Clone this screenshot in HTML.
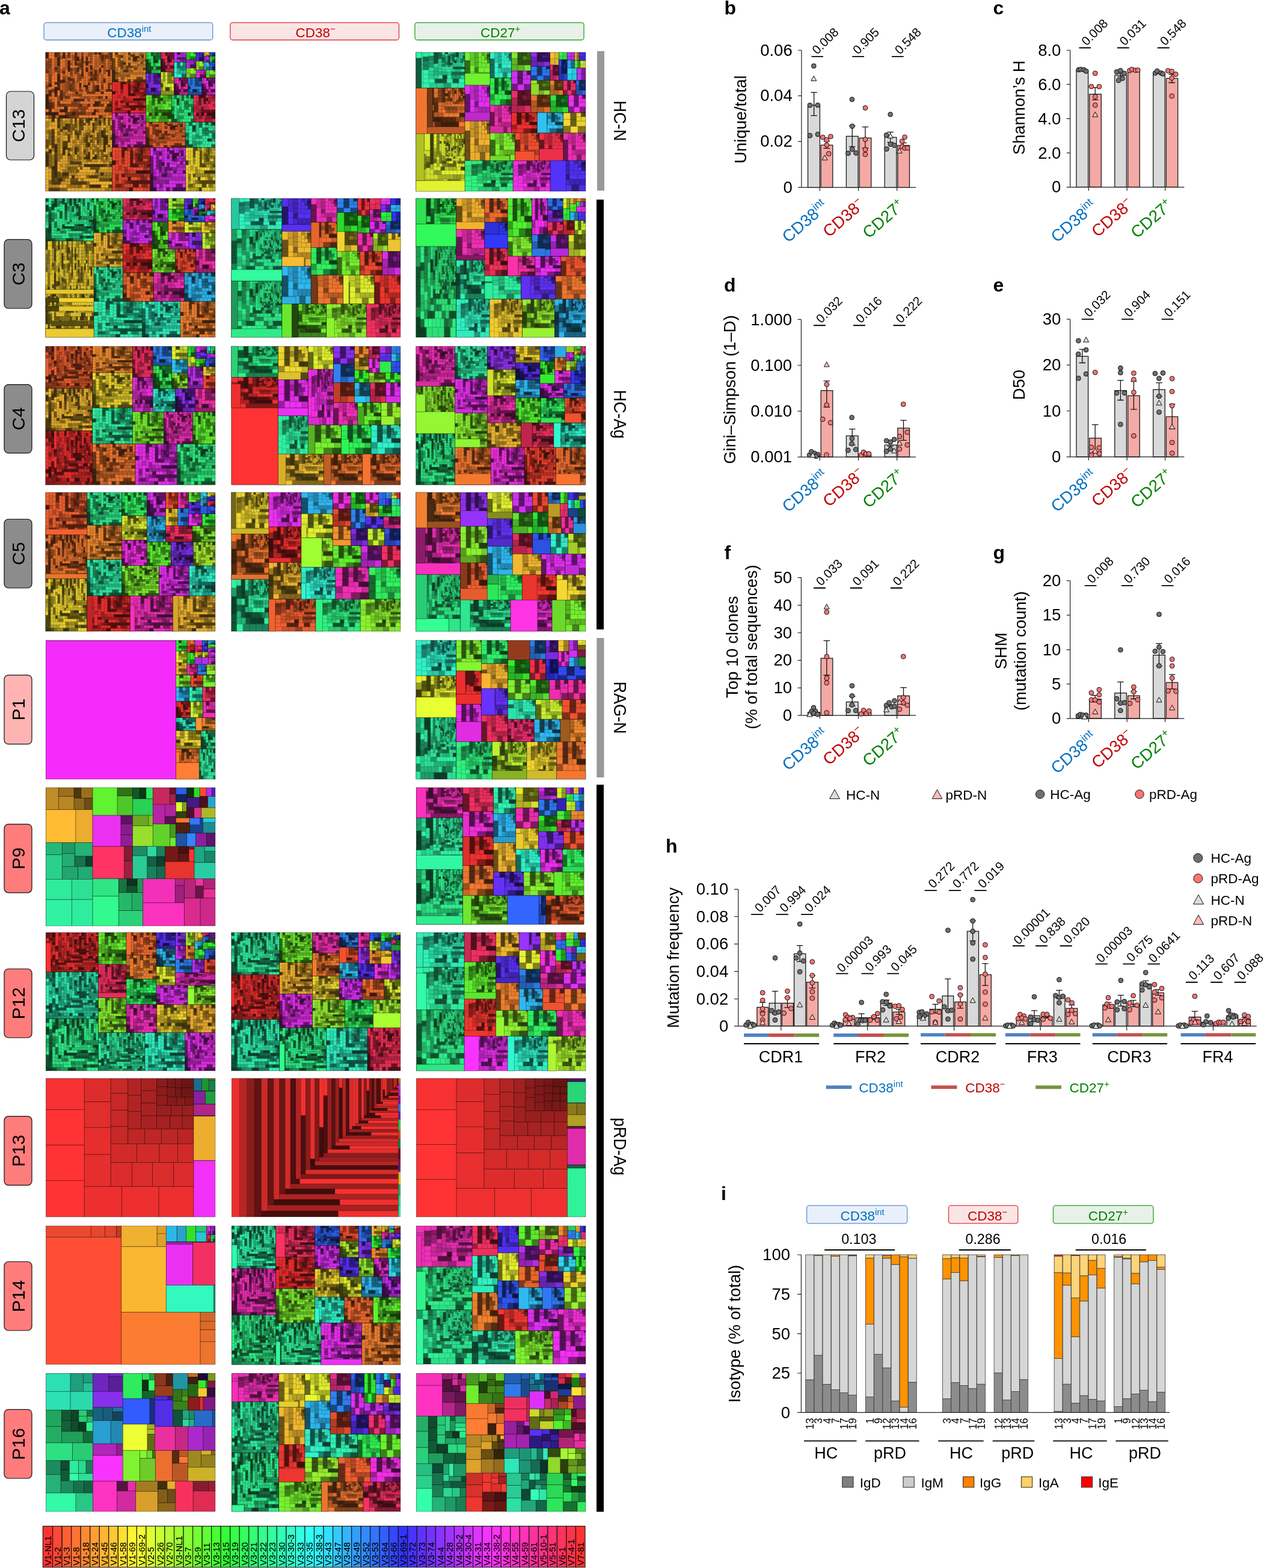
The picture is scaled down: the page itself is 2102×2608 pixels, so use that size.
<!DOCTYPE html>
<html><head><meta charset="utf-8"><title>Figure</title>
<style>
html,body{margin:0;padding:0;background:#fff}
svg{display:block}
text{font-family:'Liberation Sans',sans-serif}
.dg{fill:#6f6f6f;stroke:#111;stroke-width:1}
.dp{fill:#fa7575;stroke:#111;stroke-width:1}
.tg{fill:#dcdcdc;stroke:#111;stroke-width:1}
.tp{fill:#fbb;stroke:#111;stroke-width:1}
.bg{fill:#d9d9d9;stroke:#1a1a1a;stroke-width:1.3}
.bp{fill:#f4a9a4;stroke:#1a1a1a;stroke-width:1.3}
.ax{stroke:#222;stroke-width:1.2;fill:none}
.eb{stroke:#111;stroke-width:1.3;fill:none}
.pb{stroke:#000;stroke-width:1.9;fill:none}
.tk{font-size:27.5px}
.tt{font-size:27.5px}
.pv{font-size:20.8px}
.xl{font-size:27.5px}
.lg{font-size:22.5px}
.lg2{font-size:22.5px}
.gl{font-size:27px}
.ib{stroke:#3a3a3a;stroke-width:0.8}
.il{font-size:18.2px}
.tl{fill:#000;stroke:#000;stroke-opacity:.2}
.tn{fill:none;stroke:#000;stroke-opacity:.2}
.tm2 rect{stroke:#000;stroke-opacity:0.3;stroke-width:0.4}
.tm rect{stroke:#000;stroke-opacity:0.45;stroke-width:0.7}
.rl{font-size:30px}
.sl{font-size:29px}
.vl{font-size:14.6px;stroke:#000;stroke-width:.15px}
.hb{font-size:22.5px}
.ip{font-size:23.3px}
.pl{font-size:32px;font-weight:bold}
</style></head><body>
<svg xmlns="http://www.w3.org/2000/svg" width="2102" height="2608" viewBox="0 0 2102 2608">
<rect x="1343.5" y="174.9" width="19.9" height="136.7" class="bg"/>
<rect x="1365.2" y="241.4" width="19.6" height="70.2" class="bp"/>
<rect x="1407.4" y="226.6" width="19.6" height="85.1" class="bg"/>
<rect x="1429.1" y="229.5" width="19.6" height="82.1" class="bp"/>
<rect x="1471.2" y="228.4" width="19.6" height="83.2" class="bg"/>
<rect x="1492.9" y="241.9" width="19.6" height="69.7" class="bp"/>
<path d="M1332.9 83.5V311.6M1327.1 83.5H1332.9M1327.1 159.3H1332.9M1327.1 235.3H1332.9M1327.1 311.6H1332.9M1327.1 311.6H1523.1M1363.4 311.6V317.4M1427.5 311.6V317.4M1491.6 311.6V317.4" class="ax"/>
<path d="M1353.6 153.7V192.4M1348.3 153.7H1358.9M1348.3 192.4H1358.9M1374.8 234.8V246.7M1369.5 234.8H1380.1M1369.5 246.7H1380.1M1417.2 209.3V243.8M1411.9 209.3H1422.5M1411.9 243.8H1422.5M1438.9 211.2V246.4M1433.6 211.2H1444.2M1433.6 246.4H1444.2M1480.7 219.7V236.6M1475.4 219.7H1486M1475.4 236.6H1486M1502.5 237.7V245.6M1497.2 237.7H1507.8M1497.2 245.6H1507.8" class="eb"/>
<circle cx="1353.3" cy="109.7" r="3.9" class="dg"/>
<circle cx="1346.9" cy="175.1" r="3.9" class="dg"/>
<circle cx="1359.9" cy="174.9" r="3.9" class="dg"/>
<circle cx="1346.9" cy="225.5" r="3.9" class="dg"/>
<circle cx="1359.9" cy="223.4" r="3.9" class="dg"/>
<path d="M1353.3 126.1L1357.8 134.4H1348.8Z" class="tg"/>
<circle cx="1368.4" cy="228.4" r="3.9" class="dp"/>
<circle cx="1381.4" cy="227.1" r="3.9" class="dp"/>
<circle cx="1374.8" cy="232.6" r="3.9" class="dp"/>
<circle cx="1374.8" cy="241.1" r="3.9" class="dp"/>
<circle cx="1378.2" cy="255.7" r="3.9" class="dp"/>
<path d="M1371.6 257.8L1376.1 266.1H1367.1Z" class="tp"/>
<circle cx="1416.9" cy="165.3" r="3.9" class="dg"/>
<circle cx="1417.2" cy="209.9" r="3.9" class="dg"/>
<circle cx="1417.2" cy="248.3" r="3.9" class="dg"/>
<circle cx="1410.5" cy="254.9" r="3.9" class="dg"/>
<circle cx="1423.5" cy="254.4" r="3.9" class="dg"/>
<circle cx="1438.9" cy="179.4" r="3.9" class="dp"/>
<circle cx="1438.9" cy="231.9" r="3.9" class="dp"/>
<circle cx="1438.9" cy="248.8" r="3.9" class="dp"/>
<circle cx="1438.9" cy="256.8" r="3.9" class="dp"/>
<circle cx="1480.7" cy="190.3" r="3.9" class="dg"/>
<circle cx="1474.1" cy="224.7" r="3.9" class="dg"/>
<circle cx="1480.7" cy="239.8" r="3.9" class="dg"/>
<circle cx="1487.4" cy="241.7" r="3.9" class="dg"/>
<circle cx="1474.4" cy="247.8" r="3.9" class="dg"/>
<path d="M1480.7 221.5L1485.2 229.8H1476.3Z" class="tg"/>
<circle cx="1504.6" cy="228.1" r="3.9" class="dp"/>
<circle cx="1500.1" cy="235" r="3.9" class="dp"/>
<circle cx="1500.1" cy="243.8" r="3.9" class="dp"/>
<circle cx="1504.6" cy="246.4" r="3.9" class="dp"/>
<circle cx="1509.1" cy="246.2" r="3.9" class="dp"/>
<path d="M1495.9 246.4L1500.3 254.7H1491.4Z" class="tp"/>
<text class="tk" x="1317.7" y="92.6" text-anchor="end">0.06</text>
<text class="tk" x="1317.7" y="168.4" text-anchor="end">0.04</text>
<text class="tk" x="1317.7" y="244.4" text-anchor="end">0.02</text>
<text class="tk" x="1317.7" y="320.7" text-anchor="end">0</text>
<path d="M1349.6 94.1H1368.9M1417.2 94.1H1437M1482.9 94.1H1502.7" class="pb"/>
<text class="pv" transform="translate(1359.1 91.6) rotate(-45)">0.008</text>
<text class="pv" transform="translate(1426.7 91.6) rotate(-45)">0.905</text>
<text class="pv" transform="translate(1496.4 91.6) rotate(-45)">0.548</text>
<text class="xl" transform="translate(1378.2 346.1) rotate(-41)" text-anchor="end" fill="#0070c0">CD38<tspan dy="-0.58em" font-size="66%">int</tspan></text>
<text class="xl" transform="translate(1439.5 342.6) rotate(-41)" text-anchor="end" fill="#c00000">CD38<tspan dy="-0.58em" font-size="66%">−</tspan></text>
<text class="xl" transform="translate(1505.6 344.6) rotate(-41)" text-anchor="end" fill="#008000">CD27<tspan dy="-0.58em" font-size="66%">+</tspan></text>
<text class="tt" transform="translate(1240.9 198.7) rotate(-90)" text-anchor="middle">Unique/total</text>
<text class="pl" x="1204.6" y="23.8">b</text>
<rect x="1790" y="116.6" width="19.6" height="194.8" class="bg"/>
<rect x="1811.7" y="156.6" width="19.6" height="154.7" class="bp"/>
<rect x="1853.8" y="125.1" width="19.6" height="186.3" class="bg"/>
<rect x="1875.6" y="116.6" width="19.6" height="194.8" class="bp"/>
<rect x="1917.7" y="122.4" width="19.6" height="188.9" class="bg"/>
<rect x="1939.4" y="130.4" width="19.3" height="181" class="bp"/>
<path d="M1779.6 83.5V311.3M1773.8 83.5H1779.6M1773.8 140.4H1779.6M1773.8 197.4H1779.6M1773.8 254.4H1779.6M1773.8 311.3H1779.6M1773.8 311.3H1969.4M1810.4 311.3V317.2M1874.2 311.3V317.2M1937.6 311.3V317.2" class="ax"/>
<path d="M1821.2 145.7V166.1M1815.9 145.7H1826.5M1815.9 166.1H1826.5M1863.4 122.4V127.7M1858.1 122.4H1868.7M1858.1 127.7H1868.7M1948.7 123.5V137.5M1943.4 123.5H1954M1943.4 137.5H1954" class="eb"/>
<circle cx="1793.7" cy="116.1" r="3.9" class="dg"/>
<circle cx="1796.9" cy="115.5" r="3.9" class="dg"/>
<circle cx="1802.4" cy="116.1" r="3.9" class="dg"/>
<circle cx="1806.1" cy="118.4" r="3.9" class="dg"/>
<circle cx="1821.2" cy="121.9" r="3.9" class="dp"/>
<circle cx="1814.9" cy="143.9" r="3.9" class="dp"/>
<circle cx="1827.9" cy="144.1" r="3.9" class="dp"/>
<circle cx="1821.2" cy="160.8" r="3.9" class="dp"/>
<circle cx="1821.2" cy="174.9" r="3.9" class="dp"/>
<path d="M1821.2 186L1825.7 194.3H1816.8Z" class="tp"/>
<circle cx="1857" cy="119.5" r="3.9" class="dg"/>
<circle cx="1863.4" cy="117.4" r="3.9" class="dg"/>
<circle cx="1869.7" cy="121.9" r="3.9" class="dg"/>
<circle cx="1866.6" cy="130.4" r="3.9" class="dg"/>
<circle cx="1860.2" cy="133.8" r="3.9" class="dg"/>
<circle cx="1878.5" cy="117.4" r="3.9" class="dp"/>
<circle cx="1882.5" cy="115.5" r="3.9" class="dp"/>
<circle cx="1888.3" cy="116.9" r="3.9" class="dp"/>
<circle cx="1892.3" cy="116.6" r="3.9" class="dp"/>
<circle cx="1921.1" cy="121.6" r="3.9" class="dg"/>
<circle cx="1924.3" cy="118.2" r="3.9" class="dg"/>
<circle cx="1930.7" cy="121.4" r="3.9" class="dg"/>
<circle cx="1933.9" cy="122.9" r="3.9" class="dg"/>
<circle cx="1942.3" cy="117.6" r="3.9" class="dp"/>
<circle cx="1948.7" cy="118.7" r="3.9" class="dp"/>
<circle cx="1955.3" cy="123.5" r="3.9" class="dp"/>
<circle cx="1948.7" cy="129.8" r="3.9" class="dp"/>
<circle cx="1948.7" cy="159.8" r="3.9" class="dp"/>
<text class="tk" x="1764.4" y="92.6" text-anchor="end">8.0</text>
<text class="tk" x="1764.4" y="149.5" text-anchor="end">6.0</text>
<text class="tk" x="1764.4" y="206.5" text-anchor="end">4.0</text>
<text class="tk" x="1764.4" y="263.5" text-anchor="end">2.0</text>
<text class="tk" x="1764.4" y="320.4" text-anchor="end">0</text>
<path d="M1794.5 79.5H1814.1M1857.8 79.5H1877.7M1924.9 79.5H1944.7" class="pb"/>
<text class="pv" transform="translate(1807 77) rotate(-45)">0.008</text>
<text class="pv" transform="translate(1870.3 77) rotate(-45)">0.031</text>
<text class="pv" transform="translate(1937.4 77) rotate(-45)">0.548</text>
<text class="xl" transform="translate(1825.2 345.8) rotate(-41)" text-anchor="end" fill="#0070c0">CD38<tspan dy="-0.58em" font-size="66%">int</tspan></text>
<text class="xl" transform="translate(1886.2 342.3) rotate(-41)" text-anchor="end" fill="#c00000">CD38<tspan dy="-0.58em" font-size="66%">−</tspan></text>
<text class="xl" transform="translate(1951.6 344.3) rotate(-41)" text-anchor="end" fill="#008000">CD27<tspan dy="-0.58em" font-size="66%">+</tspan></text>
<text class="tt" transform="translate(1703.6 178.9) rotate(-90)" text-anchor="middle">Shannon’s H</text>
<text class="pl" x="1651.4" y="23.8">c</text>
<rect x="1343.5" y="758" width="19.9" height="2.1" class="bg"/>
<rect x="1365.2" y="649.6" width="19.6" height="110.5" class="bp"/>
<rect x="1407.4" y="724.9" width="19.6" height="35.2" class="bg"/>
<rect x="1429.1" y="757.2" width="19.6" height="2.9" class="bp"/>
<rect x="1471.2" y="740.2" width="19.6" height="19.9" class="bg"/>
<rect x="1492.9" y="712.1" width="19.6" height="48" class="bp"/>
<path d="M1332.4 531.4V760.1M1326.5 531.4H1332.4M1326.5 607.5H1332.4M1326.5 683.8H1332.4M1326.5 760.1H1332.4M1326.5 760.1H1523.1M1363.4 760.1V765.9M1427.5 760.1V765.9M1491.6 760.1V765.9" class="ax"/>
<path d="M1374.8 633.7V677.2M1369.5 633.7H1380.1M1369.5 677.2H1380.1M1417.2 713.7V740.2M1411.9 713.7H1422.5M1411.9 740.2H1422.5M1480.7 742.1V747.4M1475.4 742.1H1486M1475.4 747.4H1486M1502.5 699.1V732.3M1497.2 699.1H1507.8M1497.2 732.3H1507.8" class="eb"/>
<circle cx="1346.1" cy="756.9" r="3.9" class="dg"/>
<circle cx="1349.3" cy="751.3" r="3.9" class="dg"/>
<circle cx="1354.6" cy="754" r="3.9" class="dg"/>
<circle cx="1359.9" cy="755.9" r="3.9" class="dg"/>
<circle cx="1357" cy="758.8" r="3.9" class="dg"/>
<path d="M1351.7 752.4L1356.2 760.7H1347.2Z" class="tg"/>
<path d="M1374.8 601.7L1379.2 610H1370.3Z" class="tp"/>
<circle cx="1374.8" cy="639.3" r="3.9" class="dp"/>
<circle cx="1374.8" cy="673.4" r="3.9" class="dp"/>
<circle cx="1368.1" cy="697.3" r="3.9" class="dp"/>
<circle cx="1381.1" cy="703.1" r="3.9" class="dp"/>
<circle cx="1374.5" cy="756.6" r="3.9" class="dp"/>
<circle cx="1416.6" cy="694.4" r="3.9" class="dg"/>
<circle cx="1416.9" cy="729.4" r="3.9" class="dg"/>
<circle cx="1416.6" cy="738.1" r="3.9" class="dg"/>
<circle cx="1410.3" cy="749" r="3.9" class="dg"/>
<circle cx="1423.2" cy="747.6" r="3.9" class="dg"/>
<circle cx="1432" cy="756.9" r="3.9" class="dp"/>
<circle cx="1436" cy="752.1" r="3.9" class="dp"/>
<circle cx="1440.2" cy="754.8" r="3.9" class="dp"/>
<circle cx="1445" cy="754.8" r="3.9" class="dp"/>
<circle cx="1474.1" cy="733.1" r="3.9" class="dg"/>
<circle cx="1480.7" cy="735.2" r="3.9" class="dg"/>
<circle cx="1487.1" cy="730.9" r="3.9" class="dg"/>
<circle cx="1480.7" cy="747.1" r="3.9" class="dg"/>
<circle cx="1474.1" cy="750.6" r="3.9" class="dg"/>
<path d="M1487.1 745L1491.6 753.3H1482.6Z" class="tg"/>
<circle cx="1502.2" cy="672.4" r="3.9" class="dp"/>
<circle cx="1508.8" cy="719" r="3.9" class="dp"/>
<circle cx="1495.9" cy="725.9" r="3.9" class="dp"/>
<circle cx="1508.8" cy="740" r="3.9" class="dp"/>
<circle cx="1495.9" cy="746.8" r="3.9" class="dp"/>
<path d="M1495.9 732.3L1500.3 740.6H1491.4Z" class="tp"/>
<text class="tk" x="1317.1" y="540.5" text-anchor="end">1.000</text>
<text class="tk" x="1317.1" y="616.6" text-anchor="end">0.100</text>
<text class="tk" x="1317.1" y="692.9" text-anchor="end">0.010</text>
<text class="tk" x="1317.1" y="769.2" text-anchor="end">0.001</text>
<path d="M1353 541.2H1372.9M1419 541.2H1438.9M1485.5 541.2H1505.7" class="pb"/>
<text class="pv" transform="translate(1365.5 538.7) rotate(-45)">0.032</text>
<text class="pv" transform="translate(1431.5 538.7) rotate(-45)">0.016</text>
<text class="pv" transform="translate(1498 538.7) rotate(-45)">0.222</text>
<text class="xl" transform="translate(1378.2 794.6) rotate(-41)" text-anchor="end" fill="#0070c0">CD38<tspan dy="-0.58em" font-size="66%">int</tspan></text>
<text class="xl" transform="translate(1439.5 791.1) rotate(-41)" text-anchor="end" fill="#c00000">CD38<tspan dy="-0.58em" font-size="66%">−</tspan></text>
<text class="xl" transform="translate(1505.6 793.1) rotate(-41)" text-anchor="end" fill="#008000">CD27<tspan dy="-0.58em" font-size="66%">+</tspan></text>
<text class="tt" transform="translate(1223.2 648) rotate(-90)" text-anchor="middle">Gini–Simpson (1–D)</text>
<text class="pl" x="1204.1" y="485">d</text>
<rect x="1790" y="592.6" width="19.6" height="167.2" class="bg"/>
<rect x="1811.7" y="728.8" width="19.6" height="31" class="bp"/>
<rect x="1853.8" y="649.6" width="19.6" height="110.2" class="bg"/>
<rect x="1875.6" y="658.1" width="19.6" height="101.8" class="bp"/>
<rect x="1917.7" y="648" width="19.6" height="111.8" class="bg"/>
<rect x="1939.4" y="693.1" width="19.3" height="66.8" class="bp"/>
<path d="M1779.6 530.9V759.8M1773.8 530.9H1779.6M1773.8 607.2H1779.6M1773.8 683.5H1779.6M1773.8 759.8H1779.6M1773.8 759.8H1969.4M1810.4 759.8V765.7M1874.2 759.8V765.7M1937.6 759.8V765.7" class="ax"/>
<path d="M1799.8 581.2V603.5M1794.5 581.2H1805.1M1794.5 603.5H1805.1M1821.2 706.3V751.3M1815.9 706.3H1826.5M1815.9 751.3H1826.5M1863.4 632.6V665.5M1858.1 632.6H1868.7M1858.1 665.5H1868.7M1885.4 634.2V680.9M1880.1 634.2H1890.7M1880.1 680.9H1890.7M1927.5 636.6V659.4M1922.2 636.6H1932.8M1922.2 659.4H1932.8M1949.2 672.4V712.9M1943.9 672.4H1954.5M1943.9 712.9H1954.5" class="eb"/>
<circle cx="1793.4" cy="566.7" r="3.9" class="dg"/>
<path d="M1806.1 560.6L1810.6 568.9H1801.7Z" class="tg"/>
<circle cx="1806.1" cy="582" r="3.9" class="dg"/>
<circle cx="1793.2" cy="588.9" r="3.9" class="dg"/>
<circle cx="1806.1" cy="622" r="3.9" class="dg"/>
<circle cx="1793.4" cy="629.2" r="3.9" class="dg"/>
<circle cx="1821.2" cy="619.4" r="3.9" class="dp"/>
<circle cx="1814.9" cy="743.9" r="3.9" class="dp"/>
<circle cx="1827.9" cy="744.7" r="3.9" class="dp"/>
<circle cx="1827.9" cy="754.5" r="3.9" class="dp"/>
<circle cx="1814.9" cy="756.9" r="3.9" class="dp"/>
<path d="M1821.2 745.5L1825.7 753.8H1816.8Z" class="tp"/>
<circle cx="1863.4" cy="612.2" r="3.9" class="dg"/>
<circle cx="1863.4" cy="619.9" r="3.9" class="dg"/>
<circle cx="1857" cy="653.6" r="3.9" class="dg"/>
<circle cx="1870" cy="653.6" r="3.9" class="dg"/>
<circle cx="1863.4" cy="705.8" r="3.9" class="dg"/>
<circle cx="1885.4" cy="620.7" r="3.9" class="dp"/>
<circle cx="1885.4" cy="631.3" r="3.9" class="dp"/>
<circle cx="1885.4" cy="652.5" r="3.9" class="dp"/>
<circle cx="1885.4" cy="724.9" r="3.9" class="dp"/>
<circle cx="1920.9" cy="621.2" r="3.9" class="dg"/>
<circle cx="1933.9" cy="620.4" r="3.9" class="dg"/>
<circle cx="1927.5" cy="629.5" r="3.9" class="dg"/>
<circle cx="1927.5" cy="659.1" r="3.9" class="dg"/>
<circle cx="1927.5" cy="685.6" r="3.9" class="dg"/>
<path d="M1927.5 665.5L1932 673.8H1923Z" class="tg"/>
<circle cx="1949.2" cy="629.7" r="3.9" class="dp"/>
<circle cx="1949.2" cy="651.2" r="3.9" class="dp"/>
<circle cx="1949.2" cy="674.8" r="3.9" class="dp"/>
<path d="M1949.2 705.3L1953.7 713.6H1944.7Z" class="tp"/>
<circle cx="1949.2" cy="736" r="3.9" class="dp"/>
<circle cx="1949.2" cy="753.7" r="3.9" class="dp"/>
<text class="tk" x="1764.4" y="540" text-anchor="end">30</text>
<text class="tk" x="1764.4" y="616.3" text-anchor="end">20</text>
<text class="tk" x="1764.4" y="692.6" text-anchor="end">10</text>
<text class="tk" x="1764.4" y="768.9" text-anchor="end">0</text>
<path d="M1798.7 530.9H1818.9M1865.2 530.9H1885.1M1931.7 530.9H1951.6" class="pb"/>
<text class="pv" transform="translate(1811.2 528.4) rotate(-45)">0.032</text>
<text class="pv" transform="translate(1877.7 528.4) rotate(-45)">0.904</text>
<text class="pv" transform="translate(1944.2 528.4) rotate(-45)">0.151</text>
<text class="xl" transform="translate(1825.2 794.3) rotate(-41)" text-anchor="end" fill="#0070c0">CD38<tspan dy="-0.58em" font-size="66%">int</tspan></text>
<text class="xl" transform="translate(1886.2 790.8) rotate(-41)" text-anchor="end" fill="#c00000">CD38<tspan dy="-0.58em" font-size="66%">−</tspan></text>
<text class="xl" transform="translate(1951.6 792.8) rotate(-41)" text-anchor="end" fill="#008000">CD27<tspan dy="-0.58em" font-size="66%">+</tspan></text>
<text class="tt" transform="translate(1703.6 640.1) rotate(-90)" text-anchor="middle">D50</text>
<text class="pl" x="1651.4" y="485">e</text>
<rect x="1343.5" y="1184.7" width="19.9" height="5" class="bg"/>
<rect x="1365.2" y="1094.9" width="19.6" height="94.9" class="bp"/>
<rect x="1407.4" y="1167.5" width="19.6" height="22.3" class="bg"/>
<rect x="1429.1" y="1184.7" width="19.6" height="5" class="bp"/>
<rect x="1471.2" y="1173.6" width="19.6" height="16.2" class="bg"/>
<rect x="1492.9" y="1157.4" width="19.6" height="32.3" class="bp"/>
<path d="M1332.4 960.6V1189.8M1326.5 960.6H1332.4M1326.5 1006.7H1332.4M1326.5 1052.5H1332.4M1326.5 1098.3H1332.4M1326.5 1144.2H1332.4M1326.5 1189.8H1332.4M1326.5 1189.8H1523.1M1363.4 1189.8V1195.6M1427.5 1189.8V1195.6M1491.6 1189.8V1195.6" class="ax"/>
<path d="M1374.8 1065.7V1123M1369.5 1065.7H1380.1M1369.5 1123H1380.1M1417.2 1158.2V1174.1M1411.9 1158.2H1422.5M1411.9 1174.1H1422.5M1502.5 1143.7V1171.5M1497.2 1143.7H1507.8M1497.2 1171.5H1507.8" class="eb"/>
<circle cx="1353" cy="1177" r="3.9" class="dg"/>
<circle cx="1349.6" cy="1183.1" r="3.9" class="dg"/>
<circle cx="1356.2" cy="1183.1" r="3.9" class="dg"/>
<circle cx="1353" cy="1186.3" r="3.9" class="dg"/>
<circle cx="1359.7" cy="1188.2" r="3.9" class="dg"/>
<path d="M1346.4 1183.7L1350.9 1192H1341.9Z" class="tg"/>
<path d="M1374.8 1004.6L1379.2 1012.9H1370.3Z" class="tp"/>
<circle cx="1374.8" cy="1018.1" r="3.9" class="dp"/>
<circle cx="1374.8" cy="1092" r="3.9" class="dp"/>
<circle cx="1374.8" cy="1128" r="3.9" class="dp"/>
<circle cx="1374.8" cy="1135.7" r="3.9" class="dp"/>
<circle cx="1374.8" cy="1185.5" r="3.9" class="dp"/>
<circle cx="1416.9" cy="1140.7" r="3.9" class="dg"/>
<circle cx="1416.9" cy="1157.4" r="3.9" class="dg"/>
<circle cx="1416.9" cy="1172.5" r="3.9" class="dg"/>
<circle cx="1410.5" cy="1182.1" r="3.9" class="dg"/>
<circle cx="1423.2" cy="1181.8" r="3.9" class="dg"/>
<circle cx="1432" cy="1187.4" r="3.9" class="dp"/>
<circle cx="1436.2" cy="1181.5" r="3.9" class="dp"/>
<circle cx="1440.7" cy="1186.6" r="3.9" class="dp"/>
<circle cx="1445.2" cy="1182.6" r="3.9" class="dp"/>
<circle cx="1474.1" cy="1173.1" r="3.9" class="dg"/>
<circle cx="1478.6" cy="1168.8" r="3.9" class="dg"/>
<circle cx="1487.4" cy="1165.6" r="3.9" class="dg"/>
<circle cx="1482.9" cy="1175.7" r="3.9" class="dg"/>
<circle cx="1487.4" cy="1174.7" r="3.9" class="dg"/>
<path d="M1474.1 1175.7L1478.6 1184H1469.6Z" class="tg"/>
<circle cx="1502.2" cy="1092" r="3.9" class="dp"/>
<circle cx="1502.2" cy="1160.1" r="3.9" class="dp"/>
<circle cx="1502.2" cy="1169.1" r="3.9" class="dp"/>
<circle cx="1508.8" cy="1172.8" r="3.9" class="dp"/>
<circle cx="1495.9" cy="1179.7" r="3.9" class="dp"/>
<path d="M1495.9 1163L1500.3 1171.3H1491.4Z" class="tp"/>
<text class="tk" x="1317.1" y="969.7" text-anchor="end">50</text>
<text class="tk" x="1317.1" y="1015.8" text-anchor="end">40</text>
<text class="tk" x="1317.1" y="1061.6" text-anchor="end">30</text>
<text class="tk" x="1317.1" y="1107.4" text-anchor="end">20</text>
<text class="tk" x="1317.1" y="1153.3" text-anchor="end">10</text>
<text class="tk" x="1317.1" y="1198.9" text-anchor="end">0</text>
<path d="M1353 978H1372.9M1413.7 978H1433.8M1480.7 978H1500.6" class="pb"/>
<text class="pv" transform="translate(1365.5 975.5) rotate(-45)">0.033</text>
<text class="pv" transform="translate(1426.2 975.5) rotate(-45)">0.091</text>
<text class="pv" transform="translate(1493.2 975.5) rotate(-45)">0.222</text>
<text class="xl" transform="translate(1378.2 1224.3) rotate(-41)" text-anchor="end" fill="#0070c0">CD38<tspan dy="-0.58em" font-size="66%">int</tspan></text>
<text class="xl" transform="translate(1439.5 1220.8) rotate(-41)" text-anchor="end" fill="#c00000">CD38<tspan dy="-0.58em" font-size="66%">−</tspan></text>
<text class="xl" transform="translate(1505.6 1222.8) rotate(-41)" text-anchor="end" fill="#008000">CD27<tspan dy="-0.58em" font-size="66%">+</tspan></text>
<text class="tt" transform="translate(1227.2 1076.1) rotate(-90)" text-anchor="middle">Top 10 clones</text>
<text class="tt" transform="translate(1259 1076.1) rotate(-90)" text-anchor="middle">(% of total sequences)</text>
<text class="pl" x="1204.6" y="929.8">f</text>
<rect x="1790" y="1192.7" width="19.6" height="2.4" class="bg"/>
<rect x="1811.7" y="1162.7" width="19.6" height="32.3" class="bp"/>
<rect x="1853.8" y="1152.7" width="19.6" height="42.4" class="bg"/>
<rect x="1875.6" y="1157.2" width="19.6" height="37.9" class="bp"/>
<rect x="1917.7" y="1089.6" width="19.6" height="105.5" class="bg"/>
<rect x="1939.4" y="1135.2" width="19.3" height="59.9" class="bp"/>
<path d="M1779.6 965.9V1195.1M1773.8 965.9H1779.6M1773.8 1023.1H1779.6M1773.8 1080.6H1779.6M1773.8 1137.6H1779.6M1773.8 1195.1H1779.6M1773.8 1195.1H1969.4M1810.4 1195.1V1200.9M1874.2 1195.1V1200.9M1937.6 1195.1V1200.9" class="ax"/>
<path d="M1821.2 1156.6V1167.5M1815.9 1156.6H1826.5M1815.9 1167.5H1826.5M1863.4 1134.4V1170.1M1858.1 1134.4H1868.7M1858.1 1170.1H1868.7M1885.4 1150.3V1162.5M1880.1 1150.3H1890.7M1880.1 1162.5H1890.7M1927.5 1070.3V1107.9M1922.2 1070.3H1932.8M1922.2 1107.9H1932.8M1949.2 1121.9V1145.8M1943.9 1121.9H1954.5M1943.9 1145.8H1954.5" class="eb"/>
<circle cx="1792.9" cy="1190.6" r="3.9" class="dg"/>
<circle cx="1796.3" cy="1188.4" r="3.9" class="dg"/>
<circle cx="1800.6" cy="1189.5" r="3.9" class="dg"/>
<circle cx="1806.1" cy="1189.5" r="3.9" class="dg"/>
<path d="M1803.5 1187.7L1808 1196H1799Z" class="tg"/>
<circle cx="1814.9" cy="1152.4" r="3.9" class="dp"/>
<circle cx="1827.9" cy="1147.1" r="3.9" class="dp"/>
<circle cx="1827.9" cy="1155.8" r="3.9" class="dp"/>
<circle cx="1814.9" cy="1164.1" r="3.9" class="dp"/>
<circle cx="1821.2" cy="1164.1" r="3.9" class="dp"/>
<circle cx="1827.9" cy="1167.5" r="3.9" class="dp"/>
<path d="M1821.2 1179.2L1825.7 1187.5H1816.8Z" class="tp"/>
<circle cx="1863.4" cy="1080.9" r="3.9" class="dg"/>
<circle cx="1857" cy="1162.2" r="3.9" class="dg"/>
<circle cx="1863.4" cy="1169.4" r="3.9" class="dg"/>
<circle cx="1870" cy="1168.6" r="3.9" class="dg"/>
<circle cx="1863.4" cy="1181.8" r="3.9" class="dg"/>
<circle cx="1885.4" cy="1142.6" r="3.9" class="dp"/>
<circle cx="1885.4" cy="1150.5" r="3.9" class="dp"/>
<circle cx="1892" cy="1163.8" r="3.9" class="dp"/>
<circle cx="1879" cy="1169.9" r="3.9" class="dp"/>
<circle cx="1927.5" cy="1021.8" r="3.9" class="dg"/>
<circle cx="1927.5" cy="1076.3" r="3.9" class="dg"/>
<circle cx="1920.9" cy="1083.2" r="3.9" class="dg"/>
<circle cx="1933.9" cy="1083.8" r="3.9" class="dg"/>
<circle cx="1927.5" cy="1107.4" r="3.9" class="dg"/>
<path d="M1927.5 1159.6L1932 1167.9H1923Z" class="tg"/>
<circle cx="1949.2" cy="1096.5" r="3.9" class="dp"/>
<circle cx="1949.2" cy="1107.6" r="3.9" class="dp"/>
<circle cx="1949.2" cy="1127.8" r="3.9" class="dp"/>
<circle cx="1942.6" cy="1149.2" r="3.9" class="dp"/>
<circle cx="1955.6" cy="1149.7" r="3.9" class="dp"/>
<path d="M1949.2 1172.6L1953.7 1180.9H1944.7Z" class="tp"/>
<text class="tk" x="1764.4" y="975" text-anchor="end">20</text>
<text class="tk" x="1764.4" y="1032.2" text-anchor="end">15</text>
<text class="tk" x="1764.4" y="1089.7" text-anchor="end">10</text>
<text class="tk" x="1764.4" y="1146.7" text-anchor="end">5</text>
<text class="tk" x="1764.4" y="1204.2" text-anchor="end">0</text>
<path d="M1803.8 974.1H1823.4M1864.7 974.1H1884.3M1931.7 974.1H1951.6" class="pb"/>
<text class="pv" transform="translate(1816.3 971.6) rotate(-45)">0.008</text>
<text class="pv" transform="translate(1877.2 971.6) rotate(-45)">0.730</text>
<text class="pv" transform="translate(1944.2 971.6) rotate(-45)">0.016</text>
<text class="xl" transform="translate(1825.2 1229.6) rotate(-41)" text-anchor="end" fill="#0070c0">CD38<tspan dy="-0.58em" font-size="66%">int</tspan></text>
<text class="xl" transform="translate(1886.2 1226.1) rotate(-41)" text-anchor="end" fill="#c00000">CD38<tspan dy="-0.58em" font-size="66%">−</tspan></text>
<text class="xl" transform="translate(1951.6 1228.1) rotate(-41)" text-anchor="end" fill="#008000">CD27<tspan dy="-0.58em" font-size="66%">+</tspan></text>
<text class="tt" transform="translate(1673.9 1082.7) rotate(-90)" text-anchor="middle">SHM</text>
<text class="tt" transform="translate(1705.7 1082.7) rotate(-90)" text-anchor="middle">(mutation count)</text>
<text class="pl" x="1651.4" y="930.3">g</text>
<path d="M1388 1313.2L1396.3 1328.5H1379.7Z" class="tg"/>
<text class="lg" x="1407" y="1329.5">HC-N</text>
<path d="M1558.5 1313.2L1566.8 1328.5H1550.2Z" class="tp"/>
<text class="lg" x="1572.4" y="1329.5">pRD-N</text>
<circle cx="1729.6" cy="1321" r="7.2" class="dg"/>
<text class="lg" x="1746.3" y="1329">HC-Ag</text>
<circle cx="1895" cy="1321" r="7.2" class="dp"/>
<text class="lg" x="1911" y="1329">pRD-Ag</text>
<path d="M1227.7 1479.1V1706.6M1221 1479.1H1227.7M1221 1524.5H1227.7M1221 1570.2H1227.7M1221 1615.8H1227.7M1221 1661.5H1227.7M1221 1706.6H2089.7" class="ax"/>
<text class="tk" x="1211.2" y="1488.2" text-anchor="end">0.10</text>
<text class="tk" x="1211.2" y="1533.6" text-anchor="end">0.08</text>
<text class="tk" x="1211.2" y="1579.3" text-anchor="end">0.06</text>
<text class="tk" x="1211.2" y="1624.9" text-anchor="end">0.04</text>
<text class="tk" x="1211.2" y="1670.6" text-anchor="end">0.02</text>
<text class="tk" x="1211.2" y="1715.7" text-anchor="end">0</text>
<text class="tt" transform="translate(1129 1593) rotate(-90)" text-anchor="middle">Mutation frequency</text>
<text class="pl" x="1107" y="1418">h</text>
<rect x="1237.3" y="1705.1" width="19.9" height="1.4" class="bg"/>
<rect x="1258.9" y="1675.4" width="18.7" height="31.1" class="bp"/>
<rect x="1279.3" y="1668.5" width="19.4" height="38" class="bg"/>
<rect x="1300.4" y="1668.5" width="19" height="38" class="bp"/>
<rect x="1320.6" y="1586.4" width="19.2" height="120.1" class="bg"/>
<rect x="1341.5" y="1633.6" width="19" height="72.9" class="bp"/>
<path d="M1268.2 1667.3V1683.2M1263 1667.3H1273.4M1263 1683.2H1273.4M1289 1648.6V1686.6M1283.8 1648.6H1294.1M1283.8 1686.6H1294.1M1309.5 1659.3V1675.9M1304.3 1659.3H1314.7M1304.3 1675.9H1314.7M1330.1 1572.6V1599.4M1324.9 1572.6H1335.3M1324.9 1599.4H1335.3M1350.8 1622.7V1643.4M1345.6 1622.7H1356M1345.6 1643.4H1356" class="eb"/>
<circle cx="1240.7" cy="1704.8" r="3.9" class="dg"/>
<circle cx="1244.2" cy="1700.5" r="3.9" class="dg"/>
<circle cx="1247.6" cy="1703.9" r="3.9" class="dg"/>
<circle cx="1251.1" cy="1703.6" r="3.9" class="dg"/>
<circle cx="1254" cy="1705.1" r="3.9" class="dg"/>
<path d="M1247.6 1702L1252.1 1710.3H1243.2Z" class="tg"/>
<circle cx="1268.2" cy="1651.2" r="3.9" class="dp"/>
<circle cx="1268.2" cy="1663.7" r="3.9" class="dp"/>
<circle cx="1268.2" cy="1678" r="3.9" class="dp"/>
<circle cx="1268.2" cy="1686.3" r="3.9" class="dp"/>
<circle cx="1268.2" cy="1696.5" r="3.9" class="dp"/>
<path d="M1268.2 1696L1272.7 1704.3H1263.7Z" class="tp"/>
<circle cx="1289" cy="1593.3" r="3.9" class="dg"/>
<circle cx="1283.1" cy="1680.9" r="3.9" class="dg"/>
<circle cx="1288.8" cy="1684.9" r="3.9" class="dg"/>
<circle cx="1294.8" cy="1683.2" r="3.9" class="dg"/>
<circle cx="1289" cy="1696.5" r="3.9" class="dg"/>
<circle cx="1309.5" cy="1648.6" r="3.9" class="dp"/>
<circle cx="1309.5" cy="1659.5" r="3.9" class="dp"/>
<circle cx="1315.6" cy="1677.5" r="3.9" class="dp"/>
<circle cx="1303.8" cy="1685.1" r="3.9" class="dp"/>
<circle cx="1330.1" cy="1537" r="3.9" class="dg"/>
<circle cx="1330.1" cy="1585.2" r="3.9" class="dg"/>
<circle cx="1324" cy="1593.3" r="3.9" class="dg"/>
<circle cx="1336.1" cy="1598.3" r="3.9" class="dg"/>
<circle cx="1330.1" cy="1616.3" r="3.9" class="dg"/>
<path d="M1330.1 1666.6L1334.6 1674.9H1325.6Z" class="tg"/>
<circle cx="1350.8" cy="1599.7" r="3.9" class="dp"/>
<circle cx="1350.8" cy="1622.5" r="3.9" class="dp"/>
<circle cx="1350.8" cy="1634.8" r="3.9" class="dp"/>
<circle cx="1350.8" cy="1649.5" r="3.9" class="dp"/>
<circle cx="1350.8" cy="1660.2" r="3.9" class="dp"/>
<path d="M1350.8 1687.3L1355.3 1695.6H1346.3Z" class="tp"/>
<path d="M1249 1520.9H1269.3M1290.5 1520.9H1310.9M1332 1520.9H1352.2" class="pb"/>
<text class="pv" transform="translate(1263.5 1518.4) rotate(-45)">0.007</text>
<text class="pv" transform="translate(1305 1518.4) rotate(-45)">0.994</text>
<text class="pv" transform="translate(1346.5 1518.4) rotate(-45)">0.024</text>
<rect x="1237.1" y="1719" width="41" height="5.7" fill="#4f81bd"/>
<rect x="1278.1" y="1719" width="43.2" height="5.7" fill="#c0504d"/>
<rect x="1321.3" y="1719" width="40.8" height="5.7" fill="#77933c"/>
<path d="M1237.1 1736L1362.1 1736" stroke="#000" stroke-width="1.8"/>
<text class="gl" x="1298.6" y="1766.5" text-anchor="middle">CDR1</text>
<path d="M1298.8 1706.5L1298.8 1714" stroke="#222" stroke-width="1.2"/>
<rect x="1380.7" y="1705.5" width="19.9" height="1" class="bg"/>
<rect x="1402.3" y="1695.3" width="19" height="11.2" class="bp"/>
<rect x="1423.4" y="1692.7" width="19" height="13.8" class="bg"/>
<rect x="1444.1" y="1692.7" width="18.7" height="13.8" class="bp"/>
<rect x="1464.5" y="1668.5" width="19" height="38" class="bg"/>
<rect x="1485.3" y="1683.2" width="19.4" height="23.3" class="bp"/>
<path d="M1411.8 1693.2V1697M1406.6 1693.2H1417M1406.6 1697H1417M1432.6 1686.1V1698.7M1427.4 1686.1H1437.7M1427.4 1698.7H1437.7M1453.3 1690.1V1695.3M1448.1 1690.1H1458.5M1448.1 1695.3H1458.5M1474 1663.3V1672.3M1468.8 1663.3H1479.2M1468.8 1672.3H1479.2M1494.8 1678.9V1687.2M1489.6 1678.9H1500M1489.6 1687.2H1500" class="eb"/>
<circle cx="1384.2" cy="1705.1" r="3.9" class="dg"/>
<circle cx="1387.6" cy="1701.7" r="3.9" class="dg"/>
<circle cx="1391.1" cy="1703.9" r="3.9" class="dg"/>
<circle cx="1394.5" cy="1703.9" r="3.9" class="dg"/>
<circle cx="1398" cy="1705.1" r="3.9" class="dg"/>
<path d="M1391.1 1702L1395.6 1710.3H1386.6Z" class="tg"/>
<circle cx="1406.1" cy="1687.8" r="3.9" class="dp"/>
<circle cx="1410.1" cy="1691.8" r="3.9" class="dp"/>
<circle cx="1417.9" cy="1692.3" r="3.9" class="dp"/>
<circle cx="1413.5" cy="1693.9" r="3.9" class="dp"/>
<circle cx="1405.8" cy="1696.1" r="3.9" class="dp"/>
<path d="M1411.8 1697.4L1416.3 1705.7H1407.3Z" class="tp"/>
<circle cx="1432.6" cy="1667.3" r="3.9" class="dg"/>
<circle cx="1430" cy="1697" r="3.9" class="dg"/>
<circle cx="1434.6" cy="1697.5" r="3.9" class="dg"/>
<circle cx="1438.6" cy="1697" r="3.9" class="dg"/>
<circle cx="1426.5" cy="1703.4" r="3.9" class="dg"/>
<circle cx="1459.3" cy="1685.8" r="3.9" class="dp"/>
<circle cx="1453.3" cy="1691" r="3.9" class="dp"/>
<circle cx="1447.2" cy="1696.7" r="3.9" class="dp"/>
<circle cx="1459" cy="1696.7" r="3.9" class="dp"/>
<circle cx="1473.7" cy="1653.8" r="3.9" class="dg"/>
<circle cx="1467.6" cy="1666.2" r="3.9" class="dg"/>
<circle cx="1474" cy="1666.8" r="3.9" class="dg"/>
<circle cx="1479.7" cy="1673.3" r="3.9" class="dg"/>
<circle cx="1468" cy="1679.7" r="3.9" class="dg"/>
<path d="M1473.7 1691.7L1478.2 1700H1469.2Z" class="tg"/>
<circle cx="1488.4" cy="1673.7" r="3.9" class="dp"/>
<circle cx="1494.8" cy="1672.8" r="3.9" class="dp"/>
<circle cx="1500.5" cy="1678.9" r="3.9" class="dp"/>
<circle cx="1497.4" cy="1691.8" r="3.9" class="dp"/>
<circle cx="1490.8" cy="1694.4" r="3.9" class="dp"/>
<path d="M1494.8 1694.2L1499.3 1702.5H1490.3Z" class="tp"/>
<path d="M1390.2 1619.4H1410.4M1432.6 1619.4H1452.8M1475.2 1619.4H1495.1" class="pb"/>
<text class="pv" transform="translate(1400.2 1618.4) rotate(-45)">0.00003</text>
<text class="pv" transform="translate(1447.1 1616.9) rotate(-45)">0.993</text>
<text class="pv" transform="translate(1489.7 1616.9) rotate(-45)">0.045</text>
<rect x="1386.2" y="1719" width="40.8" height="5.7" fill="#4f81bd"/>
<rect x="1427" y="1719" width="43" height="5.7" fill="#c0504d"/>
<rect x="1470.1" y="1719" width="41" height="5.7" fill="#77933c"/>
<path d="M1386.2 1736L1511 1736" stroke="#000" stroke-width="1.8"/>
<text class="gl" x="1447.6" y="1766.5" text-anchor="middle">FR2</text>
<path d="M1442.6 1706.5L1442.6 1714" stroke="#222" stroke-width="1.2"/>
<rect x="1525.6" y="1689.8" width="18.7" height="16.8" class="bg"/>
<rect x="1546.3" y="1678.6" width="19" height="28" class="bp"/>
<rect x="1567" y="1656.5" width="18.7" height="50.1" class="bg"/>
<rect x="1587.8" y="1666.5" width="18.7" height="40.1" class="bp"/>
<rect x="1608.5" y="1549" width="19" height="157.6" class="bg"/>
<rect x="1629.6" y="1621.2" width="18.7" height="85.4" class="bp"/>
<path d="M1555.4 1670.3V1685.2M1550.3 1670.3H1560.6M1550.3 1685.2H1560.6M1576.4 1628.1V1681.2M1571.2 1628.1H1581.5M1571.2 1681.2H1581.5M1596.9 1654.4V1676.9M1591.7 1654.4H1602.1M1591.7 1676.9H1602.1M1617.7 1531.4V1564.9M1612.5 1531.4H1622.8M1612.5 1564.9H1622.8M1638.4 1602.6V1639.2M1633.2 1602.6H1643.6M1633.2 1639.2H1643.6" class="eb"/>
<circle cx="1528.7" cy="1683.8" r="3.9" class="dg"/>
<circle cx="1533.3" cy="1682.9" r="3.9" class="dg"/>
<circle cx="1541.1" cy="1686.4" r="3.9" class="dg"/>
<circle cx="1528.7" cy="1690.7" r="3.9" class="dg"/>
<circle cx="1536.8" cy="1689.8" r="3.9" class="dg"/>
<path d="M1535.1 1688.8L1539.5 1697.1H1530.6Z" class="tg"/>
<circle cx="1549.6" cy="1657.5" r="3.9" class="dp"/>
<circle cx="1561.7" cy="1664.8" r="3.9" class="dp"/>
<circle cx="1549.6" cy="1682.9" r="3.9" class="dp"/>
<circle cx="1561.7" cy="1683.3" r="3.9" class="dp"/>
<circle cx="1555.4" cy="1700.2" r="3.9" class="dp"/>
<path d="M1555.4 1695.7L1559.9 1704H1551Z" class="tp"/>
<circle cx="1576.4" cy="1547.3" r="3.9" class="dg"/>
<circle cx="1570.3" cy="1674.6" r="3.9" class="dg"/>
<circle cx="1576.4" cy="1681.2" r="3.9" class="dg"/>
<circle cx="1582.6" cy="1680.3" r="3.9" class="dg"/>
<circle cx="1576.4" cy="1695" r="3.9" class="dg"/>
<circle cx="1596.9" cy="1642.8" r="3.9" class="dp"/>
<circle cx="1596.9" cy="1654.8" r="3.9" class="dp"/>
<circle cx="1596.9" cy="1670" r="3.9" class="dp"/>
<circle cx="1596.9" cy="1695" r="3.9" class="dp"/>
<circle cx="1617.7" cy="1496.3" r="3.9" class="dg"/>
<circle cx="1617.7" cy="1531.7" r="3.9" class="dg"/>
<circle cx="1617.7" cy="1549" r="3.9" class="dg"/>
<circle cx="1617.7" cy="1568.5" r="3.9" class="dg"/>
<circle cx="1617.7" cy="1595.3" r="3.9" class="dg"/>
<path d="M1617.7 1659.4L1622.1 1667.7H1613.2Z" class="tg"/>
<circle cx="1638.4" cy="1571.5" r="3.9" class="dp"/>
<circle cx="1638.4" cy="1592.5" r="3.9" class="dp"/>
<circle cx="1638.4" cy="1620.2" r="3.9" class="dp"/>
<circle cx="1638.4" cy="1650.1" r="3.9" class="dp"/>
<circle cx="1638.4" cy="1670.3" r="3.9" class="dp"/>
<path d="M1638.4 1688.5L1642.9 1696.8H1633.9Z" class="tp"/>
<path d="M1537.6 1481.1H1557.9M1577.9 1481.1H1598.1M1620.3 1481.1H1640.5" class="pb"/>
<text class="pv" transform="translate(1552.1 1478.6) rotate(-45)">0.272</text>
<text class="pv" transform="translate(1592.4 1478.6) rotate(-45)">0.772</text>
<text class="pv" transform="translate(1634.8 1478.6) rotate(-45)">0.019</text>
<rect x="1531.1" y="1718.4" width="40.6" height="5.5" fill="#4f81bd"/>
<rect x="1571.7" y="1718.4" width="43.2" height="5.5" fill="#c0504d"/>
<rect x="1614.9" y="1718.4" width="41.1" height="5.5" fill="#77933c"/>
<path d="M1531.1 1736L1656 1736" stroke="#000" stroke-width="1.8"/>
<text class="gl" x="1592.6" y="1766.5" text-anchor="middle">CDR2</text>
<path d="M1586.6 1706.6L1586.6 1714.1" stroke="#222" stroke-width="1.2"/>
<rect x="1669" y="1705.6" width="19.5" height="1" class="bg"/>
<rect x="1690.2" y="1696.4" width="18.5" height="10.2" class="bp"/>
<rect x="1710.5" y="1689.5" width="19" height="17.1" class="bg"/>
<rect x="1731.5" y="1691.6" width="18.7" height="15" class="bp"/>
<rect x="1752.5" y="1655.8" width="18.5" height="50.8" class="bg"/>
<rect x="1773" y="1677.2" width="18.7" height="29.4" class="bp"/>
<path d="M1720 1680.9V1697.6M1714.8 1680.9H1725.1M1714.8 1697.6H1725.1M1740.7 1689V1693.3M1735.5 1689H1745.9M1735.5 1693.3H1745.9M1761.4 1647.2V1660.5M1756.3 1647.2H1766.6M1756.3 1660.5H1766.6M1782.2 1671.7V1682.9M1777 1671.7H1787.4M1777 1682.9H1787.4" class="eb"/>
<circle cx="1672.4" cy="1706.3" r="3.9" class="dg"/>
<circle cx="1675.9" cy="1705" r="3.9" class="dg"/>
<circle cx="1681.9" cy="1705" r="3.9" class="dg"/>
<circle cx="1684.9" cy="1706.3" r="3.9" class="dg"/>
<path d="M1678.8 1702.3L1683.3 1710.6H1674.4Z" class="tg"/>
<circle cx="1696.3" cy="1687.2" r="3.9" class="dp"/>
<circle cx="1702.7" cy="1689.8" r="3.9" class="dp"/>
<circle cx="1693.2" cy="1694.2" r="3.9" class="dp"/>
<circle cx="1699.6" cy="1693.3" r="3.9" class="dp"/>
<circle cx="1705.3" cy="1694.7" r="3.9" class="dp"/>
<path d="M1699.2 1696.1L1703.7 1704.4H1694.7Z" class="tp"/>
<circle cx="1720" cy="1657.9" r="3.9" class="dg"/>
<circle cx="1713.9" cy="1691.6" r="3.9" class="dg"/>
<circle cx="1720" cy="1695.9" r="3.9" class="dg"/>
<circle cx="1726" cy="1696.8" r="3.9" class="dg"/>
<circle cx="1714.3" cy="1702.5" r="3.9" class="dg"/>
<circle cx="1734.7" cy="1686.9" r="3.9" class="dp"/>
<circle cx="1741" cy="1687.2" r="3.9" class="dp"/>
<circle cx="1734.7" cy="1695.4" r="3.9" class="dp"/>
<circle cx="1746.8" cy="1693.6" r="3.9" class="dp"/>
<circle cx="1761.4" cy="1629.4" r="3.9" class="dg"/>
<circle cx="1755.4" cy="1655.8" r="3.9" class="dg"/>
<circle cx="1761.4" cy="1658.7" r="3.9" class="dg"/>
<circle cx="1767.5" cy="1657" r="3.9" class="dg"/>
<circle cx="1761.4" cy="1667.9" r="3.9" class="dg"/>
<path d="M1761.4 1690.5L1765.9 1698.8H1757Z" class="tg"/>
<circle cx="1776.1" cy="1663.1" r="3.9" class="dp"/>
<circle cx="1782.5" cy="1667.9" r="3.9" class="dp"/>
<circle cx="1782.2" cy="1680.3" r="3.9" class="dp"/>
<circle cx="1776.1" cy="1687.2" r="3.9" class="dp"/>
<circle cx="1788.2" cy="1686" r="3.9" class="dp"/>
<path d="M1782.2 1694.9L1786.7 1703.2H1777.7Z" class="tp"/>
<path d="M1684 1573.2H1703.9M1722 1573.2H1741.9M1762.6 1573.2H1782.7" class="pb"/>
<text class="pv" transform="translate(1694 1572.2) rotate(-45)">0.00001</text>
<text class="pv" transform="translate(1736.5 1570.7) rotate(-45)">0.838</text>
<text class="pv" transform="translate(1777.1 1570.7) rotate(-45)">0.020</text>
<rect x="1671.9" y="1718.4" width="40.6" height="5.5" fill="#4f81bd"/>
<rect x="1712.5" y="1718.4" width="43.2" height="5.5" fill="#c0504d"/>
<rect x="1755.7" y="1718.4" width="40.8" height="5.5" fill="#77933c"/>
<path d="M1671.9 1736L1796.5 1736" stroke="#000" stroke-width="1.8"/>
<text class="gl" x="1733.2" y="1766.5" text-anchor="middle">FR3</text>
<path d="M1730.2 1706.6L1730.2 1714.1" stroke="#222" stroke-width="1.2"/>
<rect x="1812.7" y="1705.6" width="19.5" height="1" class="bg"/>
<rect x="1834" y="1671.2" width="18.5" height="35.4" class="bp"/>
<rect x="1854.4" y="1665.1" width="18.8" height="41.5" class="bg"/>
<rect x="1875.4" y="1670.3" width="18.5" height="36.3" class="bp"/>
<rect x="1895.7" y="1636.6" width="19" height="70" class="bg"/>
<rect x="1916.6" y="1651.3" width="18.8" height="55.3" class="bp"/>
<path d="M1843.1 1667.4V1675.1M1837.9 1667.4H1848.3M1837.9 1675.1H1848.3M1863.9 1655.3V1673.4M1858.7 1655.3H1869.1M1858.7 1673.4H1869.1M1884.6 1663.9V1674.3M1879.4 1663.9H1889.8M1879.4 1674.3H1889.8M1905.2 1631.4V1640.9M1900 1631.4H1910.4M1900 1640.9H1910.4M1925.9 1645.8V1655.3M1920.7 1645.8H1931.1M1920.7 1655.3H1931.1" class="eb"/>
<circle cx="1815.8" cy="1706.3" r="3.9" class="dg"/>
<circle cx="1819.3" cy="1704.9" r="3.9" class="dg"/>
<circle cx="1825.3" cy="1704.9" r="3.9" class="dg"/>
<circle cx="1828.8" cy="1706.3" r="3.9" class="dg"/>
<path d="M1822.4 1702.3L1826.9 1710.6H1817.9Z" class="tg"/>
<circle cx="1843" cy="1659.3" r="3.9" class="dp"/>
<circle cx="1840.9" cy="1670" r="3.9" class="dp"/>
<circle cx="1837.4" cy="1676.5" r="3.9" class="dp"/>
<circle cx="1845.2" cy="1673.8" r="3.9" class="dp"/>
<circle cx="1849" cy="1673.8" r="3.9" class="dp"/>
<path d="M1843 1691.4L1847.4 1699.7H1838.5Z" class="tp"/>
<circle cx="1863.9" cy="1630.7" r="3.9" class="dg"/>
<circle cx="1857.8" cy="1666.5" r="3.9" class="dg"/>
<circle cx="1869.7" cy="1665.6" r="3.9" class="dg"/>
<circle cx="1857.8" cy="1679.5" r="3.9" class="dg"/>
<circle cx="1869.7" cy="1677.7" r="3.9" class="dg"/>
<circle cx="1884.6" cy="1656.1" r="3.9" class="dp"/>
<circle cx="1878.6" cy="1668.2" r="3.9" class="dp"/>
<circle cx="1890.7" cy="1672" r="3.9" class="dp"/>
<circle cx="1878.6" cy="1679.5" r="3.9" class="dp"/>
<circle cx="1905.2" cy="1617.6" r="3.9" class="dg"/>
<circle cx="1899.1" cy="1636.6" r="3.9" class="dg"/>
<circle cx="1905.2" cy="1638" r="3.9" class="dg"/>
<circle cx="1911.2" cy="1641.5" r="3.9" class="dg"/>
<circle cx="1899.3" cy="1646.6" r="3.9" class="dg"/>
<path d="M1905.2 1667.2L1909.7 1675.5H1900.7Z" class="tg"/>
<circle cx="1920" cy="1637.6" r="3.9" class="dp"/>
<circle cx="1932" cy="1644" r="3.9" class="dp"/>
<circle cx="1920" cy="1650.1" r="3.9" class="dp"/>
<circle cx="1932" cy="1659.6" r="3.9" class="dp"/>
<circle cx="1920" cy="1663.4" r="3.9" class="dp"/>
<path d="M1925.9 1678.1L1930.4 1686.4H1921.4Z" class="tp"/>
<path d="M1821.5 1603.4H1841.7M1867.3 1603.4H1887.2M1908.6 1603.4H1929" class="pb"/>
<text class="pv" transform="translate(1831.5 1602.4) rotate(-45)">0.00003</text>
<text class="pv" transform="translate(1881.8 1600.9) rotate(-45)">0.675</text>
<text class="pv" transform="translate(1918.6 1602.4) rotate(-45)">0.0641</text>
<rect x="1816.7" y="1718.4" width="40.6" height="5.5" fill="#4f81bd"/>
<rect x="1857.3" y="1718.4" width="42.9" height="5.5" fill="#c0504d"/>
<rect x="1900.2" y="1718.4" width="41" height="5.5" fill="#77933c"/>
<path d="M1816.7 1736L1941.1 1736" stroke="#000" stroke-width="1.8"/>
<text class="gl" x="1877.9" y="1766.5" text-anchor="middle">CDR3</text>
<path d="M1873.7 1706.6L1873.7 1714.1" stroke="#222" stroke-width="1.2"/>
<rect x="1956.3" y="1705.6" width="19.4" height="1" class="bg"/>
<rect x="1977.4" y="1691.6" width="19.4" height="15" class="bp"/>
<rect x="1998.5" y="1700.2" width="18.7" height="6.4" class="bg"/>
<rect x="2019.2" y="1701.9" width="18.3" height="4.7" class="bp"/>
<rect x="2040" y="1689.3" width="18.7" height="17.3" class="bg"/>
<rect x="2060.7" y="1695.4" width="18.7" height="11.2" class="bp"/>
<path d="M1986.9 1682.1V1701.1M1981.7 1682.1H1992.1M1981.7 1701.1H1992.1M2049.1 1685.5V1693.3M2043.9 1685.5H2054.3M2043.9 1693.3H2054.3M2069.9 1692.4V1698.5M2064.7 1692.4H2075M2064.7 1698.5H2075" class="eb"/>
<circle cx="1959.6" cy="1706.3" r="3.9" class="dg"/>
<circle cx="1963.1" cy="1704.9" r="3.9" class="dg"/>
<circle cx="1969.1" cy="1704.9" r="3.9" class="dg"/>
<circle cx="1972.6" cy="1706.3" r="3.9" class="dg"/>
<path d="M1966.2 1702.3L1970.7 1710.6H1961.7Z" class="tg"/>
<circle cx="1986.9" cy="1657" r="3.9" class="dp"/>
<circle cx="1984.3" cy="1695.9" r="3.9" class="dp"/>
<circle cx="1980.9" cy="1701.1" r="3.9" class="dp"/>
<circle cx="1990.4" cy="1699.3" r="3.9" class="dp"/>
<circle cx="1993.3" cy="1700.2" r="3.9" class="dp"/>
<path d="M1987.3 1695.4L1991.7 1703.7H1982.8Z" class="tp"/>
<circle cx="2007.3" cy="1689.8" r="3.9" class="dg"/>
<circle cx="2005.4" cy="1699.3" r="3.9" class="dg"/>
<circle cx="2013.2" cy="1700.7" r="3.9" class="dg"/>
<circle cx="2001.3" cy="1704.5" r="3.9" class="dg"/>
<circle cx="2022.3" cy="1702.5" r="3.9" class="dp"/>
<circle cx="2026.7" cy="1700.2" r="3.9" class="dp"/>
<circle cx="2030.1" cy="1700.7" r="3.9" class="dp"/>
<circle cx="2034.4" cy="1700.2" r="3.9" class="dp"/>
<circle cx="2043.1" cy="1680.9" r="3.9" class="dg"/>
<circle cx="2046.5" cy="1688.1" r="3.9" class="dg"/>
<circle cx="2054.8" cy="1690.2" r="3.9" class="dg"/>
<circle cx="2042.6" cy="1693.8" r="3.9" class="dg"/>
<circle cx="2050.8" cy="1691.6" r="3.9" class="dg"/>
<path d="M2048.8 1698.3L2053.3 1706.6H2044.3Z" class="tg"/>
<circle cx="2069.5" cy="1688.1" r="3.9" class="dp"/>
<circle cx="2075.9" cy="1690.7" r="3.9" class="dp"/>
<circle cx="2063.3" cy="1699" r="3.9" class="dp"/>
<circle cx="2069.5" cy="1697.6" r="3.9" class="dp"/>
<circle cx="2075.9" cy="1699.3" r="3.9" class="dp"/>
<path d="M2069.5 1697.5L2074 1705.7H2065Z" class="tp"/>
<path d="M1971.9 1633.7H1991.7M2013.2 1633.7H2033M2052.6 1633.7H2072.1" class="pb"/>
<text class="pv" transform="translate(1984.9 1631.2) rotate(-45)">0.113</text>
<text class="pv" transform="translate(2026.2 1631.2) rotate(-45)">0.607</text>
<text class="pv" transform="translate(2065.6 1631.2) rotate(-45)">0.088</text>
<rect x="1963.6" y="1718.4" width="40.6" height="5.5" fill="#4f81bd"/>
<rect x="2004.2" y="1718.4" width="43.2" height="5.5" fill="#c0504d"/>
<rect x="2047.4" y="1718.4" width="41" height="5.5" fill="#77933c"/>
<path d="M1963.6 1736L2088.3 1736" stroke="#000" stroke-width="1.8"/>
<text class="gl" x="2025" y="1766.5" text-anchor="middle">FR4</text>
<path d="M2017.5 1706.6L2017.5 1714.1" stroke="#222" stroke-width="1.2"/>
<circle cx="1992.3" cy="1427" r="7.4" class="dg"/>
<text class="lg" x="2013.5" y="1435.2">HC-Ag</text>
<circle cx="1992.3" cy="1461" r="7.4" class="dp"/>
<text class="lg" x="2013.5" y="1469.2">pRD-Ag</text>
<path d="M1993 1488.1L2001.5 1503.8H1984.5Z" class="tg"/>
<text class="lg" x="2013.5" y="1504.8">HC-N</text>
<path d="M1993 1521.8L2001.5 1537.5H1984.5Z" class="tp"/>
<text class="lg" x="2013.5" y="1538.5">pRD-N</text>
<rect x="1373.6" y="1805.4" width="42.6" height="5.8" fill="#4f81bd"/>
<text class="lg2" x="1428.3" y="1816.5" fill="#0070c0">CD38<tspan dy="-0.58em" font-size="66%">int</tspan></text>
<rect x="1548.5" y="1805.4" width="42.9" height="5.8" fill="#c0504d"/>
<text class="lg2" x="1605.2" y="1816.5" fill="#c00000">CD38<tspan dy="-0.58em" font-size="66%">−</tspan></text>
<rect x="1722.1" y="1805.4" width="42.9" height="5.8" fill="#77933c"/>
<text class="lg2" x="1778.6" y="1816.5" fill="#008000">CD27<tspan dy="-0.58em" font-size="66%">+</tspan></text>
<rect x="1339.7" y="2295" width="13.8" height="54.4" fill="#8c8c8c" class="ib"/>
<rect x="1339.7" y="2087" width="13.8" height="207.9" fill="#d6d6d6" class="ib"/>
<rect x="1353.9" y="2254.1" width="13.8" height="95.3" fill="#8c8c8c" class="ib"/>
<rect x="1353.9" y="2088.2" width="13.8" height="165.9" fill="#d6d6d6" class="ib"/>
<rect x="1353.9" y="2087" width="13.8" height="1.2" fill="#ff9300" class="ib"/>
<rect x="1368.1" y="2302.5" width="13.8" height="46.9" fill="#8c8c8c" class="ib"/>
<rect x="1368.1" y="2087" width="13.8" height="215.4" fill="#d6d6d6" class="ib"/>
<rect x="1382.3" y="2311.4" width="13.8" height="38" fill="#8c8c8c" class="ib"/>
<rect x="1382.3" y="2089.3" width="13.8" height="222.1" fill="#d6d6d6" class="ib"/>
<rect x="1382.3" y="2087" width="13.8" height="2.3" fill="#ff9300" class="ib"/>
<rect x="1396.5" y="2316.6" width="13.8" height="32.8" fill="#8c8c8c" class="ib"/>
<rect x="1396.5" y="2087" width="13.8" height="229.6" fill="#d6d6d6" class="ib"/>
<rect x="1410.8" y="2320.3" width="13.8" height="29.1" fill="#8c8c8c" class="ib"/>
<rect x="1410.8" y="2088.7" width="13.8" height="231.6" fill="#d6d6d6" class="ib"/>
<rect x="1410.8" y="2087.9" width="13.8" height="0.9" fill="#ff9300" class="ib"/>
<rect x="1410.8" y="2087" width="13.8" height="0.9" fill="#ffd479" class="ib"/>
<rect x="1439.4" y="2323.5" width="13.8" height="25.9" fill="#8c8c8c" class="ib"/>
<rect x="1439.4" y="2202.5" width="13.8" height="121" fill="#d6d6d6" class="ib"/>
<rect x="1439.4" y="2092.5" width="13.8" height="110" fill="#ff9300" class="ib"/>
<rect x="1439.4" y="2087" width="13.8" height="5.5" fill="#ffd479" class="ib"/>
<rect x="1453.6" y="2252.6" width="13.8" height="96.8" fill="#8c8c8c" class="ib"/>
<rect x="1453.6" y="2087" width="13.8" height="165.6" fill="#d6d6d6" class="ib"/>
<rect x="1467.8" y="2275.1" width="13.8" height="74.3" fill="#8c8c8c" class="ib"/>
<rect x="1467.8" y="2092.8" width="13.8" height="182.3" fill="#d6d6d6" class="ib"/>
<rect x="1467.8" y="2088.2" width="13.8" height="4.6" fill="#ff9300" class="ib"/>
<rect x="1467.8" y="2087" width="13.8" height="1.2" fill="#ffd479" class="ib"/>
<rect x="1482" y="2330.1" width="13.8" height="19.3" fill="#8c8c8c" class="ib"/>
<rect x="1482" y="2103.1" width="13.8" height="227" fill="#d6d6d6" class="ib"/>
<rect x="1482" y="2087" width="13.8" height="16.1" fill="#ff9300" class="ib"/>
<rect x="1496.2" y="2348.8" width="13.8" height="0.6" fill="#8c8c8c" class="ib"/>
<rect x="1496.2" y="2340.5" width="13.8" height="8.4" fill="#d6d6d6" class="ib"/>
<rect x="1496.2" y="2090.2" width="13.8" height="250.3" fill="#ff9300" class="ib"/>
<rect x="1496.2" y="2087" width="13.8" height="3.2" fill="#ffd479" class="ib"/>
<rect x="1510.4" y="2299" width="13.8" height="50.4" fill="#8c8c8c" class="ib"/>
<rect x="1510.4" y="2092.8" width="13.8" height="206.2" fill="#d6d6d6" class="ib"/>
<rect x="1510.4" y="2087" width="13.8" height="5.8" fill="#ffd479" class="ib"/>
<rect x="1567.5" y="2326.4" width="13.8" height="23" fill="#8c8c8c" class="ib"/>
<rect x="1567.5" y="2127.1" width="13.8" height="199.3" fill="#d6d6d6" class="ib"/>
<rect x="1567.5" y="2093.4" width="13.8" height="33.7" fill="#ff9300" class="ib"/>
<rect x="1567.5" y="2087" width="13.8" height="6.3" fill="#ffd479" class="ib"/>
<rect x="1581.8" y="2299.6" width="13.8" height="49.8" fill="#8c8c8c" class="ib"/>
<rect x="1581.8" y="2116.4" width="13.8" height="183.2" fill="#d6d6d6" class="ib"/>
<rect x="1581.8" y="2091.9" width="13.8" height="24.5" fill="#ff9300" class="ib"/>
<rect x="1581.8" y="2087" width="13.8" height="4.9" fill="#ffd479" class="ib"/>
<rect x="1596" y="2304.5" width="13.8" height="44.9" fill="#8c8c8c" class="ib"/>
<rect x="1596" y="2130.2" width="13.8" height="174.3" fill="#d6d6d6" class="ib"/>
<rect x="1596" y="2092.5" width="13.8" height="37.7" fill="#ff9300" class="ib"/>
<rect x="1596" y="2087" width="13.8" height="5.5" fill="#ffd479" class="ib"/>
<rect x="1610.3" y="2309.7" width="13.8" height="39.7" fill="#8c8c8c" class="ib"/>
<rect x="1610.3" y="2087" width="13.8" height="222.6" fill="#d6d6d6" class="ib"/>
<rect x="1624.6" y="2302.2" width="13.8" height="47.2" fill="#8c8c8c" class="ib"/>
<rect x="1624.6" y="2090.2" width="13.8" height="212" fill="#d6d6d6" class="ib"/>
<rect x="1624.6" y="2089.3" width="13.8" height="0.9" fill="#ff9300" class="ib"/>
<rect x="1624.6" y="2087" width="13.8" height="2.3" fill="#ffd479" class="ib"/>
<rect x="1653.1" y="2283.4" width="13.8" height="66" fill="#8c8c8c" class="ib"/>
<rect x="1653.1" y="2091.6" width="13.8" height="191.8" fill="#d6d6d6" class="ib"/>
<rect x="1653.1" y="2087" width="13.8" height="4.6" fill="#ff9300" class="ib"/>
<rect x="1667.3" y="2328.4" width="13.8" height="21" fill="#8c8c8c" class="ib"/>
<rect x="1667.3" y="2087" width="13.8" height="241.4" fill="#d6d6d6" class="ib"/>
<rect x="1681.5" y="2314.6" width="13.8" height="34.9" fill="#8c8c8c" class="ib"/>
<rect x="1681.5" y="2088.2" width="13.8" height="226.4" fill="#d6d6d6" class="ib"/>
<rect x="1681.5" y="2087" width="13.8" height="1.2" fill="#ff9300" class="ib"/>
<rect x="1695.7" y="2294.7" width="13.8" height="54.7" fill="#8c8c8c" class="ib"/>
<rect x="1695.7" y="2087" width="13.8" height="207.7" fill="#d6d6d6" class="ib"/>
<rect x="1753.1" y="2347.4" width="13.8" height="2" fill="#8c8c8c" class="ib"/>
<rect x="1753.1" y="2259.5" width="13.8" height="87.8" fill="#d6d6d6" class="ib"/>
<rect x="1753.1" y="2116.7" width="13.8" height="142.9" fill="#ff9300" class="ib"/>
<rect x="1753.1" y="2089.3" width="13.8" height="27.4" fill="#ffd479" class="ib"/>
<rect x="1753.1" y="2087" width="13.8" height="2.3" fill="#e8262a" class="ib"/>
<rect x="1767.3" y="2302.2" width="13.8" height="47.2" fill="#8c8c8c" class="ib"/>
<rect x="1767.3" y="2137.7" width="13.8" height="164.5" fill="#d6d6d6" class="ib"/>
<rect x="1767.3" y="2117.3" width="13.8" height="20.4" fill="#ff9300" class="ib"/>
<rect x="1767.3" y="2087" width="13.8" height="30.2" fill="#ffd479" class="ib"/>
<rect x="1781.5" y="2333.8" width="13.8" height="15.6" fill="#8c8c8c" class="ib"/>
<rect x="1781.5" y="2223.5" width="13.8" height="110.3" fill="#d6d6d6" class="ib"/>
<rect x="1781.5" y="2158.7" width="13.8" height="64.8" fill="#ff9300" class="ib"/>
<rect x="1781.5" y="2088.5" width="13.8" height="70.3" fill="#ffd479" class="ib"/>
<rect x="1781.5" y="2087" width="13.8" height="1.4" fill="#e8262a" class="ib"/>
<rect x="1795.8" y="2321.2" width="13.8" height="28.2" fill="#8c8c8c" class="ib"/>
<rect x="1795.8" y="2163.9" width="13.8" height="157.3" fill="#d6d6d6" class="ib"/>
<rect x="1795.8" y="2121.9" width="13.8" height="42.1" fill="#ff9300" class="ib"/>
<rect x="1795.8" y="2087" width="13.8" height="34.9" fill="#ffd479" class="ib"/>
<rect x="1810" y="2327.5" width="13.8" height="21.9" fill="#8c8c8c" class="ib"/>
<rect x="1810" y="2120.4" width="13.8" height="207.1" fill="#d6d6d6" class="ib"/>
<rect x="1810" y="2096.2" width="13.8" height="24.2" fill="#ff9300" class="ib"/>
<rect x="1810" y="2087" width="13.8" height="9.2" fill="#ffd479" class="ib"/>
<rect x="1824.2" y="2330.1" width="13.8" height="19.3" fill="#8c8c8c" class="ib"/>
<rect x="1824.2" y="2142.3" width="13.8" height="187.8" fill="#d6d6d6" class="ib"/>
<rect x="1824.2" y="2109.5" width="13.8" height="32.8" fill="#ff9300" class="ib"/>
<rect x="1824.2" y="2087" width="13.8" height="22.5" fill="#ffd479" class="ib"/>
<rect x="1852.7" y="2339.6" width="13.8" height="9.8" fill="#8c8c8c" class="ib"/>
<rect x="1852.7" y="2091" width="13.8" height="248.6" fill="#d6d6d6" class="ib"/>
<rect x="1852.7" y="2089.9" width="13.8" height="1.2" fill="#ff9300" class="ib"/>
<rect x="1852.7" y="2087" width="13.8" height="2.9" fill="#ffd479" class="ib"/>
<rect x="1867" y="2326.4" width="13.8" height="23" fill="#8c8c8c" class="ib"/>
<rect x="1867" y="2093.9" width="13.8" height="232.4" fill="#d6d6d6" class="ib"/>
<rect x="1867" y="2092.5" width="13.8" height="1.4" fill="#ff9300" class="ib"/>
<rect x="1867" y="2087" width="13.8" height="5.5" fill="#ffd479" class="ib"/>
<rect x="1881.2" y="2318.6" width="13.8" height="30.8" fill="#8c8c8c" class="ib"/>
<rect x="1881.2" y="2135.4" width="13.8" height="183.2" fill="#d6d6d6" class="ib"/>
<rect x="1881.2" y="2117.8" width="13.8" height="17.6" fill="#ff9300" class="ib"/>
<rect x="1881.2" y="2087" width="13.8" height="30.8" fill="#ffd479" class="ib"/>
<rect x="1895.4" y="2312.2" width="13.8" height="37.2" fill="#8c8c8c" class="ib"/>
<rect x="1895.4" y="2098.8" width="13.8" height="213.4" fill="#d6d6d6" class="ib"/>
<rect x="1895.4" y="2087" width="13.8" height="11.8" fill="#ff9300" class="ib"/>
<rect x="1909.7" y="2331.3" width="13.8" height="18.1" fill="#8c8c8c" class="ib"/>
<rect x="1909.7" y="2096.5" width="13.8" height="234.7" fill="#d6d6d6" class="ib"/>
<rect x="1909.7" y="2087" width="13.8" height="9.5" fill="#ff9300" class="ib"/>
<rect x="1923.9" y="2315.4" width="13.8" height="34" fill="#8c8c8c" class="ib"/>
<rect x="1923.9" y="2111.2" width="13.8" height="204.2" fill="#d6d6d6" class="ib"/>
<rect x="1923.9" y="2107.5" width="13.8" height="3.7" fill="#ff9300" class="ib"/>
<rect x="1923.9" y="2087" width="13.8" height="20.4" fill="#ffd479" class="ib"/>
<path d="M1332.4 2087V2349.4M1326 2087H1332.4M1326 2152.7H1332.4M1326 2218.4H1332.4M1326 2284H1332.4M1326 2349.4H1945" class="ax"/>
<text class="tk" x="1314" y="2096.1" text-anchor="end">100</text>
<text class="tk" x="1314" y="2161.8" text-anchor="end">75</text>
<text class="tk" x="1314" y="2227.5" text-anchor="end">50</text>
<text class="tk" x="1314" y="2293.1" text-anchor="end">25</text>
<text class="tk" x="1314" y="2358.5" text-anchor="end">0</text>
<text transform="translate(1353.1 2358.6) rotate(-90) scale(.94 1)" text-anchor="end" class="il">13</text>
<text transform="translate(1367.3 2358.6) rotate(-90) scale(.94 1)" text-anchor="end" class="il">3</text>
<text transform="translate(1381.5 2358.6) rotate(-90) scale(.94 1)" text-anchor="end" class="il">4</text>
<text transform="translate(1395.7 2358.6) rotate(-90) scale(.94 1)" text-anchor="end" class="il">7</text>
<text transform="translate(1409.9 2358.6) rotate(-90) scale(.94 1)" text-anchor="end" class="il">17</text>
<text transform="translate(1424.1 2358.6) rotate(-90) scale(.94 1)" text-anchor="end" class="il">19</text>
<text transform="translate(1452.7 2358.6) rotate(-90) scale(.94 1)" text-anchor="end" class="il">1</text>
<text transform="translate(1467 2358.6) rotate(-90) scale(.94 1)" text-anchor="end" class="il">9</text>
<text transform="translate(1481.2 2358.6) rotate(-90) scale(.94 1)" text-anchor="end" class="il">12</text>
<text transform="translate(1495.4 2358.6) rotate(-90) scale(.94 1)" text-anchor="end" class="il">13</text>
<text transform="translate(1509.6 2358.6) rotate(-90) scale(.94 1)" text-anchor="end" class="il">14</text>
<text transform="translate(1523.8 2358.6) rotate(-90) scale(.94 1)" text-anchor="end" class="il">16</text>
<text transform="translate(1580.9 2358.6) rotate(-90) scale(.94 1)" text-anchor="end" class="il">3</text>
<text transform="translate(1595.2 2358.6) rotate(-90) scale(.94 1)" text-anchor="end" class="il">4</text>
<text transform="translate(1609.5 2358.6) rotate(-90) scale(.94 1)" text-anchor="end" class="il">7</text>
<text transform="translate(1623.7 2358.6) rotate(-90) scale(.94 1)" text-anchor="end" class="il">17</text>
<text transform="translate(1638 2358.6) rotate(-90) scale(.94 1)" text-anchor="end" class="il">19</text>
<text transform="translate(1666.5 2358.6) rotate(-90) scale(.94 1)" text-anchor="end" class="il">12</text>
<text transform="translate(1680.7 2358.6) rotate(-90) scale(.94 1)" text-anchor="end" class="il">13</text>
<text transform="translate(1694.9 2358.6) rotate(-90) scale(.94 1)" text-anchor="end" class="il">14</text>
<text transform="translate(1709.1 2358.6) rotate(-90) scale(.94 1)" text-anchor="end" class="il">16</text>
<text transform="translate(1766.5 2358.6) rotate(-90) scale(.94 1)" text-anchor="end" class="il">13</text>
<text transform="translate(1780.7 2358.6) rotate(-90) scale(.94 1)" text-anchor="end" class="il">3</text>
<text transform="translate(1794.9 2358.6) rotate(-90) scale(.94 1)" text-anchor="end" class="il">4</text>
<text transform="translate(1809.2 2358.6) rotate(-90) scale(.94 1)" text-anchor="end" class="il">7</text>
<text transform="translate(1823.4 2358.6) rotate(-90) scale(.94 1)" text-anchor="end" class="il">17</text>
<text transform="translate(1837.6 2358.6) rotate(-90) scale(.94 1)" text-anchor="end" class="il">19</text>
<text transform="translate(1866.1 2358.6) rotate(-90) scale(.94 1)" text-anchor="end" class="il">1</text>
<text transform="translate(1880.4 2358.6) rotate(-90) scale(.94 1)" text-anchor="end" class="il">9</text>
<text transform="translate(1894.6 2358.6) rotate(-90) scale(.94 1)" text-anchor="end" class="il">12</text>
<text transform="translate(1908.8 2358.6) rotate(-90) scale(.94 1)" text-anchor="end" class="il">13</text>
<text transform="translate(1923.1 2358.6) rotate(-90) scale(.94 1)" text-anchor="end" class="il">14</text>
<text transform="translate(1937.3 2358.6) rotate(-90) scale(.94 1)" text-anchor="end" class="il">16</text>
<text class="tt" transform="translate(1231 2218.4) rotate(-90)" text-anchor="middle">Isotype (% of total)</text>
<text class="pl" x="1199" y="1996">i</text>
<path d="M1337 2396.6L1424.5 2396.6" stroke="#000" stroke-width="1.8"/>
<text class="gl" x="1373.8" y="2425.7" text-anchor="middle">HC</text>
<path d="M1439.2 2396.6L1528.5 2396.6" stroke="#000" stroke-width="1.8"/>
<text class="gl" x="1480.1" y="2425.7" text-anchor="middle">pRD</text>
<path d="M1560.2 2396.6L1635.7 2396.6" stroke="#000" stroke-width="1.8"/>
<text class="gl" x="1598.5" y="2425.7" text-anchor="middle">HC</text>
<path d="M1650.7 2396.6L1720.4 2396.6" stroke="#000" stroke-width="1.8"/>
<text class="gl" x="1692.2" y="2425.7" text-anchor="middle">pRD</text>
<path d="M1751.2 2396.6L1840.8 2396.6" stroke="#000" stroke-width="1.8"/>
<text class="gl" x="1797.9" y="2425.7" text-anchor="middle">HC</text>
<path d="M1855.5 2396.6L1942.7 2396.6" stroke="#000" stroke-width="1.8"/>
<text class="gl" x="1903.9" y="2425.7" text-anchor="middle">pRD</text>
<rect x="1341.6" y="2005.2" width="167" height="29.7" fill="#eaf0fa" stroke="#5b8fd3" stroke-width="1.3" rx="4"/>
<text class="hb" x="1434.1" y="2029.7" text-anchor="middle" fill="#0070c0">CD38<tspan dy="-0.58em" font-size="66%">int</tspan></text>
<rect x="1577.5" y="2005.2" width="115.2" height="29.7" fill="#fae5e5" stroke="#e0343c" stroke-width="1.3" rx="4"/>
<text class="hb" x="1642.1" y="2029.7" text-anchor="middle" fill="#c00000">CD38<tspan dy="-0.58em" font-size="66%">−</tspan></text>
<rect x="1751.5" y="2005.2" width="166.5" height="29.7" fill="#e7f1e7" stroke="#2c9e2c" stroke-width="1.3" rx="4"/>
<text class="hb" x="1842.8" y="2029.7" text-anchor="middle" fill="#008000">CD27<tspan dy="-0.58em" font-size="66%">+</tspan></text>
<path d="M1371 2079L1488.2 2079" stroke="#000" stroke-width="1.8"/>
<text class="ip" x="1428.3" y="2068.6" text-anchor="middle">0.103</text>
<path d="M1594.7 2079L1680.9 2079" stroke="#000" stroke-width="1.8"/>
<text class="ip" x="1634.6" y="2068.6" text-anchor="middle">0.286</text>
<path d="M1788.7 2079L1905.9 2079" stroke="#000" stroke-width="1.8"/>
<text class="ip" x="1844.2" y="2068.6" text-anchor="middle">0.016</text>
<rect x="1400.8" y="2456.2" width="18.2" height="17.6" fill="#808080" stroke="#222" stroke-width="1"/>
<text class="lg" x="1429.8" y="2473.5">IgD</text>
<rect x="1502" y="2456.2" width="18.2" height="17.6" fill="#cccccc" stroke="#222" stroke-width="1"/>
<text class="lg" x="1531.5" y="2473.5">IgM</text>
<rect x="1601.6" y="2456.2" width="18.2" height="17.6" fill="#ff8000" stroke="#222" stroke-width="1"/>
<text class="lg" x="1629" y="2473.5">IgG</text>
<rect x="1698.4" y="2456.2" width="18.2" height="17.6" fill="#ffd265" stroke="#222" stroke-width="1"/>
<text class="lg" x="1727" y="2473.5">IgA</text>
<rect x="1798.4" y="2456.2" width="18.2" height="17.6" fill="#ff0000" stroke="#222" stroke-width="1"/>
<text class="lg" x="1826.2" y="2473.5">IgE</text>
<text class="pl" x="-1" y="24">a</text>
<rect x="73.1" y="37.6" width="280.6" height="28.9" fill="#eaf0fa" stroke="#5b8fd3" stroke-width="1.3" rx="4"/>
<text class="hb" x="214.9" y="61.5" text-anchor="middle" fill="#0070c0">CD38<tspan dy="-0.58em" font-size="66%">int</tspan></text>
<rect x="382.9" y="37.6" width="280.6" height="28.9" fill="#fae5e5" stroke="#e0343c" stroke-width="1.3" rx="4"/>
<text class="hb" x="524.7" y="61.5" text-anchor="middle" fill="#c00000">CD38<tspan dy="-0.58em" font-size="66%">−</tspan></text>
<rect x="690" y="37.6" width="281" height="28.9" fill="#e7f1e7" stroke="#2c9e2c" stroke-width="1.3" rx="4"/>
<text class="hb" x="832" y="61.5" text-anchor="middle" fill="#008000">CD27<tspan dy="-0.58em" font-size="66%">+</tspan></text>
<rect x="10.5" y="152" width="46" height="114" fill="#d4d4d4" stroke="#111" stroke-width="1.2" rx="7"/>
<text class="rl" transform="translate(40.8 209) rotate(-90)" text-anchor="middle">C13</text>
<rect x="7" y="398.4" width="46" height="114.6" fill="#8c8c8c" stroke="#111" stroke-width="1.2" rx="7"/>
<text class="rl" transform="translate(40.8 455.7) rotate(-90)" text-anchor="middle">C3</text>
<rect x="7" y="639.6" width="46" height="114" fill="#8c8c8c" stroke="#111" stroke-width="1.2" rx="7"/>
<text class="rl" transform="translate(40.8 696.6) rotate(-90)" text-anchor="middle">C4</text>
<rect x="7" y="863.5" width="46" height="114.5" fill="#8c8c8c" stroke="#111" stroke-width="1.2" rx="7"/>
<text class="rl" transform="translate(40.8 920.8) rotate(-90)" text-anchor="middle">C5</text>
<rect x="7" y="1122.8" width="46" height="114.9" fill="#ffb3b3" stroke="#111" stroke-width="1.2" rx="7"/>
<text class="rl" transform="translate(40.8 1180.2) rotate(-90)" text-anchor="middle">P1</text>
<rect x="7" y="1370.8" width="46" height="114" fill="#ff7c7c" stroke="#111" stroke-width="1.2" rx="7"/>
<text class="rl" transform="translate(40.8 1427.8) rotate(-90)" text-anchor="middle">P9</text>
<rect x="7" y="1611.5" width="46" height="114.5" fill="#ff7c7c" stroke="#111" stroke-width="1.2" rx="7"/>
<text class="rl" transform="translate(40.8 1668.8) rotate(-90)" text-anchor="middle">P12</text>
<rect x="7" y="1856.7" width="46" height="114.6" fill="#ff7c7c" stroke="#111" stroke-width="1.2" rx="7"/>
<text class="rl" transform="translate(40.8 1914) rotate(-90)" text-anchor="middle">P13</text>
<rect x="7" y="2098.5" width="46" height="114.5" fill="#ff7c7c" stroke="#111" stroke-width="1.2" rx="7"/>
<text class="rl" transform="translate(40.8 2155.8) rotate(-90)" text-anchor="middle">P14</text>
<rect x="7" y="2344.3" width="46" height="114.7" fill="#ff7c7c" stroke="#111" stroke-width="1.2" rx="7"/>
<text class="rl" transform="translate(40.8 2401.7) rotate(-90)" text-anchor="middle">P16</text>
<rect x="993" y="85" width="12" height="232" fill="#999"/>
<rect x="992" y="332" width="12" height="714.9" fill="#000"/>
<rect x="992.3" y="1061.1" width="12.2" height="232" fill="#999"/>
<rect x="992" y="1305.2" width="12" height="1209.3" fill="#000"/>
<text class="sl" transform="translate(1021.2 201) rotate(90) scale(0.93 1)" text-anchor="middle">HC-N</text>
<text class="sl" transform="translate(1021.2 689) rotate(90) scale(0.93 1)" text-anchor="middle">HC-Ag</text>
<text class="sl" transform="translate(1021.2 1177) rotate(90) scale(0.93 1)" text-anchor="middle">RAG-N</text>
<text class="sl" transform="translate(1021.2 1907) rotate(90) scale(0.93 1)" text-anchor="middle">pRD-Ag</text>
<rect x="71.3" y="2538.4" width="16.3" height="68.3" fill="#ff3333" stroke="#111" stroke-width="1.1"/>
<text transform="translate(85 2604) rotate(-90)" class="vl">V1-NL1</text>
<rect x="87.6" y="2538.4" width="15.5" height="68.3" fill="#ff4833" stroke="#111" stroke-width="1.1"/>
<text transform="translate(100.9 2604) rotate(-90)" class="vl">V1-2</text>
<rect x="103.2" y="2538.4" width="15.5" height="68.3" fill="#ff5e33" stroke="#111" stroke-width="1.1"/>
<text transform="translate(116.4 2604) rotate(-90)" class="vl">V1-3</text>
<rect x="118.7" y="2538.4" width="15.5" height="68.3" fill="#ff7333" stroke="#111" stroke-width="1.1"/>
<text transform="translate(132 2604) rotate(-90)" class="vl">V1-8</text>
<rect x="134.2" y="2538.4" width="15.5" height="68.3" fill="#ff8933" stroke="#111" stroke-width="1.1"/>
<text transform="translate(147.5 2604) rotate(-90)" class="vl">V1-18</text>
<rect x="149.8" y="2538.4" width="15.5" height="68.3" fill="#ff9e33" stroke="#111" stroke-width="1.1"/>
<text transform="translate(163 2604) rotate(-90)" class="vl">V1-24</text>
<rect x="165.3" y="2538.4" width="15.5" height="68.3" fill="#ffb433" stroke="#111" stroke-width="1.1"/>
<text transform="translate(178.6 2604) rotate(-90)" class="vl">V1-45</text>
<rect x="180.8" y="2538.4" width="15.5" height="68.3" fill="#ffc933" stroke="#111" stroke-width="1.1"/>
<text transform="translate(194.1 2604) rotate(-90)" class="vl">V1-46</text>
<rect x="196.4" y="2538.4" width="15.5" height="68.3" fill="#ffdf33" stroke="#111" stroke-width="1.1"/>
<text transform="translate(209.6 2604) rotate(-90)" class="vl">V1-58</text>
<rect x="211.9" y="2538.4" width="15.5" height="68.3" fill="#fff433" stroke="#111" stroke-width="1.1"/>
<text transform="translate(225.2 2604) rotate(-90)" class="vl">V1-69</text>
<rect x="227.4" y="2538.4" width="15.5" height="68.3" fill="#f4ff33" stroke="#111" stroke-width="1.1"/>
<text transform="translate(240.7 2604) rotate(-90)" class="vl">V1-69-2</text>
<rect x="243" y="2538.4" width="15.5" height="68.3" fill="#dfff33" stroke="#111" stroke-width="1.1"/>
<text transform="translate(256.2 2604) rotate(-90)" class="vl">V2-5</text>
<rect x="258.5" y="2538.4" width="15.5" height="68.3" fill="#c9ff33" stroke="#111" stroke-width="1.1"/>
<text transform="translate(271.8 2604) rotate(-90)" class="vl">V2-26</text>
<rect x="274" y="2538.4" width="15.5" height="68.3" fill="#b4ff33" stroke="#111" stroke-width="1.1"/>
<text transform="translate(287.3 2604) rotate(-90)" class="vl">V2-70</text>
<rect x="289.6" y="2538.4" width="15.5" height="68.3" fill="#9eff33" stroke="#111" stroke-width="1.1"/>
<text transform="translate(302.8 2604) rotate(-90)" class="vl">V3-NL1</text>
<rect x="305.1" y="2538.4" width="15.5" height="68.3" fill="#89ff33" stroke="#111" stroke-width="1.1"/>
<text transform="translate(318.4 2604) rotate(-90)" class="vl">V3-7</text>
<rect x="320.6" y="2538.4" width="15.5" height="68.3" fill="#73ff33" stroke="#111" stroke-width="1.1"/>
<text transform="translate(333.9 2604) rotate(-90)" class="vl">V3-9</text>
<rect x="336.2" y="2538.4" width="15.5" height="68.3" fill="#5eff33" stroke="#111" stroke-width="1.1"/>
<text transform="translate(349.4 2604) rotate(-90)" class="vl">V3-11</text>
<rect x="351.7" y="2538.4" width="15.5" height="68.3" fill="#48ff33" stroke="#111" stroke-width="1.1"/>
<text transform="translate(365 2604) rotate(-90)" class="vl">V3-13</text>
<rect x="367.2" y="2538.4" width="15.5" height="68.3" fill="#33ff33" stroke="#111" stroke-width="1.1"/>
<text transform="translate(380.5 2604) rotate(-90)" class="vl">V3-15</text>
<rect x="382.8" y="2538.4" width="15.5" height="68.3" fill="#33ff48" stroke="#111" stroke-width="1.1"/>
<text transform="translate(396 2604) rotate(-90)" class="vl">V3-19</text>
<rect x="398.3" y="2538.4" width="15.5" height="68.3" fill="#33ff5e" stroke="#111" stroke-width="1.1"/>
<text transform="translate(411.6 2604) rotate(-90)" class="vl">V3-20</text>
<rect x="413.8" y="2538.4" width="15.5" height="68.3" fill="#33ff73" stroke="#111" stroke-width="1.1"/>
<text transform="translate(427.1 2604) rotate(-90)" class="vl">V3-21</text>
<rect x="429.4" y="2538.4" width="15.5" height="68.3" fill="#33ff89" stroke="#111" stroke-width="1.1"/>
<text transform="translate(442.6 2604) rotate(-90)" class="vl">V3-22</text>
<rect x="444.9" y="2538.4" width="15.5" height="68.3" fill="#33ff9e" stroke="#111" stroke-width="1.1"/>
<text transform="translate(458.2 2604) rotate(-90)" class="vl">V3-23</text>
<rect x="460.4" y="2538.4" width="15.5" height="68.3" fill="#33ffb4" stroke="#111" stroke-width="1.1"/>
<text transform="translate(473.7 2604) rotate(-90)" class="vl">V3-30</text>
<rect x="476" y="2538.4" width="15.5" height="68.3" fill="#33ffc9" stroke="#111" stroke-width="1.1"/>
<text transform="translate(489.2 2604) rotate(-90)" class="vl">V3-30-3</text>
<rect x="491.5" y="2538.4" width="15.5" height="68.3" fill="#33ffdf" stroke="#111" stroke-width="1.1"/>
<text transform="translate(504.8 2604) rotate(-90)" class="vl">V3-33</text>
<rect x="507" y="2538.4" width="15.5" height="68.3" fill="#33fff4" stroke="#111" stroke-width="1.1"/>
<text transform="translate(520.3 2604) rotate(-90)" class="vl">V3-35</text>
<rect x="522.5" y="2538.4" width="15.5" height="68.3" fill="#33f4ff" stroke="#111" stroke-width="1.1"/>
<text transform="translate(535.8 2604) rotate(-90)" class="vl">V3-38-3</text>
<rect x="538.1" y="2538.4" width="15.5" height="68.3" fill="#33dfff" stroke="#111" stroke-width="1.1"/>
<text transform="translate(551.3 2604) rotate(-90)" class="vl">V3-43</text>
<rect x="553.6" y="2538.4" width="15.5" height="68.3" fill="#33c9ff" stroke="#111" stroke-width="1.1"/>
<text transform="translate(566.9 2604) rotate(-90)" class="vl">V3-47</text>
<rect x="569.1" y="2538.4" width="15.5" height="68.3" fill="#33b4ff" stroke="#111" stroke-width="1.1"/>
<text transform="translate(582.4 2604) rotate(-90)" class="vl">V3-48</text>
<rect x="584.7" y="2538.4" width="15.5" height="68.3" fill="#339eff" stroke="#111" stroke-width="1.1"/>
<text transform="translate(597.9 2604) rotate(-90)" class="vl">V3-49</text>
<rect x="600.2" y="2538.4" width="15.5" height="68.3" fill="#3389ff" stroke="#111" stroke-width="1.1"/>
<text transform="translate(613.5 2604) rotate(-90)" class="vl">V3-52</text>
<rect x="615.7" y="2538.4" width="15.5" height="68.3" fill="#3373ff" stroke="#111" stroke-width="1.1"/>
<text transform="translate(629 2604) rotate(-90)" class="vl">V3-53</text>
<rect x="631.3" y="2538.4" width="15.5" height="68.3" fill="#335eff" stroke="#111" stroke-width="1.1"/>
<text transform="translate(644.5 2604) rotate(-90)" class="vl">V3-64</text>
<rect x="646.8" y="2538.4" width="15.5" height="68.3" fill="#3348ff" stroke="#111" stroke-width="1.1"/>
<text transform="translate(660.1 2604) rotate(-90)" class="vl">V3-66</text>
<rect x="662.3" y="2538.4" width="15.5" height="68.3" fill="#3333ff" stroke="#111" stroke-width="1.1"/>
<text transform="translate(675.6 2604) rotate(-90)" class="vl">V3-69-1</text>
<rect x="677.9" y="2538.4" width="15.5" height="68.3" fill="#4833ff" stroke="#111" stroke-width="1.1"/>
<text transform="translate(691.1 2604) rotate(-90)" class="vl">V3-72</text>
<rect x="693.4" y="2538.4" width="15.5" height="68.3" fill="#5e33ff" stroke="#111" stroke-width="1.1"/>
<text transform="translate(706.7 2604) rotate(-90)" class="vl">V3-73</text>
<rect x="708.9" y="2538.4" width="15.5" height="68.3" fill="#7333ff" stroke="#111" stroke-width="1.1"/>
<text transform="translate(722.2 2604) rotate(-90)" class="vl">V3-74</text>
<rect x="724.5" y="2538.4" width="15.5" height="68.3" fill="#8933ff" stroke="#111" stroke-width="1.1"/>
<text transform="translate(737.7 2604) rotate(-90)" class="vl">V4-4</text>
<rect x="740" y="2538.4" width="15.5" height="68.3" fill="#9e33ff" stroke="#111" stroke-width="1.1"/>
<text transform="translate(753.3 2604) rotate(-90)" class="vl">V4-28</text>
<rect x="755.5" y="2538.4" width="15.5" height="68.3" fill="#b433ff" stroke="#111" stroke-width="1.1"/>
<text transform="translate(768.8 2604) rotate(-90)" class="vl">V4-30-2</text>
<rect x="771.1" y="2538.4" width="15.5" height="68.3" fill="#c933ff" stroke="#111" stroke-width="1.1"/>
<text transform="translate(784.3 2604) rotate(-90)" class="vl">V4-30-4</text>
<rect x="786.6" y="2538.4" width="15.5" height="68.3" fill="#df33ff" stroke="#111" stroke-width="1.1"/>
<text transform="translate(799.9 2604) rotate(-90)" class="vl">V4-31</text>
<rect x="802.1" y="2538.4" width="15.5" height="68.3" fill="#f433ff" stroke="#111" stroke-width="1.1"/>
<text transform="translate(815.4 2604) rotate(-90)" class="vl">V4-34</text>
<rect x="817.7" y="2538.4" width="15.5" height="68.3" fill="#ff33f4" stroke="#111" stroke-width="1.1"/>
<text transform="translate(830.9 2604) rotate(-90)" class="vl">V4-38-2</text>
<rect x="833.2" y="2538.4" width="15.5" height="68.3" fill="#ff33df" stroke="#111" stroke-width="1.1"/>
<text transform="translate(846.5 2604) rotate(-90)" class="vl">V4-39</text>
<rect x="848.7" y="2538.4" width="15.5" height="68.3" fill="#ff33c9" stroke="#111" stroke-width="1.1"/>
<text transform="translate(862 2604) rotate(-90)" class="vl">V4-55</text>
<rect x="864.3" y="2538.4" width="15.5" height="68.3" fill="#ff33b4" stroke="#111" stroke-width="1.1"/>
<text transform="translate(877.5 2604) rotate(-90)" class="vl">V4-59</text>
<rect x="879.8" y="2538.4" width="15.5" height="68.3" fill="#ff339e" stroke="#111" stroke-width="1.1"/>
<text transform="translate(893.1 2604) rotate(-90)" class="vl">V4-61</text>
<rect x="895.3" y="2538.4" width="15.5" height="68.3" fill="#ff3389" stroke="#111" stroke-width="1.1"/>
<text transform="translate(908.6 2604) rotate(-90)" class="vl">V5-10-1</text>
<rect x="910.9" y="2538.4" width="15.5" height="68.3" fill="#ff3373" stroke="#111" stroke-width="1.1"/>
<text transform="translate(924.1 2604) rotate(-90)" class="vl">V5-51</text>
<rect x="926.4" y="2538.4" width="15.5" height="68.3" fill="#ff335e" stroke="#111" stroke-width="1.1"/>
<text transform="translate(939.7 2604) rotate(-90)" class="vl">V6-1</text>
<rect x="941.9" y="2538.4" width="15.5" height="68.3" fill="#ff3348" stroke="#111" stroke-width="1.1"/>
<text transform="translate(955.2 2604) rotate(-90)" class="vl">V7-4-1</text>
<rect x="957.5" y="2538.4" width="15.5" height="68.3" fill="#ff3333" stroke="#111" stroke-width="1.1"/>
<text transform="translate(970.7 2604) rotate(-90)" class="vl">V7-81</text>
<defs><pattern id="U00" width="100" height="100" patternUnits="userSpaceOnUse"><path d="M0 86.4h4.6v4.5h-4.6zM49.8 95.4h5v4.6h-5zM54.8 95.4h5v4.6h-5zM69.9 95.4h5v4.6h-5zM74.9 95.4h5v4.6h-5zM90 95.4h5v4.6h-5zM95 95.4h5v4.6h-5zM4.6 0h4.5v4.8h-4.5zM4.6 4.8h4.5v4.8h-4.5zM9.1 5.1h4.3v5.1h-4.3zM9.1 85.9h4.3v5.1h-4.3zM60.6 86.6h3.9v4.3h-3.9zM13.4 30.1h4.2v3.8h-4.2zM13.4 49h4.2v3.8h-4.2zM13.4 67.8h4.2v3.8h-4.2zM13.4 71.5h4.2v3.8h-4.2zM13.4 75.3h4.2v3.8h-4.2zM22.7 82.4h5.2v4.2h-5.2zM33 82.4h5.2v4.2h-5.2zM63.9 82.4h5.2v4.2h-5.2zM69.1 82.4h5.2v4.2h-5.2zM74.2 82.4h5.2v4.2h-5.2zM79.4 82.4h5.2v4.2h-5.2zM17.6 57.7h4.1v4.1h-4.1zM17.6 61.8h4.1v4.1h-4.1zM87.6 78.3h4.1v4.1h-4.1zM66.8 70.6h4.2v3.8h-4.2zM29.4 0h3.7v4.4h-3.7zM85.9 66.8h3.5v3.7h-3.5zM33.2 58.5h3.6v4.2h-3.6zM36.8 19.8h3.5v4h-3.5zM57.3 59.7h4.3v3.5h-4.3zM87.2 59.7h4.3v3.5h-4.3zM91.5 59.7h4.3v3.5h-4.3zM95.7 59.7h4.3v3.5h-4.3zM40.3 0h3.4v4h-3.4zM40.3 19.9h3.4v4h-3.4zM56.2 56.3h3.1v3.4h-3.1zM65.6 56.3h3.1v3.4h-3.1zM43.7 19.9h3.3v3.3h-3.3zM43.7 33.1h3.3v3.3h-3.3zM43.7 36.5h3.3v3.3h-3.3zM43.7 39.8h3.3v3.3h-3.3zM50.3 26.5h3.3v3.3h-3.3zM50.3 29.8h3.3v3.3h-3.3zM53.6 39.8h3.3v3.3h-3.3zM53.6 43.1h3.3v3.3h-3.3zM53.6 46.4h3.3v3.3h-3.3zM56.9 3.3h3.3v3.3h-3.3zM56.9 6.6h3.3v3.3h-3.3zM56.9 9.9h3.3v3.3h-3.3zM56.9 16.6h3.3v3.3h-3.3zM56.9 19.9h3.3v3.3h-3.3zM56.9 23.2h3.3v3.3h-3.3zM66.9 46.4h3.3v3.3h-3.3zM66.9 49.7h3.3v3.3h-3.3zM66.9 53h3.3v3.3h-3.3zM70.2 3.3h3.3v3.3h-3.3zM70.2 6.6h3.3v3.3h-3.3zM70.2 9.9h3.3v3.3h-3.3zM70.2 13.3h3.3v3.3h-3.3zM70.2 16.6h3.3v3.3h-3.3zM70.2 19.9h3.3v3.3h-3.3zM73.5 43.1h3.3v3.3h-3.3zM73.5 46.4h3.3v3.3h-3.3zM76.8 3.3h3.3v3.3h-3.3zM80.1 19.9h3.3v3.3h-3.3zM83.4 23.2h3.3v3.3h-3.3zM83.4 26.5h3.3v3.3h-3.3zM86.7 49.7h3.3v3.3h-3.3zM90.1 9.9h3.3v3.3h-3.3zM90.1 13.3h3.3v3.3h-3.3zM90.1 29.8h3.3v3.3h-3.3zM90.1 33.1h3.3v3.3h-3.3zM90.1 36.5h3.3v3.3h-3.3zM90.1 49.7h3.3v3.3h-3.3z" class="tn" stroke-width="0.46"/><path d="M0 36.4h4.6v4.5h-4.6zM0 40.9h4.6v4.5h-4.6zM59.8 95.4h5v4.6h-5zM64.9 95.4h5v4.6h-5zM4.6 52.5h4.5v4.8h-4.5zM9.1 0h4.3v5.1h-4.3zM9.1 35.4h4.3v5.1h-4.3zM9.1 40.4h4.3v5.1h-4.3zM9.1 45.5h4.3v5.1h-4.3zM9.1 50.5h4.3v5.1h-4.3zM33.1 86.6h3.9v4.3h-3.9zM13.4 33.9h4.2v3.8h-4.2zM13.4 37.7h4.2v3.8h-4.2zM13.4 41.4h4.2v3.8h-4.2zM13.4 79.1h4.2v3.8h-4.2zM13.4 82.8h4.2v3.8h-4.2zM84.5 82.4h5.2v4.2h-5.2zM67 78.3h4.1v4.1h-4.1zM21.7 10.4h4v5.2h-4zM21.7 15.7h4v5.2h-4zM21.7 20.9h4v5.2h-4zM21.7 31.3h4v5.2h-4zM21.7 36.6h4v5.2h-4zM21.7 73.1h4v5.2h-4zM25.6 74.4h4.4v4h-4.4zM30 74.4h4.4v4h-4.4zM34.4 74.4h4.4v4h-4.4zM51.9 74.4h4.4v4h-4.4zM56.2 74.4h4.4v4h-4.4zM60.6 74.4h4.4v4h-4.4zM58.5 70.6h4.2v3.8h-4.2zM75.1 70.6h4.2v3.8h-4.2zM29.4 26.5h3.7v4.4h-3.7zM29.4 30.9h3.7v4.4h-3.7zM36.7 66.8h3.5v3.7h-3.5zM40.2 66.8h3.5v3.7h-3.5zM43.7 66.8h3.5v3.7h-3.5zM47.2 66.8h3.5v3.7h-3.5zM33.2 33.4h3.6v4.2h-3.6zM54.8 63.2h4.5v3.6h-4.5zM59.3 63.2h4.5v3.6h-4.5zM63.9 63.2h4.5v3.6h-4.5zM68.4 63.2h4.5v3.6h-4.5zM72.9 63.2h4.5v3.6h-4.5zM77.4 63.2h4.5v3.6h-4.5zM81.9 63.2h4.5v3.6h-4.5zM86.4 63.2h4.5v3.6h-4.5zM91 63.2h4.5v3.6h-4.5zM36.8 59.3h3.5v4h-3.5zM46.8 56.3h3.1v3.4h-3.1zM47 46.4h3.3v3.3h-3.3zM47 49.7h3.3v3.3h-3.3zM47 53h3.3v3.3h-3.3zM50.3 0h3.3v3.3h-3.3zM50.3 3.3h3.3v3.3h-3.3zM50.3 6.6h3.3v3.3h-3.3zM50.3 43.1h3.3v3.3h-3.3zM53.6 49.7h3.3v3.3h-3.3zM53.6 53h3.3v3.3h-3.3zM56.9 0h3.3v3.3h-3.3zM56.9 26.5h3.3v3.3h-3.3zM56.9 29.8h3.3v3.3h-3.3zM56.9 33.1h3.3v3.3h-3.3zM56.9 53h3.3v3.3h-3.3zM60.2 0h3.3v3.3h-3.3zM60.2 29.8h3.3v3.3h-3.3zM60.2 33.1h3.3v3.3h-3.3zM60.2 36.5h3.3v3.3h-3.3zM60.2 39.8h3.3v3.3h-3.3zM60.2 43.1h3.3v3.3h-3.3zM60.2 46.4h3.3v3.3h-3.3zM63.5 6.6h3.3v3.3h-3.3zM63.5 9.9h3.3v3.3h-3.3zM63.5 36.5h3.3v3.3h-3.3zM76.8 23.2h3.3v3.3h-3.3zM80.1 46.4h3.3v3.3h-3.3zM80.1 49.7h3.3v3.3h-3.3zM80.1 53h3.3v3.3h-3.3zM83.4 29.8h3.3v3.3h-3.3zM86.7 33.1h3.3v3.3h-3.3zM86.7 46.4h3.3v3.3h-3.3zM86.7 53h3.3v3.3h-3.3zM90.1 0h3.3v3.3h-3.3z" fill-opacity="0.03" class="tl" stroke-width="0.46"/><path d="M0 31.8h4.6v4.5h-4.6zM0 95.5h4.6v4.5h-4.6zM19.2 90.9h5.1v4.5h-5.1zM24.2 90.9h5.1v4.5h-5.1zM74.7 90.9h5.1v4.5h-5.1zM79.8 90.9h5.1v4.5h-5.1zM84.8 90.9h5.1v4.5h-5.1zM89.9 90.9h5.1v4.5h-5.1zM9.1 10.1h4.3v5.1h-4.3zM9.1 15.2h4.3v5.1h-4.3zM9.1 20.2h4.3v5.1h-4.3zM9.1 60.6h4.3v5.1h-4.3zM9.1 65.7h4.3v5.1h-4.3zM64.6 86.6h3.9v4.3h-3.9zM68.5 86.6h3.9v4.3h-3.9zM17.6 82.4h5.2v4.2h-5.2zM21.7 0h4v5.2h-4zM65 74.4h4.4v4h-4.4zM69.4 74.4h4.4v4h-4.4zM82.5 74.4h4.4v4h-4.4zM86.9 74.4h4.4v4h-4.4zM91.2 74.4h4.4v4h-4.4zM25.6 9.3h3.8v4.6h-3.8zM25.6 13.9h3.8v4.6h-3.8zM25.6 18.6h3.8v4.6h-3.8zM33.6 70.6h4.2v3.8h-4.2zM37.7 70.6h4.2v3.8h-4.2zM93 66.8h3.5v3.7h-3.5zM96.5 66.8h3.5v3.7h-3.5zM33.2 8.4h3.6v4.2h-3.6zM33.2 29.2h3.6v4.2h-3.6zM95.5 63.2h4.5v3.6h-4.5zM36.8 0h3.5v4h-3.5zM36.8 7.9h3.5v4h-3.5zM74.4 59.7h4.3v3.5h-4.3zM78.7 59.7h4.3v3.5h-4.3zM40.3 11.9h3.4v4h-3.4zM40.3 15.9h3.4v4h-3.4zM76.8 46.4h3.3v3.3h-3.3zM80.1 33.1h3.3v3.3h-3.3zM80.1 36.5h3.3v3.3h-3.3zM80.1 39.8h3.3v3.3h-3.3zM80.1 43.1h3.3v3.3h-3.3zM86.7 0h3.3v3.3h-3.3zM90.1 16.6h3.3v3.3h-3.3zM90.1 19.9h3.3v3.3h-3.3zM90.1 23.2h3.3v3.3h-3.3zM90.1 39.8h3.3v3.3h-3.3zM90.1 43.1h3.3v3.3h-3.3zM90.1 46.4h3.3v3.3h-3.3zM90.1 53h3.3v3.3h-3.3zM93.4 36.5h3.3v3.3h-3.3zM96.7 26.5h3.3v3.3h-3.3zM96.7 29.8h3.3v3.3h-3.3zM96.7 33.1h3.3v3.3h-3.3zM96.7 36.5h3.3v3.3h-3.3zM96.7 39.8h3.3v3.3h-3.3zM96.7 43.1h3.3v3.3h-3.3zM96.7 49.7h3.3v3.3h-3.3zM96.7 53h3.3v3.3h-3.3z" fill-opacity="0.08" class="tl" stroke-width="0.46"/><path d="M14.6 95.4h5v4.6h-5zM4.6 66.8h4.5v4.8h-4.5zM9.1 25.3h4.3v5.1h-4.3zM9.1 30.3h4.3v5.1h-4.3zM9.1 70.7h4.3v5.1h-4.3zM13.4 86.6h3.9v4.3h-3.9zM17.3 86.6h3.9v4.3h-3.9zM80.3 86.6h3.9v4.3h-3.9zM84.3 86.6h3.9v4.3h-3.9zM38.2 82.4h5.2v4.2h-5.2zM43.3 82.4h5.2v4.2h-5.2zM21.7 47h4v5.2h-4zM21.7 52.2h4v5.2h-4zM25.6 69.7h3.8v4.6h-3.8zM29.4 70.6h4.2v3.8h-4.2zM70.9 70.6h4.2v3.8h-4.2zM29.4 61.7h3.7v4.4h-3.7zM36.8 4h3.5v4h-3.5zM36.8 11.9h3.5v4h-3.5zM40.3 59.7h4.3v3.5h-4.3zM48.8 59.7h4.3v3.5h-4.3zM53.1 59.7h4.3v3.5h-4.3zM40.3 27.9h3.4v4h-3.4zM40.3 31.9h3.4v4h-3.4zM40.3 35.8h3.4v4h-3.4zM81.2 56.3h3.1v3.4h-3.1zM84.3 56.3h3.1v3.4h-3.1zM87.5 56.3h3.1v3.4h-3.1zM43.7 43.1h3.3v3.3h-3.3zM43.7 46.4h3.3v3.3h-3.3zM43.7 49.7h3.3v3.3h-3.3zM43.7 53h3.3v3.3h-3.3zM47 0h3.3v3.3h-3.3zM47 3.3h3.3v3.3h-3.3zM56.9 36.5h3.3v3.3h-3.3zM56.9 39.8h3.3v3.3h-3.3zM56.9 43.1h3.3v3.3h-3.3zM56.9 46.4h3.3v3.3h-3.3zM60.2 3.3h3.3v3.3h-3.3zM60.2 19.9h3.3v3.3h-3.3zM63.5 16.6h3.3v3.3h-3.3zM63.5 19.9h3.3v3.3h-3.3zM63.5 23.2h3.3v3.3h-3.3zM63.5 26.5h3.3v3.3h-3.3zM63.5 49.7h3.3v3.3h-3.3zM63.5 53h3.3v3.3h-3.3zM66.9 16.6h3.3v3.3h-3.3zM73.5 3.3h3.3v3.3h-3.3zM73.5 6.6h3.3v3.3h-3.3zM73.5 23.2h3.3v3.3h-3.3zM76.8 6.6h3.3v3.3h-3.3zM76.8 9.9h3.3v3.3h-3.3zM76.8 13.3h3.3v3.3h-3.3zM76.8 16.6h3.3v3.3h-3.3zM76.8 19.9h3.3v3.3h-3.3zM83.4 16.6h3.3v3.3h-3.3zM86.7 36.5h3.3v3.3h-3.3zM93.4 39.8h3.3v3.3h-3.3zM93.4 43.1h3.3v3.3h-3.3z" fill-opacity="0.16" class="tl" stroke-width="0.46"/><path d="M0 9.1h4.6v4.5h-4.6zM0 45.5h4.6v4.5h-4.6zM0 54.5h4.6v4.5h-4.6zM0 59.1h4.6v4.5h-4.6zM84.9 95.4h5v4.6h-5zM94.9 90.9h5.1v4.5h-5.1zM48.8 86.6h3.9v4.3h-3.9zM13.4 7.5h4.2v3.8h-4.2zM13.4 11.3h4.2v3.8h-4.2zM13.4 15.1h4.2v3.8h-4.2zM13.4 18.8h4.2v3.8h-4.2zM54.6 78.3h4.1v4.1h-4.1zM58.8 78.3h4.1v4.1h-4.1zM21.7 26.1h4v5.2h-4zM25.6 32.5h3.8v4.6h-3.8zM25.6 46.5h3.8v4.6h-3.8zM25.6 51.1h3.8v4.6h-3.8zM25.6 55.8h3.8v4.6h-3.8zM79.2 70.6h4.2v3.8h-4.2zM83.4 70.6h4.2v3.8h-4.2zM87.5 70.6h4.2v3.8h-4.2zM91.7 70.6h4.2v3.8h-4.2zM95.8 70.6h4.2v3.8h-4.2zM29.4 4.4h3.7v4.4h-3.7zM29.4 8.8h3.7v4.4h-3.7zM29.4 13.2h3.7v4.4h-3.7zM29.4 17.6h3.7v4.4h-3.7zM29.4 22h3.7v4.4h-3.7zM29.4 35.3h3.7v4.4h-3.7zM29.4 39.7h3.7v4.4h-3.7zM50.7 66.8h3.5v3.7h-3.5zM54.3 66.8h3.5v3.7h-3.5zM64.8 66.8h3.5v3.7h-3.5zM68.3 66.8h3.5v3.7h-3.5zM71.9 66.8h3.5v3.7h-3.5zM33.2 62.7h3.6v4.2h-3.6zM36.8 63.2h4.5v3.6h-4.5zM36.8 35.6h3.5v4h-3.5zM36.8 43.5h3.5v4h-3.5zM47 13.3h3.3v3.3h-3.3zM47 19.9h3.3v3.3h-3.3zM66.9 43.1h3.3v3.3h-3.3zM70.2 0h3.3v3.3h-3.3zM70.2 23.2h3.3v3.3h-3.3zM70.2 26.5h3.3v3.3h-3.3zM70.2 29.8h3.3v3.3h-3.3zM70.2 43.1h3.3v3.3h-3.3zM73.5 9.9h3.3v3.3h-3.3zM73.5 13.3h3.3v3.3h-3.3zM73.5 16.6h3.3v3.3h-3.3zM73.5 19.9h3.3v3.3h-3.3zM76.8 26.5h3.3v3.3h-3.3zM76.8 29.8h3.3v3.3h-3.3zM80.1 9.9h3.3v3.3h-3.3zM80.1 13.3h3.3v3.3h-3.3zM80.1 16.6h3.3v3.3h-3.3zM83.4 0h3.3v3.3h-3.3zM83.4 33.1h3.3v3.3h-3.3zM83.4 36.5h3.3v3.3h-3.3zM83.4 39.8h3.3v3.3h-3.3zM93.4 9.9h3.3v3.3h-3.3zM93.4 13.3h3.3v3.3h-3.3zM93.4 16.6h3.3v3.3h-3.3zM93.4 19.9h3.3v3.3h-3.3zM93.4 23.2h3.3v3.3h-3.3zM96.7 13.3h3.3v3.3h-3.3zM96.7 16.6h3.3v3.3h-3.3z" fill-opacity="0.26" class="tl" stroke-width="0.46"/><path d="M4.6 95.4h5v4.6h-5zM4.6 23.9h4.5v4.8h-4.5zM4.6 28.6h4.5v4.8h-4.5zM59.6 90.9h5.1v4.5h-5.1zM64.6 90.9h5.1v4.5h-5.1zM37 86.6h3.9v4.3h-3.9zM17.6 65.9h4.1v4.1h-4.1zM17.6 70h4.1v4.1h-4.1zM21.7 5.2h4v5.2h-4zM47.5 74.4h4.4v4h-4.4zM25.6 23.2h3.8v4.6h-3.8zM29.4 44.1h3.7v4.4h-3.7zM29.4 48.5h3.7v4.4h-3.7zM29.4 52.9h3.7v4.4h-3.7zM29.4 57.3h3.7v4.4h-3.7zM57.8 66.8h3.5v3.7h-3.5zM61.3 66.8h3.5v3.7h-3.5zM75.4 66.8h3.5v3.7h-3.5zM41.3 63.2h4.5v3.6h-4.5zM36.8 15.8h3.5v4h-3.5zM40.3 4h3.4v4h-3.4zM40.3 8h3.4v4h-3.4zM40.3 23.9h3.4v4h-3.4zM68.7 56.3h3.1v3.4h-3.1zM47 29.8h3.3v3.3h-3.3zM47 33.1h3.3v3.3h-3.3zM47 36.5h3.3v3.3h-3.3zM47 39.8h3.3v3.3h-3.3zM47 43.1h3.3v3.3h-3.3zM50.3 9.9h3.3v3.3h-3.3zM50.3 13.3h3.3v3.3h-3.3zM50.3 23.2h3.3v3.3h-3.3zM56.9 13.3h3.3v3.3h-3.3zM63.5 0h3.3v3.3h-3.3zM63.5 3.3h3.3v3.3h-3.3zM63.5 29.8h3.3v3.3h-3.3zM63.5 33.1h3.3v3.3h-3.3zM63.5 39.8h3.3v3.3h-3.3zM63.5 43.1h3.3v3.3h-3.3zM66.9 0h3.3v3.3h-3.3zM66.9 3.3h3.3v3.3h-3.3zM66.9 6.6h3.3v3.3h-3.3zM66.9 9.9h3.3v3.3h-3.3zM66.9 13.3h3.3v3.3h-3.3zM66.9 26.5h3.3v3.3h-3.3zM70.2 46.4h3.3v3.3h-3.3zM76.8 0h3.3v3.3h-3.3zM76.8 36.5h3.3v3.3h-3.3zM76.8 39.8h3.3v3.3h-3.3zM76.8 43.1h3.3v3.3h-3.3zM80.1 6.6h3.3v3.3h-3.3zM80.1 29.8h3.3v3.3h-3.3zM83.4 43.1h3.3v3.3h-3.3zM83.4 46.4h3.3v3.3h-3.3zM86.7 13.3h3.3v3.3h-3.3zM86.7 16.6h3.3v3.3h-3.3zM86.7 19.9h3.3v3.3h-3.3zM86.7 23.2h3.3v3.3h-3.3zM86.7 26.5h3.3v3.3h-3.3zM86.7 29.8h3.3v3.3h-3.3z" fill-opacity="0.36" class="tl" stroke-width="0.46"/><path d="M0 13.6h4.6v4.5h-4.6zM0 18.2h4.6v4.5h-4.6zM0 22.7h4.6v4.5h-4.6zM0 50h4.6v4.5h-4.6zM44.8 95.4h5v4.6h-5zM4.6 9.5h4.5v4.8h-4.5zM4.6 14.3h4.5v4.8h-4.5zM4.6 19.1h4.5v4.8h-4.5zM4.6 33.4h4.5v4.8h-4.5zM4.6 38.2h4.5v4.8h-4.5zM4.6 42.9h4.5v4.8h-4.5zM4.6 71.6h4.5v4.8h-4.5zM40.9 86.6h3.9v4.3h-3.9zM44.9 86.6h3.9v4.3h-3.9zM52.8 86.6h3.9v4.3h-3.9zM56.7 86.6h3.9v4.3h-3.9zM76.4 86.6h3.9v4.3h-3.9zM13.4 26.4h4.2v3.8h-4.2zM48.5 82.4h5.2v4.2h-5.2zM53.6 82.4h5.2v4.2h-5.2zM58.8 82.4h5.2v4.2h-5.2zM17.6 20.6h4.1v4.1h-4.1zM17.6 24.7h4.1v4.1h-4.1zM17.6 28.8h4.1v4.1h-4.1zM29.9 78.3h4.1v4.1h-4.1zM34 78.3h4.1v4.1h-4.1zM38.2 78.3h4.1v4.1h-4.1zM42.3 78.3h4.1v4.1h-4.1zM46.4 78.3h4.1v4.1h-4.1zM38.7 74.4h4.4v4h-4.4zM43.1 74.4h4.4v4h-4.4zM25.6 37.2h3.8v4.6h-3.8zM25.6 60.4h3.8v4.6h-3.8zM25.6 65.1h3.8v4.6h-3.8zM62.6 70.6h4.2v3.8h-4.2zM33.2 41.8h3.6v4.2h-3.6zM33.2 46h3.6v4.2h-3.6zM33.2 50.1h3.6v4.2h-3.6zM33.2 54.3h3.6v4.2h-3.6zM45.8 63.2h4.5v3.6h-4.5zM50.3 63.2h4.5v3.6h-4.5zM36.8 27.7h3.5v4h-3.5zM36.8 31.6h3.5v4h-3.5zM40.3 47.8h3.4v4h-3.4zM40.3 51.8h3.4v4h-3.4zM40.3 55.8h3.4v4h-3.4zM43.7 56.3h3.1v3.4h-3.1zM49.9 56.3h3.1v3.4h-3.1zM53 56.3h3.1v3.4h-3.1zM59.3 56.3h3.1v3.4h-3.1zM62.4 56.3h3.1v3.4h-3.1zM43.7 23.2h3.3v3.3h-3.3zM43.7 26.5h3.3v3.3h-3.3zM43.7 29.8h3.3v3.3h-3.3zM50.3 33.1h3.3v3.3h-3.3zM50.3 36.5h3.3v3.3h-3.3zM50.3 39.8h3.3v3.3h-3.3zM50.3 53h3.3v3.3h-3.3zM53.6 0h3.3v3.3h-3.3zM53.6 3.3h3.3v3.3h-3.3zM53.6 36.5h3.3v3.3h-3.3zM66.9 36.5h3.3v3.3h-3.3zM70.2 49.7h3.3v3.3h-3.3zM70.2 53h3.3v3.3h-3.3zM76.8 33.1h3.3v3.3h-3.3zM80.1 3.3h3.3v3.3h-3.3zM83.4 13.3h3.3v3.3h-3.3zM86.7 3.3h3.3v3.3h-3.3zM86.7 6.6h3.3v3.3h-3.3zM86.7 9.9h3.3v3.3h-3.3zM93.4 0h3.3v3.3h-3.3zM93.4 3.3h3.3v3.3h-3.3zM93.4 6.6h3.3v3.3h-3.3zM96.7 19.9h3.3v3.3h-3.3zM96.7 23.2h3.3v3.3h-3.3zM96.7 46.4h3.3v3.3h-3.3z" fill-opacity="0.46" class="tl" stroke-width="0.46"/><path d="M0 27.3h4.6v4.5h-4.6zM34.7 95.4h5v4.6h-5zM39.7 95.4h5v4.6h-5zM29.3 90.9h5.1v4.5h-5.1zM34.3 90.9h5.1v4.5h-5.1zM44.4 90.9h5.1v4.5h-5.1zM49.5 90.9h5.1v4.5h-5.1zM54.5 90.9h5.1v4.5h-5.1zM9.1 55.6h4.3v5.1h-4.3zM9.1 75.8h4.3v5.1h-4.3zM9.1 80.8h4.3v5.1h-4.3zM89.7 82.4h5.2v4.2h-5.2zM94.8 82.4h5.2v4.2h-5.2zM17.6 0h4.1v4.1h-4.1zM17.6 4.1h4.1v4.1h-4.1zM17.6 74.2h4.1v4.1h-4.1zM17.6 78.3h4.1v4.1h-4.1zM21.7 78.3h4.1v4.1h-4.1zM25.8 78.3h4.1v4.1h-4.1zM79.4 78.3h4.1v4.1h-4.1zM83.5 78.3h4.1v4.1h-4.1zM95.6 74.4h4.4v4h-4.4zM29.4 66.1h3.7v4.4h-3.7zM33.2 66.8h3.5v3.7h-3.5zM82.4 66.8h3.5v3.7h-3.5zM33.2 0h3.6v4.2h-3.6zM33.2 4.2h3.6v4.2h-3.6zM36.8 23.7h3.5v4h-3.5zM36.8 47.4h3.5v4h-3.5zM36.8 51.4h3.5v4h-3.5zM36.8 55.3h3.5v4h-3.5zM61.6 59.7h4.3v3.5h-4.3zM65.9 59.7h4.3v3.5h-4.3zM70.1 59.7h4.3v3.5h-4.3zM40.3 39.8h3.4v4h-3.4zM40.3 43.8h3.4v4h-3.4zM71.8 56.3h3.1v3.4h-3.1zM47 16.6h3.3v3.3h-3.3zM50.3 16.6h3.3v3.3h-3.3zM50.3 19.9h3.3v3.3h-3.3zM53.6 16.6h3.3v3.3h-3.3zM53.6 19.9h3.3v3.3h-3.3zM53.6 23.2h3.3v3.3h-3.3zM53.6 26.5h3.3v3.3h-3.3zM63.5 13.3h3.3v3.3h-3.3zM66.9 33.1h3.3v3.3h-3.3zM70.2 33.1h3.3v3.3h-3.3zM70.2 36.5h3.3v3.3h-3.3zM70.2 39.8h3.3v3.3h-3.3zM73.5 49.7h3.3v3.3h-3.3zM73.5 53h3.3v3.3h-3.3zM80.1 23.2h3.3v3.3h-3.3zM83.4 49.7h3.3v3.3h-3.3zM83.4 53h3.3v3.3h-3.3zM90.1 3.3h3.3v3.3h-3.3zM90.1 6.6h3.3v3.3h-3.3zM90.1 26.5h3.3v3.3h-3.3zM93.4 46.4h3.3v3.3h-3.3zM93.4 49.7h3.3v3.3h-3.3zM93.4 53h3.3v3.3h-3.3zM96.7 0h3.3v3.3h-3.3zM96.7 3.3h3.3v3.3h-3.3zM96.7 6.6h3.3v3.3h-3.3zM96.7 9.9h3.3v3.3h-3.3z" fill-opacity="0.56" class="tl" stroke-width="0.46"/><path d="M79.9 95.4h5v4.6h-5zM4.6 57.2h4.5v4.8h-4.5zM4.6 62h4.5v4.8h-4.5zM4.6 76.3h4.5v4.8h-4.5zM4.6 81.1h4.5v4.8h-4.5zM4.6 85.9h4.5v4.8h-4.5zM88.2 86.6h3.9v4.3h-3.9zM92.1 86.6h3.9v4.3h-3.9zM96.1 86.6h3.9v4.3h-3.9zM13.4 0h4.2v3.8h-4.2zM13.4 3.8h4.2v3.8h-4.2zM13.4 22.6h4.2v3.8h-4.2zM13.4 45.2h4.2v3.8h-4.2zM13.4 64h4.2v3.8h-4.2zM17.6 45.3h4.1v4.1h-4.1zM17.6 49.4h4.1v4.1h-4.1zM50.5 78.3h4.1v4.1h-4.1zM62.9 78.3h4.1v4.1h-4.1zM21.7 41.8h4v5.2h-4zM21.7 57.4h4v5.2h-4zM21.7 62.7h4v5.2h-4zM21.7 67.9h4v5.2h-4zM78.1 74.4h4.4v4h-4.4zM25.6 0h3.8v4.6h-3.8zM25.6 27.9h3.8v4.6h-3.8zM50.2 70.6h4.2v3.8h-4.2zM54.3 70.6h4.2v3.8h-4.2zM78.9 66.8h3.5v3.7h-3.5zM33.2 37.6h3.6v4.2h-3.6zM36.8 39.5h3.5v4h-3.5zM44.5 59.7h4.3v3.5h-4.3zM90.6 56.3h3.1v3.4h-3.1zM93.7 56.3h3.1v3.4h-3.1zM96.9 56.3h3.1v3.4h-3.1zM43.7 0h3.3v3.3h-3.3zM43.7 3.3h3.3v3.3h-3.3zM43.7 6.6h3.3v3.3h-3.3zM43.7 9.9h3.3v3.3h-3.3zM43.7 13.3h3.3v3.3h-3.3zM43.7 16.6h3.3v3.3h-3.3zM47 23.2h3.3v3.3h-3.3zM47 26.5h3.3v3.3h-3.3zM50.3 46.4h3.3v3.3h-3.3zM50.3 49.7h3.3v3.3h-3.3zM53.6 6.6h3.3v3.3h-3.3zM53.6 9.9h3.3v3.3h-3.3zM53.6 13.3h3.3v3.3h-3.3zM53.6 29.8h3.3v3.3h-3.3zM60.2 6.6h3.3v3.3h-3.3zM60.2 9.9h3.3v3.3h-3.3zM66.9 23.2h3.3v3.3h-3.3zM73.5 0h3.3v3.3h-3.3zM73.5 26.5h3.3v3.3h-3.3zM73.5 29.8h3.3v3.3h-3.3zM73.5 33.1h3.3v3.3h-3.3zM73.5 36.5h3.3v3.3h-3.3zM73.5 39.8h3.3v3.3h-3.3zM83.4 3.3h3.3v3.3h-3.3zM83.4 6.6h3.3v3.3h-3.3zM83.4 9.9h3.3v3.3h-3.3zM86.7 39.8h3.3v3.3h-3.3zM86.7 43.1h3.3v3.3h-3.3z" fill-opacity="0.66" class="tl" stroke-width="0.46"/><path d="M0 0h4.6v4.5h-4.6zM0 4.5h4.6v4.5h-4.6zM0 63.6h4.6v4.5h-4.6zM0 68.2h4.6v4.5h-4.6zM0 72.7h4.6v4.5h-4.6zM0 77.3h4.6v4.5h-4.6zM0 81.8h4.6v4.5h-4.6zM0 90.9h4.6v4.5h-4.6zM9.6 95.4h5v4.6h-5zM19.7 95.4h5v4.6h-5zM24.7 95.4h5v4.6h-5zM29.7 95.4h5v4.6h-5zM4.6 47.7h4.5v4.8h-4.5zM4.6 90.6h4.5v4.8h-4.5zM9.1 90.9h5.1v4.5h-5.1zM14.1 90.9h5.1v4.5h-5.1zM39.4 90.9h5.1v4.5h-5.1zM69.7 90.9h5.1v4.5h-5.1zM21.3 86.6h3.9v4.3h-3.9zM25.2 86.6h3.9v4.3h-3.9zM29.1 86.6h3.9v4.3h-3.9zM72.4 86.6h3.9v4.3h-3.9zM13.4 52.7h4.2v3.8h-4.2zM13.4 56.5h4.2v3.8h-4.2zM13.4 60.3h4.2v3.8h-4.2zM27.9 82.4h5.2v4.2h-5.2zM17.6 8.2h4.1v4.1h-4.1zM17.6 12.4h4.1v4.1h-4.1zM17.6 16.5h4.1v4.1h-4.1zM17.6 33h4.1v4.1h-4.1zM17.6 37.1h4.1v4.1h-4.1zM17.6 41.2h4.1v4.1h-4.1zM17.6 53.6h4.1v4.1h-4.1zM71.1 78.3h4.1v4.1h-4.1zM75.3 78.3h4.1v4.1h-4.1zM91.8 78.3h4.1v4.1h-4.1zM95.9 78.3h4.1v4.1h-4.1zM73.7 74.4h4.4v4h-4.4zM25.6 4.6h3.8v4.6h-3.8zM25.6 41.8h3.8v4.6h-3.8zM41.9 70.6h4.2v3.8h-4.2zM46 70.6h4.2v3.8h-4.2zM89.4 66.8h3.5v3.7h-3.5zM33.2 12.5h3.6v4.2h-3.6zM33.2 16.7h3.6v4.2h-3.6zM33.2 20.9h3.6v4.2h-3.6zM33.2 25.1h3.6v4.2h-3.6zM82.9 59.7h4.3v3.5h-4.3zM75 56.3h3.1v3.4h-3.1zM78.1 56.3h3.1v3.4h-3.1zM47 6.6h3.3v3.3h-3.3zM47 9.9h3.3v3.3h-3.3zM53.6 33.1h3.3v3.3h-3.3zM56.9 49.7h3.3v3.3h-3.3zM60.2 13.3h3.3v3.3h-3.3zM60.2 16.6h3.3v3.3h-3.3zM60.2 23.2h3.3v3.3h-3.3zM60.2 26.5h3.3v3.3h-3.3zM60.2 49.7h3.3v3.3h-3.3zM60.2 53h3.3v3.3h-3.3zM63.5 46.4h3.3v3.3h-3.3zM66.9 19.9h3.3v3.3h-3.3zM66.9 29.8h3.3v3.3h-3.3zM66.9 39.8h3.3v3.3h-3.3zM76.8 49.7h3.3v3.3h-3.3zM76.8 53h3.3v3.3h-3.3zM80.1 0h3.3v3.3h-3.3zM80.1 26.5h3.3v3.3h-3.3zM83.4 19.9h3.3v3.3h-3.3zM93.4 26.5h3.3v3.3h-3.3zM93.4 29.8h3.3v3.3h-3.3zM93.4 33.1h3.3v3.3h-3.3z" fill-opacity="0.74" class="tl" stroke-width="0.46"/></pattern><rect id="qU00" width="100" height="100" fill="url(#U00)"/><pattern id="U01" width="100" height="100" patternUnits="userSpaceOnUse"><path d="M0 0h4.6v4.2h-4.6zM0 66.7h4.6v4.2h-4.6zM0 70.8h4.6v4.2h-4.6zM0 75h4.6v4.2h-4.6zM0 79.2h4.6v4.2h-4.6zM0 83.3h4.6v4.2h-4.6zM0 87.5h4.6v4.2h-4.6zM66.3 86.6h4.8v4.3h-4.8zM71.1 86.6h4.8v4.3h-4.8zM75.9 86.6h4.8v4.3h-4.8zM80.8 86.6h4.8v4.3h-4.8zM85.6 86.6h4.8v4.3h-4.8zM90.4 86.6h4.8v4.3h-4.8zM95.2 86.6h4.8v4.3h-4.8zM50.2 70.6h4.2v3.8h-4.2zM54.3 70.6h4.2v3.8h-4.2zM58.5 70.6h4.2v3.8h-4.2zM62.6 70.6h4.2v3.8h-4.2zM66.8 70.6h4.2v3.8h-4.2zM70.9 70.6h4.2v3.8h-4.2zM48 66.8h3.7v3.7h-3.7zM55.4 66.8h3.7v3.7h-3.7zM59.2 66.8h3.7v3.7h-3.7zM62.9 66.8h3.7v3.7h-3.7zM40.3 17.1h3.4v4.3h-3.4zM40.3 21.3h3.4v4.3h-3.4zM40.3 25.6h3.4v4.3h-3.4zM43.7 49.7h3.3v3.3h-3.3zM43.7 53h3.3v3.3h-3.3zM47 0h3.3v3.3h-3.3zM53.6 36.5h3.3v3.3h-3.3zM53.6 39.8h3.3v3.3h-3.3zM53.6 43.1h3.3v3.3h-3.3zM56.9 3.3h3.3v3.3h-3.3zM56.9 9.9h3.3v3.3h-3.3zM56.9 13.3h3.3v3.3h-3.3zM66.9 13.3h3.3v3.3h-3.3zM70.2 49.7h3.3v3.3h-3.3zM73.5 33.1h3.3v3.3h-3.3zM73.5 46.4h3.3v3.3h-3.3zM83.4 13.3h3.3v3.3h-3.3zM86.7 9.9h3.3v3.3h-3.3zM90.1 19.9h3.3v3.3h-3.3zM96.7 29.8h3.3v3.3h-3.3zM96.7 33.1h3.3v3.3h-3.3zM96.7 36.5h3.3v3.3h-3.3z" class="tn" stroke-width="0.46"/><path d="M0 91.7h4.6v4.2h-4.6zM0 95.8h4.6v4.2h-4.6zM32.7 95.4h5.6v4.6h-5.6zM4.6 10.6h4.5v5.3h-4.5zM4.6 37.1h4.5v5.3h-4.5zM20.4 90.9h5.7v4.5h-5.7zM26.1 90.9h5.7v4.5h-5.7zM54.5 90.9h5.7v4.5h-5.7zM82.9 90.9h5.7v4.5h-5.7zM88.6 90.9h5.7v4.5h-5.7zM13.4 0h4.2v5.1h-4.2zM13.4 5.1h4.2v5.1h-4.2zM13.4 10.2h4.2v5.1h-4.2zM13.4 15.3h4.2v5.1h-4.2zM13.4 20.4h4.2v5.1h-4.2zM49 82.4h3.9v4.2h-3.9zM60.8 82.4h3.9v4.2h-3.9zM64.7 82.4h3.9v4.2h-3.9zM68.6 82.4h3.9v4.2h-3.9zM72.5 82.4h3.9v4.2h-3.9zM17.6 59.5h4.1v4.6h-4.1zM17.6 64.1h4.1v4.6h-4.1zM17.6 68.7h4.1v4.6h-4.1zM34.7 78.3h4.4v4.1h-4.4zM52.1 78.3h4.4v4.1h-4.4zM56.5 78.3h4.4v4.1h-4.4zM25.6 0h3.8v3.9h-3.8zM25.6 50.9h3.8v3.9h-3.8zM25.6 54.8h3.8v3.9h-3.8zM29.4 23.5h3.7v3.9h-3.7zM29.4 27.4h3.7v3.9h-3.7zM81.4 66.8h3.7v3.7h-3.7zM85.1 66.8h3.7v3.7h-3.7zM88.9 66.8h3.7v3.7h-3.7zM33.2 33.4h3.6v3.7h-3.6zM33.2 37.1h3.6v3.7h-3.6zM36.8 45.2h3.5v4.5h-3.5zM63.2 59.7h4.6v3.5h-4.6zM77 59.7h4.6v3.5h-4.6zM81.6 59.7h4.6v3.5h-4.6zM78.3 56.3h4.3v3.4h-4.3zM47 33.1h3.3v3.3h-3.3zM53.6 16.6h3.3v3.3h-3.3zM53.6 19.9h3.3v3.3h-3.3zM66.9 3.3h3.3v3.3h-3.3zM66.9 6.6h3.3v3.3h-3.3zM66.9 9.9h3.3v3.3h-3.3zM66.9 43.1h3.3v3.3h-3.3zM66.9 46.4h3.3v3.3h-3.3zM66.9 49.7h3.3v3.3h-3.3zM66.9 53h3.3v3.3h-3.3zM70.2 0h3.3v3.3h-3.3zM70.2 3.3h3.3v3.3h-3.3zM73.5 16.6h3.3v3.3h-3.3zM73.5 19.9h3.3v3.3h-3.3zM73.5 23.2h3.3v3.3h-3.3zM73.5 29.8h3.3v3.3h-3.3zM83.4 6.6h3.3v3.3h-3.3zM83.4 9.9h3.3v3.3h-3.3zM86.7 46.4h3.3v3.3h-3.3zM86.7 53h3.3v3.3h-3.3zM90.1 0h3.3v3.3h-3.3zM90.1 3.3h3.3v3.3h-3.3zM90.1 6.6h3.3v3.3h-3.3zM90.1 43.1h3.3v3.3h-3.3zM90.1 46.4h3.3v3.3h-3.3zM93.4 33.1h3.3v3.3h-3.3zM96.7 16.6h3.3v3.3h-3.3z" fill-opacity="0.03" class="tl" stroke-width="0.46"/><path d="M0 41.7h4.6v4.2h-4.6zM38.3 95.4h5.6v4.6h-5.6zM43.9 95.4h5.6v4.6h-5.6zM49.5 95.4h5.6v4.6h-5.6zM55.1 95.4h5.6v4.6h-5.6zM60.7 95.4h5.6v4.6h-5.6zM4.6 68.9h4.5v5.3h-4.5zM4.6 74.2h4.5v5.3h-4.5zM4.6 79.5h4.5v5.3h-4.5zM9.1 5.1h4.3v5.1h-4.3zM9.1 10.1h4.3v5.1h-4.3zM9.1 45.5h4.3v5.1h-4.3zM56.8 82.4h3.9v4.2h-3.9zM76.5 82.4h3.9v4.2h-3.9zM21.7 41h4v3.7h-4zM21.7 56h4v3.7h-4zM21.7 59.7h4v3.7h-4zM21.7 67.1h4v3.7h-4zM21.7 70.9h4v3.7h-4zM47.5 74.4h4.4v4h-4.4zM51.9 74.4h4.4v4h-4.4zM56.2 74.4h4.4v4h-4.4zM65 74.4h4.4v4h-4.4zM25.6 23.5h3.8v3.9h-3.8zM25.6 27.4h3.8v3.9h-3.8zM25.6 58.7h3.8v3.9h-3.8zM25.6 62.6h3.8v3.9h-3.8zM25.6 66.6h3.8v3.9h-3.8zM29.4 43.1h3.7v3.9h-3.7zM29.4 47h3.7v3.9h-3.7zM29.4 51h3.7v3.9h-3.7zM29.4 54.9h3.7v3.9h-3.7zM29.4 58.8h3.7v3.9h-3.7zM36.8 27.1h3.5v4.5h-3.5zM36.8 31.6h3.5v4.5h-3.5zM36.8 36.1h3.5v4.5h-3.5zM54 59.7h4.6v3.5h-4.6zM67.8 59.7h4.6v3.5h-4.6zM72.4 59.7h4.6v3.5h-4.6zM90.8 59.7h4.6v3.5h-4.6zM40.3 0h3.4v4.3h-3.4zM40.3 4.3h3.4v4.3h-3.4zM47 29.8h3.3v3.3h-3.3zM50.3 23.2h3.3v3.3h-3.3zM50.3 26.5h3.3v3.3h-3.3zM56.9 16.6h3.3v3.3h-3.3zM60.2 6.6h3.3v3.3h-3.3zM60.2 9.9h3.3v3.3h-3.3zM60.2 13.3h3.3v3.3h-3.3zM63.5 29.8h3.3v3.3h-3.3zM66.9 19.9h3.3v3.3h-3.3zM70.2 39.8h3.3v3.3h-3.3zM76.8 36.5h3.3v3.3h-3.3zM83.4 36.5h3.3v3.3h-3.3zM83.4 39.8h3.3v3.3h-3.3zM93.4 39.8h3.3v3.3h-3.3zM93.4 43.1h3.3v3.3h-3.3zM96.7 3.3h3.3v3.3h-3.3zM96.7 6.6h3.3v3.3h-3.3zM96.7 19.9h3.3v3.3h-3.3z" fill-opacity="0.08" class="tl" stroke-width="0.46"/><path d="M0 12.5h4.6v4.2h-4.6zM0 20.8h4.6v4.2h-4.6zM0 25h4.6v4.2h-4.6zM66.3 95.4h5.6v4.6h-5.6zM71.9 95.4h5.6v4.6h-5.6zM77.6 95.4h5.6v4.6h-5.6zM83.2 95.4h5.6v4.6h-5.6zM4.6 0h4.5v5.3h-4.5zM4.6 5.3h4.5v5.3h-4.5zM23 86.6h4.8v4.3h-4.8zM27.8 86.6h4.8v4.3h-4.8zM32.6 86.6h4.8v4.3h-4.8zM13.4 25.5h4.2v5.1h-4.2zM13.4 30.6h4.2v5.1h-4.2zM29.4 82.4h3.9v4.2h-3.9zM33.3 82.4h3.9v4.2h-3.9zM43.4 78.3h4.4v4.1h-4.4zM47.8 78.3h4.4v4.1h-4.4zM21.7 18.7h4v3.7h-4zM21.7 22.4h4v3.7h-4zM21.7 26.1h4v3.7h-4zM21.7 29.8h4v3.7h-4zM21.7 33.6h4v3.7h-4zM21.7 37.3h4v3.7h-4zM21.7 44.8h4v3.7h-4zM60.6 74.4h4.4v4h-4.4zM69.4 74.4h4.4v4h-4.4zM79.2 70.6h4.2v3.8h-4.2zM83.4 70.6h4.2v3.8h-4.2zM87.5 70.6h4.2v3.8h-4.2zM91.7 70.6h4.2v3.8h-4.2zM95.8 70.6h4.2v3.8h-4.2zM29.4 0h3.7v3.9h-3.7zM29.4 15.7h3.7v3.9h-3.7zM92.6 66.8h3.7v3.7h-3.7zM96.3 66.8h3.7v3.7h-3.7zM33.2 0h3.6v3.7h-3.6zM33.2 3.7h3.6v3.7h-3.6zM53.6 63.2h4.2v3.6h-4.2zM58.6 59.7h4.6v3.5h-4.6zM40.3 34.1h3.4v4.3h-3.4zM52.3 56.3h4.3v3.4h-4.3zM56.7 56.3h4.3v3.4h-4.3zM69.7 56.3h4.3v3.4h-4.3zM95.7 56.3h4.3v3.4h-4.3zM47 3.3h3.3v3.3h-3.3zM47 6.6h3.3v3.3h-3.3zM47 9.9h3.3v3.3h-3.3zM47 13.3h3.3v3.3h-3.3zM47 46.4h3.3v3.3h-3.3zM53.6 23.2h3.3v3.3h-3.3zM53.6 46.4h3.3v3.3h-3.3zM53.6 49.7h3.3v3.3h-3.3zM53.6 53h3.3v3.3h-3.3zM56.9 49.7h3.3v3.3h-3.3zM63.5 9.9h3.3v3.3h-3.3zM63.5 26.5h3.3v3.3h-3.3zM63.5 39.8h3.3v3.3h-3.3zM63.5 43.1h3.3v3.3h-3.3zM66.9 33.1h3.3v3.3h-3.3zM66.9 36.5h3.3v3.3h-3.3zM70.2 19.9h3.3v3.3h-3.3zM76.8 9.9h3.3v3.3h-3.3zM76.8 13.3h3.3v3.3h-3.3zM76.8 16.6h3.3v3.3h-3.3zM80.1 39.8h3.3v3.3h-3.3zM80.1 46.4h3.3v3.3h-3.3zM80.1 49.7h3.3v3.3h-3.3zM90.1 13.3h3.3v3.3h-3.3zM90.1 36.5h3.3v3.3h-3.3zM90.1 39.8h3.3v3.3h-3.3zM93.4 9.9h3.3v3.3h-3.3zM93.4 13.3h3.3v3.3h-3.3zM93.4 16.6h3.3v3.3h-3.3zM93.4 19.9h3.3v3.3h-3.3zM93.4 23.2h3.3v3.3h-3.3zM93.4 26.5h3.3v3.3h-3.3zM93.4 29.8h3.3v3.3h-3.3zM93.4 53h3.3v3.3h-3.3zM96.7 39.8h3.3v3.3h-3.3zM96.7 43.1h3.3v3.3h-3.3zM96.7 53h3.3v3.3h-3.3z" fill-opacity="0.16" class="tl" stroke-width="0.46"/><path d="M0 4.2h4.6v4.2h-4.6zM0 8.3h4.6v4.2h-4.6zM4.6 90.1h4.5v5.3h-4.5zM9.1 90.9h5.7v4.5h-5.7zM14.7 90.9h5.7v4.5h-5.7zM17.6 13.7h4.1v4.6h-4.1zM17.6 22.9h4.1v4.6h-4.1zM21.7 11.2h4v3.7h-4zM21.7 63.4h4v3.7h-4zM34.4 74.4h4.4v4h-4.4zM38.7 74.4h4.4v4h-4.4zM43.1 74.4h4.4v4h-4.4zM25.6 3.9h3.8v3.9h-3.8zM25.6 7.8h3.8v3.9h-3.8zM25.6 15.7h3.8v3.9h-3.8zM25.6 19.6h3.8v3.9h-3.8zM29.4 3.9h3.7v3.9h-3.7zM29.4 62.7h3.7v3.9h-3.7zM29.4 66.6h3.7v3.9h-3.7zM33.2 18.6h3.6v3.7h-3.6zM33.2 59.4h3.6v3.7h-3.6zM33.2 63.1h3.6v3.7h-3.6zM36.8 63.2h4.2v3.6h-4.2zM41 63.2h4.2v3.6h-4.2zM45.2 63.2h4.2v3.6h-4.2zM36.8 22.6h3.5v4.5h-3.5zM86.2 59.7h4.6v3.5h-4.6zM40.3 38.4h3.4v4.3h-3.4zM40.3 42.7h3.4v4.3h-3.4zM40.3 46.9h3.4v4.3h-3.4zM40.3 51.2h3.4v4.3h-3.4zM74 56.3h4.3v3.4h-4.3zM43.7 13.3h3.3v3.3h-3.3zM43.7 23.2h3.3v3.3h-3.3zM43.7 26.5h3.3v3.3h-3.3zM43.7 29.8h3.3v3.3h-3.3zM43.7 33.1h3.3v3.3h-3.3zM50.3 29.8h3.3v3.3h-3.3zM50.3 33.1h3.3v3.3h-3.3zM50.3 36.5h3.3v3.3h-3.3zM50.3 39.8h3.3v3.3h-3.3zM50.3 43.1h3.3v3.3h-3.3zM50.3 46.4h3.3v3.3h-3.3zM50.3 49.7h3.3v3.3h-3.3zM53.6 26.5h3.3v3.3h-3.3zM53.6 29.8h3.3v3.3h-3.3zM53.6 33.1h3.3v3.3h-3.3zM56.9 0h3.3v3.3h-3.3zM56.9 33.1h3.3v3.3h-3.3zM56.9 36.5h3.3v3.3h-3.3zM56.9 39.8h3.3v3.3h-3.3zM60.2 16.6h3.3v3.3h-3.3zM63.5 13.3h3.3v3.3h-3.3zM63.5 16.6h3.3v3.3h-3.3zM66.9 26.5h3.3v3.3h-3.3zM80.1 9.9h3.3v3.3h-3.3zM80.1 13.3h3.3v3.3h-3.3zM80.1 36.5h3.3v3.3h-3.3zM83.4 0h3.3v3.3h-3.3zM83.4 3.3h3.3v3.3h-3.3zM83.4 26.5h3.3v3.3h-3.3zM83.4 29.8h3.3v3.3h-3.3zM83.4 33.1h3.3v3.3h-3.3zM90.1 9.9h3.3v3.3h-3.3zM93.4 46.4h3.3v3.3h-3.3zM93.4 49.7h3.3v3.3h-3.3z" fill-opacity="0.26" class="tl" stroke-width="0.46"/><path d="M0 16.7h4.6v4.2h-4.6zM88.8 95.4h5.6v4.6h-5.6zM94.4 95.4h5.6v4.6h-5.6zM31.8 90.9h5.7v4.5h-5.7zM37.5 90.9h5.7v4.5h-5.7zM43.2 90.9h5.7v4.5h-5.7zM60.2 90.9h5.7v4.5h-5.7zM9.1 40.4h4.3v5.1h-4.3zM9.1 50.5h4.3v5.1h-4.3zM9.1 55.6h4.3v5.1h-4.3zM9.1 60.6h4.3v5.1h-4.3zM52.9 82.4h3.9v4.2h-3.9zM17.6 32h4.1v4.6h-4.1zM17.6 36.6h4.1v4.6h-4.1zM17.6 41.2h4.1v4.6h-4.1zM17.6 45.8h4.1v4.6h-4.1zM17.6 50.4h4.1v4.6h-4.1zM17.6 54.9h4.1v4.6h-4.1zM78.2 78.3h4.4v4.1h-4.4zM82.6 78.3h4.4v4.1h-4.4zM86.9 78.3h4.4v4.1h-4.4zM91.3 78.3h4.4v4.1h-4.4zM95.6 78.3h4.4v4.1h-4.4zM21.7 0h4v3.7h-4zM21.7 3.7h4v3.7h-4zM21.7 7.5h4v3.7h-4zM21.7 48.5h4v3.7h-4zM21.7 52.2h4v3.7h-4zM73.7 74.4h4.4v4h-4.4zM78.1 74.4h4.4v4h-4.4zM86.9 74.4h4.4v4h-4.4zM91.2 74.4h4.4v4h-4.4zM95.6 74.4h4.4v4h-4.4zM25.6 70.5h3.8v3.9h-3.8zM29.4 70.6h4.2v3.8h-4.2zM41.9 70.6h4.2v3.8h-4.2zM33.2 52h3.6v3.7h-3.6zM33.2 55.7h3.6v3.7h-3.6zM40.3 29.9h3.4v4.3h-3.4zM40.3 55.5h3.4v4.3h-3.4zM43.7 56.3h4.3v3.4h-4.3zM48 56.3h4.3v3.4h-4.3zM82.7 56.3h4.3v3.4h-4.3zM87 56.3h4.3v3.4h-4.3zM91.3 56.3h4.3v3.4h-4.3zM43.7 36.5h3.3v3.3h-3.3zM47 36.5h3.3v3.3h-3.3zM47 53h3.3v3.3h-3.3zM56.9 19.9h3.3v3.3h-3.3zM56.9 23.2h3.3v3.3h-3.3zM60.2 39.8h3.3v3.3h-3.3zM60.2 43.1h3.3v3.3h-3.3zM60.2 46.4h3.3v3.3h-3.3zM66.9 16.6h3.3v3.3h-3.3zM66.9 39.8h3.3v3.3h-3.3zM70.2 23.2h3.3v3.3h-3.3zM70.2 26.5h3.3v3.3h-3.3zM70.2 29.8h3.3v3.3h-3.3zM70.2 33.1h3.3v3.3h-3.3zM70.2 36.5h3.3v3.3h-3.3zM73.5 36.5h3.3v3.3h-3.3zM73.5 39.8h3.3v3.3h-3.3zM73.5 43.1h3.3v3.3h-3.3zM80.1 33.1h3.3v3.3h-3.3zM80.1 53h3.3v3.3h-3.3zM90.1 16.6h3.3v3.3h-3.3zM96.7 0h3.3v3.3h-3.3zM96.7 23.2h3.3v3.3h-3.3z" fill-opacity="0.36" class="tl" stroke-width="0.46"/><path d="M21.4 95.4h5.6v4.6h-5.6zM27 95.4h5.6v4.6h-5.6zM4.6 15.9h4.5v5.3h-4.5zM4.6 21.2h4.5v5.3h-4.5zM4.6 26.5h4.5v5.3h-4.5zM4.6 31.8h4.5v5.3h-4.5zM4.6 47.7h4.5v5.3h-4.5zM4.6 53h4.5v5.3h-4.5zM4.6 58.3h4.5v5.3h-4.5zM4.6 63.6h4.5v5.3h-4.5zM4.6 84.8h4.5v5.3h-4.5zM48.8 90.9h5.7v4.5h-5.7zM61.5 86.6h4.8v4.3h-4.8zM25.4 82.4h3.9v4.2h-3.9zM17.6 18.3h4.1v4.6h-4.1zM17.6 27.5h4.1v4.6h-4.1zM60.8 78.3h4.4v4.1h-4.4zM21.7 74.6h4v3.7h-4zM33.6 70.6h4.2v3.8h-4.2zM37.7 70.6h4.2v3.8h-4.2zM29.4 19.6h3.7v3.9h-3.7zM36.9 66.8h3.7v3.7h-3.7zM40.6 66.8h3.7v3.7h-3.7zM44.3 66.8h3.7v3.7h-3.7zM33.2 44.6h3.6v3.7h-3.6zM49.4 63.2h4.2v3.6h-4.2zM91.6 63.2h4.2v3.6h-4.2zM36.8 0h3.5v4.5h-3.5zM36.8 4.5h3.5v4.5h-3.5zM36.8 9h3.5v4.5h-3.5zM36.8 13.6h3.5v4.5h-3.5zM36.8 18.1h3.5v4.5h-3.5zM36.8 40.7h3.5v4.5h-3.5zM36.8 49.7h3.5v4.5h-3.5zM36.8 54.2h3.5v4.5h-3.5zM95.4 59.7h4.6v3.5h-4.6zM40.3 8.5h3.4v4.3h-3.4zM61 56.3h4.3v3.4h-4.3zM65.3 56.3h4.3v3.4h-4.3zM47 16.6h3.3v3.3h-3.3zM47 49.7h3.3v3.3h-3.3zM50.3 53h3.3v3.3h-3.3zM53.6 0h3.3v3.3h-3.3zM60.2 19.9h3.3v3.3h-3.3zM63.5 23.2h3.3v3.3h-3.3zM70.2 43.1h3.3v3.3h-3.3zM70.2 46.4h3.3v3.3h-3.3zM73.5 3.3h3.3v3.3h-3.3zM73.5 6.6h3.3v3.3h-3.3zM73.5 9.9h3.3v3.3h-3.3zM73.5 13.3h3.3v3.3h-3.3zM73.5 26.5h3.3v3.3h-3.3zM76.8 0h3.3v3.3h-3.3zM76.8 3.3h3.3v3.3h-3.3zM76.8 6.6h3.3v3.3h-3.3zM76.8 39.8h3.3v3.3h-3.3zM76.8 43.1h3.3v3.3h-3.3zM76.8 46.4h3.3v3.3h-3.3zM76.8 49.7h3.3v3.3h-3.3zM76.8 53h3.3v3.3h-3.3zM80.1 0h3.3v3.3h-3.3zM80.1 16.6h3.3v3.3h-3.3zM80.1 19.9h3.3v3.3h-3.3zM80.1 23.2h3.3v3.3h-3.3zM80.1 26.5h3.3v3.3h-3.3zM80.1 29.8h3.3v3.3h-3.3zM80.1 43.1h3.3v3.3h-3.3zM83.4 46.4h3.3v3.3h-3.3zM83.4 49.7h3.3v3.3h-3.3zM83.4 53h3.3v3.3h-3.3z" fill-opacity="0.46" class="tl" stroke-width="0.46"/><path d="M0 29.2h4.6v4.2h-4.6zM0 33.3h4.6v4.2h-4.6zM0 37.5h4.6v4.2h-4.6zM13.4 81.5h4.2v5.1h-4.2zM37.2 82.4h3.9v4.2h-3.9zM41.1 82.4h3.9v4.2h-3.9zM45.1 82.4h3.9v4.2h-3.9zM80.4 82.4h3.9v4.2h-3.9zM84.3 82.4h3.9v4.2h-3.9zM88.2 82.4h3.9v4.2h-3.9zM92.2 82.4h3.9v4.2h-3.9zM17.6 73.3h4.1v4.6h-4.1zM17.6 77.8h4.1v4.6h-4.1zM21.7 78.3h4.4v4.1h-4.4zM26 78.3h4.4v4.1h-4.4zM30.4 78.3h4.4v4.1h-4.4zM46 70.6h4.2v3.8h-4.2zM33.2 66.8h3.7v3.7h-3.7zM51.7 66.8h3.7v3.7h-3.7zM66.6 66.8h3.7v3.7h-3.7zM70.3 66.8h3.7v3.7h-3.7zM74 66.8h3.7v3.7h-3.7zM77.7 66.8h3.7v3.7h-3.7zM40.3 12.8h3.4v4.3h-3.4zM43.7 3.3h3.3v3.3h-3.3zM43.7 6.6h3.3v3.3h-3.3zM43.7 9.9h3.3v3.3h-3.3zM47 26.5h3.3v3.3h-3.3zM47 39.8h3.3v3.3h-3.3zM47 43.1h3.3v3.3h-3.3zM50.3 9.9h3.3v3.3h-3.3zM50.3 13.3h3.3v3.3h-3.3zM50.3 16.6h3.3v3.3h-3.3zM50.3 19.9h3.3v3.3h-3.3zM53.6 6.6h3.3v3.3h-3.3zM53.6 9.9h3.3v3.3h-3.3zM56.9 26.5h3.3v3.3h-3.3zM56.9 29.8h3.3v3.3h-3.3zM56.9 46.4h3.3v3.3h-3.3zM63.5 6.6h3.3v3.3h-3.3zM63.5 19.9h3.3v3.3h-3.3zM70.2 9.9h3.3v3.3h-3.3zM76.8 19.9h3.3v3.3h-3.3zM76.8 23.2h3.3v3.3h-3.3zM76.8 26.5h3.3v3.3h-3.3zM76.8 33.1h3.3v3.3h-3.3zM83.4 43.1h3.3v3.3h-3.3zM86.7 3.3h3.3v3.3h-3.3zM86.7 6.6h3.3v3.3h-3.3zM86.7 13.3h3.3v3.3h-3.3zM86.7 49.7h3.3v3.3h-3.3zM90.1 49.7h3.3v3.3h-3.3zM90.1 53h3.3v3.3h-3.3zM93.4 0h3.3v3.3h-3.3zM93.4 3.3h3.3v3.3h-3.3zM93.4 6.6h3.3v3.3h-3.3zM96.7 9.9h3.3v3.3h-3.3zM96.7 13.3h3.3v3.3h-3.3z" fill-opacity="0.56" class="tl" stroke-width="0.46"/><path d="M0 45.8h4.6v4.2h-4.6zM4.6 95.4h5.6v4.6h-5.6zM10.2 95.4h5.6v4.6h-5.6zM15.8 95.4h5.6v4.6h-5.6zM94.3 90.9h5.7v4.5h-5.7zM9.1 15.2h4.3v5.1h-4.3zM9.1 20.2h4.3v5.1h-4.3zM9.1 25.3h4.3v5.1h-4.3zM9.1 30.3h4.3v5.1h-4.3zM9.1 35.4h4.3v5.1h-4.3zM9.1 70.7h4.3v5.1h-4.3zM9.1 75.8h4.3v5.1h-4.3zM9.1 80.8h4.3v5.1h-4.3zM9.1 85.9h4.3v5.1h-4.3zM13.4 86.6h4.8v4.3h-4.8zM18.2 86.6h4.8v4.3h-4.8zM37.4 86.6h4.8v4.3h-4.8zM42.3 86.6h4.8v4.3h-4.8zM47.1 86.6h4.8v4.3h-4.8zM51.9 86.6h4.8v4.3h-4.8zM56.7 86.6h4.8v4.3h-4.8zM13.4 45.9h4.2v5.1h-4.2zM13.4 50.9h4.2v5.1h-4.2zM17.6 4.6h4.1v4.6h-4.1zM65.2 78.3h4.4v4.1h-4.4zM69.5 78.3h4.4v4.1h-4.4zM73.9 78.3h4.4v4.1h-4.4zM21.7 14.9h4v3.7h-4zM25.6 31.3h3.8v3.9h-3.8zM25.6 35.2h3.8v3.9h-3.8zM75.1 70.6h4.2v3.8h-4.2zM29.4 31.4h3.7v3.9h-3.7zM29.4 35.3h3.7v3.9h-3.7zM33.2 7.4h3.6v3.7h-3.6zM33.2 11.1h3.6v3.7h-3.6zM33.2 14.9h3.6v3.7h-3.6zM33.2 22.3h3.6v3.7h-3.6zM33.2 26h3.6v3.7h-3.6zM33.2 29.7h3.6v3.7h-3.6zM33.2 40.8h3.6v3.7h-3.6zM87.4 63.2h4.2v3.6h-4.2zM36.8 58.7h3.5v4.5h-3.5zM40.3 59.7h4.6v3.5h-4.6zM44.9 59.7h4.6v3.5h-4.6zM49.5 59.7h4.6v3.5h-4.6zM43.7 0h3.3v3.3h-3.3zM43.7 16.6h3.3v3.3h-3.3zM43.7 19.9h3.3v3.3h-3.3zM47 19.9h3.3v3.3h-3.3zM47 23.2h3.3v3.3h-3.3zM50.3 0h3.3v3.3h-3.3zM50.3 3.3h3.3v3.3h-3.3zM50.3 6.6h3.3v3.3h-3.3zM53.6 3.3h3.3v3.3h-3.3zM53.6 13.3h3.3v3.3h-3.3zM56.9 6.6h3.3v3.3h-3.3zM56.9 43.1h3.3v3.3h-3.3zM56.9 53h3.3v3.3h-3.3zM60.2 0h3.3v3.3h-3.3zM60.2 3.3h3.3v3.3h-3.3zM60.2 23.2h3.3v3.3h-3.3zM60.2 26.5h3.3v3.3h-3.3zM60.2 29.8h3.3v3.3h-3.3zM60.2 33.1h3.3v3.3h-3.3zM60.2 36.5h3.3v3.3h-3.3zM60.2 49.7h3.3v3.3h-3.3zM63.5 3.3h3.3v3.3h-3.3zM66.9 29.8h3.3v3.3h-3.3zM70.2 13.3h3.3v3.3h-3.3zM70.2 16.6h3.3v3.3h-3.3zM76.8 29.8h3.3v3.3h-3.3zM86.7 16.6h3.3v3.3h-3.3zM86.7 19.9h3.3v3.3h-3.3zM93.4 36.5h3.3v3.3h-3.3zM96.7 26.5h3.3v3.3h-3.3z" fill-opacity="0.66" class="tl" stroke-width="0.46"/><path d="M0 50h4.6v4.2h-4.6zM0 54.2h4.6v4.2h-4.6zM0 58.3h4.6v4.2h-4.6zM0 62.5h4.6v4.2h-4.6zM4.6 42.4h4.5v5.3h-4.5zM65.9 90.9h5.7v4.5h-5.7zM71.6 90.9h5.7v4.5h-5.7zM77.3 90.9h5.7v4.5h-5.7zM9.1 0h4.3v5.1h-4.3zM9.1 65.7h4.3v5.1h-4.3zM13.4 35.7h4.2v5.1h-4.2zM13.4 40.8h4.2v5.1h-4.2zM13.4 56h4.2v5.1h-4.2zM13.4 61.1h4.2v5.1h-4.2zM13.4 66.2h4.2v5.1h-4.2zM13.4 71.3h4.2v5.1h-4.2zM13.4 76.4h4.2v5.1h-4.2zM17.6 82.4h3.9v4.2h-3.9zM21.5 82.4h3.9v4.2h-3.9zM96.1 82.4h3.9v4.2h-3.9zM17.6 0h4.1v4.6h-4.1zM17.6 9.2h4.1v4.6h-4.1zM39.1 78.3h4.4v4.1h-4.4zM25.6 74.4h4.4v4h-4.4zM30 74.4h4.4v4h-4.4zM82.5 74.4h4.4v4h-4.4zM25.6 11.7h3.8v3.9h-3.8zM25.6 39.2h3.8v3.9h-3.8zM25.6 43.1h3.8v3.9h-3.8zM25.6 47h3.8v3.9h-3.8zM29.4 7.8h3.7v3.9h-3.7zM29.4 11.8h3.7v3.9h-3.7zM29.4 39.2h3.7v3.9h-3.7zM33.2 48.3h3.6v3.7h-3.6zM57.8 63.2h4.2v3.6h-4.2zM62.1 63.2h4.2v3.6h-4.2zM66.3 63.2h4.2v3.6h-4.2zM70.5 63.2h4.2v3.6h-4.2zM74.7 63.2h4.2v3.6h-4.2zM78.9 63.2h4.2v3.6h-4.2zM83.1 63.2h4.2v3.6h-4.2zM95.8 63.2h4.2v3.6h-4.2zM43.7 39.8h3.3v3.3h-3.3zM43.7 43.1h3.3v3.3h-3.3zM43.7 46.4h3.3v3.3h-3.3zM60.2 53h3.3v3.3h-3.3zM63.5 0h3.3v3.3h-3.3zM63.5 33.1h3.3v3.3h-3.3zM63.5 36.5h3.3v3.3h-3.3zM63.5 46.4h3.3v3.3h-3.3zM63.5 49.7h3.3v3.3h-3.3zM63.5 53h3.3v3.3h-3.3zM66.9 0h3.3v3.3h-3.3zM66.9 23.2h3.3v3.3h-3.3zM70.2 6.6h3.3v3.3h-3.3zM70.2 53h3.3v3.3h-3.3zM73.5 0h3.3v3.3h-3.3zM73.5 49.7h3.3v3.3h-3.3zM73.5 53h3.3v3.3h-3.3zM80.1 3.3h3.3v3.3h-3.3zM80.1 6.6h3.3v3.3h-3.3zM83.4 16.6h3.3v3.3h-3.3zM83.4 19.9h3.3v3.3h-3.3zM83.4 23.2h3.3v3.3h-3.3zM86.7 0h3.3v3.3h-3.3zM86.7 23.2h3.3v3.3h-3.3zM86.7 26.5h3.3v3.3h-3.3zM86.7 29.8h3.3v3.3h-3.3zM86.7 33.1h3.3v3.3h-3.3zM86.7 36.5h3.3v3.3h-3.3zM86.7 39.8h3.3v3.3h-3.3zM86.7 43.1h3.3v3.3h-3.3zM90.1 23.2h3.3v3.3h-3.3zM90.1 26.5h3.3v3.3h-3.3zM90.1 29.8h3.3v3.3h-3.3zM90.1 33.1h3.3v3.3h-3.3zM96.7 46.4h3.3v3.3h-3.3zM96.7 49.7h3.3v3.3h-3.3z" fill-opacity="0.74" class="tl" stroke-width="0.46"/></pattern><rect id="qU01" width="100" height="100" fill="url(#U01)"/><pattern id="U10" width="100" height="100" patternUnits="userSpaceOnUse"><path d="M0 28.6h6.2v7.1h-6.2zM0 35.7h6.2v7.1h-6.2zM0 42.9h6.2v7.1h-6.2zM0 50h6.2v7.1h-6.2zM0 57.1h6.2v7.1h-6.2zM0 64.3h6.2v7.1h-6.2zM0 78.6h6.2v7.1h-6.2zM12.2 50.2h5.8v6.3h-5.8zM18 0h5.7v6.8h-5.7zM18 6.8h5.7v6.8h-5.7zM18 13.7h5.7v6.8h-5.7zM18 20.5h5.7v6.8h-5.7zM18 27.3h5.7v6.8h-5.7zM18 47.8h5.7v6.8h-5.7zM18 54.6h5.7v6.8h-5.7zM18 61.5h5.7v6.8h-5.7zM39.7 23.2h5v4.6h-5zM39.7 27.8h5v4.6h-5zM39.7 32.5h5v4.6h-5zM49.6 50.4h4.6v4.9h-4.6zM54.1 50.4h4.6v4.9h-4.6zM58.7 50.4h4.6v4.9h-4.6zM77.1 50.4h4.6v4.9h-4.6zM54.3 11.4h4.6v5.7h-4.6zM77.1 0h4.6v4.6h-4.6zM95.4 4.6h4.6v4.6h-4.6z" class="tn" stroke-width="0.62"/><path d="M0 14.3h6.2v7.1h-6.2zM50.6 87.8h5.5v6h-5.5zM56.1 87.8h5.5v6h-5.5zM47.8 82h7.5v5.8h-7.5zM39 76.3h7.6v5.7h-7.6zM46.6 76.3h7.6v5.7h-7.6zM46.4 65.5h6v5.3h-6zM69.8 60.3h5v5.2h-5zM89.9 60.3h5v5.2h-5zM49.6 40.4h4.7v5h-4.7zM49.6 45.4h4.7v5h-4.7zM58.8 36.6h4.6v4.6h-4.6zM63.4 0h4.6v4.6h-4.6zM63.4 4.6h4.6v4.6h-4.6zM77.1 9.1h4.6v4.6h-4.6zM77.1 13.7h4.6v4.6h-4.6zM77.1 18.3h4.6v4.6h-4.6zM77.1 22.9h4.6v4.6h-4.6zM86.3 36.6h4.6v4.6h-4.6zM90.9 0h4.6v4.6h-4.6zM90.9 4.6h4.6v4.6h-4.6zM95.4 22.9h4.6v4.6h-4.6zM95.4 27.4h4.6v4.6h-4.6zM95.4 32h4.6v4.6h-4.6z" fill-opacity="0.03" class="tl" stroke-width="0.62"/><path d="M6.2 53.6h6v6.7h-6zM6.2 60.3h6v6.7h-6zM94.5 87.8h5.5v6h-5.5zM12.2 75.2h5.8v6.3h-5.8zM40.4 82h7.5v5.8h-7.5zM23.7 71.2h5.5v5.1h-5.5zM29.2 0h5.3v6.4h-5.3zM29.2 6.4h5.3v6.4h-5.3zM34.5 0h5.2v6.5h-5.2zM34.5 6.5h5.2v6.5h-5.2zM34.5 13.1h5.2v6.5h-5.2zM34.5 19.6h5.2v6.5h-5.2zM34.5 58.9h5.2v6.5h-5.2zM39.7 37.1h5v4.6h-5zM39.7 41.8h5v4.6h-5zM77.9 55.3h5.5v5h-5.5zM94.5 55.3h5.5v5h-5.5zM44.7 0h4.9v6.1h-4.9zM44.7 6.1h4.9v6.1h-4.9zM77.1 41.2h4.6v4.6h-4.6zM58.8 32h4.6v4.6h-4.6zM77.1 4.6h4.6v4.6h-4.6z" fill-opacity="0.08" class="tl" stroke-width="0.62"/><path d="M76.5 93.8h7.8v6.2h-7.8zM6.2 26.8h6v6.7h-6zM6.2 33.5h6v6.7h-6zM12.2 43.9h5.8v6.3h-5.8zM25.5 82h7.5v5.8h-7.5zM32.9 82h7.5v5.8h-7.5zM54.2 76.3h7.6v5.7h-7.6zM61.9 76.3h7.6v5.7h-7.6zM23.7 10.2h5.5v5.1h-5.5zM23.7 15.3h5.5v5.1h-5.5zM70.5 70.8h5.9v5.5h-5.9zM76.4 70.8h5.9v5.5h-5.9zM82.3 70.8h5.9v5.5h-5.9zM88.2 70.8h5.9v5.5h-5.9zM29.2 19.3h5.3v6.4h-5.3zM29.2 25.7h5.3v6.4h-5.3zM29.2 38.6h5.3v6.4h-5.3zM52.4 65.5h6v5.3h-6zM74.9 60.3h5v5.2h-5zM44.7 36.9h4.9v6.1h-4.9zM44.7 43h4.9v6.1h-4.9zM58.8 4.6h4.6v4.6h-4.6zM58.8 9.1h4.6v4.6h-4.6zM58.8 13.7h4.6v4.6h-4.6zM68 18.3h4.6v4.6h-4.6zM68 22.9h4.6v4.6h-4.6zM68 27.4h4.6v4.6h-4.6zM68 32h4.6v4.6h-4.6zM81.7 0h4.6v4.6h-4.6zM81.7 4.6h4.6v4.6h-4.6zM86.3 0h4.6v4.6h-4.6zM86.3 9.1h4.6v4.6h-4.6zM86.3 13.7h4.6v4.6h-4.6zM90.9 9.1h4.6v4.6h-4.6zM90.9 13.7h4.6v4.6h-4.6zM90.9 18.3h4.6v4.6h-4.6zM90.9 22.9h4.6v4.6h-4.6z" fill-opacity="0.16" class="tl" stroke-width="0.62"/><path d="M45.3 93.8h7.8v6.2h-7.8zM6.2 46.9h6v6.7h-6zM34.2 87.8h5.5v6h-5.5zM39.6 87.8h5.5v6h-5.5zM72.6 87.8h5.5v6h-5.5zM78.1 87.8h5.5v6h-5.5zM83.5 87.8h5.5v6h-5.5zM12.2 31.4h5.8v6.3h-5.8zM12.2 37.6h5.8v6.3h-5.8zM70.2 82h7.5v5.8h-7.5zM77.6 82h7.5v5.8h-7.5zM85.1 82h7.5v5.8h-7.5zM92.5 82h7.5v5.8h-7.5zM29.2 70.8h5.9v5.5h-5.9zM29.2 45.1h5.3v6.4h-5.3zM29.2 51.5h5.3v6.4h-5.3zM58.3 65.5h6v5.3h-6zM34.5 26.2h5.2v6.5h-5.2zM34.5 32.7h5.2v6.5h-5.2zM34.5 39.3h5.2v6.5h-5.2zM34.5 45.8h5.2v6.5h-5.2zM34.5 52.4h5.2v6.5h-5.2zM39.7 9.3h5v4.6h-5zM39.7 13.9h5v4.6h-5zM39.7 18.6h5v4.6h-5zM66.8 55.3h5.5v5h-5.5zM72.3 55.3h5.5v5h-5.5zM44.7 49.2h4.9v6.1h-4.9zM49.6 5h4.7v5h-4.7zM49.6 10.1h4.7v5h-4.7zM49.6 15.1h4.7v5h-4.7zM49.6 20.2h4.7v5h-4.7zM49.6 25.2h4.7v5h-4.7zM49.6 30.3h4.7v5h-4.7zM49.6 35.3h4.7v5h-4.7zM58.8 22.9h4.6v4.6h-4.6zM68 36.6h4.6v4.6h-4.6zM81.7 9.1h4.6v4.6h-4.6zM86.3 18.3h4.6v4.6h-4.6zM95.4 36.6h4.6v4.6h-4.6z" fill-opacity="0.26" class="tl" stroke-width="0.62"/><path d="M0 21.4h6.2v7.1h-6.2zM21.8 93.8h7.8v6.2h-7.8zM29.6 93.8h7.8v6.2h-7.8zM37.5 93.8h7.8v6.2h-7.8zM6.2 20.1h6v6.7h-6zM6.2 87.1h6v6.7h-6zM55.3 82h7.5v5.8h-7.5zM62.7 82h7.5v5.8h-7.5zM69.5 76.3h7.6v5.7h-7.6zM77.1 76.3h7.6v5.7h-7.6zM23.7 20.3h5.5v5.1h-5.5zM23.7 25.4h5.5v5.1h-5.5zM23.7 30.5h5.5v5.1h-5.5zM23.7 35.6h5.5v5.1h-5.5zM23.7 40.7h5.5v5.1h-5.5zM23.7 45.8h5.5v5.1h-5.5zM23.7 61h5.5v5.1h-5.5zM23.7 66.1h5.5v5.1h-5.5zM29.2 12.9h5.3v6.4h-5.3zM29.2 57.9h5.3v6.4h-5.3zM29.2 64.4h5.3v6.4h-5.3zM34.5 65.5h6v5.3h-6zM82.1 65.5h6v5.3h-6zM39.7 60.3h5v5.2h-5zM44.7 60.3h5v5.2h-5zM83.4 55.3h5.5v5h-5.5zM88.9 55.3h5.5v5h-5.5zM86.2 50.4h4.6v4.9h-4.6zM90.8 50.4h4.6v4.9h-4.6zM95.4 50.4h4.6v4.9h-4.6zM49.6 0h4.7v5h-4.7zM82.8 45.7h5.7v4.7h-5.7zM88.6 45.7h5.7v4.7h-5.7zM94.3 45.7h5.7v4.7h-5.7zM54.3 0h4.6v5.7h-4.6zM54.3 5.7h4.6v5.7h-4.6zM81.7 41.2h4.6v4.6h-4.6zM86.3 41.2h4.6v4.6h-4.6zM58.8 18.3h4.6v4.6h-4.6zM68 9.1h4.6v4.6h-4.6zM72.6 32h4.6v4.6h-4.6zM72.6 36.6h4.6v4.6h-4.6zM77.1 32h4.6v4.6h-4.6zM77.1 36.6h4.6v4.6h-4.6zM81.7 22.9h4.6v4.6h-4.6zM81.7 27.4h4.6v4.6h-4.6zM81.7 32h4.6v4.6h-4.6z" fill-opacity="0.36" class="tl" stroke-width="0.62"/><path d="M0 85.7h6.2v7.1h-6.2zM0 92.9h6.2v7.1h-6.2zM6.2 93.8h7.8v6.2h-7.8zM14 93.8h7.8v6.2h-7.8zM53.1 93.8h7.8v6.2h-7.8zM60.9 93.8h7.8v6.2h-7.8zM68.7 93.8h7.8v6.2h-7.8zM92.2 93.8h7.8v6.2h-7.8zM6.2 0h6v6.7h-6zM6.2 6.7h6v6.7h-6zM6.2 40.2h6v6.7h-6zM12.2 87.8h5.5v6h-5.5zM17.7 87.8h5.5v6h-5.5zM28.7 87.8h5.5v6h-5.5zM12.2 69h5.8v6.3h-5.8zM12.2 81.5h5.8v6.3h-5.8zM18 82h7.5v5.8h-7.5zM84.7 76.3h7.6v5.7h-7.6zM92.4 76.3h7.6v5.7h-7.6zM23.7 0h5.5v5.1h-5.5zM23.7 5.1h5.5v5.1h-5.5zM29.2 32.2h5.3v6.4h-5.3zM50.2 55.3h5.5v5h-5.5zM55.8 55.3h5.5v5h-5.5zM61.3 55.3h5.5v5h-5.5zM44.7 12.3h4.9v6.1h-4.9zM44.7 18.4h4.9v6.1h-4.9zM44.7 24.6h4.9v6.1h-4.9zM54.3 28.6h4.6v5.7h-4.6zM54.3 34.3h4.6v5.7h-4.6zM54.3 40h4.6v5.7h-4.6zM95.4 41.2h4.6v4.6h-4.6zM58.8 0h4.6v4.6h-4.6zM58.8 27.4h4.6v4.6h-4.6zM72.6 0h4.6v4.6h-4.6zM72.6 18.3h4.6v4.6h-4.6zM90.9 27.4h4.6v4.6h-4.6zM95.4 13.7h4.6v4.6h-4.6zM95.4 18.3h4.6v4.6h-4.6z" fill-opacity="0.46" class="tl" stroke-width="0.62"/><path d="M0 0h6.2v7.1h-6.2zM0 7.1h6.2v7.1h-6.2zM12.2 12.5h5.8v6.3h-5.8zM12.2 18.8h5.8v6.3h-5.8zM18 41h5.7v6.8h-5.7zM23.7 50.9h5.5v5.1h-5.5zM23.7 55.9h5.5v5.1h-5.5zM40.5 65.5h6v5.3h-6zM64.3 65.5h6v5.3h-6zM70.2 65.5h6v5.3h-6zM76.2 65.5h6v5.3h-6zM88.1 65.5h6v5.3h-6zM39.7 46.4h5v4.6h-5zM39.7 51h5v4.6h-5zM39.7 55.7h5v4.6h-5zM44.7 55.3h5.5v5h-5.5zM81.7 50.4h4.6v4.9h-4.6zM54.3 45.7h5.7v4.7h-5.7zM63.4 27.4h4.6v4.6h-4.6zM63.4 32h4.6v4.6h-4.6zM63.4 36.6h4.6v4.6h-4.6zM72.6 4.6h4.6v4.6h-4.6zM72.6 9.1h4.6v4.6h-4.6zM72.6 13.7h4.6v4.6h-4.6zM72.6 22.9h4.6v4.6h-4.6zM77.1 27.4h4.6v4.6h-4.6zM81.7 36.6h4.6v4.6h-4.6zM86.3 22.9h4.6v4.6h-4.6zM86.3 27.4h4.6v4.6h-4.6zM90.9 32h4.6v4.6h-4.6zM90.9 36.6h4.6v4.6h-4.6zM95.4 0h4.6v4.6h-4.6zM95.4 9.1h4.6v4.6h-4.6z" fill-opacity="0.56" class="tl" stroke-width="0.62"/><path d="M84.4 93.8h7.8v6.2h-7.8zM6.2 13.4h6v6.7h-6zM23.2 87.8h5.5v6h-5.5zM12.2 56.4h5.8v6.3h-5.8zM12.2 62.7h5.8v6.3h-5.8zM18 68.3h5.7v6.8h-5.7zM18 75.1h5.7v6.8h-5.7zM23.7 76.3h7.6v5.7h-7.6zM31.3 76.3h7.6v5.7h-7.6zM35.1 70.8h5.9v5.5h-5.9zM41 70.8h5.9v5.5h-5.9zM46.9 70.8h5.9v5.5h-5.9zM52.8 70.8h5.9v5.5h-5.9zM58.7 70.8h5.9v5.5h-5.9zM64.6 70.8h5.9v5.5h-5.9zM94 65.5h6v5.3h-6zM49.7 60.3h5v5.2h-5zM54.8 60.3h5v5.2h-5zM59.8 60.3h5v5.2h-5zM64.8 60.3h5v5.2h-5zM95 60.3h5v5.2h-5zM39.7 0h5v4.6h-5zM39.7 4.6h5v4.6h-5zM44.7 30.7h4.9v6.1h-4.9zM60 45.7h5.7v4.7h-5.7zM65.7 45.7h5.7v4.7h-5.7zM71.4 45.7h5.7v4.7h-5.7zM77.1 45.7h5.7v4.7h-5.7zM68 41.2h4.6v4.6h-4.6zM72.6 41.2h4.6v4.6h-4.6zM90.9 41.2h4.6v4.6h-4.6zM63.4 18.3h4.6v4.6h-4.6zM63.4 22.9h4.6v4.6h-4.6zM68 13.7h4.6v4.6h-4.6zM86.3 4.6h4.6v4.6h-4.6zM86.3 32h4.6v4.6h-4.6z" fill-opacity="0.66" class="tl" stroke-width="0.62"/><path d="M0 71.4h6.2v7.1h-6.2zM6.2 67h6v6.7h-6zM6.2 73.7h6v6.7h-6zM6.2 80.4h6v6.7h-6zM45.1 87.8h5.5v6h-5.5zM61.6 87.8h5.5v6h-5.5zM67.1 87.8h5.5v6h-5.5zM89 87.8h5.5v6h-5.5zM12.2 0h5.8v6.3h-5.8zM12.2 6.3h5.8v6.3h-5.8zM12.2 25.1h5.8v6.3h-5.8zM18 34.1h5.7v6.8h-5.7zM94.1 70.8h5.9v5.5h-5.9zM79.9 60.3h5v5.2h-5zM84.9 60.3h5v5.2h-5zM63.3 50.4h4.6v4.9h-4.6zM67.9 50.4h4.6v4.9h-4.6zM72.5 50.4h4.6v4.9h-4.6zM54.3 17.2h4.6v5.7h-4.6zM54.3 22.9h4.6v5.7h-4.6zM58.8 41.2h4.6v4.6h-4.6zM63.4 41.2h4.6v4.6h-4.6zM63.4 9.1h4.6v4.6h-4.6zM63.4 13.7h4.6v4.6h-4.6zM68 0h4.6v4.6h-4.6zM68 4.6h4.6v4.6h-4.6zM72.6 27.4h4.6v4.6h-4.6zM81.7 13.7h4.6v4.6h-4.6zM81.7 18.3h4.6v4.6h-4.6z" fill-opacity="0.74" class="tl" stroke-width="0.62"/></pattern><rect id="qU10" width="100" height="100" fill="url(#U10)"/><pattern id="U11" width="100" height="100" patternUnits="userSpaceOnUse"><path d="M0 61.5h6.2v7.7h-6.2zM78.4 93.8h7.2v6.2h-7.2zM85.6 93.8h7.2v6.2h-7.2zM92.8 93.8h7.2v6.2h-7.2zM6.2 0h6v6.7h-6zM6.2 6.7h6v6.7h-6zM6.2 13.4h6v6.7h-6zM77.6 82h7.5v5.8h-7.5zM85.1 82h7.5v5.8h-7.5zM23.7 31.8h5.5v6.4h-5.5zM23.7 38.1h5.5v6.4h-5.5zM34.5 14h5.2v4.7h-5.2zM34.5 18.7h5.2v4.7h-5.2zM34.5 23.4h5.2v4.7h-5.2zM34.5 28.1h5.2v4.7h-5.2zM46.4 60.3h6.7v5.2h-6.7zM53.1 60.3h6.7v5.2h-6.7zM79.9 60.3h6.7v5.2h-6.7zM79.8 50.4h5v4.9h-5zM58.8 27.4h4.6v4.6h-4.6zM72.6 13.7h4.6v4.6h-4.6zM72.6 18.3h4.6v4.6h-4.6zM72.6 22.9h4.6v4.6h-4.6zM72.6 27.4h4.6v4.6h-4.6zM77.1 32h4.6v4.6h-4.6zM77.1 36.6h4.6v4.6h-4.6zM81.7 0h4.6v4.6h-4.6zM81.7 4.6h4.6v4.6h-4.6zM81.7 9.1h4.6v4.6h-4.6zM81.7 13.7h4.6v4.6h-4.6zM81.7 36.6h4.6v4.6h-4.6zM90.9 18.3h4.6v4.6h-4.6zM95.4 18.3h4.6v4.6h-4.6zM95.4 22.9h4.6v4.6h-4.6zM95.4 27.4h4.6v4.6h-4.6zM95.4 32h4.6v4.6h-4.6zM95.4 36.6h4.6v4.6h-4.6z" class="tn" stroke-width="0.62"/><path d="M0 30.8h6.2v7.7h-6.2zM34.2 87.8h7.3v6h-7.3zM41.5 87.8h7.3v6h-7.3zM40.4 82h7.5v5.8h-7.5zM18 20.5h5.7v6.8h-5.7zM18 27.3h5.7v6.8h-5.7zM18 47.8h5.7v6.8h-5.7zM42.8 76.3h6.4v5.7h-6.4zM49.1 76.3h6.4v5.7h-6.4zM55.5 76.3h6.4v5.7h-6.4zM61.9 76.3h6.4v5.7h-6.4zM68.2 76.3h6.4v5.7h-6.4zM23.7 19.1h5.5v6.4h-5.5zM29.2 17.7h5.3v5.9h-5.3zM29.2 23.6h5.3v5.9h-5.3zM29.2 47.2h5.3v5.9h-5.3zM29.2 53.1h5.3v5.9h-5.3zM29.2 59h5.3v5.9h-5.3zM39.7 60.3h6.7v5.2h-6.7zM44.7 43h4.9v6.1h-4.9zM44.7 49.2h4.9v6.1h-4.9zM54.6 50.4h5v4.9h-5zM59.6 50.4h5v4.9h-5zM58.8 22.9h4.6v4.6h-4.6zM68 9.1h4.6v4.6h-4.6zM86.3 0h4.6v4.6h-4.6zM86.3 4.6h4.6v4.6h-4.6zM86.3 27.4h4.6v4.6h-4.6zM90.9 22.9h4.6v4.6h-4.6zM95.4 13.7h4.6v4.6h-4.6z" fill-opacity="0.03" class="tl" stroke-width="0.62"/><path d="M0 7.7h6.2v7.7h-6.2zM12.2 54h5.8v6.8h-5.8zM12.2 60.8h5.8v6.8h-5.8zM12.2 67.5h5.8v6.8h-5.8zM12.2 74.3h5.8v6.8h-5.8zM12.2 81h5.8v6.8h-5.8zM18 82h7.5v5.8h-7.5zM25.5 82h7.5v5.8h-7.5zM32.9 82h7.5v5.8h-7.5zM23.7 44.5h5.5v6.4h-5.5zM23.7 50.9h5.5v6.4h-5.5zM23.7 57.2h5.5v6.4h-5.5zM41 70.8h5.9v5.5h-5.9zM29.2 64.9h5.3v5.9h-5.3zM34.5 32.7h5.2v4.7h-5.2zM34.5 37.4h5.2v4.7h-5.2zM34.5 42.1h5.2v4.7h-5.2zM34.5 46.8h5.2v4.7h-5.2zM34.5 51.4h5.2v4.7h-5.2zM34.5 56.1h5.2v4.7h-5.2zM39.7 0h5v5h-5zM39.7 5h5v5h-5zM44.7 30.7h4.9v6.1h-4.9zM44.7 36.9h4.9v6.1h-4.9zM54.3 45.7h4.6v4.7h-4.6zM58.8 45.7h4.6v4.7h-4.6zM63.4 45.7h4.6v4.7h-4.6zM54.3 13.7h4.6v4.6h-4.6zM54.3 32h4.6v4.6h-4.6zM58.8 32h4.6v4.6h-4.6zM72.6 32h4.6v4.6h-4.6zM72.6 36.6h4.6v4.6h-4.6zM81.7 18.3h4.6v4.6h-4.6zM81.7 22.9h4.6v4.6h-4.6zM95.4 9.1h4.6v4.6h-4.6z" fill-opacity="0.08" class="tl" stroke-width="0.62"/><path d="M0 53.8h6.2v7.7h-6.2zM12.2 27h5.8v6.8h-5.8zM92.5 82h7.5v5.8h-7.5zM18 68.3h5.7v6.8h-5.7zM18 75.1h5.7v6.8h-5.7zM23.7 76.3h6.4v5.7h-6.4zM23.7 63.6h5.5v6.4h-5.5zM29.2 11.8h5.3v5.9h-5.3zM39.7 50.3h5v5h-5zM39.7 55.3h5v5h-5zM49.7 55.3h5v5h-5zM54.7 55.3h5v5h-5zM59.8 55.3h5v5h-5zM64.8 55.3h5v5h-5zM69.8 55.3h5v5h-5zM74.9 55.3h5v5h-5zM79.9 55.3h5v5h-5zM84.9 55.3h5v5h-5zM44.7 12.3h4.9v6.1h-4.9zM64.7 50.4h5v4.9h-5zM69.7 50.4h5v4.9h-5zM74.8 50.4h5v4.9h-5zM77.1 18.3h4.6v4.6h-4.6zM77.1 22.9h4.6v4.6h-4.6zM77.1 27.4h4.6v4.6h-4.6zM81.7 27.4h4.6v4.6h-4.6zM81.7 32h4.6v4.6h-4.6zM90.9 9.1h4.6v4.6h-4.6zM90.9 13.7h4.6v4.6h-4.6z" fill-opacity="0.16" class="tl" stroke-width="0.62"/><path d="M0 46.2h6.2v7.7h-6.2zM12.2 87.8h7.3v6h-7.3zM19.5 87.8h7.3v6h-7.3zM26.8 87.8h7.3v6h-7.3zM56.1 87.8h7.3v6h-7.3zM63.4 87.8h7.3v6h-7.3zM12.2 0h5.8v6.8h-5.8zM93.6 76.3h6.4v5.7h-6.4zM29.2 70.8h5.9v5.5h-5.9zM35.1 70.8h5.9v5.5h-5.9zM46.9 70.8h5.9v5.5h-5.9zM88.2 70.8h5.9v5.5h-5.9zM29.2 0h5.3v5.9h-5.3zM86.6 60.3h6.7v5.2h-6.7zM84.9 50.4h5v4.9h-5zM49.6 16.8h4.7v5.6h-4.7zM49.6 22.4h4.7v5.6h-4.7zM49.6 28h4.7v5.6h-4.7zM49.6 33.6h4.7v5.6h-4.7zM49.6 39.2h4.7v5.6h-4.7zM49.6 44.8h4.7v5.6h-4.7zM54.3 4.6h4.6v4.6h-4.6zM54.3 9.1h4.6v4.6h-4.6zM54.3 36.6h4.6v4.6h-4.6zM54.3 41.2h4.6v4.6h-4.6zM58.8 41.2h5.1v4.6h-5.1zM64 41.2h5.1v4.6h-5.1zM58.8 18.3h4.6v4.6h-4.6zM63.4 0h4.6v4.6h-4.6zM63.4 4.6h4.6v4.6h-4.6zM63.4 9.1h4.6v4.6h-4.6zM63.4 27.4h4.6v4.6h-4.6zM68 13.7h4.6v4.6h-4.6zM72.6 0h4.6v4.6h-4.6zM72.6 4.6h4.6v4.6h-4.6zM72.6 9.1h4.6v4.6h-4.6zM86.3 32h4.6v4.6h-4.6zM86.3 36.6h4.6v4.6h-4.6zM90.9 0h4.6v4.6h-4.6zM90.9 4.6h4.6v4.6h-4.6z" fill-opacity="0.26" class="tl" stroke-width="0.62"/><path d="M0 38.5h6.2v7.7h-6.2zM27.8 93.8h7.2v6.2h-7.2zM35.1 93.8h7.2v6.2h-7.2zM48.8 87.8h7.3v6h-7.3zM55.3 82h7.5v5.8h-7.5zM62.7 82h7.5v5.8h-7.5zM18 34.1h5.7v6.8h-5.7zM18 41h5.7v6.8h-5.7zM74.6 76.3h6.4v5.7h-6.4zM23.7 0h5.5v6.4h-5.5zM23.7 25.4h5.5v6.4h-5.5zM89.9 55.3h5v5h-5zM44.7 24.6h4.9v6.1h-4.9zM72.6 45.7h4.6v4.7h-4.6zM86.3 45.7h4.6v4.7h-4.6zM90.9 45.7h4.6v4.7h-4.6zM95.4 45.7h4.6v4.7h-4.6zM54.3 0h4.6v4.6h-4.6zM74.3 41.2h5.1v4.6h-5.1zM79.4 41.2h5.1v4.6h-5.1zM84.6 41.2h5.1v4.6h-5.1zM89.7 41.2h5.1v4.6h-5.1zM94.9 41.2h5.1v4.6h-5.1z" fill-opacity="0.36" class="tl" stroke-width="0.62"/><path d="M20.6 93.8h7.2v6.2h-7.2zM56.7 93.8h7.2v6.2h-7.2zM63.9 93.8h7.2v6.2h-7.2zM71.1 93.8h7.2v6.2h-7.2zM12.2 33.8h5.8v6.8h-5.8zM12.2 40.5h5.8v6.8h-5.8zM47.8 82h7.5v5.8h-7.5zM70.2 82h7.5v5.8h-7.5zM30.1 76.3h6.4v5.7h-6.4zM36.4 76.3h6.4v5.7h-6.4zM23.7 6.4h5.5v6.4h-5.5zM23.7 12.7h5.5v6.4h-5.5zM44.7 0h4.9v6.1h-4.9zM44.7 6.1h4.9v6.1h-4.9zM44.7 18.4h4.9v6.1h-4.9zM77.1 45.7h4.6v4.7h-4.6zM81.7 45.7h4.6v4.7h-4.6zM58.8 36.6h4.6v4.6h-4.6zM63.4 22.9h4.6v4.6h-4.6zM95.4 4.6h4.6v4.6h-4.6z" fill-opacity="0.46" class="tl" stroke-width="0.62"/><path d="M6.2 20.1h6v6.7h-6zM6.2 26.8h6v6.7h-6zM78.1 87.8h7.3v6h-7.3zM12.2 6.8h5.8v6.8h-5.8zM12.2 47.3h5.8v6.8h-5.8zM18 54.6h5.7v6.8h-5.7zM18 61.5h5.7v6.8h-5.7zM80.9 76.3h6.4v5.7h-6.4zM87.3 76.3h6.4v5.7h-6.4zM82.3 70.8h5.9v5.5h-5.9zM94.1 70.8h5.9v5.5h-5.9zM29.2 5.9h5.3v5.9h-5.3zM58.3 65.5h6v5.3h-6zM64.3 65.5h6v5.3h-6zM70.2 65.5h6v5.3h-6zM76.2 65.5h6v5.3h-6zM59.8 60.3h6.7v5.2h-6.7zM93.3 60.3h6.7v5.2h-6.7zM39.7 35.2h5v5h-5zM39.7 40.2h5v5h-5zM39.7 45.2h5v5h-5zM44.7 55.3h5v5h-5zM49.6 50.4h5v4.9h-5zM54.3 18.3h4.6v4.6h-4.6zM77.1 0h4.6v4.6h-4.6zM77.1 4.6h4.6v4.6h-4.6zM77.1 9.1h4.6v4.6h-4.6zM77.1 13.7h4.6v4.6h-4.6zM86.3 13.7h4.6v4.6h-4.6zM86.3 18.3h4.6v4.6h-4.6zM86.3 22.9h4.6v4.6h-4.6zM90.9 27.4h4.6v4.6h-4.6zM90.9 32h4.6v4.6h-4.6z" fill-opacity="0.56" class="tl" stroke-width="0.62"/><path d="M0 0h6.2v7.7h-6.2zM0 69.2h6.2v7.7h-6.2zM0 76.9h6.2v7.7h-6.2zM0 84.6h6.2v7.7h-6.2zM13.4 93.8h7.2v6.2h-7.2zM6.2 33.5h6v6.7h-6zM6.2 40.2h6v6.7h-6zM6.2 46.9h6v6.7h-6zM6.2 53.6h6v6.7h-6zM6.2 80.4h6v6.7h-6zM6.2 87.1h6v6.7h-6zM92.7 87.8h7.3v6h-7.3zM52.8 70.8h5.9v5.5h-5.9zM58.7 70.8h5.9v5.5h-5.9zM64.6 70.8h5.9v5.5h-5.9zM70.5 70.8h5.9v5.5h-5.9zM76.4 70.8h5.9v5.5h-5.9zM29.2 29.5h5.3v5.9h-5.3zM29.2 35.4h5.3v5.9h-5.3zM29.2 41.3h5.3v5.9h-5.3zM94 65.5h6v5.3h-6zM34.5 9.4h5.2v4.7h-5.2zM39.7 30.2h5v5h-5zM95 55.3h5v5h-5zM54.3 22.9h4.6v4.6h-4.6zM54.3 27.4h4.6v4.6h-4.6zM58.8 13.7h4.6v4.6h-4.6zM63.4 32h4.6v4.6h-4.6zM63.4 36.6h4.6v4.6h-4.6zM68 18.3h4.6v4.6h-4.6zM68 22.9h4.6v4.6h-4.6zM68 27.4h4.6v4.6h-4.6zM68 32h4.6v4.6h-4.6zM68 36.6h4.6v4.6h-4.6zM86.3 9.1h4.6v4.6h-4.6z" fill-opacity="0.66" class="tl" stroke-width="0.62"/><path d="M0 15.4h6.2v7.7h-6.2zM0 23.1h6.2v7.7h-6.2zM0 92.3h6.2v7.7h-6.2zM6.2 93.8h7.2v6.2h-7.2zM42.3 93.8h7.2v6.2h-7.2zM49.5 93.8h7.2v6.2h-7.2zM6.2 60.3h6v6.7h-6zM6.2 67h6v6.7h-6zM6.2 73.7h6v6.7h-6zM70.7 87.8h7.3v6h-7.3zM85.4 87.8h7.3v6h-7.3zM12.2 13.5h5.8v6.8h-5.8zM12.2 20.3h5.8v6.8h-5.8zM18 0h5.7v6.8h-5.7zM18 6.8h5.7v6.8h-5.7zM18 13.7h5.7v6.8h-5.7zM23.7 69.9h5.5v6.4h-5.5zM34.5 65.5h6v5.3h-6zM40.5 65.5h6v5.3h-6zM46.4 65.5h6v5.3h-6zM52.4 65.5h6v5.3h-6zM82.1 65.5h6v5.3h-6zM88.1 65.5h6v5.3h-6zM34.5 0h5.2v4.7h-5.2zM34.5 4.7h5.2v4.7h-5.2zM34.5 60.8h5.2v4.7h-5.2zM66.5 60.3h6.7v5.2h-6.7zM73.2 60.3h6.7v5.2h-6.7zM39.7 10.1h5v5h-5zM39.7 15.1h5v5h-5zM39.7 20.1h5v5h-5zM39.7 25.1h5v5h-5zM89.9 50.4h5v4.9h-5zM95 50.4h5v4.9h-5zM49.6 0h4.7v5.6h-4.7zM49.6 5.6h4.7v5.6h-4.7zM49.6 11.2h4.7v5.6h-4.7zM68 45.7h4.6v4.7h-4.6zM69.1 41.2h5.1v4.6h-5.1zM58.8 0h4.6v4.6h-4.6zM58.8 4.6h4.6v4.6h-4.6zM58.8 9.1h4.6v4.6h-4.6zM63.4 13.7h4.6v4.6h-4.6zM63.4 18.3h4.6v4.6h-4.6zM68 0h4.6v4.6h-4.6zM68 4.6h4.6v4.6h-4.6zM90.9 36.6h4.6v4.6h-4.6zM95.4 0h4.6v4.6h-4.6z" fill-opacity="0.74" class="tl" stroke-width="0.62"/></pattern><rect id="qU11" width="100" height="100" fill="url(#U11)"/><pattern id="U20" width="100" height="100" patternUnits="userSpaceOnUse"><path d="M0 0h8.5v10h-8.5zM0 10h8.5v10h-8.5zM36 91.5h9.2v8.5h-9.2zM8.5 16.6h8.2v8.3h-8.2zM90.7 83.3h9.3v8.2h-9.3zM16.7 0h8v8.3h-8zM92.5 60h7.5v7.5h-7.5zM54.4 0h6.9v7.6h-6.9zM54.4 38h6.9v7.6h-6.9zM61.3 38.7h6.5v6.9h-6.5zM67.7 38.7h6.5v6.9h-6.5zM76 32.1h8v6.7h-8z" class="tn" stroke-width="0.87"/><path d="M8.5 25h8.2v8.3h-8.2zM8.5 33.3h8.2v8.3h-8.2zM8.5 41.6h8.2v8.3h-8.2zM16.7 83.3h9.3v8.2h-9.3zM53.7 83.3h9.3v8.2h-9.3zM63 83.3h9.3v8.2h-9.3zM16.7 50h8v8.3h-8zM16.7 58.3h8v8.3h-8zM53 75.3h9.4v8h-9.4zM24.7 18.8h7.8v9.4h-7.8zM40 0h7.3v7.5h-7.3zM40 7.5h7.3v7.5h-7.3zM40 15h7.3v7.5h-7.3zM40 22.5h7.3v7.5h-7.3zM40 30h7.3v7.5h-7.3zM40 37.5h7.3v7.5h-7.3zM92 32.1h8v6.7h-8zM67.9 0h6.5v6.4h-6.5zM67.9 6.4h6.5v6.4h-6.5z" fill-opacity="0.03" class="tl" stroke-width="0.87"/><path d="M35.2 83.3h9.3v8.2h-9.3zM44.5 83.3h9.3v8.2h-9.3zM62.4 75.3h9.4v8h-9.4zM71.8 75.3h9.4v8h-9.4zM81.2 75.3h9.4v8h-9.4zM90.6 75.3h9.4v8h-9.4zM24.7 0h7.8v9.4h-7.8zM62.5 60h7.5v7.5h-7.5zM70 60h7.5v7.5h-7.5zM56.1 52.7h8.8v7.3h-8.8zM47.3 26.3h7.1v8.8h-7.1zM54.4 15.2h6.9v7.6h-6.9zM54.4 22.8h6.9v7.6h-6.9zM54.4 30.4h6.9v7.6h-6.9zM74.4 0h6.3v6.4h-6.3zM93.6 0h6.4v6.4h-6.4zM93.6 6.4h6.4v6.4h-6.4zM93.6 12.9h6.4v6.4h-6.4z" fill-opacity="0.08" class="tl" stroke-width="0.87"/><path d="M17.6 91.5h9.2v8.5h-9.2zM54.2 91.5h9.2v8.5h-9.2zM32.5 0h7.5v8.4h-7.5zM32.5 8.4h7.5v8.4h-7.5zM32.5 16.9h7.5v8.4h-7.5zM77.5 60h7.5v7.5h-7.5zM85 60h7.5v7.5h-7.5zM73.7 52.7h8.8v7.3h-8.8zM82.4 52.7h8.8v7.3h-8.8zM77.2 45.6h7.6v7.1h-7.6zM84.8 45.6h7.6v7.1h-7.6zM92.4 45.6h7.6v7.1h-7.6zM61.3 31h6.7v7.7h-6.7zM67.9 32.1h8v6.7h-8zM80.8 25.6h6.4v6.5h-6.4zM74.4 6.4h6.3v6.4h-6.3zM74.4 19.2h6.3v6.4h-6.3zM80.7 12.9h6.4v6.4h-6.4zM87.1 0h6.4v6.4h-6.4z" fill-opacity="0.16" class="tl" stroke-width="0.87"/><path d="M26.8 91.5h9.2v8.5h-9.2zM8.5 49.9h8.2v8.3h-8.2zM8.5 58.2h8.2v8.3h-8.2zM24.7 56.4h7.8v9.4h-7.8zM24.7 65.9h7.8v9.4h-7.8zM32.5 67.5h9.6v7.8h-9.6zM42.1 67.5h9.6v7.8h-9.6zM51.8 67.5h9.6v7.8h-9.6zM61.4 67.5h9.6v7.8h-9.6zM71.1 67.5h9.6v7.8h-9.6zM80.7 67.5h9.6v7.8h-9.6zM90.4 67.5h9.6v7.8h-9.6zM32.5 25.3h7.5v8.4h-7.5zM32.5 42.2h7.5v8.4h-7.5zM32.5 50.6h7.5v8.4h-7.5zM47.3 52.7h8.8v7.3h-8.8zM47.3 8.8h7.1v8.8h-7.1zM80.6 38.7h6.5v6.9h-6.5zM87.1 38.7h6.5v6.9h-6.5zM93.5 38.7h6.5v6.9h-6.5zM61.3 0h6.7v7.7h-6.7zM80.7 19.3h6.4v6.3h-6.4zM87.1 19.3h6.4v6.3h-6.4zM93.6 19.3h6.4v6.3h-6.4zM80.7 0h6.4v6.4h-6.4z" fill-opacity="0.26" class="tl" stroke-width="0.87"/><path d="M8.5 8.3h8.2v8.3h-8.2zM8.5 74.9h8.2v8.3h-8.2zM8.5 83.2h8.2v8.3h-8.2zM16.7 66.6h8v8.3h-8zM16.7 74.9h8v8.3h-8zM24.7 75.3h9.4v8h-9.4zM34.1 75.3h9.4v8h-9.4zM47.5 60h7.5v7.5h-7.5zM55 60h7.5v7.5h-7.5zM62 45.6h7.6v7.1h-7.6zM69.6 45.6h7.6v7.1h-7.6zM74.2 38.7h6.5v6.9h-6.5zM74.4 25.6h6.4v6.5h-6.4zM87.2 25.6h6.4v6.5h-6.4zM93.6 25.6h6.4v6.5h-6.4z" fill-opacity="0.36" class="tl" stroke-width="0.87"/><path d="M26 83.3h9.3v8.2h-9.3zM16.7 8.3h8v8.3h-8zM16.7 16.7h8v8.3h-8zM16.7 25h8v8.3h-8zM16.7 33.3h8v8.3h-8zM16.7 41.6h8v8.3h-8zM43.6 75.3h9.4v8h-9.4zM80.7 6.4h6.4v6.4h-6.4z" fill-opacity="0.46" class="tl" stroke-width="0.87"/><path d="M0 20h8.5v10h-8.5zM0 30h8.5v10h-8.5zM0 40h8.5v10h-8.5zM0 50h8.5v10h-8.5zM8.5 66.5h8.2v8.3h-8.2zM72.2 83.3h9.3v8.2h-9.3zM81.5 83.3h9.3v8.2h-9.3zM24.7 28.2h7.8v9.4h-7.8zM24.7 37.6h7.8v9.4h-7.8zM24.7 47h7.8v9.4h-7.8zM40 45h7.3v7.5h-7.3zM40 52.5h7.3v7.5h-7.3zM64.9 52.7h8.8v7.3h-8.8zM47.3 17.6h7.1v8.8h-7.1zM47.3 43.9h7.1v8.8h-7.1zM54.4 45.6h7.6v7.1h-7.6zM84 32.1h8v6.7h-8zM67.9 25.7h6.5v6.4h-6.5z" fill-opacity="0.56" class="tl" stroke-width="0.87"/><path d="M45.1 91.5h9.2v8.5h-9.2zM63.4 91.5h9.2v8.5h-9.2zM72.5 91.5h9.2v8.5h-9.2zM81.7 91.5h9.2v8.5h-9.2zM90.9 91.5h9.2v8.5h-9.2zM8.5 0h8.2v8.3h-8.2zM24.7 9.4h7.8v9.4h-7.8zM32.5 59.1h7.5v8.4h-7.5zM40 60h7.5v7.5h-7.5zM91.2 52.7h8.8v7.3h-8.8zM47.3 0h7.1v8.8h-7.1zM47.3 35.1h7.1v8.8h-7.1zM54.4 7.6h6.9v7.6h-6.9zM61.3 7.7h6.7v7.7h-6.7zM87.1 6.4h6.4v6.4h-6.4z" fill-opacity="0.66" class="tl" stroke-width="0.87"/><path d="M0 60h8.5v10h-8.5zM0 70h8.5v10h-8.5zM0 80h8.5v10h-8.5zM0 90h8.5v10h-8.5zM8.5 91.5h9.2v8.5h-9.2zM32.5 33.7h7.5v8.4h-7.5zM61.3 15.5h6.7v7.7h-6.7zM61.3 23.2h6.7v7.7h-6.7zM67.9 12.8h6.5v6.4h-6.5zM67.9 19.2h6.5v6.4h-6.5zM74.4 12.8h6.3v6.4h-6.3zM87.1 12.9h6.4v6.4h-6.4z" fill-opacity="0.74" class="tl" stroke-width="0.87"/></pattern><rect id="qU20" width="100" height="100" fill="url(#U20)"/><pattern id="U21" width="100" height="100" patternUnits="userSpaceOnUse"><path d="M0 0h8.5v10h-8.5zM0 10h8.5v10h-8.5zM8.5 0h8.2v7.6h-8.2zM49.4 67.5h8.4v7.8h-8.4zM57.8 67.5h8.4v7.8h-8.4zM32.5 15h7.5v7.5h-7.5zM32.5 22.5h7.5v7.5h-7.5zM32.5 30h7.5v7.5h-7.5zM32.5 37.5h7.5v7.5h-7.5zM54.4 45.6h9.1v7.1h-9.1zM63.5 45.6h9.1v7.1h-9.1zM72.6 45.6h9.1v7.1h-9.1zM54.4 27.4h6.9v9.1h-6.9z" class="tn" stroke-width="0.87"/><path d="M0 20h8.5v10h-8.5zM0 40h8.5v10h-8.5zM0 50h8.5v10h-8.5zM0 60h8.5v10h-8.5zM0 70h8.5v10h-8.5zM54.2 91.5h9.2v8.5h-9.2zM63.4 91.5h9.2v8.5h-9.2zM72.5 91.5h9.2v8.5h-9.2zM8.5 38.1h8.2v7.6h-8.2zM69.7 83.3h7.6v8.2h-7.6zM16.7 0h8v10.4h-8zM16.7 10.4h8v10.4h-8zM16.7 20.8h8v10.4h-8zM16.7 31.2h8v10.4h-8zM16.7 52h8v10.4h-8zM16.7 62.4h8v10.4h-8zM16.7 72.8h8v10.4h-8zM91.6 67.5h8.4v7.8h-8.4zM32.5 7.5h7.5v7.5h-7.5zM40 8.6h7.3v8.6h-7.3zM40 17.1h7.3v8.6h-7.3zM40 25.7h7.3v8.6h-7.3zM40 34.3h7.3v8.6h-7.3zM40 42.8h7.3v8.6h-7.3zM54.4 0h6.9v9.1h-6.9zM87.2 25.6h6.4v6.5h-6.4z" fill-opacity="0.03" class="tl" stroke-width="0.87"/><path d="M0 80h8.5v10h-8.5zM0 90h8.5v10h-8.5zM8.5 7.6h8.2v7.6h-8.2zM8.5 15.2h8.2v7.6h-8.2zM8.5 22.9h8.2v7.6h-8.2zM8.5 45.8h8.2v7.6h-8.2zM8.5 53.4h8.2v7.6h-8.2zM31.9 83.3h7.6v8.2h-7.6zM39.5 83.3h7.6v8.2h-7.6zM47 83.3h7.6v8.2h-7.6zM24.7 37.6h7.8v7.5h-7.8zM24.7 45.2h7.8v7.5h-7.8zM24.7 52.7h7.8v7.5h-7.8zM24.7 67.7h7.8v7.5h-7.8zM32.5 67.5h8.4v7.8h-8.4zM47.3 45.2h7.1v7.5h-7.1zM80.8 25.6h6.4v6.5h-6.4z" fill-opacity="0.08" class="tl" stroke-width="0.87"/><path d="M81.7 91.5h9.2v8.5h-9.2zM90.9 91.5h9.2v8.5h-9.2zM92.4 83.3h7.6v8.2h-7.6zM66.3 67.5h8.4v7.8h-8.4zM47.3 52.7h7.5v7.3h-7.5zM54.8 52.7h7.5v7.3h-7.5zM93.6 6.4h6.4v6.4h-6.4zM93.6 12.9h6.4v6.4h-6.4z" fill-opacity="0.16" class="tl" stroke-width="0.87"/><path d="M8.5 91.5h9.2v8.5h-9.2zM17.6 91.5h9.2v8.5h-9.2zM26.8 91.5h9.2v8.5h-9.2zM8.5 30.5h8.2v7.6h-8.2zM8.5 76.2h8.2v7.6h-8.2zM16.7 41.6h8v10.4h-8zM24.7 75.3h8.4v8h-8.4zM82.9 60h8.6v7.5h-8.6zM91.4 60h8.6v7.5h-8.6zM40 0h7.3v8.6h-7.3zM40 51.4h7.3v8.6h-7.3zM90.9 45.6h9.1v7.1h-9.1zM54.4 9.1h6.9v9.1h-6.9zM54.4 18.2h6.9v9.1h-6.9zM69 38.7h7.7v6.9h-7.7zM76.8 38.7h7.7v6.9h-7.7zM61.3 0h6.7v6.5h-6.7zM61.3 6.5h6.7v6.5h-6.7zM80.7 12.9h6.4v6.4h-6.4zM87.1 0h6.4v6.4h-6.4zM87.1 6.4h6.4v6.4h-6.4zM87.1 12.9h6.4v6.4h-6.4z" fill-opacity="0.26" class="tl" stroke-width="0.87"/><path d="M36 91.5h9.2v8.5h-9.2zM24.3 83.3h7.6v8.2h-7.6zM24.7 22.6h7.8v7.5h-7.8zM24.7 30.1h7.8v7.5h-7.8zM32.5 45h7.5v7.5h-7.5zM32.5 52.5h7.5v7.5h-7.5zM32.5 60h7.5v7.5h-7.5zM40 60h8.6v7.5h-8.6zM48.6 60h8.6v7.5h-8.6zM57.2 60h8.6v7.5h-8.6zM65.7 60h8.6v7.5h-8.6zM81.8 45.6h9.1v7.1h-9.1zM93.6 0h6.4v6.4h-6.4z" fill-opacity="0.36" class="tl" stroke-width="0.87"/><path d="M8.5 61h8.2v7.6h-8.2zM8.5 68.6h8.2v7.6h-8.2zM77.3 83.3h7.6v8.2h-7.6zM84.9 83.3h7.6v8.2h-7.6zM33.1 75.3h8.4v8h-8.4zM74.7 67.5h8.4v7.8h-8.4zM83.1 67.5h8.4v7.8h-8.4zM74.3 60h8.6v7.5h-8.6zM47.3 0h7.1v7.5h-7.1zM84.5 38.7h7.7v6.9h-7.7zM61.3 19.4h6.7v6.5h-6.7zM61.3 25.8h6.7v6.5h-6.7zM61.3 32.3h6.7v6.5h-6.7zM67.9 32.1h8v6.7h-8zM76 32.1h8v6.7h-8zM84 32.1h8v6.7h-8zM92 32.1h8v6.7h-8zM67.9 0h6.5v8h-6.5zM67.9 8h6.5v8h-6.5zM93.6 25.6h6.4v6.5h-6.4zM80.7 19.3h6.4v6.3h-6.4zM87.1 19.3h6.4v6.3h-6.4zM93.6 19.3h6.4v6.3h-6.4zM80.7 0h6.4v6.4h-6.4zM80.7 6.4h6.4v6.4h-6.4z" fill-opacity="0.46" class="tl" stroke-width="0.87"/><path d="M8.5 83.9h8.2v7.6h-8.2zM16.7 83.3h7.6v8.2h-7.6zM41.5 75.3h8.4v8h-8.4zM61.3 12.9h6.7v6.5h-6.7zM74.4 17.1h6.3v8.5h-6.3z" fill-opacity="0.56" class="tl" stroke-width="0.87"/><path d="M54.6 83.3h7.6v8.2h-7.6zM62.2 83.3h7.6v8.2h-7.6zM49.8 75.3h8.4v8h-8.4zM58.2 75.3h8.4v8h-8.4zM66.6 75.3h8.4v8h-8.4zM74.9 75.3h8.4v8h-8.4zM83.3 75.3h8.4v8h-8.4zM91.6 75.3h8.4v8h-8.4zM24.7 0h7.8v7.5h-7.8zM24.7 7.5h7.8v7.5h-7.8zM24.7 15.1h7.8v7.5h-7.8zM24.7 60.2h7.8v7.5h-7.8zM32.5 0h7.5v7.5h-7.5zM47.3 7.5h7.1v7.5h-7.1zM47.3 15.1h7.1v7.5h-7.1zM47.3 22.6h7.1v7.5h-7.1zM47.3 30.1h7.1v7.5h-7.1zM47.3 37.6h7.1v7.5h-7.1zM54.4 36.5h6.9v9.1h-6.9zM61.3 38.7h7.7v6.9h-7.7zM92.3 38.7h7.7v6.9h-7.7zM67.9 16h6.5v8h-6.5zM67.9 24h6.5v8h-6.5zM74.4 25.6h6.4v6.5h-6.4zM74.4 0h6.3v8.5h-6.3zM74.4 8.5h6.3v8.5h-6.3z" fill-opacity="0.66" class="tl" stroke-width="0.87"/><path d="M0 30h8.5v10h-8.5zM45.1 91.5h9.2v8.5h-9.2zM40.9 67.5h8.4v7.8h-8.4zM62.4 52.7h7.5v7.3h-7.5zM69.9 52.7h7.5v7.3h-7.5zM77.4 52.7h7.5v7.3h-7.5zM84.9 52.7h7.5v7.3h-7.5zM92.5 52.7h7.5v7.3h-7.5z" fill-opacity="0.74" class="tl" stroke-width="0.87"/></pattern><rect id="qU21" width="100" height="100" fill="url(#U21)"/><pattern id="U30" width="100" height="100" patternUnits="userSpaceOnUse"><path d="M0 0h12v12.5h-12zM0 12.5h12v12.5h-12zM0 25h12v12.5h-12zM0 62.5h12v12.5h-12zM71 43.5h14.5v10.6h-14.5zM85.5 43.5h14.5v10.6h-14.5zM66.8 33.2h11.1v10.3h-11.1zM77.9 33.2h11.1v10.3h-11.1z" class="tn" stroke-width="1.21"/><path d="M37.1 88h12.6v12h-12.6zM56.5 0h10.3v10.9h-10.3zM76.8 23.2h11.6v10h-11.6zM88.4 23.2h11.6v10h-11.6z" fill-opacity="0.03" class="tl" stroke-width="1.21"/><path d="M87.4 88h12.6v12h-12.6zM12 0h11.6v11h-11.6zM12 11h11.6v11h-11.6zM34.9 21.7h11v10.8h-11zM34.9 32.5h11v10.8h-11z" fill-opacity="0.08" class="tl" stroke-width="1.21"/><path d="M12 88h12.6v12h-12.6zM24.6 88h12.6v12h-12.6zM12 77h11.6v11h-11.6zM38.9 76.4h15.3v11.6h-15.3zM23.6 38.2h11.3v12.7h-11.3zM47.9 65.1h13v11.3h-13zM34.9 10.8h11v10.8h-11zM45.9 32.5h10.6v10.8h-10.6zM45.9 43.3h10.6v10.8h-10.6zM56.5 43.5h14.5v10.6h-14.5zM56.5 21.7h10.3v10.9h-10.3zM56.5 32.6h10.3v10.9h-10.3z" fill-opacity="0.16" class="tl" stroke-width="1.21"/><path d="M0 37.5h12v12.5h-12zM0 50h12v12.5h-12zM0 75h12v12.5h-12zM12 22h11.6v11h-11.6zM12 33h11.6v11h-11.6zM12 44h11.6v11h-11.6zM12 55h11.6v11h-11.6zM88.9 33.2h11.1v10.3h-11.1zM66.8 0h10v11.1h-10zM66.8 11.1h10v11.1h-10zM76.8 0h9.7v11.6h-9.7zM76.8 11.6h9.7v11.6h-9.7zM86.5 13.5h13.5v9.7h-13.5z" fill-opacity="0.26" class="tl" stroke-width="1.21"/><path d="M0 87.5h12v12.5h-12zM49.7 88h12.6v12h-12.6zM62.3 88h12.6v12h-12.6zM74.9 88h12.6v12h-12.6zM23.6 50.9h11.3v12.7h-11.3zM23.6 63.6h11.3v12.7h-11.3z" fill-opacity="0.36" class="tl" stroke-width="1.21"/><path d="M23.6 76.4h15.3v11.6h-15.3zM54.2 76.4h15.3v11.6h-15.3zM69.5 76.4h15.3v11.6h-15.3zM66.8 22.1h10v11.1h-10zM86.5 0h13.5v13.5h-13.5z" fill-opacity="0.46" class="tl" stroke-width="1.21"/><path d="M23.6 12.7h11.3v12.7h-11.3zM23.6 25.5h11.3v12.7h-11.3zM34.9 43.4h11v10.8h-11zM34.9 54.2h11v10.8h-11zM45.9 54.1h13.5v11h-13.5zM59.4 54.1h13.5v11h-13.5zM72.9 54.1h13.5v11h-13.5z" fill-opacity="0.56" class="tl" stroke-width="1.21"/><path d="M86.5 54.1h13.5v11h-13.5zM45.9 0h10.6v10.8h-10.6zM45.9 10.8h10.6v10.8h-10.6zM45.9 21.6h10.6v10.8h-10.6z" fill-opacity="0.66" class="tl" stroke-width="1.21"/><path d="M12 66h11.6v11h-11.6zM84.7 76.4h15.3v11.6h-15.3zM23.6 0h11.3v12.7h-11.3zM34.9 65.1h13v11.3h-13zM61 65.1h13v11.3h-13zM74 65.1h13v11.3h-13zM87 65.1h13v11.3h-13zM34.9 0h11v10.8h-11zM56.5 10.9h10.3v10.9h-10.3z" fill-opacity="0.74" class="tl" stroke-width="1.21"/></pattern><rect id="qU30" width="100" height="100" fill="url(#U30)"/><pattern id="U31" width="100" height="100" patternUnits="userSpaceOnUse"><path d="M23.6 38.2h11.3v12.7h-11.3zM45.9 21.6h10.6v10.8h-10.6zM45.9 32.5h10.6v10.8h-10.6zM45.9 43.3h10.6v10.8h-10.6zM78.3 43.5h10.9v10.6h-10.9zM56.5 10.9h10.3v10.9h-10.3z" class="tn" stroke-width="1.21"/><path d="M49.7 88h12.6v12h-12.6zM62.3 88h12.6v12h-12.6zM74.9 88h12.6v12h-12.6zM12 14.7h11.6v14.7h-11.6zM12 29.3h11.6v14.7h-11.6zM12 44h11.6v14.7h-11.6zM12 58.7h11.6v14.7h-11.6zM12 73.3h11.6v14.7h-11.6zM56.4 76.4h10.9v11.6h-10.9zM67.3 76.4h10.9v11.6h-10.9zM78.2 76.4h10.9v11.6h-10.9zM89.1 76.4h10.9v11.6h-10.9zM23.6 0h11.3v12.7h-11.3zM56.7 54.1h10.8v11h-10.8zM67.5 54.1h10.8v11h-10.8zM76.8 23.2h7.7v10h-7.7zM84.5 23.2h7.7v10h-7.7z" fill-opacity="0.03" class="tl" stroke-width="1.21"/><path d="M34.9 65.1h13v11.3h-13zM47.9 65.1h13v11.3h-13zM61 65.1h13v11.3h-13zM78.4 54.1h10.8v11h-10.8zM56.5 0h10.3v10.9h-10.3z" fill-opacity="0.08" class="tl" stroke-width="1.21"/><path d="M0 0h12v14.3h-12zM0 14.3h12v14.3h-12zM0 28.6h12v14.3h-12zM37.1 88h12.6v12h-12.6zM34.9 0h11v9.3h-11zM34.9 9.3h11v9.3h-11zM34.9 18.6h11v9.3h-11zM34.9 27.9h11v9.3h-11zM34.9 37.2h11v9.3h-11zM66.8 11.1h10v11.1h-10zM92.3 23.2h7.7v10h-7.7zM76.8 0h9.7v11.6h-9.7zM76.8 11.6h9.7v11.6h-9.7zM86.5 13.5h13.5v9.7h-13.5z" fill-opacity="0.16" class="tl" stroke-width="1.21"/><path d="M23.6 50.9h11.3v12.7h-11.3zM23.6 63.6h11.3v12.7h-11.3z" fill-opacity="0.26" class="tl" stroke-width="1.21"/><path d="M0 57.1h12v14.3h-12zM24.6 88h12.6v12h-12.6zM23.6 76.4h10.9v11.6h-10.9zM34.5 76.4h10.9v11.6h-10.9zM45.5 76.4h10.9v11.6h-10.9zM87 65.1h13v11.3h-13zM34.9 46.5h11v9.3h-11zM34.9 55.8h11v9.3h-11zM45.9 54.1h10.8v11h-10.8zM56.5 43.5h10.9v10.6h-10.9z" fill-opacity="0.36" class="tl" stroke-width="1.21"/><path d="M67.4 43.5h10.9v10.6h-10.9zM56.5 21.7h10.3v10.9h-10.3zM56.5 32.6h10.3v10.9h-10.3zM66.8 33.2h11.1v10.3h-11.1zM77.9 33.2h11.1v10.3h-11.1zM88.9 33.2h11.1v10.3h-11.1z" fill-opacity="0.46" class="tl" stroke-width="1.21"/><path d="M0 42.9h12v14.3h-12zM87.4 88h12.6v12h-12.6zM12 0h11.6v14.7h-11.6zM89.2 54.1h10.8v11h-10.8zM45.9 0h10.6v10.8h-10.6zM45.9 10.8h10.6v10.8h-10.6zM89.1 43.5h10.9v10.6h-10.9zM66.8 22.1h10v11.1h-10z" fill-opacity="0.56" class="tl" stroke-width="1.21"/><path d="M0 85.7h12v14.3h-12zM12 88h12.6v12h-12.6zM23.6 25.5h11.3v12.7h-11.3zM66.8 0h10v11.1h-10z" fill-opacity="0.66" class="tl" stroke-width="1.21"/><path d="M0 71.4h12v14.3h-12zM23.6 12.7h11.3v12.7h-11.3zM74 65.1h13v11.3h-13zM86.5 0h13.5v13.5h-13.5z" fill-opacity="0.74" class="tl" stroke-width="1.21"/></pattern><rect id="qU31" width="100" height="100" fill="url(#U31)"/><pattern id="U40" width="100" height="100" patternUnits="userSpaceOnUse"><path d="M0 0h17v16.7h-17zM0 16.7h17v16.7h-17zM83.4 66.5h16.6v16.5h-16.6zM33.5 0h16v16.6h-16zM33.5 16.6h16v16.6h-16zM33.5 33.3h16v16.6h-16zM33.5 49.9h16v16.6h-16z" class="tn" stroke-width="1.74"/><path d="M49.5 50.5h25.3v16h-25.3zM74.7 50.5h25.3v16h-25.3z" fill-opacity="0.03" class="tl" stroke-width="1.74"/><path d="M17 41.5h16.5v20.8h-16.5zM17 62.2h16.5v20.8h-16.5z" fill-opacity="0.08" class="tl" stroke-width="1.74"/><path d="M0 33.3h17v16.7h-17zM66.7 66.5h16.6v16.5h-16.6zM80.1 19.9h19.9v15h-19.9z" fill-opacity="0.26" class="tl" stroke-width="1.74"/><path d="M0 66.7h17v16.7h-17zM0 83.3h17v16.7h-17zM17 83h20.8v17h-20.8zM37.8 83h20.8v17h-20.8zM58.5 83h20.8v17h-20.8zM79.2 83h20.8v17h-20.8zM17 0h16.5v20.8h-16.5zM17 20.8h16.5v20.8h-16.5z" fill-opacity="0.36" class="tl" stroke-width="1.74"/><path d="M49.5 0h15.5v16.8h-15.5zM49.5 16.8h15.5v16.8h-15.5zM49.5 33.7h15.5v16.8h-15.5zM65 35h17.5v15.5h-17.5zM82.5 35h17.5v15.5h-17.5zM65 0h15v17.5h-15zM65 17.5h15v17.5h-15z" fill-opacity="0.46" class="tl" stroke-width="1.74"/><path d="M80.1 0h19.9v19.9h-19.9z" fill-opacity="0.66" class="tl" stroke-width="1.74"/><path d="M0 50h17v16.7h-17zM33.5 66.5h16.6v16.5h-16.6zM50.1 66.5h16.6v16.5h-16.6z" fill-opacity="0.74" class="tl" stroke-width="1.74"/></pattern><rect id="qU40" width="100" height="100" fill="url(#U40)"/><pattern id="U41" width="100" height="100" patternUnits="userSpaceOnUse"><path d="M17 0h16.5v16.6h-16.5zM17 16.6h16.5v16.6h-16.5zM33.5 33.3h16v16.6h-16zM66.3 50.5h16.8v16h-16.8zM83.2 50.5h16.8v16h-16.8z" class="tn" stroke-width="1.74"/><path d="M33.5 49.9h16v16.6h-16z" fill-opacity="0.03" class="tl" stroke-width="1.74"/><path d="M33.5 16.6h16v16.6h-16zM82.5 35h17.5v15.5h-17.5z" fill-opacity="0.08" class="tl" stroke-width="1.74"/><path d="M0 0h17v16.7h-17zM0 16.7h17v16.7h-17zM79.2 83h20.8v17h-20.8zM50.1 66.5h16.6v16.5h-16.6z" fill-opacity="0.16" class="tl" stroke-width="1.74"/><path d="M37.8 83h20.8v17h-20.8zM58.5 83h20.8v17h-20.8z" fill-opacity="0.26" class="tl" stroke-width="1.74"/><path d="M17 33.2h16.5v16.6h-16.5zM49.5 50.5h16.8v16h-16.8z" fill-opacity="0.36" class="tl" stroke-width="1.74"/><path d="M49.5 0h15.5v16.8h-15.5z" fill-opacity="0.46" class="tl" stroke-width="1.74"/><path d="M65 0h15v17.5h-15zM65 17.5h15v17.5h-15zM80.1 19.9h19.9v15h-19.9zM80.1 0h19.9v19.9h-19.9z" fill-opacity="0.56" class="tl" stroke-width="1.74"/><path d="M17 49.8h16.5v16.6h-16.5zM17 66.4h16.5v16.6h-16.5zM33.5 66.5h16.6v16.5h-16.6zM66.7 66.5h16.6v16.5h-16.6zM83.4 66.5h16.6v16.5h-16.6zM33.5 0h16v16.6h-16z" fill-opacity="0.66" class="tl" stroke-width="1.74"/><path d="M0 33.3h17v16.7h-17zM0 50h17v16.7h-17zM0 66.7h17v16.7h-17zM0 83.3h17v16.7h-17zM17 83h20.8v17h-20.8zM49.5 16.8h15.5v16.8h-15.5zM49.5 33.7h15.5v16.8h-15.5zM65 35h17.5v15.5h-17.5z" fill-opacity="0.74" class="tl" stroke-width="1.74"/></pattern><rect id="qU41" width="100" height="100" fill="url(#U41)"/><pattern id="U50" width="100" height="100" patternUnits="userSpaceOnUse"><path d="M0 0h25v33.3h-25zM0 33.3h25v33.3h-25zM0 66.7h25v33.3h-25zM25 75h37.5v25h-37.5z" class="tn" stroke-width="2.56"/><path d="M49.2 0h23.5v25.4h-23.5z" fill-opacity="0.03" class="tl" stroke-width="2.56"/><path d="M25 37.5h24.2v37.5h-24.2zM49.2 50.8h25.4v24.2h-25.4zM74.6 50.8h25.4v24.2h-25.4z" fill-opacity="0.26" class="tl" stroke-width="2.56"/><path d="M49.2 25.4h23.5v25.4h-23.5zM72.8 27.2h27.2v23.5h-27.2zM72.8 0h27.2v27.2h-27.2z" fill-opacity="0.46" class="tl" stroke-width="2.56"/><path d="M62.5 75h37.5v25h-37.5zM25 0h24.2v37.5h-24.2z" fill-opacity="0.56" class="tl" stroke-width="2.56"/></pattern><rect id="qU50" width="100" height="100" fill="url(#U50)"/><pattern id="U51" width="100" height="100" patternUnits="userSpaceOnUse"><path d="M0 0h25v33.3h-25zM0 33.3h25v33.3h-25zM0 66.7h25v33.3h-25z" class="tn" stroke-width="2.56"/><path d="M25 75h25v25h-25zM25 25h24.2v25h-24.2z" fill-opacity="0.03" class="tl" stroke-width="2.56"/><path d="M72.8 0h27.2v27.2h-27.2z" fill-opacity="0.08" class="tl" stroke-width="2.56"/><path d="M49.2 0h23.5v25.4h-23.5zM49.2 25.4h23.5v25.4h-23.5zM72.8 27.2h27.2v23.5h-27.2z" fill-opacity="0.16" class="tl" stroke-width="2.56"/><path d="M50 75h25v25h-25zM75 75h25v25h-25z" fill-opacity="0.36" class="tl" stroke-width="2.56"/><path d="M25 50h24.2v25h-24.2zM49.2 50.8h25.4v24.2h-25.4zM74.6 50.8h25.4v24.2h-25.4z" fill-opacity="0.56" class="tl" stroke-width="2.56"/><path d="M25 0h24.2v25h-24.2z" fill-opacity="0.74" class="tl" stroke-width="2.56"/></pattern><rect id="qU51" width="100" height="100" fill="url(#U51)"/><pattern id="U60" width="100" height="100" patternUnits="userSpaceOnUse"><path d="M40 0h38.8v60h-38.8zM78.8 21.2h21.2v38.8h-21.2z" class="tn" stroke-width="4.17"/><path d="M0 0h40v50h-40zM0 50h40v50h-40z" fill-opacity="0.16" class="tl" stroke-width="4.17"/><path d="M40 60h60v40h-60zM78.8 0h21.2v21.2h-21.2z" fill-opacity="0.46" class="tl" stroke-width="4.17"/></pattern><rect id="qU60" width="100" height="100" fill="url(#U60)"/><pattern id="U61" width="100" height="100" patternUnits="userSpaceOnUse"><path d="M0 33.3h40v33.3h-40zM0 66.7h40v33.3h-40z" fill-opacity="0.03" class="tl" stroke-width="4.17"/><path d="M0 0h40v33.3h-40zM78.8 0h21.2v21.2h-21.2z" fill-opacity="0.16" class="tl" stroke-width="4.17"/><path d="M40 0h38.8v60h-38.8z" fill-opacity="0.26" class="tl" stroke-width="4.17"/><path d="M78.8 21.2h21.2v38.8h-21.2z" fill-opacity="0.46" class="tl" stroke-width="4.17"/><path d="M40 60h60v40h-60z" fill-opacity="0.66" class="tl" stroke-width="4.17"/></pattern><rect id="qU61" width="100" height="100" fill="url(#U61)"/><pattern id="G00" width="100" height="100" patternUnits="userSpaceOnUse"><path d="M11 71.2h9.6v8.9h-9.6zM20.6 79.4h9.9v9.6h-9.9zM30.5 79.4h9.9v9.6h-9.9zM36.1 42.6h6.3v7.1h-6.3zM36.1 49.7h6.3v7.1h-6.3zM83.5 39.5h3.3v3.6h-3.3zM60.5 21.3h3v3h-3zM60.5 24.3h3v3h-3zM60.5 27.4h3v3h-3zM60.5 30.4h3v3h-3zM60.5 33.5h3v3h-3zM66.5 12.2h3v3h-3zM69.6 6.1h3v3h-3zM69.6 30.4h3v3h-3zM69.6 33.5h3v3h-3zM72.6 15.2h3v3h-3zM72.6 18.3h3v3h-3zM72.6 27.4h3v3h-3zM75.7 9.1h3v3h-3zM75.7 12.2h3v3h-3zM78.7 21.3h3v3h-3zM97 9.1h3v3h-3zM97 12.2h3v3h-3z" class="tn" stroke-width="0.54"/><path d="M85.2 89h14.8v11h-14.8zM11 0h9.6v8.9h-9.6zM11 8.9h9.6v8.9h-9.6zM40.4 79.4h9.9v9.6h-9.9zM50.4 79.4h9.9v9.6h-9.9zM90.1 79.4h9.9v9.6h-9.9zM20.6 49.6h8.3v9.9h-8.3zM46.7 71.1h8.9v8.3h-8.9zM55.6 71.1h8.9v8.3h-8.9zM85.6 57.6h7.2v6.3h-7.2zM92.8 57.6h7.2v6.3h-7.2zM47.9 26h4.8v4.3h-4.8zM47.9 30.4h4.8v4.3h-4.8zM47.9 34.7h4.8v4.3h-4.8zM47.9 39.1h4.8v4.3h-4.8zM47.9 43.4h4.8v4.3h-4.8zM47.9 47.7h4.8v4.3h-4.8zM52.7 47.3h5.9v4.8h-5.9zM56.8 14.4h3.6v3.6h-3.6zM56.8 18h3.6v3.6h-3.6zM56.8 21.6h3.6v3.6h-3.6zM56.8 25.2h3.6v3.6h-3.6zM60.5 6.1h3v3h-3zM60.5 9.1h3v3h-3zM60.5 12.2h3v3h-3zM60.5 15.2h3v3h-3zM60.5 18.3h3v3h-3zM63.5 33.5h3v3h-3zM66.5 3h3v3h-3zM66.5 6.1h3v3h-3zM66.5 9.1h3v3h-3zM66.5 18.3h3v3h-3zM69.6 9.1h3v3h-3zM75.7 3h3v3h-3zM75.7 6.1h3v3h-3zM75.7 18.3h3v3h-3zM78.7 6.1h3v3h-3zM78.7 24.3h3v3h-3zM78.7 27.4h3v3h-3zM81.7 30.4h3v3h-3zM81.7 33.5h3v3h-3zM87.8 27.4h3v3h-3zM87.8 30.4h3v3h-3zM93.9 30.4h3v3h-3z" fill-opacity="0.03" class="tl" stroke-width="0.54"/><path d="M25.8 89h14.8v11h-14.8zM40.7 89h14.8v11h-14.8zM55.5 89h14.8v11h-14.8zM11 44.5h9.6v8.9h-9.6zM60.3 79.4h9.9v9.6h-9.9zM28.9 17.8h7.2v8.9h-7.2zM28.9 26.7h7.2v8.9h-7.2zM36.1 63.9h9.1v7.2h-9.1zM63.5 63.9h9.1v7.2h-9.1zM72.6 63.9h9.1v7.2h-9.1zM81.8 63.9h9.1v7.2h-9.1zM90.9 63.9h9.1v7.2h-9.1zM36.1 0h6.3v7.1h-6.3zM36.1 7.1h6.3v7.1h-6.3zM49.6 57.6h7.2v6.3h-7.2zM56.8 57.6h7.2v6.3h-7.2zM64 57.6h7.2v6.3h-7.2zM71.2 57.6h7.2v6.3h-7.2zM88.2 47.3h5.9v4.8h-5.9zM52.7 39.4h4.1v3.9h-4.1zM52.7 43.4h4.1v3.9h-4.1zM56.8 43.2h3.9v4.1h-3.9zM63.5 12.2h3v3h-3zM63.5 15.2h3v3h-3zM63.5 18.3h3v3h-3zM66.5 30.4h3v3h-3zM66.5 33.5h3v3h-3zM69.6 12.2h3v3h-3zM69.6 18.3h3v3h-3zM69.6 21.3h3v3h-3zM69.6 24.3h3v3h-3zM72.6 9.1h3v3h-3zM72.6 12.2h3v3h-3zM78.7 0h3v3h-3zM78.7 3h3v3h-3zM84.8 24.3h3v3h-3zM84.8 27.4h3v3h-3zM90.9 33.5h3v3h-3zM93.9 33.5h3v3h-3zM93.9 36.5h3v3h-3zM97 21.3h3v3h-3zM97 24.3h3v3h-3zM97 33.5h3v3h-3z" fill-opacity="0.08" class="tl" stroke-width="0.54"/><path d="M11 35.6h9.6v8.9h-9.6zM20.6 59.6h8.3v9.9h-8.3zM73.3 71.1h8.9v8.3h-8.9zM28.9 35.6h7.2v8.9h-7.2zM42.4 0h5.5v5.2h-5.5zM42.4 5.2h5.5v5.2h-5.5zM80.5 52.1h6.5v5.5h-6.5zM87 52.1h6.5v5.5h-6.5zM47.9 0h4.8v4.3h-4.8zM64.5 47.3h5.9v4.8h-5.9zM52.7 19.7h4.1v3.9h-4.1zM52.7 23.7h4.1v3.9h-4.1zM52.7 27.6h4.1v3.9h-4.1zM52.7 31.5h4.1v3.9h-4.1zM52.7 35.5h4.1v3.9h-4.1zM76.5 43.2h3.9v4.1h-3.9zM56.8 39.6h3.6v3.6h-3.6zM63.7 39.5h3.3v3.6h-3.3zM69.6 36.5h3v3h-3zM72.6 0h3v3h-3zM72.6 3h3v3h-3zM72.6 30.4h3v3h-3zM72.6 33.5h3v3h-3zM81.7 0h3v3h-3zM81.7 3h3v3h-3zM81.7 6.1h3v3h-3zM81.7 9.1h3v3h-3zM81.7 15.2h3v3h-3zM84.8 30.4h3v3h-3zM84.8 33.5h3v3h-3zM84.8 36.5h3v3h-3zM90.9 3h3v3h-3zM90.9 6.1h3v3h-3zM90.9 9.1h3v3h-3zM90.9 12.2h3v3h-3zM90.9 15.2h3v3h-3z" fill-opacity="0.16" class="tl" stroke-width="0.54"/><path d="M11 53.4h9.6v8.9h-9.6zM11 62.3h9.6v8.9h-9.6zM42.4 10.5h5.5v5.2h-5.5zM42.4 41.9h5.5v5.2h-5.5zM60.9 52.1h6.5v5.5h-6.5zM47.9 21.7h4.8v4.3h-4.8zM82.3 47.3h5.9v4.8h-5.9zM60.8 43.2h3.9v4.1h-3.9zM63.5 0h3v3h-3zM78.7 36.5h3v3h-3zM81.7 12.2h3v3h-3zM81.7 24.3h3v3h-3zM81.7 27.4h3v3h-3zM81.7 36.5h3v3h-3zM84.8 0h3v3h-3zM84.8 3h3v3h-3zM87.8 36.5h3v3h-3zM90.9 18.3h3v3h-3zM93.9 0h3v3h-3zM93.9 3h3v3h-3zM93.9 6.1h3v3h-3zM93.9 9.1h3v3h-3zM93.9 12.2h3v3h-3zM93.9 15.2h3v3h-3zM93.9 18.3h3v3h-3zM93.9 21.3h3v3h-3zM93.9 24.3h3v3h-3zM93.9 27.4h3v3h-3z" fill-opacity="0.26" class="tl" stroke-width="0.54"/><path d="M0 0h11v11.1h-11zM0 11.1h11v11.1h-11zM11 26.7h9.6v8.9h-9.6zM20.6 39.7h8.3v9.9h-8.3zM20.6 69.5h8.3v9.9h-8.3zM28.9 0h7.2v8.9h-7.2zM28.9 8.9h7.2v8.9h-7.2zM28.9 44.4h7.2v8.9h-7.2zM28.9 53.3h7.2v8.9h-7.2zM28.9 62.2h7.2v8.9h-7.2zM36.1 28.4h6.3v7.1h-6.3zM36.1 35.5h6.3v7.1h-6.3zM42.4 15.7h5.5v5.2h-5.5zM42.4 20.9h5.5v5.2h-5.5zM42.4 36.6h5.5v5.2h-5.5zM52.7 3.9h4.1v3.9h-4.1zM52.7 7.9h4.1v3.9h-4.1zM52.7 11.8h4.1v3.9h-4.1zM52.7 15.8h4.1v3.9h-4.1zM80.4 43.2h3.9v4.1h-3.9zM84.3 43.2h3.9v4.1h-3.9zM92.2 43.2h3.9v4.1h-3.9zM96.1 43.2h3.9v4.1h-3.9zM56.8 0h3.6v3.6h-3.6zM56.8 3.6h3.6v3.6h-3.6zM63.5 6.1h3v3h-3zM63.5 9.1h3v3h-3zM63.5 27.4h3v3h-3zM63.5 30.4h3v3h-3zM66.5 15.2h3v3h-3zM69.6 3h3v3h-3zM72.6 21.3h3v3h-3zM72.6 24.3h3v3h-3zM75.7 33.5h3v3h-3zM75.7 36.5h3v3h-3zM81.7 18.3h3v3h-3zM81.7 21.3h3v3h-3zM84.8 12.2h3v3h-3zM84.8 15.2h3v3h-3zM84.8 21.3h3v3h-3zM87.8 0h3v3h-3zM87.8 3h3v3h-3zM87.8 6.1h3v3h-3zM87.8 9.1h3v3h-3zM87.8 12.2h3v3h-3zM87.8 15.2h3v3h-3zM87.8 33.5h3v3h-3zM90.9 0h3v3h-3zM90.9 30.4h3v3h-3zM97 0h3v3h-3zM97 15.2h3v3h-3z" fill-opacity="0.36" class="tl" stroke-width="0.54"/><path d="M0 66.7h11v11.1h-11zM80.1 79.4h9.9v9.6h-9.9zM20.6 9.9h8.3v9.9h-8.3zM20.6 19.9h8.3v9.9h-8.3zM20.6 29.8h8.3v9.9h-8.3zM64.4 71.1h8.9v8.3h-8.9zM45.3 63.9h9.1v7.2h-9.1zM54.4 63.9h9.1v7.2h-9.1zM42.4 57.6h7.2v6.3h-7.2zM93.5 52.1h6.5v5.5h-6.5zM70.4 47.3h5.9v4.8h-5.9zM76.3 47.3h5.9v4.8h-5.9zM94.1 47.3h5.9v4.8h-5.9zM52.7 0h4.1v3.9h-4.1zM88.2 43.2h3.9v4.1h-3.9zM56.8 28.8h3.6v3.6h-3.6zM56.8 32.4h3.6v3.6h-3.6zM60.5 36.5h3v3h-3zM63.5 3h3v3h-3zM63.5 21.3h3v3h-3zM63.5 24.3h3v3h-3zM63.5 36.5h3v3h-3zM66.5 0h3v3h-3zM66.5 36.5h3v3h-3zM69.6 0h3v3h-3zM69.6 27.4h3v3h-3zM72.6 6.1h3v3h-3zM75.7 21.3h3v3h-3zM75.7 24.3h3v3h-3zM78.7 9.1h3v3h-3zM78.7 12.2h3v3h-3zM84.8 18.3h3v3h-3zM87.8 24.3h3v3h-3zM97 18.3h3v3h-3zM97 36.5h3v3h-3z" fill-opacity="0.46" class="tl" stroke-width="0.54"/><path d="M11 80.1h9.6v8.9h-9.6zM70.2 79.4h9.9v9.6h-9.9zM20.6 0h8.3v9.9h-8.3zM36.1 56.8h6.3v7.1h-6.3zM78.4 57.6h7.2v6.3h-7.2zM42.4 31.4h5.5v5.2h-5.5zM60.5 39.5h3.3v3.6h-3.3zM67 39.5h3.3v3.6h-3.3zM70.3 39.5h3.3v3.6h-3.3zM73.6 39.5h3.3v3.6h-3.3zM76.9 39.5h3.3v3.6h-3.3zM80.2 39.5h3.3v3.6h-3.3zM60.5 0h3v3h-3zM60.5 3h3v3h-3zM75.7 15.2h3v3h-3zM78.7 30.4h3v3h-3zM78.7 33.5h3v3h-3zM87.8 18.3h3v3h-3zM87.8 21.3h3v3h-3z" fill-opacity="0.56" class="tl" stroke-width="0.54"/><path d="M0 22.2h11v11.1h-11zM0 33.3h11v11.1h-11zM0 44.4h11v11.1h-11zM0 55.6h11v11.1h-11zM70.3 89h14.8v11h-14.8zM11 17.8h9.6v8.9h-9.6zM28.9 71.1h8.9v8.3h-8.9zM37.8 71.1h8.9v8.3h-8.9zM82.2 71.1h8.9v8.3h-8.9zM91.1 71.1h8.9v8.3h-8.9zM42.4 26.2h5.5v5.2h-5.5zM42.4 47.1h5.5v5.2h-5.5zM42.4 52.3h5.5v5.2h-5.5zM47.9 52.1h6.5v5.5h-6.5zM54.4 52.1h6.5v5.5h-6.5zM67.5 52.1h6.5v5.5h-6.5zM74 52.1h6.5v5.5h-6.5zM58.6 47.3h5.9v4.8h-5.9zM64.7 43.2h3.9v4.1h-3.9zM68.6 43.2h3.9v4.1h-3.9zM56.8 7.2h3.6v3.6h-3.6zM56.8 10.8h3.6v3.6h-3.6zM56.8 36h3.6v3.6h-3.6zM66.5 21.3h3v3h-3zM66.5 24.3h3v3h-3zM66.5 27.4h3v3h-3zM69.6 15.2h3v3h-3zM75.7 0h3v3h-3zM78.7 15.2h3v3h-3zM78.7 18.3h3v3h-3zM84.8 6.1h3v3h-3zM84.8 9.1h3v3h-3zM97 3h3v3h-3zM97 6.1h3v3h-3zM97 27.4h3v3h-3zM97 30.4h3v3h-3z" fill-opacity="0.66" class="tl" stroke-width="0.54"/><path d="M0 77.8h11v11.1h-11zM0 88.9h11v11.1h-11zM11 89h14.8v11h-14.8zM36.1 14.2h6.3v7.1h-6.3zM36.1 21.3h6.3v7.1h-6.3zM47.9 4.3h4.8v4.3h-4.8zM47.9 8.7h4.8v4.3h-4.8zM47.9 13h4.8v4.3h-4.8zM47.9 17.4h4.8v4.3h-4.8zM72.5 43.2h3.9v4.1h-3.9zM86.8 39.5h3.3v3.6h-3.3zM90.1 39.5h3.3v3.6h-3.3zM93.4 39.5h3.3v3.6h-3.3zM96.7 39.5h3.3v3.6h-3.3zM72.6 36.5h3v3h-3zM75.7 27.4h3v3h-3zM75.7 30.4h3v3h-3zM90.9 21.3h3v3h-3zM90.9 24.3h3v3h-3zM90.9 27.4h3v3h-3zM90.9 36.5h3v3h-3z" fill-opacity="0.74" class="tl" stroke-width="0.54"/></pattern><rect id="qG00" width="100" height="100" fill="url(#G00)"/><pattern id="G01" width="100" height="100" patternUnits="userSpaceOnUse"><path d="M0 62.5h11v12.5h-11zM11 26.7h9.6v8.9h-9.6zM91.2 79.4h8.8v9.6h-8.8zM52.1 63.9h8v7.2h-8zM60.1 63.9h8v7.2h-8zM68.1 63.9h8v7.2h-8zM76.1 63.9h8v7.2h-8zM84 63.9h8v7.2h-8zM92 63.9h8v7.2h-8zM36.1 0h6.3v6.4h-6.3zM36.1 6.4h6.3v6.4h-6.3zM36.1 12.8h6.3v6.4h-6.3zM82.6 52.1h5.8v5.5h-5.8zM47.9 8.7h4.8v4.3h-4.8zM66.9 47.3h4.7v4.8h-4.7zM71.6 47.3h4.7v4.8h-4.7zM52.7 4.7h4.1v4.7h-4.1zM52.7 9.5h4.1v4.7h-4.1zM52.7 14.2h4.1v4.7h-4.1zM52.7 18.9h4.1v4.7h-4.1zM52.7 23.7h4.1v4.7h-4.1zM52.7 28.4h4.1v4.7h-4.1zM52.7 33.1h4.1v4.7h-4.1zM92.2 43.2h3.9v4.1h-3.9zM96.1 43.2h3.9v4.1h-3.9zM56.8 0h3.6v4.3h-3.6zM68.4 39.5h4v3.6h-4zM72.3 39.5h4v3.6h-4zM84.2 39.5h4v3.6h-4zM88.1 39.5h4v3.6h-4zM92.1 39.5h4v3.6h-4zM96 39.5h4v3.6h-4zM60.5 0h3v3h-3zM63.5 24.3h3v3h-3zM66.5 9.1h3v3h-3zM66.5 30.4h3v3h-3zM72.6 0h3v3h-3zM72.6 3h3v3h-3zM72.6 6.1h3v3h-3zM75.7 18.3h3v3h-3zM75.7 30.4h3v3h-3zM75.7 33.5h3v3h-3zM78.7 33.5h3v3h-3zM81.7 0h3v3h-3zM81.7 3h3v3h-3zM81.7 6.1h3v3h-3zM84.8 0h3v3h-3zM87.8 3h3v3h-3zM87.8 6.1h3v3h-3zM90.9 30.4h3v3h-3zM93.9 24.3h3v3h-3zM93.9 27.4h3v3h-3zM93.9 30.4h3v3h-3zM93.9 33.5h3v3h-3zM97 18.3h3v3h-3zM97 21.3h3v3h-3zM97 24.3h3v3h-3z" class="tn" stroke-width="0.54"/><path d="M0 87.5h11v12.5h-11zM36.1 51.1h6.3v6.4h-6.3zM36.1 57.5h6.3v6.4h-6.3zM42.4 57.6h8.2v6.3h-8.2zM42.4 40.3h5.5v5.8h-5.5zM47.9 52.1h5.8v5.5h-5.8zM80.4 43.2h3.9v4.1h-3.9zM84.3 43.2h3.9v4.1h-3.9zM56.8 21.6h3.6v4.3h-3.6zM63.5 21.3h3v3h-3zM72.6 21.3h3v3h-3zM75.7 0h3v3h-3zM75.7 3h3v3h-3zM75.7 9.1h3v3h-3zM75.7 12.2h3v3h-3zM75.7 15.2h3v3h-3zM78.7 36.5h3v3h-3zM81.7 15.2h3v3h-3zM81.7 18.3h3v3h-3zM90.9 21.3h3v3h-3zM90.9 33.5h3v3h-3zM90.9 36.5h3v3h-3zM93.9 0h3v3h-3z" fill-opacity="0.03" class="tl" stroke-width="0.54"/><path d="M77.8 89h11.1v11h-11.1zM88.9 89h11.1v11h-11.1zM11 8.9h9.6v8.9h-9.6zM55.9 79.4h8.8v9.6h-8.8zM20.6 19.9h8.3v9.9h-8.3zM20.6 29.8h8.3v9.9h-8.3zM20.6 59.6h8.3v9.9h-8.3zM20.6 69.5h8.3v9.9h-8.3zM28.9 71.1h7.9v8.3h-7.9zM36.8 71.1h7.9v8.3h-7.9zM28.9 62.2h7.2v8.9h-7.2zM36.1 19.2h6.3v6.4h-6.3zM83.6 57.6h8.2v6.3h-8.2zM88.4 52.1h5.8v5.5h-5.8zM94.2 52.1h5.8v5.5h-5.8zM47.9 0h4.8v4.3h-4.8zM47.9 4.3h4.8v4.3h-4.8zM47.9 17.4h4.8v4.3h-4.8zM47.9 21.7h4.8v4.3h-4.8zM47.9 26h4.8v4.3h-4.8zM76.5 43.2h3.9v4.1h-3.9zM56.8 17.3h3.6v4.3h-3.6zM56.8 25.9h3.6v4.3h-3.6zM56.8 30.2h3.6v4.3h-3.6zM56.8 34.5h3.6v4.3h-3.6zM60.5 39.5h4v3.6h-4zM60.5 21.3h3v3h-3zM63.5 6.1h3v3h-3zM63.5 33.5h3v3h-3zM66.5 6.1h3v3h-3zM72.6 9.1h3v3h-3zM72.6 12.2h3v3h-3zM72.6 15.2h3v3h-3zM72.6 18.3h3v3h-3zM75.7 36.5h3v3h-3zM78.7 27.4h3v3h-3zM93.9 3h3v3h-3zM93.9 6.1h3v3h-3zM97 27.4h3v3h-3zM97 30.4h3v3h-3z" fill-opacity="0.08" class="tl" stroke-width="0.54"/><path d="M11 0h9.6v8.9h-9.6zM11 62.3h9.6v8.9h-9.6zM11 71.2h9.6v8.9h-9.6zM58.9 57.6h8.2v6.3h-8.2zM42.4 46h5.5v5.8h-5.5zM72.5 43.2h3.9v4.1h-3.9zM80.2 39.5h4v3.6h-4zM69.6 18.3h3v3h-3zM69.6 21.3h3v3h-3zM69.6 24.3h3v3h-3zM69.6 27.4h3v3h-3zM69.6 30.4h3v3h-3zM69.6 33.5h3v3h-3zM69.6 36.5h3v3h-3zM72.6 30.4h3v3h-3zM81.7 27.4h3v3h-3zM81.7 30.4h3v3h-3zM81.7 33.5h3v3h-3zM81.7 36.5h3v3h-3zM87.8 21.3h3v3h-3z" fill-opacity="0.16" class="tl" stroke-width="0.54"/><path d="M11 17.8h9.6v8.9h-9.6zM11 80.1h9.6v8.9h-9.6zM20.6 79.4h8.8v9.6h-8.8zM29.4 79.4h8.8v9.6h-8.8zM38.2 79.4h8.8v9.6h-8.8zM47 79.4h8.8v9.6h-8.8zM44.7 71.1h7.9v8.3h-7.9zM52.6 71.1h7.9v8.3h-7.9zM60.5 71.1h7.9v8.3h-7.9zM68.4 71.1h7.9v8.3h-7.9zM92.1 71.1h7.9v8.3h-7.9zM28.9 53.3h7.2v8.9h-7.2zM36.1 25.5h6.3v6.4h-6.3zM67.1 57.6h8.2v6.3h-8.2zM75.3 57.6h8.2v6.3h-8.2zM42.4 51.8h5.5v5.8h-5.5zM62.2 47.3h4.7v4.8h-4.7zM81.1 47.3h4.7v4.8h-4.7zM56.8 4.3h3.6v4.3h-3.6zM56.8 8.6h3.6v4.3h-3.6zM64.4 39.5h4v3.6h-4zM60.5 9.1h3v3h-3zM60.5 12.2h3v3h-3zM66.5 3h3v3h-3zM69.6 15.2h3v3h-3zM75.7 6.1h3v3h-3zM75.7 27.4h3v3h-3zM81.7 24.3h3v3h-3zM84.8 12.2h3v3h-3zM84.8 15.2h3v3h-3zM84.8 18.3h3v3h-3zM87.8 33.5h3v3h-3zM87.8 36.5h3v3h-3zM90.9 27.4h3v3h-3zM93.9 36.5h3v3h-3z" fill-opacity="0.26" class="tl" stroke-width="0.54"/><path d="M0 0h11v12.5h-11zM0 12.5h11v12.5h-11zM11 89h11.1v11h-11.1zM22.1 89h11.1v11h-11.1zM33.2 89h11.1v11h-11.1zM76.3 71.1h7.9v8.3h-7.9zM84.2 71.1h7.9v8.3h-7.9zM36.1 63.9h8v7.2h-8zM44.1 63.9h8v7.2h-8zM36.1 31.9h6.3v6.4h-6.3zM36.1 38.3h6.3v6.4h-6.3zM42.4 34.5h5.5v5.8h-5.5zM47.9 30.4h4.8v4.3h-4.8zM52.7 37.8h4.1v4.7h-4.1zM52.7 42.6h4.1v4.7h-4.1zM56.8 43.2h3.9v4.1h-3.9zM56.8 38.8h3.6v4.3h-3.6zM66.5 12.2h3v3h-3zM66.5 15.2h3v3h-3zM66.5 33.5h3v3h-3zM66.5 36.5h3v3h-3zM69.6 3h3v3h-3zM69.6 6.1h3v3h-3zM69.6 9.1h3v3h-3zM69.6 12.2h3v3h-3zM72.6 33.5h3v3h-3zM78.7 12.2h3v3h-3zM78.7 15.2h3v3h-3zM78.7 18.3h3v3h-3zM93.9 15.2h3v3h-3zM97 0h3v3h-3z" fill-opacity="0.36" class="tl" stroke-width="0.54"/><path d="M0 75h11v12.5h-11zM11 35.6h9.6v8.9h-9.6zM11 44.5h9.6v8.9h-9.6zM73.5 79.4h8.8v9.6h-8.8zM82.3 79.4h8.8v9.6h-8.8zM20.6 39.7h8.3v9.9h-8.3zM42.4 0h5.5v5.8h-5.5zM42.4 5.8h5.5v5.8h-5.5zM42.4 11.5h5.5v5.8h-5.5zM42.4 17.3h5.5v5.8h-5.5zM42.4 23h5.5v5.8h-5.5zM42.4 28.8h5.5v5.8h-5.5zM53.7 52.1h5.8v5.5h-5.8zM59.5 52.1h5.8v5.5h-5.8zM47.9 34.7h4.8v4.3h-4.8zM47.9 39.1h4.8v4.3h-4.8zM47.9 43.4h4.8v4.3h-4.8zM47.9 47.7h4.8v4.3h-4.8zM88.2 43.2h3.9v4.1h-3.9zM60.5 3h3v3h-3zM60.5 6.1h3v3h-3zM60.5 27.4h3v3h-3zM60.5 30.4h3v3h-3zM60.5 33.5h3v3h-3zM60.5 36.5h3v3h-3zM63.5 0h3v3h-3zM63.5 3h3v3h-3zM63.5 9.1h3v3h-3zM63.5 12.2h3v3h-3zM63.5 27.4h3v3h-3zM63.5 30.4h3v3h-3zM66.5 0h3v3h-3zM78.7 0h3v3h-3zM78.7 3h3v3h-3zM78.7 6.1h3v3h-3zM81.7 21.3h3v3h-3zM84.8 3h3v3h-3zM84.8 6.1h3v3h-3zM84.8 9.1h3v3h-3zM84.8 24.3h3v3h-3zM84.8 27.4h3v3h-3zM84.8 30.4h3v3h-3zM84.8 33.5h3v3h-3zM84.8 36.5h3v3h-3zM87.8 12.2h3v3h-3zM87.8 15.2h3v3h-3zM87.8 18.3h3v3h-3zM90.9 0h3v3h-3zM90.9 3h3v3h-3zM90.9 6.1h3v3h-3zM90.9 9.1h3v3h-3zM90.9 12.2h3v3h-3zM90.9 15.2h3v3h-3zM90.9 18.3h3v3h-3zM97 3h3v3h-3zM97 6.1h3v3h-3zM97 33.5h3v3h-3zM97 36.5h3v3h-3z" fill-opacity="0.46" class="tl" stroke-width="0.54"/><path d="M11 53.4h9.6v8.9h-9.6zM64.7 79.4h8.8v9.6h-8.8zM36.1 44.7h6.3v6.4h-6.3zM65.3 52.1h5.8v5.5h-5.8zM71.1 52.1h5.8v5.5h-5.8zM76.9 52.1h5.8v5.5h-5.8zM85.8 47.3h4.7v4.8h-4.7zM90.5 47.3h4.7v4.8h-4.7zM95.3 47.3h4.7v4.8h-4.7zM52.7 0h4.1v4.7h-4.1zM63.5 36.5h3v3h-3zM72.6 36.5h3v3h-3zM75.7 21.3h3v3h-3zM75.7 24.3h3v3h-3zM78.7 30.4h3v3h-3zM81.7 9.1h3v3h-3zM81.7 12.2h3v3h-3zM87.8 0h3v3h-3zM87.8 9.1h3v3h-3zM87.8 30.4h3v3h-3zM90.9 24.3h3v3h-3zM93.9 21.3h3v3h-3z" fill-opacity="0.56" class="tl" stroke-width="0.54"/><path d="M20.6 49.6h8.3v9.9h-8.3zM50.7 57.6h8.2v6.3h-8.2zM47.9 13h4.8v4.3h-4.8zM52.7 47.3h4.7v4.8h-4.7zM57.4 47.3h4.7v4.8h-4.7zM76.3 47.3h4.7v4.8h-4.7zM60.8 43.2h3.9v4.1h-3.9zM76.3 39.5h4v3.6h-4zM60.5 15.2h3v3h-3zM60.5 18.3h3v3h-3zM60.5 24.3h3v3h-3zM66.5 27.4h3v3h-3zM78.7 9.1h3v3h-3zM78.7 21.3h3v3h-3zM78.7 24.3h3v3h-3zM84.8 21.3h3v3h-3zM87.8 24.3h3v3h-3zM87.8 27.4h3v3h-3zM93.9 9.1h3v3h-3zM93.9 12.2h3v3h-3zM93.9 18.3h3v3h-3z" fill-opacity="0.66" class="tl" stroke-width="0.54"/><path d="M0 25h11v12.5h-11zM0 37.5h11v12.5h-11zM0 50h11v12.5h-11zM44.4 89h11.1v11h-11.1zM55.5 89h11.1v11h-11.1zM66.6 89h11.1v11h-11.1zM20.6 0h8.3v9.9h-8.3zM20.6 9.9h8.3v9.9h-8.3zM28.9 0h7.2v8.9h-7.2zM28.9 8.9h7.2v8.9h-7.2zM28.9 17.8h7.2v8.9h-7.2zM28.9 26.7h7.2v8.9h-7.2zM28.9 35.6h7.2v8.9h-7.2zM28.9 44.4h7.2v8.9h-7.2zM91.8 57.6h8.2v6.3h-8.2zM64.7 43.2h3.9v4.1h-3.9zM68.6 43.2h3.9v4.1h-3.9zM56.8 12.9h3.6v4.3h-3.6zM63.5 15.2h3v3h-3zM63.5 18.3h3v3h-3zM66.5 18.3h3v3h-3zM66.5 21.3h3v3h-3zM66.5 24.3h3v3h-3zM69.6 0h3v3h-3zM72.6 24.3h3v3h-3zM72.6 27.4h3v3h-3zM97 9.1h3v3h-3zM97 12.2h3v3h-3zM97 15.2h3v3h-3z" fill-opacity="0.74" class="tl" stroke-width="0.54"/></pattern><rect id="qG01" width="100" height="100" fill="url(#G01)"/><pattern id="G10" width="100" height="100" patternUnits="userSpaceOnUse"><path d="M0 0h14v16.7h-14zM0 50h14v16.7h-14zM0 66.7h14v16.7h-14zM0 83.3h14v16.7h-14zM14 86h14.3v14h-14.3zM14 49.1h12v12.3h-12zM14 61.4h12v12.3h-12zM14 73.7h12v12.3h-12zM26 74h12.3v12h-12.3zM87.7 74h12.3v12h-12.3zM26 0h10.4v10.6h-10.4zM45.5 63.6h9.1v10.4h-9.1zM94.2 34.8h5.8v5.7h-5.8zM65.2 0h4.9v5h-4.9z" class="tn" stroke-width="0.79"/><path d="M71.3 86h14.3v14h-14.3zM85.7 86h14.3v14h-14.3zM14 0h12v12.3h-12zM63 74h12.3v12h-12.3zM63.7 63.6h9.1v10.4h-9.1zM62.4 47h9.4v7.7h-9.4zM90.6 47h9.4v7.7h-9.4zM53 0h6.6v6.7h-6.6zM53 40.3h6.6v6.7h-6.6zM59.5 40.5h8.1v6.6h-8.1zM67.6 40.5h8.1v6.6h-8.1zM78.6 17.1h4.3v4.3h-4.3zM95.7 25.6h4.3v4.3h-4.3z" fill-opacity="0.03" class="tl" stroke-width="0.79"/><path d="M0 16.7h14v16.7h-14zM0 33.3h14v16.7h-14zM26 42.3h10.4v10.6h-10.4zM36.4 31.8h8.9v10.6h-8.9zM59.5 5.1h5.7v5.1h-5.7zM75.1 29.9h5v4.9h-5zM80.1 29.9h5v4.9h-5zM85 29.9h5v4.9h-5zM90 29.9h5v4.9h-5zM95 29.9h5v4.9h-5zM70.1 0h4.3v4.3h-4.3zM78.6 12.8h4.3v4.3h-4.3zM91.5 4.3h4.3v4.3h-4.3zM91.5 8.5h4.3v4.3h-4.3zM91.5 12.8h4.3v4.3h-4.3zM95.7 4.3h4.3v4.3h-4.3z" fill-opacity="0.08" class="tl" stroke-width="0.79"/><path d="M28.3 86h14.3v14h-14.3zM42.7 86h14.3v14h-14.3zM26 52.8h10.4v10.6h-10.4zM26 63.4h10.4v10.6h-10.4zM36.4 63.6h9.1v10.4h-9.1zM90.9 63.6h9.1v10.4h-9.1zM63.5 54.7h9.1v8.9h-9.1zM45.3 18.2h7.7v9.1h-7.7zM45.3 27.4h7.7v9.1h-7.7zM45.3 36.5h7.7v9.1h-7.7zM45.3 45.6h7.7v9.1h-7.7zM53 47h9.4v7.7h-9.4zM71.8 47h9.4v7.7h-9.4zM59.5 35.4h5.7v5.1h-5.7zM71 34.8h5.8v5.7h-5.8zM76.8 34.8h5.8v5.7h-5.8zM82.6 34.8h5.8v5.7h-5.8zM88.4 34.8h5.8v5.7h-5.8zM70.1 21.4h4.3v4.3h-4.3zM70.1 25.6h4.3v4.3h-4.3zM74.4 0h4.3v4.3h-4.3zM82.9 25.6h4.3v4.3h-4.3zM87.2 0h4.3v4.3h-4.3zM87.2 4.3h4.3v4.3h-4.3zM87.2 8.5h4.3v4.3h-4.3zM87.2 12.8h4.3v4.3h-4.3zM87.2 17.1h4.3v4.3h-4.3zM87.2 21.4h4.3v4.3h-4.3zM87.2 25.6h4.3v4.3h-4.3zM91.5 0h4.3v4.3h-4.3z" fill-opacity="0.16" class="tl" stroke-width="0.79"/><path d="M36.4 42.4h8.9v10.6h-8.9zM36.4 53h8.9v10.6h-8.9zM45.3 54.7h9.1v8.9h-9.1zM54.4 54.7h9.1v8.9h-9.1zM81.2 47h9.4v7.7h-9.4zM59.5 10.1h5.7v5.1h-5.7zM59.5 15.2h5.7v5.1h-5.7zM59.5 20.2h5.7v5.1h-5.7zM74.4 25.6h4.3v4.3h-4.3zM82.9 12.8h4.3v4.3h-4.3zM82.9 17.1h4.3v4.3h-4.3zM82.9 21.4h4.3v4.3h-4.3z" fill-opacity="0.26" class="tl" stroke-width="0.79"/><path d="M57 86h14.3v14h-14.3zM26 21.1h10.4v10.6h-10.4zM26 31.7h10.4v10.6h-10.4zM72.7 63.6h9.1v10.4h-9.1zM81.8 63.6h9.1v10.4h-9.1zM53 6.7h6.6v6.7h-6.6zM53 26.9h6.6v6.7h-6.6zM65.2 5h4.9v5h-4.9zM70.1 8.5h4.3v4.3h-4.3zM70.1 12.8h4.3v4.3h-4.3zM70.1 17.1h4.3v4.3h-4.3z" fill-opacity="0.36" class="tl" stroke-width="0.79"/><path d="M14 24.6h12v12.3h-12zM14 36.9h12v12.3h-12zM26 10.6h10.4v10.6h-10.4zM53 33.6h6.6v6.7h-6.6zM59.5 25.3h5.7v5.1h-5.7zM59.5 30.3h5.7v5.1h-5.7zM65.2 34.8h5.8v5.7h-5.8zM70.1 4.3h4.3v4.3h-4.3zM78.6 0h4.3v4.3h-4.3zM78.6 4.3h4.3v4.3h-4.3zM91.5 17.1h4.3v4.3h-4.3zM91.5 21.4h4.3v4.3h-4.3zM91.5 25.6h4.3v4.3h-4.3zM95.7 0h4.3v4.3h-4.3zM95.7 17.1h4.3v4.3h-4.3zM95.7 21.4h4.3v4.3h-4.3z" fill-opacity="0.46" class="tl" stroke-width="0.79"/><path d="M14 12.3h12v12.3h-12zM72.6 54.7h9.1v8.9h-9.1zM81.8 54.7h9.1v8.9h-9.1zM90.9 54.7h9.1v8.9h-9.1zM45.3 0h7.7v9.1h-7.7zM45.3 9.1h7.7v9.1h-7.7zM53 13.4h6.6v6.7h-6.6zM53 20.2h6.6v6.7h-6.6zM74.4 4.3h4.3v4.3h-4.3zM74.4 8.5h4.3v4.3h-4.3zM74.4 12.8h4.3v4.3h-4.3zM74.4 17.1h4.3v4.3h-4.3zM74.4 21.4h4.3v4.3h-4.3zM78.6 8.5h4.3v4.3h-4.3zM95.7 8.5h4.3v4.3h-4.3zM95.7 12.8h4.3v4.3h-4.3z" fill-opacity="0.56" class="tl" stroke-width="0.79"/><path d="M38.4 74h12.3v12h-12.3zM50.7 74h12.3v12h-12.3zM75.3 74h12.3v12h-12.3zM36.4 0h8.9v10.6h-8.9zM36.4 10.6h8.9v10.6h-8.9zM36.4 21.2h8.9v10.6h-8.9zM75.7 40.5h8.1v6.6h-8.1zM83.8 40.5h8.1v6.6h-8.1zM91.9 40.5h8.1v6.6h-8.1zM65.2 9.9h4.9v5h-4.9zM65.2 14.9h4.9v5h-4.9zM65.2 19.9h4.9v5h-4.9zM65.2 24.9h4.9v5h-4.9zM65.2 29.8h4.9v5h-4.9zM70.1 29.9h5v4.9h-5zM78.6 21.4h4.3v4.3h-4.3z" fill-opacity="0.66" class="tl" stroke-width="0.79"/><path d="M54.6 63.6h9.1v10.4h-9.1zM59.5 0h5.7v5.1h-5.7zM78.6 25.6h4.3v4.3h-4.3zM82.9 0h4.3v4.3h-4.3zM82.9 4.3h4.3v4.3h-4.3zM82.9 8.5h4.3v4.3h-4.3z" fill-opacity="0.74" class="tl" stroke-width="0.79"/></pattern><rect id="qG10" width="100" height="100" fill="url(#G10)"/><pattern id="G11" width="100" height="100" patternUnits="userSpaceOnUse"><path d="M0 0h14v16.7h-14zM14 86h17.2v14h-17.2zM87.7 74h12.3v12h-12.3zM56.2 54.7h10.9v8.9h-10.9zM67.2 54.7h10.9v8.9h-10.9zM78.1 54.7h10.9v8.9h-10.9zM53 47h7.8v7.7h-7.8zM72.2 34.8h7v5.7h-7zM79.1 34.8h7v5.7h-7zM86.1 34.8h7v5.7h-7zM93 34.8h7v5.7h-7zM65.2 0h4.9v5.8h-4.9zM70.1 12.8h4.3v4.3h-4.3zM70.1 17.1h4.3v4.3h-4.3zM78.6 12.8h4.3v4.3h-4.3zM78.6 17.1h4.3v4.3h-4.3zM78.6 21.4h4.3v4.3h-4.3zM78.6 25.6h4.3v4.3h-4.3z" class="tn" stroke-width="0.79"/><path d="M14 0h12v12.3h-12zM59.5 5.8h5.7v5.8h-5.7zM82.9 17.1h4.3v4.3h-4.3zM82.9 21.4h4.3v4.3h-4.3z" fill-opacity="0.03" class="tl" stroke-width="0.79"/><path d="M26 37h10.4v12.3h-10.4zM36.4 0h8.9v10.6h-8.9zM36.4 10.6h8.9v10.6h-8.9zM45.3 31.3h7.7v7.8h-7.7zM45.3 39.1h7.7v7.8h-7.7zM45.3 46.9h7.7v7.8h-7.7zM59.5 34.7h5.7v5.8h-5.7zM65.2 34.8h7v5.7h-7zM65.2 29h4.9v5.8h-4.9zM70.1 29.9h6v4.9h-6zM82.9 0h4.3v4.3h-4.3zM82.9 4.3h4.3v4.3h-4.3zM82.9 8.5h4.3v4.3h-4.3zM82.9 12.8h4.3v4.3h-4.3zM91.5 17.1h4.3v4.3h-4.3z" fill-opacity="0.08" class="tl" stroke-width="0.79"/><path d="M84.3 47h7.8v7.7h-7.8zM92.2 47h7.8v7.7h-7.8zM53 31.4h6.6v7.8h-6.6zM53 39.2h6.6v7.8h-6.6zM59.5 17.3h5.7v5.8h-5.7zM59.5 28.9h5.7v5.8h-5.7zM94 29.9h6v4.9h-6zM70.1 0h4.3v4.3h-4.3zM74.4 17.1h4.3v4.3h-4.3zM74.4 21.4h4.3v4.3h-4.3zM74.4 25.6h4.3v4.3h-4.3zM78.6 0h4.3v4.3h-4.3zM87.2 8.5h4.3v4.3h-4.3zM87.2 12.8h4.3v4.3h-4.3zM95.7 4.3h4.3v4.3h-4.3z" fill-opacity="0.16" class="tl" stroke-width="0.79"/><path d="M14 36.9h12v12.3h-12zM14 61.4h12v12.3h-12zM14 73.7h12v12.3h-12zM26 74h12.3v12h-12.3zM36.4 53h8.9v10.6h-8.9zM45.3 54.7h10.9v8.9h-10.9zM83.8 40.5h8.1v6.6h-8.1zM91.9 40.5h8.1v6.6h-8.1zM59.5 0h5.7v5.8h-5.7zM88 29.9h6v4.9h-6zM70.1 4.3h4.3v4.3h-4.3zM70.1 8.5h4.3v4.3h-4.3zM95.7 12.8h4.3v4.3h-4.3zM95.7 25.6h4.3v4.3h-4.3z" fill-opacity="0.26" class="tl" stroke-width="0.79"/><path d="M0 16.7h14v16.7h-14zM90.9 63.6h9.1v10.4h-9.1zM60.8 47h7.8v7.7h-7.8zM68.6 47h7.8v7.7h-7.8zM76.5 47h7.8v7.7h-7.8zM74.4 4.3h4.3v4.3h-4.3zM74.4 8.5h4.3v4.3h-4.3zM74.4 12.8h4.3v4.3h-4.3z" fill-opacity="0.36" class="tl" stroke-width="0.79"/><path d="M31.2 86h17.2v14h-17.2zM48.4 86h17.2v14h-17.2zM65.6 86h17.2v14h-17.2zM82.8 86h17.2v14h-17.2zM81.8 63.6h9.1v10.4h-9.1zM45.3 0h7.7v7.8h-7.7zM45.3 7.8h7.7v7.8h-7.7zM45.3 15.6h7.7v7.8h-7.7zM45.3 23.4h7.7v7.8h-7.7zM59.5 40.5h8.1v6.6h-8.1zM67.6 40.5h8.1v6.6h-8.1zM75.7 40.5h8.1v6.6h-8.1zM59.5 23.1h5.7v5.8h-5.7zM76.1 29.9h6v4.9h-6zM82 29.9h6v4.9h-6zM87.2 17.1h4.3v4.3h-4.3zM91.5 21.4h4.3v4.3h-4.3zM91.5 25.6h4.3v4.3h-4.3zM95.7 0h4.3v4.3h-4.3z" fill-opacity="0.46" class="tl" stroke-width="0.79"/><path d="M14 49.1h12v12.3h-12zM36.4 21.2h8.9v10.6h-8.9zM65.2 5.8h4.9v5.8h-4.9zM65.2 11.6h4.9v5.8h-4.9zM65.2 17.4h4.9v5.8h-4.9zM65.2 23.2h4.9v5.8h-4.9zM70.1 21.4h4.3v4.3h-4.3zM70.1 25.6h4.3v4.3h-4.3zM74.4 0h4.3v4.3h-4.3zM82.9 25.6h4.3v4.3h-4.3zM87.2 0h4.3v4.3h-4.3zM87.2 4.3h4.3v4.3h-4.3zM87.2 25.6h4.3v4.3h-4.3zM91.5 0h4.3v4.3h-4.3zM91.5 12.8h4.3v4.3h-4.3zM95.7 21.4h4.3v4.3h-4.3z" fill-opacity="0.56" class="tl" stroke-width="0.79"/><path d="M0 66.7h14v16.7h-14zM0 83.3h14v16.7h-14zM14 12.3h12v12.3h-12zM14 24.6h12v12.3h-12zM38.4 74h12.3v12h-12.3zM26 49.3h10.4v12.3h-10.4zM26 61.6h10.4v12.3h-10.4zM54.6 63.6h9.1v10.4h-9.1zM63.7 63.6h9.1v10.4h-9.1zM72.7 63.6h9.1v10.4h-9.1zM36.4 31.8h8.9v10.6h-8.9zM36.4 42.4h8.9v10.6h-8.9zM53 0h6.6v7.8h-6.6zM53 7.8h6.6v7.8h-6.6zM53 15.7h6.6v7.8h-6.6zM53 23.5h6.6v7.8h-6.6zM78.6 4.3h4.3v4.3h-4.3zM78.6 8.5h4.3v4.3h-4.3zM87.2 21.4h4.3v4.3h-4.3zM95.7 8.5h4.3v4.3h-4.3z" fill-opacity="0.66" class="tl" stroke-width="0.79"/><path d="M0 33.3h14v16.7h-14zM0 50h14v16.7h-14zM50.7 74h12.3v12h-12.3zM63 74h12.3v12h-12.3zM75.3 74h12.3v12h-12.3zM26 0h10.4v12.3h-10.4zM26 12.3h10.4v12.3h-10.4zM26 24.7h10.4v12.3h-10.4zM36.4 63.6h9.1v10.4h-9.1zM45.5 63.6h9.1v10.4h-9.1zM89.1 54.7h10.9v8.9h-10.9zM59.5 11.6h5.7v5.8h-5.7zM91.5 4.3h4.3v4.3h-4.3zM91.5 8.5h4.3v4.3h-4.3zM95.7 17.1h4.3v4.3h-4.3z" fill-opacity="0.74" class="tl" stroke-width="0.79"/></pattern><rect id="qG11" width="100" height="100" fill="url(#G11)"/><pattern id="G20" width="100" height="100" patternUnits="userSpaceOnUse"><path d="M0 0h21v20h-21zM0 40h21v20h-21zM21 59.2h17.8v19.8h-17.8zM38.8 61.2h20.4v17.8h-20.4zM59.2 61.2h20.4v17.8h-20.4z" class="tn" stroke-width="1.21"/><path d="M0 20h21v20h-21zM21 79h26.3v21h-26.3zM54 46h15.3v15.2h-15.3zM83.5 33.1h16.5v12.9h-16.5zM66.9 0h11v11h-11zM88.9 22.1h11.1v11h-11.1zM77.9 0h9.3v11.1h-9.3zM77.9 11.1h9.3v11.1h-9.3zM87.2 12.8h12.8v9.3h-12.8zM87.2 0h7.9v6.4h-7.9zM87.2 6.4h7.9v6.4h-7.9z" fill-opacity="0.03" class="tl" stroke-width="1.21"/><path d="M38.8 30.6h15.2v15.3h-15.2zM38.8 45.9h15.2v15.3h-15.2zM95.1 4.9h4.9v7.9h-4.9z" fill-opacity="0.08" class="tl" stroke-width="1.21"/><path d="M0 80h21v20h-21zM79.6 61.2h20.4v17.8h-20.4zM38.8 0h15.2v15.3h-15.2z" fill-opacity="0.16" class="tl" stroke-width="1.21"/><path d="M0 60h21v20h-21zM38.8 15.3h15.2v15.3h-15.2zM66.9 33.1h16.5v12.9h-16.5z" fill-opacity="0.36" class="tl" stroke-width="1.21"/><path d="M47.3 79h26.3v21h-26.3zM66.9 22.1h11v11h-11zM77.9 22.1h11.1v11h-11.1z" fill-opacity="0.46" class="tl" stroke-width="1.21"/><path d="M66.9 11h11v11h-11z" fill-opacity="0.56" class="tl" stroke-width="1.21"/><path d="M73.7 79h26.3v21h-26.3zM21 0h17.8v19.8h-17.8zM21 19.8h17.8v19.8h-17.8zM21 39.5h17.8v19.8h-17.8zM54 0h12.9v11.5h-12.9zM54 11.5h12.9v11.5h-12.9zM54 23h12.9v11.5h-12.9zM54 34.5h12.9v11.5h-12.9z" fill-opacity="0.66" class="tl" stroke-width="1.21"/><path d="M69.3 46h15.3v15.2h-15.3zM84.7 46h15.3v15.2h-15.3zM95.1 0h4.9v4.9h-4.9z" fill-opacity="0.74" class="tl" stroke-width="1.21"/></pattern><rect id="qG20" width="100" height="100" fill="url(#G20)"/><pattern id="G21" width="100" height="100" patternUnits="userSpaceOnUse"><path d="M0 0h21v25h-21zM21 39.5h17.8v19.8h-17.8zM21 59.2h17.8v19.8h-17.8zM54 46h23v15.2h-23zM77 46h23v15.2h-23zM54 0h12.9v15.3h-12.9zM66.9 11h11v11h-11zM66.9 22.1h11v11h-11zM77.9 22.1h11.1v11h-11.1z" class="tn" stroke-width="1.21"/><path d="M21 79h19.8v21h-19.8zM40.8 79h19.8v21h-19.8zM80.2 79h19.8v21h-19.8zM54 15.3h12.9v15.3h-12.9zM54 30.7h12.9v15.3h-12.9zM66.9 33.1h16.5v12.9h-16.5zM83.5 33.1h16.5v12.9h-16.5z" fill-opacity="0.03" class="tl" stroke-width="1.21"/><path d="M77.9 0h9.3v7.4h-9.3zM77.9 7.4h9.3v7.4h-9.3z" fill-opacity="0.08" class="tl" stroke-width="1.21"/><path d="M21 0h17.8v19.8h-17.8zM21 19.8h17.8v19.8h-17.8zM38.8 61.2h15.3v17.8h-15.3z" fill-opacity="0.16" class="tl" stroke-width="1.21"/><path d="M54.1 61.2h15.3v17.8h-15.3zM69.4 61.2h15.3v17.8h-15.3zM84.7 61.2h15.3v17.8h-15.3zM38.8 0h15.2v15.3h-15.2zM38.8 15.3h15.2v15.3h-15.2zM38.8 30.6h15.2v15.3h-15.2zM66.9 0h11v11h-11zM77.9 14.7h9.3v7.4h-9.3zM87.2 0h7.9v6.4h-7.9z" fill-opacity="0.26" class="tl" stroke-width="1.21"/><path d="M95.1 0h4.9v4.9h-4.9z" fill-opacity="0.36" class="tl" stroke-width="1.21"/><path d="M60.5 79h19.8v21h-19.8zM38.8 45.9h15.2v15.3h-15.2zM88.9 22.1h11.1v11h-11.1z" fill-opacity="0.46" class="tl" stroke-width="1.21"/><path d="M0 25h21v25h-21zM0 50h21v25h-21zM0 75h21v25h-21zM87.2 12.8h12.8v9.3h-12.8z" fill-opacity="0.56" class="tl" stroke-width="1.21"/><path d="M87.2 6.4h7.9v6.4h-7.9zM95.1 4.9h4.9v7.9h-4.9z" fill-opacity="0.66" class="tl" stroke-width="1.21"/></pattern><rect id="qG21" width="100" height="100" fill="url(#G21)"/><pattern id="G30" width="100" height="100" patternUnits="userSpaceOnUse"><path d="M0 0h32v33.3h-32zM0 33.3h32v33.3h-32zM32 68h34v32h-34z" class="tn" stroke-width="2.29"/><path d="M58.2 41.8h41.8v26.2h-41.8zM58.2 0h21.5v20.9h-21.5zM58.2 20.9h21.5v20.9h-21.5zM79.8 20.2h20.2v21.5h-20.2z" fill-opacity="0.03" class="tl" stroke-width="2.29"/><path d="M0 66.7h32v33.3h-32zM66 68h34v32h-34z" fill-opacity="0.46" class="tl" stroke-width="2.29"/><path d="M32 0h26.2v34h-26.2zM32 34h26.2v34h-26.2z" fill-opacity="0.56" class="tl" stroke-width="2.29"/><path d="M79.8 0h20.2v20.2h-20.2z" fill-opacity="0.66" class="tl" stroke-width="2.29"/></pattern><rect id="qG30" width="100" height="100" fill="url(#G30)"/><pattern id="G31" width="100" height="100" patternUnits="userSpaceOnUse"><path d="M0 0h32v33.3h-32z" fill-opacity="0.03" class="tl" stroke-width="2.29"/><path d="M66 68h34v32h-34z" fill-opacity="0.08" class="tl" stroke-width="2.29"/><path d="M0 33.3h32v33.3h-32zM0 66.7h32v33.3h-32zM32 68h34v32h-34z" fill-opacity="0.26" class="tl" stroke-width="2.29"/><path d="M58.2 20.9h21.5v20.9h-21.5z" fill-opacity="0.46" class="tl" stroke-width="2.29"/><path d="M79.8 20.2h20.2v21.5h-20.2zM79.8 0h20.2v20.2h-20.2z" fill-opacity="0.56" class="tl" stroke-width="2.29"/><path d="M32 0h26.2v34h-26.2zM32 34h26.2v34h-26.2zM58.2 41.8h41.8v26.2h-41.8zM58.2 0h21.5v20.9h-21.5z" fill-opacity="0.66" class="tl" stroke-width="2.29"/></pattern><rect id="qG31" width="100" height="100" fill="url(#G31)"/><pattern id="G40" width="100" height="100" patternUnits="userSpaceOnUse"><path d="M0 0h52v50h-52z" class="tn" stroke-width="3.57"/><path d="M0 50h52v50h-52zM52 48h48v52h-48zM52 0h48v48h-48z" fill-opacity="0.08" class="tl" stroke-width="3.57"/></pattern><rect id="qG40" width="100" height="100" fill="url(#G40)"/><pattern id="G41" width="100" height="100" patternUnits="userSpaceOnUse"><path d="M0 0h52v50h-52zM0 50h52v50h-52z" class="tn" stroke-width="3.57"/><path d="M52 48h48v52h-48zM52 0h48v48h-48z" fill-opacity="0.36" class="tl" stroke-width="3.57"/></pattern><rect id="qG41" width="100" height="100" fill="url(#G41)"/></defs>
<rect x="75.8" y="87" width="282.2" height="231" fill="#3a3a3a"/>
<g class="tm"><rect x="75.8" y="87" width="110.9" height="109.5" fill="#f27830"/><rect x="75.8" y="196.5" width="110.9" height="121.5" fill="#f2b230"/><rect x="186.7" y="87" width="55.9" height="49.2" fill="#f29130"/><rect x="186.7" y="136.2" width="55.9" height="51.8" fill="#f23030"/><rect x="186.7" y="188.1" width="55.9" height="57.1" fill="#f230cb"/><rect x="186.7" y="245.1" width="63.1" height="72.9" fill="#f24a30"/><rect x="249.8" y="245.1" width="59.2" height="72.9" fill="#e230f2"/><rect x="308.9" y="245.1" width="49.1" height="72.9" fill="#f2d830"/><rect x="242.6" y="203.1" width="65.5" height="42.1" fill="#f26b30"/><rect x="308.1" y="203.1" width="49.9" height="42.1" fill="#30f2a2"/><rect x="242.6" y="157.9" width="42.7" height="45.2" fill="#61f230"/><rect x="285.3" y="157.9" width="36.7" height="45.2" fill="#30f281"/><rect x="322" y="157.9" width="36" height="45.2" fill="#f23051"/><rect x="242.6" y="87" width="24.8" height="35" fill="#30f261"/><rect x="242.6" y="122" width="24.8" height="35.9" fill="#8130f2"/><rect x="267.4" y="87" width="22" height="32.6" fill="#f23061"/><rect x="267.4" y="119.6" width="22" height="38.3" fill="#e2f230"/><rect x="289.4" y="87" width="20.4" height="16.3" fill="#c230f2"/><rect x="289.4" y="103.3" width="20.4" height="26.1" fill="#30f2cb"/><rect x="289.4" y="129.4" width="23.1" height="28.5" fill="#f230b2"/><rect x="312.5" y="129.4" width="22.8" height="28.5" fill="#3081f2"/><rect x="335.3" y="129.4" width="22.7" height="28.5" fill="#f230e2"/><rect x="309.7" y="87" width="16.3" height="12.2" fill="#30f230"/><rect x="309.7" y="99.2" width="16.3" height="13.9" fill="#c230f2"/><rect x="309.7" y="113.1" width="16.3" height="16.3" fill="#91f230"/><rect x="326" y="87" width="13" height="14.7" fill="#5130f2"/><rect x="326" y="101.7" width="13" height="14.7" fill="#a2f230"/><rect x="326" y="116.3" width="16.3" height="13" fill="#f230e2"/><rect x="339.1" y="87" width="9.8" height="6.5" fill="#f2c230"/><rect x="348.9" y="87" width="9.1" height="6.5" fill="#3051f2"/><rect x="339.1" y="93.5" width="9.8" height="9.8" fill="#b230f2"/><rect x="348.9" y="93.5" width="9.1" height="9.8" fill="#30f230"/><rect x="339.1" y="103.3" width="9.8" height="13" fill="#30c2f2"/><rect x="348.9" y="103.3" width="9.1" height="13" fill="#3061f2"/><rect x="342.4" y="116.3" width="15.6" height="13" fill="#71f230"/></g>
<use href="#qU00" transform="translate(75.8 87)scale(1.109 1.095)"/><use href="#qU01" transform="translate(75.8 196.5)scale(1.109 1.215)"/><use href="#qU20" transform="translate(186.7 87)scale(0.559 0.492)"/><use href="#qU21" transform="translate(186.7 136.2)scale(0.559 0.518)"/><use href="#qU20" transform="translate(186.7 188.1)scale(0.559 0.571)"/><use href="#qU21" transform="translate(186.7 245.1)scale(0.631 0.729)"/><use href="#qU20" transform="translate(249.8 245.1)scale(0.592 0.729)"/><use href="#qU21" transform="translate(308.9 245.1)scale(0.491 0.729)"/><use href="#qU20" transform="translate(242.6 203.1)scale(0.655 0.421)"/><use href="#qU31" transform="translate(308.1 203.1)scale(0.499 0.421)"/><use href="#qU30" transform="translate(242.6 157.9)scale(0.427 0.452)"/><use href="#qU31" transform="translate(285.3 157.9)scale(0.367 0.452)"/><use href="#qU30" transform="translate(322 157.9)scale(0.360 0.452)"/><use href="#qU41" transform="translate(242.6 87)scale(0.248 0.350)"/><use href="#qU40" transform="translate(242.6 122)scale(0.248 0.359)"/><use href="#qU41" transform="translate(267.4 87)scale(0.220 0.326)"/><use href="#qU40" transform="translate(267.4 119.6)scale(0.220 0.383)"/><use href="#qU51" transform="translate(289.4 87)scale(0.204 0.163)"/><use href="#qU50" transform="translate(289.4 103.3)scale(0.204 0.261)"/><use href="#qU41" transform="translate(289.4 129.4)scale(0.231 0.285)"/><use href="#qU40" transform="translate(312.5 129.4)scale(0.228 0.285)"/><use href="#qU41" transform="translate(335.3 129.4)scale(0.227 0.285)"/><use href="#qU60" transform="translate(309.7 87)scale(0.163 0.122)"/><use href="#qU61" transform="translate(309.7 99.2)scale(0.163 0.139)"/><use href="#qU60" transform="translate(309.7 113.1)scale(0.163 0.163)"/><use href="#qU61" transform="translate(326 87)scale(0.130 0.147)"/><use href="#qU60" transform="translate(326 101.7)scale(0.130 0.147)"/><use href="#qU61" transform="translate(326 116.3)scale(0.163 0.130)"/><use href="#qU60" transform="translate(339.1 87)scale(0.098 0.065)"/><use href="#qU61" transform="translate(348.9 87)scale(0.091 0.065)"/><use href="#qU60" transform="translate(339.1 93.5)scale(0.098 0.098)"/><use href="#qU61" transform="translate(348.9 93.5)scale(0.091 0.098)"/><use href="#qU60" transform="translate(339.1 103.3)scale(0.098 0.130)"/><use href="#qU61" transform="translate(348.9 103.3)scale(0.091 0.130)"/><use href="#qU60" transform="translate(342.4 116.3)scale(0.156 0.130)"/>
<rect x="691.8" y="87" width="282.2" height="231" fill="#3a3a3a"/>
<g class="tm"><rect x="691.8" y="87" width="81.2" height="59.5" fill="#30f2ab"/><rect x="691.8" y="146.5" width="81.2" height="75.8" fill="#f27830"/><rect x="691.8" y="222.3" width="81.2" height="95.7" fill="#e2f230"/><rect x="773" y="87" width="41.9" height="54.6" fill="#71f230"/><rect x="773" y="141.6" width="41.9" height="59.5" fill="#e230f2"/><rect x="773" y="201.1" width="41.9" height="66" fill="#f2b230"/><rect x="773" y="267.1" width="80.2" height="50.9" fill="#30f281"/><rect x="814.9" y="87" width="35.5" height="42.7" fill="#30f2cb"/><rect x="814.9" y="129.7" width="35.5" height="45.3" fill="#30f251"/><rect x="814.9" y="175" width="35.5" height="46" fill="#f230b2"/><rect x="814.9" y="221" width="41.6" height="46.1" fill="#81f230"/><rect x="850.4" y="87" width="32.4" height="31" fill="#81f230"/><rect x="850.4" y="118" width="32.4" height="32.6" fill="#d230f2"/><rect x="850.4" y="150.6" width="32.4" height="36.7" fill="#f2306b"/><rect x="850.4" y="187.3" width="43.2" height="33.7" fill="#f23030"/><rect x="856.5" y="221" width="40.3" height="46.1" fill="#f25130"/><rect x="896.7" y="221" width="39.9" height="46.1" fill="#f2304a"/><rect x="936.7" y="221" width="37.3" height="46.1" fill="#f230b8"/><rect x="853.2" y="267.1" width="61.9" height="50.9" fill="#f230e2"/><rect x="915.2" y="267.1" width="58.8" height="50.9" fill="#5130f2"/><rect x="882.9" y="87" width="31.8" height="23.3" fill="#9130f2"/><rect x="882.9" y="110.3" width="31.8" height="23.1" fill="#3078f2"/><rect x="882.9" y="133.5" width="31.8" height="24.5" fill="#a2f230"/><rect x="882.9" y="157.9" width="32.3" height="29.3" fill="#f27830"/><rect x="893.6" y="187.3" width="43" height="33.7" fill="#30c2f2"/><rect x="936.7" y="187.3" width="37.3" height="33.7" fill="#f2d830"/><rect x="915.2" y="157.9" width="30.2" height="29.3" fill="#30f241"/><rect x="945.3" y="157.9" width="28.7" height="29.3" fill="#f230f2"/><rect x="914.7" y="133.5" width="22" height="24.5" fill="#f28b30"/><rect x="936.7" y="133.5" width="21.2" height="24.5" fill="#f23071"/><rect x="957.9" y="133.5" width="16.1" height="24.5" fill="#3071f2"/><rect x="914.7" y="87" width="14.7" height="21.2" fill="#f2c230"/><rect x="914.7" y="108.2" width="14.7" height="25.3" fill="#f23081"/><rect x="929.3" y="87" width="13.9" height="12.2" fill="#30f251"/><rect x="929.3" y="99.2" width="13.9" height="34.2" fill="#304af2"/><rect x="943.2" y="87" width="12.2" height="13" fill="#c230f2"/><rect x="943.2" y="100" width="12.2" height="13" fill="#30a2f2"/><rect x="943.2" y="113.1" width="16.3" height="20.4" fill="#30d8f2"/><rect x="955.4" y="87" width="7.8" height="13.9" fill="#f2a230"/><rect x="963.2" y="87" width="10.8" height="13.9" fill="#4130f2"/><rect x="955.4" y="100.9" width="9.5" height="12.2" fill="#51f230"/><rect x="964.9" y="100.9" width="9.1" height="12.2" fill="#d2f230"/><rect x="959.5" y="113.1" width="14.5" height="20.4" fill="#c230f2"/></g>
<use href="#qG10" transform="translate(691.8 87)scale(0.812 0.595)"/><use href="#qG11" transform="translate(691.8 146.5)scale(0.812 0.758)"/><use href="#qG01" transform="translate(691.8 222.3)scale(0.812 0.957)"/><use href="#qG21" transform="translate(773 87)scale(0.419 0.546)"/><use href="#qG21" transform="translate(773 141.6)scale(0.419 0.595)"/><use href="#qG21" transform="translate(773 201.1)scale(0.419 0.660)"/><use href="#qG10" transform="translate(773 267.1)scale(0.802 0.509)"/><use href="#qG21" transform="translate(814.9 87)scale(0.355 0.427)"/><use href="#qG20" transform="translate(814.9 129.7)scale(0.355 0.453)"/><use href="#qG21" transform="translate(814.9 175)scale(0.355 0.460)"/><use href="#qG21" transform="translate(814.9 221)scale(0.416 0.461)"/><use href="#qG31" transform="translate(850.4 87)scale(0.324 0.310)"/><use href="#qG30" transform="translate(850.4 118)scale(0.324 0.326)"/><use href="#qG31" transform="translate(850.4 150.6)scale(0.324 0.367)"/><use href="#qG20" transform="translate(850.4 187.3)scale(0.432 0.337)"/><use href="#qG21" transform="translate(856.5 221)scale(0.403 0.461)"/><use href="#qG21" transform="translate(896.7 221)scale(0.399 0.461)"/><use href="#qG21" transform="translate(936.7 221)scale(0.373 0.461)"/><use href="#qG10" transform="translate(853.2 267.1)scale(0.619 0.509)"/><use href="#qG21" transform="translate(915.2 267.1)scale(0.588 0.509)"/><use href="#qG31" transform="translate(882.9 87)scale(0.318 0.233)"/><use href="#qG30" transform="translate(882.9 110.3)scale(0.318 0.231)"/><use href="#qG31" transform="translate(882.9 133.5)scale(0.318 0.245)"/><use href="#qG31" transform="translate(882.9 157.9)scale(0.323 0.293)"/><use href="#qG20" transform="translate(893.6 187.3)scale(0.430 0.337)"/><use href="#qG30" transform="translate(936.7 187.3)scale(0.373 0.337)"/><use href="#qG31" transform="translate(915.2 157.9)scale(0.302 0.293)"/><use href="#qG30" transform="translate(945.3 157.9)scale(0.287 0.293)"/><use href="#qG31" transform="translate(914.7 133.5)scale(0.220 0.245)"/><use href="#qG30" transform="translate(936.7 133.5)scale(0.212 0.245)"/><use href="#qG31" transform="translate(957.9 133.5)scale(0.161 0.245)"/><use href="#qG40" transform="translate(914.7 87)scale(0.147 0.212)"/><use href="#qG31" transform="translate(914.7 108.2)scale(0.147 0.253)"/><use href="#qG40" transform="translate(929.3 87)scale(0.139 0.122)"/><use href="#qG31" transform="translate(929.3 99.2)scale(0.139 0.342)"/><use href="#qG40" transform="translate(943.2 87)scale(0.122 0.130)"/><use href="#qG41" transform="translate(943.2 100)scale(0.122 0.130)"/><use href="#qG40" transform="translate(943.2 113.1)scale(0.163 0.204)"/><use href="#qG41" transform="translate(955.4 87)scale(0.078 0.139)"/><use href="#qG40" transform="translate(963.2 87)scale(0.108 0.139)"/><use href="#qG41" transform="translate(955.4 100.9)scale(0.095 0.122)"/><use href="#qG40" transform="translate(964.9 100.9)scale(0.091 0.122)"/><use href="#qG41" transform="translate(959.5 113.1)scale(0.145 0.204)"/>
<g class="tm"><rect x="691.8" y="96.8" width="9" height="49.7" fill="#12593f"/><rect x="691.8" y="87" width="9" height="9.8" fill="#30f2a2"/><rect x="691.8" y="146.5" width="18.7" height="75.8" fill="#f07630"/><rect x="710.6" y="210.9" width="62.4" height="11.4" fill="#bf5926"/><rect x="710.6" y="146.5" width="9" height="64.4" fill="#733917"/><rect x="691.8" y="300.6" width="81.2" height="17.4" fill="#e2f230"/><rect x="691.8" y="222.3" width="13.9" height="78.2" fill="#b2bf26"/><rect x="705.7" y="222.3" width="9.8" height="27.7" fill="#dbeb2f"/><rect x="773" y="122" width="41.9" height="19.6" fill="#71f230"/><rect x="773" y="186.4" width="41.9" height="14.7" fill="#be29cc"/><rect x="814.9" y="209.3" width="22.8" height="11.7" fill="#d92b9f"/><rect x="814.9" y="259" width="32.6" height="8.2" fill="#74d92b"/><rect x="856.5" y="251.7" width="32.6" height="15.5" fill="#f25130"/><rect x="896.7" y="247.6" width="39.9" height="19.6" fill="#ed2f49"/><rect x="915.2" y="267.1" width="26.1" height="50.9" fill="#5332fa"/><rect x="882.9" y="139.2" width="13.5" height="18.7" fill="#91d92b"/><rect x="893.6" y="187.3" width="15.8" height="33.7" fill="#30c2f2"/></g>
<rect x="75.8" y="330" width="282.2" height="231" fill="#3a3a3a"/>
<g class="tm"><rect x="75.8" y="330" width="80.2" height="70.9" fill="#30f291"/><rect x="75.8" y="400.9" width="80.2" height="160.1" fill="#f2d230"/><rect x="156" y="330" width="48.3" height="57.1" fill="#30f261"/><rect x="156" y="387.1" width="48.3" height="57.1" fill="#f2b830"/><rect x="156" y="444.1" width="48.3" height="57.1" fill="#30f2a2"/><rect x="156" y="501.2" width="80.4" height="59.8" fill="#30f2b2"/><rect x="236.4" y="501.2" width="63.6" height="59.8" fill="#30f2c2"/><rect x="300" y="501.2" width="58" height="59.8" fill="#f28130"/><rect x="204.3" y="330" width="48.9" height="35.5" fill="#f23061"/><rect x="204.3" y="365.5" width="48.9" height="39.5" fill="#d230f2"/><rect x="204.3" y="405" width="48.9" height="48.4" fill="#f23030"/><rect x="204.3" y="453.4" width="51.4" height="47.8" fill="#f26b30"/><rect x="255.6" y="453.4" width="50.9" height="47.8" fill="#f230b8"/><rect x="306.5" y="453.4" width="51.5" height="47.8" fill="#30b8f2"/><rect x="253.2" y="330" width="26.7" height="39.1" fill="#c230f2"/><rect x="253.2" y="369.1" width="26.7" height="44.8" fill="#61f230"/><rect x="253.2" y="414" width="38.3" height="39.5" fill="#78f230"/><rect x="291.5" y="414" width="34.1" height="39.5" fill="#f24a30"/><rect x="325.6" y="414" width="32.4" height="39.5" fill="#f230ab"/><rect x="279.9" y="330" width="26.9" height="17.9" fill="#a2f230"/><rect x="279.9" y="347.9" width="26.9" height="19.6" fill="#30f230"/><rect x="279.9" y="367.5" width="26.9" height="19.6" fill="#f29130"/><rect x="279.9" y="387.1" width="34.2" height="26.9" fill="#ec30f2"/><rect x="314.1" y="387.1" width="22.2" height="26.9" fill="#9130f2"/><rect x="336.3" y="387.1" width="21.7" height="26.9" fill="#b8f230"/><rect x="306.8" y="369.1" width="27.9" height="17.9" fill="#d8f230"/><rect x="334.7" y="369.1" width="23.3" height="17.9" fill="#f2cb30"/><rect x="306.8" y="330" width="13.9" height="17.9" fill="#6130f2"/><rect x="306.8" y="347.9" width="33.9" height="21.2" fill="#306bf2"/><rect x="320.7" y="330" width="9.8" height="14.7" fill="#51f230"/><rect x="320.7" y="344.7" width="9.8" height="13.9" fill="#d230f2"/><rect x="330.4" y="330" width="10.3" height="9.8" fill="#3030f2"/><rect x="330.4" y="339.8" width="10.3" height="10.6" fill="#30a2f2"/><rect x="330.4" y="350.4" width="13.5" height="8.2" fill="#30f251"/><rect x="340.7" y="330" width="17.3" height="9.8" fill="#f23051"/><rect x="340.7" y="339.8" width="9.8" height="10.6" fill="#f23091"/><rect x="350.5" y="339.8" width="7.5" height="10.6" fill="#f2d230"/><rect x="344" y="350.4" width="14" height="8.2" fill="#30e2f2"/><rect x="340.7" y="358.5" width="17.3" height="10.6" fill="#f230e2"/></g>
<use href="#qU11" transform="translate(75.8 330)scale(0.802 0.709)"/><use href="#qU00" transform="translate(75.8 400.9)scale(0.802 1.601)"/><use href="#qU20" transform="translate(156 330)scale(0.483 0.571)"/><use href="#qU21" transform="translate(156 387.1)scale(0.483 0.571)"/><use href="#qU20" transform="translate(156 444.1)scale(0.483 0.571)"/><use href="#qU21" transform="translate(156 501.2)scale(0.804 0.598)"/><use href="#qU20" transform="translate(236.4 501.2)scale(0.636 0.598)"/><use href="#qU21" transform="translate(300 501.2)scale(0.580 0.598)"/><use href="#qU30" transform="translate(204.3 330)scale(0.489 0.355)"/><use href="#qU31" transform="translate(204.3 365.5)scale(0.489 0.395)"/><use href="#qU30" transform="translate(204.3 405)scale(0.489 0.484)"/><use href="#qU31" transform="translate(204.3 453.4)scale(0.514 0.478)"/><use href="#qU30" transform="translate(255.6 453.4)scale(0.509 0.478)"/><use href="#qU31" transform="translate(306.5 453.4)scale(0.515 0.478)"/><use href="#qU40" transform="translate(253.2 330)scale(0.267 0.391)"/><use href="#qU41" transform="translate(253.2 369.1)scale(0.267 0.448)"/><use href="#qU30" transform="translate(253.2 414)scale(0.383 0.395)"/><use href="#qU31" transform="translate(291.5 414)scale(0.341 0.395)"/><use href="#qU40" transform="translate(325.6 414)scale(0.324 0.395)"/><use href="#qU51" transform="translate(279.9 330)scale(0.269 0.179)"/><use href="#qU50" transform="translate(279.9 347.9)scale(0.269 0.196)"/><use href="#qU51" transform="translate(279.9 367.5)scale(0.269 0.196)"/><use href="#qU40" transform="translate(279.9 387.1)scale(0.342 0.269)"/><use href="#qU51" transform="translate(314.1 387.1)scale(0.222 0.269)"/><use href="#qU50" transform="translate(336.3 387.1)scale(0.217 0.269)"/><use href="#qU51" transform="translate(306.8 369.1)scale(0.279 0.179)"/><use href="#qU50" transform="translate(334.7 369.1)scale(0.233 0.179)"/><use href="#qU61" transform="translate(306.8 330)scale(0.139 0.179)"/><use href="#qU40" transform="translate(306.8 347.9)scale(0.339 0.212)"/><use href="#qU61" transform="translate(320.7 330)scale(0.098 0.147)"/><use href="#qU60" transform="translate(320.7 344.7)scale(0.098 0.139)"/><use href="#qU61" transform="translate(330.4 330)scale(0.103 0.098)"/><use href="#qU60" transform="translate(330.4 339.8)scale(0.103 0.106)"/><use href="#qU61" transform="translate(330.4 350.4)scale(0.135 0.082)"/><use href="#qU60" transform="translate(340.7 330)scale(0.173 0.098)"/><use href="#qU61" transform="translate(340.7 339.8)scale(0.098 0.106)"/><use href="#qU60" transform="translate(350.5 339.8)scale(0.075 0.106)"/><use href="#qU61" transform="translate(344 350.4)scale(0.140 0.082)"/><use href="#qU60" transform="translate(340.7 358.5)scale(0.173 0.106)"/>
<g class="tm"><rect x="75.8" y="546.8" width="80.2" height="14.2" fill="#ebcb2f"/><rect x="97.8" y="495.5" width="58.2" height="7.3" fill="#f2d230"/><rect x="75.8" y="495.5" width="22" height="7.3" fill="#4c420f"/><rect x="75.8" y="509.3" width="22" height="8.2" fill="#4c420f"/><rect x="97.8" y="509.3" width="58.2" height="8.2" fill="#e6c72e"/><rect x="84.8" y="533.8" width="61.9" height="8.2" fill="#594d12"/><rect x="75.8" y="481.6" width="80.2" height="7.3" fill="#e6c72e"/></g>
<rect x="384.8" y="330" width="281.2" height="231" fill="#3a3a3a"/>
<g class="tm"><rect x="384.8" y="330" width="84.1" height="51.5" fill="#30f2c2"/><rect x="384.8" y="381.5" width="84.1" height="85.8" fill="#30f298"/><rect x="384.8" y="467.3" width="84.1" height="93.7" fill="#30f28b"/><rect x="469" y="330" width="48.2" height="54.4" fill="#5730f2"/><rect x="469" y="384.4" width="48.2" height="58.5" fill="#f2b830"/><rect x="469" y="442.9" width="48.2" height="62.5" fill="#30b8f2"/><rect x="469" y="505.4" width="73.9" height="55.6" fill="#71f230"/><rect x="542.9" y="505.4" width="66.4" height="55.6" fill="#8bf230"/><rect x="609.3" y="505.4" width="56.7" height="55.6" fill="#f23061"/><rect x="517.2" y="330" width="43.4" height="39.8" fill="#f230b8"/><rect x="517.2" y="369.8" width="43.4" height="41.9" fill="#f26b30"/><rect x="517.2" y="411.7" width="43.4" height="45.8" fill="#30f261"/><rect x="517.2" y="457.5" width="53.6" height="47.9" fill="#f27830"/><rect x="570.8" y="457.5" width="52" height="47.9" fill="#e2f230"/><rect x="622.8" y="457.5" width="43.2" height="47.9" fill="#f23730"/><rect x="560.6" y="330" width="34.1" height="23.6" fill="#3081f2"/><rect x="560.6" y="353.6" width="34.1" height="31.7" fill="#30f230"/><rect x="560.6" y="385.2" width="34.1" height="32.8" fill="#f2d230"/><rect x="560.6" y="418" width="37.8" height="39.5" fill="#78f230"/><rect x="598.4" y="418" width="37.4" height="39.5" fill="#f24a30"/><rect x="635.8" y="418" width="30.2" height="39.5" fill="#e230f2"/><rect x="594.7" y="330" width="20" height="28.4" fill="#f23041"/><rect x="594.7" y="358.4" width="20" height="29.2" fill="#37f230"/><rect x="594.7" y="387.7" width="25.7" height="30.4" fill="#f230ab"/><rect x="620.4" y="387.7" width="24.7" height="30.4" fill="#abf230"/><rect x="645" y="387.7" width="21" height="30.4" fill="#f2cb30"/><rect x="614.7" y="330" width="18.7" height="18.7" fill="#f23061"/><rect x="614.7" y="348.7" width="18.7" height="19.5" fill="#f230d2"/><rect x="614.7" y="368.2" width="26.8" height="19.5" fill="#d830f2"/><rect x="641.5" y="368.2" width="24.5" height="19.5" fill="#3071f2"/><rect x="633.3" y="330" width="16.2" height="10.6" fill="#f230f2"/><rect x="633.3" y="340.6" width="16.2" height="12.2" fill="#7830f2"/><rect x="633.3" y="352.7" width="18.2" height="15.4" fill="#30f241"/><rect x="649.6" y="330" width="16.4" height="10.6" fill="#3030f2"/><rect x="649.6" y="340.6" width="16.4" height="12.2" fill="#30b2f2"/><rect x="651.5" y="352.7" width="14.5" height="15.4" fill="#3037f2"/></g>
<use href="#qG10" transform="translate(384.8 330)scale(0.841 0.515)"/><use href="#qG00" transform="translate(384.8 381.5)scale(0.841 0.858)"/><use href="#qG00" transform="translate(384.8 467.3)scale(0.841 0.937)"/><use href="#qG21" transform="translate(469 330)scale(0.482 0.544)"/><use href="#qG21" transform="translate(469 384.4)scale(0.482 0.585)"/><use href="#qG21" transform="translate(469 442.9)scale(0.482 0.625)"/><use href="#qG11" transform="translate(469 505.4)scale(0.739 0.556)"/><use href="#qG10" transform="translate(542.9 505.4)scale(0.664 0.556)"/><use href="#qG10" transform="translate(609.3 505.4)scale(0.567 0.556)"/><use href="#qG21" transform="translate(517.2 330)scale(0.434 0.398)"/><use href="#qG20" transform="translate(517.2 369.8)scale(0.434 0.419)"/><use href="#qG20" transform="translate(517.2 411.7)scale(0.434 0.458)"/><use href="#qG21" transform="translate(517.2 457.5)scale(0.536 0.479)"/><use href="#qG21" transform="translate(570.8 457.5)scale(0.520 0.479)"/><use href="#qG21" transform="translate(622.8 457.5)scale(0.432 0.479)"/><use href="#qG30" transform="translate(560.6 330)scale(0.341 0.236)"/><use href="#qG31" transform="translate(560.6 353.6)scale(0.341 0.317)"/><use href="#qG31" transform="translate(560.6 385.2)scale(0.341 0.328)"/><use href="#qG21" transform="translate(560.6 418)scale(0.378 0.395)"/><use href="#qG20" transform="translate(598.4 418)scale(0.374 0.395)"/><use href="#qG31" transform="translate(635.8 418)scale(0.302 0.395)"/><use href="#qG30" transform="translate(594.7 330)scale(0.200 0.284)"/><use href="#qG31" transform="translate(594.7 358.4)scale(0.200 0.292)"/><use href="#qG30" transform="translate(594.7 387.7)scale(0.257 0.304)"/><use href="#qG31" transform="translate(620.4 387.7)scale(0.247 0.304)"/><use href="#qG30" transform="translate(645 387.7)scale(0.210 0.304)"/><use href="#qG40" transform="translate(614.7 330)scale(0.187 0.187)"/><use href="#qG31" transform="translate(614.7 348.7)scale(0.187 0.195)"/><use href="#qG30" transform="translate(614.7 368.2)scale(0.268 0.195)"/><use href="#qG31" transform="translate(641.5 368.2)scale(0.245 0.195)"/><use href="#qG40" transform="translate(633.3 330)scale(0.162 0.106)"/><use href="#qG41" transform="translate(633.3 340.6)scale(0.162 0.122)"/><use href="#qG40" transform="translate(633.3 352.7)scale(0.182 0.154)"/><use href="#qG41" transform="translate(649.6 330)scale(0.164 0.106)"/><use href="#qG40" transform="translate(649.6 340.6)scale(0.164 0.122)"/><use href="#qG41" transform="translate(651.5 352.7)scale(0.145 0.154)"/>
<g class="tm"><rect x="384.8" y="330" width="13" height="51.5" fill="#28c79f"/><rect x="384.8" y="448.3" width="84.1" height="19" fill="#32fa9d"/><rect x="384.8" y="546.9" width="84.1" height="14.1" fill="#2feb87"/><rect x="384.8" y="467.3" width="10.6" height="79.6" fill="#1f9958"/><rect x="469" y="373.5" width="48.2" height="10.9" fill="#5730f2"/><rect x="469" y="427" width="36.9" height="15.9" fill="#f7bc31"/><rect x="469" y="493.3" width="23.1" height="12.2" fill="#2eaee6"/><rect x="469" y="505.4" width="16.6" height="55.6" fill="#6be62e"/><rect x="485.5" y="505.4" width="10.6" height="55.6" fill="#21470e"/><rect x="542.9" y="528.2" width="13.3" height="32.8" fill="#8bf230"/><rect x="517.2" y="369.8" width="13.8" height="41.9" fill="#e6652e"/><rect x="517.2" y="457.5" width="10.6" height="47.9" fill="#733917"/><rect x="570.8" y="457.5" width="9.3" height="47.9" fill="#e2f230"/><rect x="560.6" y="353.6" width="11.9" height="31.7" fill="#2bd92b"/><rect x="560.6" y="385.2" width="12.7" height="32.8" fill="#f2d230"/><rect x="645" y="398.2" width="21" height="19.8" fill="#ebc52f"/></g>
<rect x="691.8" y="330" width="282.2" height="231" fill="#3a3a3a"/>
<g class="tm"><rect x="691.8" y="330" width="66.8" height="79.9" fill="#30f257"/><rect x="691.8" y="409.9" width="66.8" height="151.1" fill="#30f281"/><rect x="758.7" y="330" width="47.3" height="51.4" fill="#f2b230"/><rect x="758.7" y="381.4" width="47.3" height="51.4" fill="#f230b8"/><rect x="758.7" y="432.7" width="47.3" height="64.7" fill="#30f2ab"/><rect x="758.7" y="497.4" width="55.4" height="63.6" fill="#30f2c2"/><rect x="814.1" y="497.4" width="54.6" height="63.6" fill="#f2cb30"/><rect x="868.7" y="497.4" width="53.5" height="63.6" fill="#98f230"/><rect x="922.2" y="497.4" width="51.8" height="63.6" fill="#30b8f2"/><rect x="805.9" y="330" width="38.3" height="39.9" fill="#f26b30"/><rect x="805.9" y="369.9" width="38.3" height="42.9" fill="#3037f2"/><rect x="805.9" y="412.8" width="38.3" height="46" fill="#f23057"/><rect x="805.9" y="458.8" width="60.6" height="38.6" fill="#30f2a2"/><rect x="866.6" y="458.8" width="57.2" height="38.6" fill="#6130f2"/><rect x="923.8" y="458.8" width="50.2" height="38.6" fill="#f27830"/><rect x="844.2" y="330" width="40.3" height="63.6" fill="#51f230"/><rect x="844.2" y="393.6" width="40.3" height="32.6" fill="#81f230"/><rect x="844.2" y="426.2" width="45.6" height="32.6" fill="#f230a1"/><rect x="889.9" y="426.2" width="42.9" height="32.6" fill="#ec30f2"/><rect x="932.8" y="426.2" width="41.2" height="32.6" fill="#f25730"/><rect x="884.5" y="330" width="26.1" height="60.3" fill="#f230ec"/><rect x="884.5" y="390.3" width="31" height="35.9" fill="#3081f2"/><rect x="915.5" y="390.3" width="29.8" height="35.9" fill="#cb30f2"/><rect x="945.3" y="390.3" width="28.7" height="35.9" fill="#d8f230"/><rect x="910.6" y="330" width="25.8" height="19.6" fill="#306bf2"/><rect x="910.6" y="349.6" width="25.8" height="19.6" fill="#8b30f2"/><rect x="910.6" y="369.1" width="26.1" height="21.2" fill="#f23061"/><rect x="936.7" y="366.7" width="18.7" height="23.6" fill="#f23730"/><rect x="955.4" y="366.7" width="18.6" height="23.6" fill="#c2f230"/><rect x="936.3" y="330" width="11.4" height="17.1" fill="#d8f230"/><rect x="936.3" y="347.1" width="11.4" height="19.6" fill="#30f241"/><rect x="947.8" y="330" width="10.6" height="9" fill="#f2b230"/><rect x="947.8" y="339" width="10.6" height="13.9" fill="#51f230"/><rect x="958.4" y="330" width="15.6" height="5.7" fill="#f29130"/><rect x="958.4" y="335.7" width="6.5" height="8.2" fill="#30f241"/><rect x="964.9" y="335.7" width="9.1" height="8.2" fill="#b230f2"/><rect x="958.4" y="343.9" width="15.6" height="9" fill="#f230f2"/><rect x="947.8" y="352.8" width="13.9" height="13.9" fill="#30b2f2"/><rect x="961.6" y="352.8" width="12.4" height="13.9" fill="#5130f2"/></g>
<use href="#qG11" transform="translate(691.8 330)scale(0.668 0.799)"/><use href="#qG00" transform="translate(691.8 409.9)scale(0.668 1.511)"/><use href="#qG21" transform="translate(758.7 330)scale(0.473 0.514)"/><use href="#qG21" transform="translate(758.7 381.4)scale(0.473 0.514)"/><use href="#qG11" transform="translate(758.7 432.7)scale(0.473 0.647)"/><use href="#qG10" transform="translate(758.7 497.4)scale(0.554 0.636)"/><use href="#qG10" transform="translate(814.1 497.4)scale(0.546 0.636)"/><use href="#qG11" transform="translate(868.7 497.4)scale(0.535 0.636)"/><use href="#qG11" transform="translate(922.2 497.4)scale(0.518 0.636)"/><use href="#qG20" transform="translate(805.9 330)scale(0.383 0.399)"/><use href="#qG21" transform="translate(805.9 369.9)scale(0.383 0.429)"/><use href="#qG20" transform="translate(805.9 412.8)scale(0.383 0.460)"/><use href="#qG21" transform="translate(805.9 458.8)scale(0.606 0.386)"/><use href="#qG21" transform="translate(866.6 458.8)scale(0.572 0.386)"/><use href="#qG21" transform="translate(923.8 458.8)scale(0.502 0.386)"/><use href="#qG20" transform="translate(844.2 330)scale(0.403 0.636)"/><use href="#qG21" transform="translate(844.2 393.6)scale(0.403 0.326)"/><use href="#qG20" transform="translate(844.2 426.2)scale(0.456 0.326)"/><use href="#qG20" transform="translate(889.9 426.2)scale(0.429 0.326)"/><use href="#qG21" transform="translate(932.8 426.2)scale(0.412 0.326)"/><use href="#qG20" transform="translate(884.5 330)scale(0.261 0.603)"/><use href="#qG31" transform="translate(884.5 390.3)scale(0.310 0.359)"/><use href="#qG31" transform="translate(915.5 390.3)scale(0.298 0.359)"/><use href="#qG31" transform="translate(945.3 390.3)scale(0.287 0.359)"/><use href="#qG30" transform="translate(910.6 330)scale(0.258 0.196)"/><use href="#qG31" transform="translate(910.6 349.6)scale(0.258 0.196)"/><use href="#qG30" transform="translate(910.6 369.1)scale(0.261 0.212)"/><use href="#qG31" transform="translate(936.7 366.7)scale(0.187 0.236)"/><use href="#qG30" transform="translate(955.4 366.7)scale(0.186 0.236)"/><use href="#qG41" transform="translate(936.3 330)scale(0.114 0.171)"/><use href="#qG40" transform="translate(936.3 347.1)scale(0.114 0.196)"/><use href="#qG41" transform="translate(947.8 330)scale(0.106 0.090)"/><use href="#qG40" transform="translate(947.8 339)scale(0.106 0.139)"/><use href="#qG41" transform="translate(958.4 330)scale(0.156 0.057)"/><use href="#qG40" transform="translate(958.4 335.7)scale(0.065 0.082)"/><use href="#qG41" transform="translate(964.9 335.7)scale(0.091 0.082)"/><use href="#qG40" transform="translate(958.4 343.9)scale(0.156 0.090)"/><use href="#qG41" transform="translate(947.8 352.8)scale(0.139 0.139)"/><use href="#qG40" transform="translate(961.6 352.8)scale(0.124 0.139)"/>
<g class="tm"><rect x="691.8" y="372.7" width="66.8" height="37.2" fill="#32fa5a"/><rect x="691.8" y="330" width="17.1" height="42.7" fill="#2de051"/><rect x="758.7" y="369.1" width="47.3" height="12.2" fill="#f2b230"/><rect x="758.7" y="424.6" width="47.3" height="8.2" fill="#801961"/><rect x="758.7" y="549.3" width="30.2" height="11.7" fill="#2febbc"/><rect x="868.7" y="545.2" width="53.5" height="15.8" fill="#98f230"/><rect x="805.9" y="389.5" width="38.3" height="23.3" fill="#3138f7"/><rect x="805.9" y="369.9" width="23.6" height="19.6" fill="#2b31d9"/><rect x="805.9" y="470.2" width="13.9" height="27.2" fill="#2feb9c"/><rect x="866.6" y="458.8" width="15.5" height="38.6" fill="#6130f2"/><rect x="844.2" y="426.2" width="17.6" height="32.6" fill="#fa32a7"/><rect x="884.5" y="413.1" width="22.5" height="13" fill="#2d78e0"/><rect x="915.5" y="413.1" width="29.8" height="13" fill="#b62bd9"/></g>
<rect x="75.8" y="576" width="282.2" height="230.3" fill="#3a3a3a"/>
<g class="tm"><rect x="75.8" y="576" width="77.9" height="70.1" fill="#f26130"/><rect x="75.8" y="646.1" width="77.9" height="70.4" fill="#f2b830"/><rect x="75.8" y="716.6" width="77.9" height="89.7" fill="#f23030"/><rect x="153.7" y="576" width="66.8" height="44" fill="#f28b30"/><rect x="153.7" y="620" width="66.8" height="58.4" fill="#f2d830"/><rect x="153.7" y="678.4" width="66.8" height="59.8" fill="#30f2a2"/><rect x="153.7" y="738.2" width="71.2" height="68.1" fill="#f27830"/><rect x="225" y="738.2" width="69.6" height="68.1" fill="#ec30f2"/><rect x="294.6" y="738.2" width="63.4" height="68.1" fill="#30f281"/><rect x="220.6" y="576" width="33.7" height="51.4" fill="#f23061"/><rect x="220.6" y="627.4" width="33.7" height="57.6" fill="#f230e2"/><rect x="220.6" y="684.9" width="51.7" height="53.3" fill="#78f230"/><rect x="272.3" y="684.9" width="48.4" height="53.3" fill="#f230b8"/><rect x="320.7" y="684.9" width="37.3" height="53.3" fill="#61f230"/><rect x="254.3" y="576" width="31.3" height="32.3" fill="#3081f2"/><rect x="254.3" y="608.3" width="31.3" height="38.2" fill="#30f257"/><rect x="254.3" y="646.4" width="37.2" height="38.5" fill="#30f2d2"/><rect x="291.5" y="646.4" width="32.9" height="38.5" fill="#8b30f2"/><rect x="324.4" y="646.4" width="33.6" height="38.5" fill="#f230ab"/><rect x="285.6" y="576" width="26.6" height="22" fill="#e2f230"/><rect x="285.6" y="598" width="26.6" height="22" fill="#30c2f2"/><rect x="285.6" y="620" width="26.6" height="26.4" fill="#91f230"/><rect x="312.2" y="609.9" width="25.8" height="36.5" fill="#c230f2"/><rect x="337.9" y="624.9" width="20.1" height="21.5" fill="#f24a30"/><rect x="337.9" y="609.9" width="20.1" height="15" fill="#f2cb30"/><rect x="312.2" y="576" width="13.4" height="17.1" fill="#30f241"/><rect x="312.2" y="593.1" width="13.4" height="16.8" fill="#cbf230"/><rect x="325.6" y="576" width="18.4" height="9.8" fill="#e230f2"/><rect x="325.6" y="585.8" width="18.4" height="10.6" fill="#6b30f2"/><rect x="325.6" y="596.4" width="16" height="13.5" fill="#41f230"/><rect x="344" y="576" width="6.5" height="12.2" fill="#30e2f2"/><rect x="350.5" y="576" width="7.5" height="12.2" fill="#30f271"/><rect x="344" y="588.2" width="14" height="8.2" fill="#b230f2"/><rect x="341.5" y="596.4" width="16.5" height="13.5" fill="#3057f2"/></g>
<use href="#qU10" transform="translate(75.8 576)scale(0.779 0.701)"/><use href="#qU11" transform="translate(75.8 646.1)scale(0.779 0.704)"/><use href="#qU10" transform="translate(75.8 716.6)scale(0.779 0.897)"/><use href="#qU21" transform="translate(153.7 576)scale(0.668 0.440)"/><use href="#qU20" transform="translate(153.7 620)scale(0.668 0.584)"/><use href="#qU21" transform="translate(153.7 678.4)scale(0.668 0.598)"/><use href="#qU20" transform="translate(153.7 738.2)scale(0.712 0.681)"/><use href="#qU21" transform="translate(225 738.2)scale(0.696 0.681)"/><use href="#qU20" transform="translate(294.6 738.2)scale(0.634 0.681)"/><use href="#qU31" transform="translate(220.6 576)scale(0.337 0.514)"/><use href="#qU30" transform="translate(220.6 627.4)scale(0.337 0.576)"/><use href="#qU21" transform="translate(220.6 684.9)scale(0.517 0.533)"/><use href="#qU20" transform="translate(272.3 684.9)scale(0.484 0.533)"/><use href="#qU31" transform="translate(320.7 684.9)scale(0.373 0.533)"/><use href="#qU40" transform="translate(254.3 576)scale(0.313 0.323)"/><use href="#qU41" transform="translate(254.3 608.3)scale(0.313 0.382)"/><use href="#qU30" transform="translate(254.3 646.4)scale(0.372 0.385)"/><use href="#qU41" transform="translate(291.5 646.4)scale(0.329 0.385)"/><use href="#qU40" transform="translate(324.4 646.4)scale(0.336 0.385)"/><use href="#qU51" transform="translate(285.6 576)scale(0.266 0.220)"/><use href="#qU50" transform="translate(285.6 598)scale(0.266 0.220)"/><use href="#qU41" transform="translate(285.6 620)scale(0.266 0.264)"/><use href="#qU40" transform="translate(312.2 609.9)scale(0.258 0.365)"/><use href="#qU51" transform="translate(337.9 624.9)scale(0.201 0.215)"/><use href="#qU50" transform="translate(337.9 609.9)scale(0.201 0.150)"/><use href="#qU61" transform="translate(312.2 576)scale(0.134 0.171)"/><use href="#qU60" transform="translate(312.2 593.1)scale(0.134 0.168)"/><use href="#qU61" transform="translate(325.6 576)scale(0.184 0.098)"/><use href="#qU60" transform="translate(325.6 585.8)scale(0.184 0.106)"/><use href="#qU61" transform="translate(325.6 596.4)scale(0.160 0.135)"/><use href="#qU60" transform="translate(344 576)scale(0.065 0.122)"/><use href="#qU61" transform="translate(350.5 576)scale(0.075 0.122)"/><use href="#qU60" transform="translate(344 588.2)scale(0.140 0.082)"/><use href="#qU61" transform="translate(341.5 596.4)scale(0.165 0.135)"/>
<rect x="384.8" y="576" width="281.2" height="230.3" fill="#3a3a3a"/>
<g class="tm"><rect x="384.8" y="576" width="77.6" height="51.5" fill="#30f28b"/><rect x="384.8" y="627.5" width="77.6" height="50.9" fill="#f23030"/><rect x="462.5" y="576" width="49.9" height="55.2" fill="#f2d830"/><rect x="462.5" y="631.2" width="49.9" height="60.1" fill="#ec30f2"/><rect x="462.5" y="691.4" width="49.9" height="63.9" fill="#30f2a2"/><rect x="462.5" y="755.2" width="75.9" height="51.1" fill="#f2c230"/><rect x="538.3" y="755.2" width="64.5" height="51.1" fill="#f27830"/><rect x="602.8" y="755.2" width="63.2" height="51.1" fill="#f27130"/><rect x="512.3" y="576" width="42.2" height="38.2" fill="#e2f230"/><rect x="512.3" y="614.2" width="42.2" height="92.6" fill="#f230e2"/><rect x="512.3" y="706.8" width="55.2" height="48.4" fill="#78f230"/><rect x="567.6" y="706.8" width="49.5" height="48.4" fill="#30f257"/><rect x="617.1" y="706.8" width="48.9" height="48.4" fill="#30f2cb"/><rect x="554.6" y="669.4" width="40.1" height="37.4" fill="#f230b8"/><rect x="594.7" y="669.4" width="39" height="37.4" fill="#6bf230"/><rect x="633.7" y="669.4" width="32.3" height="37.4" fill="#98f230"/><rect x="554.6" y="576" width="34.9" height="29.2" fill="#8b30f2"/><rect x="554.6" y="605.2" width="34.9" height="31.2" fill="#3081f2"/><rect x="554.6" y="636.4" width="34.9" height="33" fill="#f25130"/><rect x="589.5" y="636.4" width="26" height="33" fill="#30c2f2"/><rect x="615.5" y="636.4" width="26" height="33" fill="#f23061"/><rect x="641.5" y="636.4" width="24.5" height="33" fill="#e230f2"/><rect x="589.5" y="576" width="23.9" height="19.2" fill="#f28b30"/><rect x="589.5" y="595.2" width="23.9" height="20.6" fill="#f2c230"/><rect x="589.5" y="615.8" width="23.9" height="20.6" fill="#37f230"/><rect x="613.4" y="619.9" width="27.6" height="16.6" fill="#a2f230"/><rect x="641" y="619.9" width="25" height="16.6" fill="#41f230"/><rect x="613.4" y="576" width="17.9" height="20.3" fill="#f2306b"/><rect x="613.4" y="596.3" width="17.9" height="23.6" fill="#f230ec"/><rect x="631.2" y="576" width="19.5" height="11.4" fill="#b230f2"/><rect x="631.2" y="587.4" width="19.5" height="13.8" fill="#6130f2"/><rect x="650.7" y="576" width="15.3" height="12.2" fill="#3081f2"/><rect x="650.7" y="588.2" width="15.3" height="13" fill="#30b8f2"/><rect x="650.4" y="601.2" width="15.6" height="18.7" fill="#3051f2"/></g>
<use href="#qG11" transform="translate(384.8 576)scale(0.776 0.515)"/><use href="#qG11" transform="translate(384.8 627.5)scale(0.776 0.509)"/><use href="#qG20" transform="translate(462.5 576)scale(0.499 0.552)"/><use href="#qG20" transform="translate(462.5 631.2)scale(0.499 0.601)"/><use href="#qG10" transform="translate(462.5 691.4)scale(0.499 0.639)"/><use href="#qG11" transform="translate(462.5 755.2)scale(0.759 0.511)"/><use href="#qG11" transform="translate(538.3 755.2)scale(0.645 0.511)"/><use href="#qG11" transform="translate(602.8 755.2)scale(0.632 0.511)"/><use href="#qG21" transform="translate(512.3 576)scale(0.422 0.382)"/><use href="#qG10" transform="translate(512.3 614.2)scale(0.422 0.926)"/><use href="#qG20" transform="translate(512.3 706.8)scale(0.552 0.484)"/><use href="#qG20" transform="translate(567.6 706.8)scale(0.495 0.484)"/><use href="#qG20" transform="translate(617.1 706.8)scale(0.489 0.484)"/><use href="#qG21" transform="translate(554.6 669.4)scale(0.401 0.374)"/><use href="#qG20" transform="translate(594.7 669.4)scale(0.390 0.374)"/><use href="#qG30" transform="translate(633.7 669.4)scale(0.323 0.374)"/><use href="#qG30" transform="translate(554.6 576)scale(0.349 0.292)"/><use href="#qG31" transform="translate(554.6 605.2)scale(0.349 0.312)"/><use href="#qG31" transform="translate(554.6 636.4)scale(0.349 0.330)"/><use href="#qG31" transform="translate(589.5 636.4)scale(0.260 0.330)"/><use href="#qG31" transform="translate(615.5 636.4)scale(0.260 0.330)"/><use href="#qG30" transform="translate(641.5 636.4)scale(0.245 0.330)"/><use href="#qG30" transform="translate(589.5 576)scale(0.239 0.192)"/><use href="#qG31" transform="translate(589.5 595.2)scale(0.239 0.206)"/><use href="#qG30" transform="translate(589.5 615.8)scale(0.239 0.206)"/><use href="#qG31" transform="translate(613.4 619.9)scale(0.276 0.166)"/><use href="#qG30" transform="translate(641 619.9)scale(0.250 0.166)"/><use href="#qG31" transform="translate(613.4 576)scale(0.179 0.203)"/><use href="#qG30" transform="translate(613.4 596.3)scale(0.179 0.236)"/><use href="#qG41" transform="translate(631.2 576)scale(0.195 0.114)"/><use href="#qG40" transform="translate(631.2 587.4)scale(0.195 0.138)"/><use href="#qG40" transform="translate(650.7 576)scale(0.153 0.122)"/><use href="#qG41" transform="translate(650.7 588.2)scale(0.153 0.130)"/><use href="#qG40" transform="translate(650.4 601.2)scale(0.156 0.187)"/>
<g class="tm"><rect x="384.8" y="576" width="10.9" height="51.5" fill="#2ad178"/><rect x="384.8" y="638.6" width="15.4" height="39.8" fill="#eb2f2f"/><rect x="384.8" y="678.4" width="77.6" height="127.9" fill="#ff3333"/><rect x="462.5" y="618.6" width="37.7" height="12.7" fill="#d9c22b"/><rect x="462.5" y="678.7" width="49.9" height="12.7" fill="#ec30f2"/><rect x="462.5" y="755.2" width="12.8" height="51.1" fill="#d9ad2b"/><rect x="538.3" y="755.2" width="12.2" height="51.1" fill="#bf5e26"/><rect x="602.8" y="755.2" width="13.5" height="51.1" fill="#f77331"/><rect x="512.3" y="694.1" width="19.5" height="12.7" fill="#d92bca"/><rect x="512.3" y="706.8" width="11.4" height="48.4" fill="#58b224"/><rect x="567.6" y="730.3" width="12.7" height="24.9" fill="#30f257"/><rect x="594.7" y="676.7" width="11" height="30.1" fill="#49a621"/><rect x="633.7" y="692.2" width="22.4" height="14.6" fill="#98f230"/><rect x="554.6" y="605.2" width="12.2" height="31.2" fill="#3081f2"/><rect x="554.6" y="636.4" width="11.4" height="33" fill="#bf4026"/><rect x="589.5" y="658.9" width="18.7" height="10.6" fill="#31c6f7"/><rect x="641.5" y="658.9" width="24.5" height="10.6" fill="#d62ee6"/><rect x="631.2" y="601.2" width="19.2" height="18.7" fill="#2feb4e"/></g>
<rect x="691.8" y="576" width="282.2" height="230.3" fill="#3a3a3a"/>
<g class="tm"><rect x="691.8" y="576" width="64.9" height="66.5" fill="#f230b8"/><rect x="691.8" y="642.5" width="64.9" height="78.6" fill="#91f230"/><rect x="691.8" y="721.1" width="64.9" height="85.2" fill="#30f28b"/><rect x="756.7" y="576" width="53.6" height="54.3" fill="#30f2ab"/><rect x="756.7" y="630.3" width="53.6" height="56.6" fill="#ec30f2"/><rect x="756.7" y="686.9" width="53.6" height="57.1" fill="#8bf230"/><rect x="756.7" y="744" width="59.5" height="62.3" fill="#f27830"/><rect x="816.2" y="744" width="55.8" height="62.3" fill="#f230e2"/><rect x="872" y="744" width="52.5" height="62.3" fill="#f24130"/><rect x="924.4" y="744" width="49.6" height="62.3" fill="#f27130"/><rect x="810.3" y="576" width="46.9" height="38.6" fill="#9130f2"/><rect x="810.3" y="614.6" width="46.9" height="43.4" fill="#e2f230"/><rect x="810.3" y="658" width="46.9" height="45.2" fill="#f230ab"/><rect x="810.3" y="703.2" width="56.2" height="40.8" fill="#f2b830"/><rect x="866.6" y="703.2" width="54.3" height="40.8" fill="#f23061"/><rect x="920.9" y="703.2" width="53.1" height="40.8" fill="#30f2cb"/><rect x="857.3" y="576" width="40.8" height="27.7" fill="#f2d230"/><rect x="857.3" y="603.7" width="40.8" height="28" fill="#5730f2"/><rect x="857.3" y="631.8" width="40.8" height="30.2" fill="#30b8f2"/><rect x="857.3" y="661.9" width="42.1" height="41.3" fill="#57f230"/><rect x="899.3" y="661.9" width="39.8" height="41.3" fill="#30f261"/><rect x="939.1" y="661.9" width="34.9" height="41.3" fill="#f25130"/><rect x="898" y="576" width="24.5" height="24.8" fill="#3061f2"/><rect x="898" y="600.8" width="24.5" height="36.9" fill="#37f230"/><rect x="898" y="637.6" width="39.1" height="24.3" fill="#e230f2"/><rect x="937.2" y="637.6" width="36.8" height="24.3" fill="#3078f2"/><rect x="922.5" y="594.3" width="18.7" height="22.2" fill="#f28b30"/><rect x="922.5" y="616.4" width="26.9" height="21.2" fill="#f230f2"/><rect x="949.4" y="616.4" width="24.6" height="21.2" fill="#3037f2"/><rect x="941.2" y="586.1" width="13.5" height="14.3" fill="#c230f2"/><rect x="941.2" y="600.5" width="17.9" height="16" fill="#b2f230"/><rect x="954.8" y="576" width="11.7" height="6.5" fill="#30f230"/><rect x="954.8" y="582.5" width="11.7" height="7.8" fill="#f2c230"/><rect x="954.8" y="590.3" width="10.1" height="10.1" fill="#30f24a"/><rect x="964.9" y="590.3" width="9.1" height="10.1" fill="#30f2e2"/><rect x="966.5" y="576" width="7.5" height="14.3" fill="#f23091"/><rect x="959.2" y="600.5" width="14.8" height="16" fill="#3071f2"/></g>
<use href="#qU20" transform="translate(691.8 576)scale(0.649 0.665)"/><use href="#qU10" transform="translate(691.8 642.5)scale(0.649 0.786)"/><use href="#qU11" transform="translate(691.8 721.1)scale(0.649 0.852)"/><use href="#qU20" transform="translate(756.7 576)scale(0.536 0.543)"/><use href="#qU21" transform="translate(756.7 630.3)scale(0.536 0.566)"/><use href="#qU21" transform="translate(756.7 686.9)scale(0.536 0.571)"/><use href="#qU21" transform="translate(756.7 744)scale(0.595 0.623)"/><use href="#qU21" transform="translate(816.2 744)scale(0.558 0.623)"/><use href="#qU20" transform="translate(872 744)scale(0.525 0.623)"/><use href="#qU21" transform="translate(924.4 744)scale(0.496 0.623)"/><use href="#qU31" transform="translate(810.3 576)scale(0.469 0.386)"/><use href="#qU30" transform="translate(810.3 614.6)scale(0.469 0.434)"/><use href="#qU30" transform="translate(810.3 658)scale(0.469 0.452)"/><use href="#qU31" transform="translate(810.3 703.2)scale(0.562 0.408)"/><use href="#qU30" transform="translate(866.6 703.2)scale(0.543 0.408)"/><use href="#qU30" transform="translate(920.9 703.2)scale(0.531 0.408)"/><use href="#qU40" transform="translate(857.3 576)scale(0.408 0.277)"/><use href="#qU41" transform="translate(857.3 603.7)scale(0.408 0.280)"/><use href="#qU40" transform="translate(857.3 631.8)scale(0.408 0.302)"/><use href="#qU31" transform="translate(857.3 661.9)scale(0.421 0.413)"/><use href="#qU30" transform="translate(899.3 661.9)scale(0.398 0.413)"/><use href="#qU30" transform="translate(939.1 661.9)scale(0.349 0.413)"/><use href="#qU50" transform="translate(898 576)scale(0.245 0.248)"/><use href="#qU41" transform="translate(898 600.8)scale(0.245 0.369)"/><use href="#qU41" transform="translate(898 637.6)scale(0.391 0.243)"/><use href="#qU40" transform="translate(937.2 637.6)scale(0.368 0.243)"/><use href="#qU50" transform="translate(922.5 594.3)scale(0.187 0.222)"/><use href="#qU51" transform="translate(922.5 616.4)scale(0.269 0.212)"/><use href="#qU50" transform="translate(949.4 616.4)scale(0.246 0.212)"/><use href="#qU60" transform="translate(941.2 586.1)scale(0.135 0.143)"/><use href="#qU61" transform="translate(941.2 600.5)scale(0.179 0.160)"/><use href="#qU60" transform="translate(954.8 576)scale(0.117 0.065)"/><use href="#qU61" transform="translate(954.8 582.5)scale(0.117 0.078)"/><use href="#qU60" transform="translate(954.8 590.3)scale(0.101 0.101)"/><use href="#qU61" transform="translate(964.9 590.3)scale(0.091 0.101)"/><use href="#qU60" transform="translate(966.5 576)scale(0.075 0.143)"/><use href="#qU61" transform="translate(959.2 600.5)scale(0.148 0.160)"/>
<g class="tm"><rect x="691.8" y="633.9" width="39.1" height="8.6" fill="#d92ba5"/><rect x="691.8" y="684.9" width="64.9" height="36.2" fill="#94f731"/><rect x="691.8" y="655.9" width="15.5" height="29" fill="#91f230"/><rect x="756.7" y="680" width="28.9" height="6.8" fill="#d32bd9"/><rect x="756.7" y="730.1" width="41.9" height="13.9" fill="#8ef731"/><rect x="756.7" y="788" width="59.5" height="18.3" fill="#f27830"/><rect x="924.4" y="788" width="40.4" height="18.3" fill="#f77331"/><rect x="810.3" y="614.6" width="10.3" height="43.4" fill="#d1e02d"/><rect x="866.6" y="703.2" width="18.4" height="40.8" fill="#bf264c"/><rect x="920.9" y="703.2" width="11.4" height="40.8" fill="#31f7d0"/><rect x="899.3" y="695" width="34.6" height="8.2" fill="#2ee65c"/><rect x="939.1" y="687.2" width="27.4" height="16" fill="#f25130"/><rect x="898" y="622.5" width="24.5" height="15.2" fill="#35eb2f"/><rect x="922.5" y="576" width="18.7" height="18.3" fill="#2ea8e6"/><rect x="941.2" y="576" width="13.5" height="10.1" fill="#a3cc29"/></g>
<rect x="75.8" y="819" width="282.2" height="231" fill="#3a3a3a"/>
<g class="tm"><rect x="75.8" y="819" width="69" height="70.4" fill="#f26130"/><rect x="75.8" y="889.4" width="69" height="73" fill="#f27830"/><rect x="75.8" y="962.5" width="69" height="87.5" fill="#f2d830"/><rect x="144.8" y="819" width="57.7" height="54.6" fill="#30f291"/><rect x="144.8" y="873.6" width="57.7" height="57.1" fill="#f28b30"/><rect x="144.8" y="930.7" width="57.7" height="60.3" fill="#30f2ab"/><rect x="144.8" y="991" width="71.7" height="59" fill="#f23030"/><rect x="216.5" y="991" width="71.2" height="59" fill="#f230b8"/><rect x="287.7" y="991" width="70.3" height="59" fill="#f2b830"/><rect x="202.5" y="819" width="42.1" height="38.6" fill="#30f261"/><rect x="202.5" y="857.6" width="42.1" height="40.8" fill="#e2f230"/><rect x="202.5" y="898.4" width="42.1" height="42.5" fill="#f230e2"/><rect x="202.5" y="940.9" width="62.1" height="50" fill="#81f230"/><rect x="264.6" y="940.9" width="50" height="50" fill="#ec30f2"/><rect x="314.6" y="940.9" width="43.4" height="50" fill="#30f2cb"/><rect x="244.5" y="819" width="31" height="39.5" fill="#e230f2"/><rect x="244.5" y="858.5" width="31" height="42.9" fill="#30b8f2"/><rect x="244.5" y="901.3" width="39.9" height="39.6" fill="#61f230"/><rect x="284.5" y="901.3" width="37" height="39.6" fill="#8130f2"/><rect x="321.5" y="901.3" width="36.5" height="39.6" fill="#abf230"/><rect x="275.5" y="874.4" width="44.5" height="26.9" fill="#f23061"/><rect x="320" y="874.4" width="38" height="26.9" fill="#81f230"/><rect x="275.5" y="819" width="20.4" height="26.9" fill="#f25130"/><rect x="275.5" y="845.9" width="20.4" height="28.5" fill="#f2cb30"/><rect x="295.9" y="819" width="17.9" height="26.4" fill="#f230ab"/><rect x="295.9" y="845.4" width="17.9" height="29" fill="#3081f2"/><rect x="313.8" y="854.5" width="22.5" height="19.9" fill="#f230ec"/><rect x="336.3" y="854.5" width="21.7" height="19.9" fill="#30f237"/><rect x="313.8" y="819" width="19.2" height="16.3" fill="#61f230"/><rect x="313.8" y="835.3" width="19.2" height="19.2" fill="#6130f2"/><rect x="333.1" y="819" width="11.7" height="11.1" fill="#30d8f2"/><rect x="333.1" y="830.1" width="11.7" height="11.7" fill="#30b2f2"/><rect x="344.8" y="819" width="13.2" height="7.3" fill="#f2e230"/><rect x="344.8" y="826.3" width="13.2" height="6.5" fill="#3030f2"/><rect x="344.8" y="832.9" width="13.2" height="9" fill="#f23051"/><rect x="344.8" y="841.8" width="13.2" height="12.7" fill="#3057f2"/></g>
<use href="#qU21" transform="translate(75.8 819)scale(0.690 0.704)"/><use href="#qU11" transform="translate(75.8 889.4)scale(0.690 0.730)"/><use href="#qU11" transform="translate(75.8 962.5)scale(0.690 0.875)"/><use href="#qU20" transform="translate(144.8 819)scale(0.577 0.546)"/><use href="#qU21" transform="translate(144.8 873.6)scale(0.577 0.571)"/><use href="#qU20" transform="translate(144.8 930.7)scale(0.577 0.603)"/><use href="#qU21" transform="translate(144.8 991)scale(0.717 0.590)"/><use href="#qU21" transform="translate(216.5 991)scale(0.712 0.590)"/><use href="#qU21" transform="translate(287.7 991)scale(0.703 0.590)"/><use href="#qU31" transform="translate(202.5 819)scale(0.421 0.386)"/><use href="#qU30" transform="translate(202.5 857.6)scale(0.421 0.408)"/><use href="#qU31" transform="translate(202.5 898.4)scale(0.421 0.425)"/><use href="#qU20" transform="translate(202.5 940.9)scale(0.621 0.500)"/><use href="#qU21" transform="translate(264.6 940.9)scale(0.500 0.500)"/><use href="#qU30" transform="translate(314.6 940.9)scale(0.434 0.500)"/><use href="#qU41" transform="translate(244.5 819)scale(0.310 0.395)"/><use href="#qU30" transform="translate(244.5 858.5)scale(0.310 0.429)"/><use href="#qU31" transform="translate(244.5 901.3)scale(0.399 0.396)"/><use href="#qU30" transform="translate(284.5 901.3)scale(0.370 0.396)"/><use href="#qU31" transform="translate(321.5 901.3)scale(0.365 0.396)"/><use href="#qU40" transform="translate(275.5 874.4)scale(0.445 0.269)"/><use href="#qU41" transform="translate(320 874.4)scale(0.380 0.269)"/><use href="#qU50" transform="translate(275.5 819)scale(0.204 0.269)"/><use href="#qU51" transform="translate(275.5 845.9)scale(0.204 0.285)"/><use href="#qU50" transform="translate(295.9 819)scale(0.179 0.264)"/><use href="#qU51" transform="translate(295.9 845.4)scale(0.179 0.290)"/><use href="#qU50" transform="translate(313.8 854.5)scale(0.225 0.199)"/><use href="#qU51" transform="translate(336.3 854.5)scale(0.217 0.199)"/><use href="#qU50" transform="translate(313.8 819)scale(0.192 0.163)"/><use href="#qU51" transform="translate(313.8 835.3)scale(0.192 0.192)"/><use href="#qU60" transform="translate(333.1 819)scale(0.117 0.111)"/><use href="#qU61" transform="translate(333.1 830.1)scale(0.117 0.117)"/><use href="#qU61" transform="translate(344.8 819)scale(0.132 0.073)"/><use href="#qU60" transform="translate(344.8 826.3)scale(0.132 0.065)"/><use href="#qU61" transform="translate(344.8 832.9)scale(0.132 0.090)"/><use href="#qU60" transform="translate(344.8 841.8)scale(0.132 0.127)"/>
<g class="tm"><rect x="75.8" y="880.1" width="69" height="9.3" fill="#f26130"/><rect x="75.8" y="954.3" width="69" height="8.2" fill="#eb742f"/><rect x="144.8" y="991" width="9.3" height="59" fill="#bf2626"/><rect x="216.5" y="1006.5" width="7.7" height="43.5" fill="#f731bc"/><rect x="287.7" y="991" width="9" height="59" fill="#d9a52b"/><rect x="333.1" y="841.8" width="11.7" height="12.7" fill="#2b57d9"/></g>
<rect x="384.8" y="819" width="281.2" height="231" fill="#3a3a3a"/>
<g class="tm"><rect x="384.8" y="819" width="62.2" height="69" fill="#f2d830"/><rect x="384.8" y="888" width="62.2" height="75.5" fill="#f27830"/><rect x="384.8" y="963.6" width="62.2" height="86.4" fill="#30f2a2"/><rect x="447" y="819" width="53.9" height="57.2" fill="#ec30f2"/><rect x="447" y="876.2" width="53.9" height="59.5" fill="#f23030"/><rect x="447" y="935.6" width="53.9" height="60.9" fill="#f2b830"/><rect x="447" y="996.6" width="78" height="53.4" fill="#f26130"/><rect x="525" y="996.6" width="74.2" height="53.4" fill="#30f281"/><rect x="599.2" y="996.6" width="66.8" height="53.4" fill="#8bf230"/><rect x="501" y="819" width="52.5" height="35.4" fill="#30b8f2"/><rect x="501" y="854.4" width="52.5" height="40.1" fill="#e2f230"/><rect x="501" y="894.5" width="52.5" height="48.7" fill="#98f230"/><rect x="501" y="943.3" width="56.9" height="53.3" fill="#30f2d2"/><rect x="557.8" y="943.3" width="55.7" height="53.3" fill="#f230b8"/><rect x="613.5" y="943.3" width="52.5" height="53.3" fill="#30f261"/><rect x="553.4" y="819" width="30.1" height="27.3" fill="#f230e2"/><rect x="553.4" y="846.3" width="30.1" height="29.2" fill="#f24a30"/><rect x="553.4" y="875.5" width="30.1" height="32" fill="#f29130"/><rect x="553.4" y="907.5" width="46.9" height="35.7" fill="#61f230"/><rect x="600.4" y="907.5" width="34.3" height="35.7" fill="#d830f2"/><rect x="634.6" y="907.5" width="31.4" height="35.7" fill="#f23061"/><rect x="583.5" y="819" width="24.4" height="27.9" fill="#30f230"/><rect x="583.5" y="846.9" width="24.4" height="32.2" fill="#3081f2"/><rect x="583.5" y="879.1" width="27.9" height="28.4" fill="#8130f2"/><rect x="611.4" y="879.1" width="27.9" height="28.4" fill="#c2f230"/><rect x="639.4" y="879.1" width="26.6" height="28.4" fill="#3057f2"/><rect x="607.8" y="819" width="21.8" height="18.2" fill="#f230ec"/><rect x="607.8" y="837.2" width="21.8" height="22.1" fill="#f2c230"/><rect x="607.8" y="859.3" width="29.9" height="19.8" fill="#5730f2"/><rect x="637.7" y="859.3" width="28.3" height="19.8" fill="#f23098"/><rect x="629.6" y="819" width="11.9" height="21.9" fill="#306bf2"/><rect x="641.5" y="829.6" width="9.7" height="11.4" fill="#5130f2"/><rect x="641.5" y="819" width="9.7" height="10.6" fill="#3091f2"/><rect x="629.6" y="840.9" width="21.6" height="18.4" fill="#30f241"/><rect x="651.2" y="840.9" width="14.8" height="18.4" fill="#30f261"/><rect x="651.2" y="819" width="8.9" height="4.9" fill="#f2a230"/><rect x="651.2" y="823.9" width="8.9" height="5.7" fill="#d2f230"/><rect x="660.2" y="819" width="5.8" height="10.6" fill="#f23051"/><rect x="651.2" y="829.6" width="8.9" height="11.4" fill="#30f2b2"/><rect x="660.2" y="829.6" width="5.8" height="11.4" fill="#30e2f2"/></g>
<use href="#qG10" transform="translate(384.8 819)scale(0.622 0.690)"/><use href="#qG11" transform="translate(384.8 888)scale(0.622 0.755)"/><use href="#qG11" transform="translate(384.8 963.6)scale(0.622 0.864)"/><use href="#qG10" transform="translate(447 819)scale(0.539 0.572)"/><use href="#qG11" transform="translate(447 876.2)scale(0.539 0.595)"/><use href="#qG11" transform="translate(447 935.6)scale(0.539 0.609)"/><use href="#qG10" transform="translate(447 996.6)scale(0.780 0.534)"/><use href="#qG10" transform="translate(525 996.6)scale(0.742 0.534)"/><use href="#qG10" transform="translate(599.2 996.6)scale(0.668 0.534)"/><use href="#qG21" transform="translate(501 819)scale(0.525 0.354)"/><use href="#qG20" transform="translate(501 854.4)scale(0.525 0.401)"/><use href="#qG20" transform="translate(501 894.5)scale(0.525 0.487)"/><use href="#qG10" transform="translate(501 943.3)scale(0.569 0.533)"/><use href="#qG20" transform="translate(557.8 943.3)scale(0.557 0.533)"/><use href="#qG21" transform="translate(613.5 943.3)scale(0.525 0.533)"/><use href="#qG30" transform="translate(553.4 819)scale(0.301 0.273)"/><use href="#qG31" transform="translate(553.4 846.3)scale(0.301 0.292)"/><use href="#qG30" transform="translate(553.4 875.5)scale(0.301 0.320)"/><use href="#qG20" transform="translate(553.4 907.5)scale(0.469 0.357)"/><use href="#qG31" transform="translate(600.4 907.5)scale(0.343 0.357)"/><use href="#qG30" transform="translate(634.6 907.5)scale(0.314 0.357)"/><use href="#qG31" transform="translate(583.5 819)scale(0.244 0.279)"/><use href="#qG30" transform="translate(583.5 846.9)scale(0.244 0.322)"/><use href="#qG31" transform="translate(583.5 879.1)scale(0.279 0.284)"/><use href="#qG30" transform="translate(611.4 879.1)scale(0.279 0.284)"/><use href="#qG31" transform="translate(639.4 879.1)scale(0.266 0.284)"/><use href="#qG30" transform="translate(607.8 819)scale(0.218 0.182)"/><use href="#qG31" transform="translate(607.8 837.2)scale(0.218 0.221)"/><use href="#qG30" transform="translate(607.8 859.3)scale(0.299 0.198)"/><use href="#qG31" transform="translate(637.7 859.3)scale(0.283 0.198)"/><use href="#qG40" transform="translate(629.6 819)scale(0.119 0.219)"/><use href="#qG41" transform="translate(641.5 829.6)scale(0.097 0.114)"/><use href="#qG40" transform="translate(641.5 819)scale(0.097 0.106)"/><use href="#qG31" transform="translate(629.6 840.9)scale(0.216 0.184)"/><use href="#qG40" transform="translate(651.2 840.9)scale(0.148 0.184)"/><use href="#qG41" transform="translate(651.2 819)scale(0.089 0.049)"/><use href="#qG40" transform="translate(651.2 823.9)scale(0.089 0.057)"/><use href="#qG41" transform="translate(660.2 819)scale(0.058 0.106)"/><use href="#qG40" transform="translate(651.2 829.6)scale(0.089 0.114)"/><use href="#qG41" transform="translate(660.2 829.6)scale(0.058 0.114)"/>
<g class="tm"><rect x="384.8" y="819" width="7.3" height="60.1" fill="#736717"/><rect x="384.8" y="879.1" width="62.2" height="8.9" fill="#ccb629"/><rect x="384.8" y="955.5" width="62.2" height="8.1" fill="#e6712e"/><rect x="447" y="927.8" width="36.9" height="7.8" fill="#e62e2e"/><rect x="447" y="996.6" width="10.9" height="53.4" fill="#f26130"/><rect x="525" y="996.6" width="11.7" height="53.4" fill="#30f281"/><rect x="501" y="872.6" width="8.9" height="21.9" fill="#d6e62e"/><rect x="501" y="894.5" width="34.4" height="48.7" fill="#a0ff33"/><rect x="501" y="970.1" width="7.3" height="26.5" fill="#31f7d6"/><rect x="553.4" y="897.8" width="30.1" height="9.7" fill="#f79431"/></g>
<rect x="691.8" y="819" width="282.2" height="231" fill="#3a3a3a"/>
<g class="tm"><rect x="691.8" y="819" width="73.8" height="59" fill="#f28130"/><rect x="691.8" y="878" width="73.8" height="77.6" fill="#f230b8"/><rect x="691.8" y="955.6" width="73.8" height="94.4" fill="#30f28b"/><rect x="765.7" y="819" width="44.7" height="56.2" fill="#9130f2"/><rect x="765.7" y="875.2" width="44.7" height="60.8" fill="#8bf230"/><rect x="765.7" y="936" width="44.7" height="61.9" fill="#f26130"/><rect x="765.7" y="998" width="83.5" height="52" fill="#30f298"/><rect x="849.1" y="998" width="69" height="52" fill="#f230d8"/><rect x="918.1" y="998" width="55.9" height="52" fill="#78f230"/><rect x="810.3" y="819" width="42.1" height="43.7" fill="#e2f230"/><rect x="810.3" y="862.7" width="42.1" height="45.6" fill="#6130f2"/><rect x="810.3" y="908.3" width="42.1" height="47.6" fill="#30b8f2"/><rect x="810.3" y="955.9" width="58" height="42.1" fill="#30f261"/><rect x="868.4" y="955.9" width="57.4" height="42.1" fill="#f23730"/><rect x="925.7" y="955.9" width="48.3" height="42.1" fill="#f2d830"/><rect x="852.4" y="819" width="33.4" height="33.9" fill="#d230f2"/><rect x="852.4" y="852.9" width="33.4" height="34.2" fill="#61f230"/><rect x="852.4" y="887.1" width="33.4" height="34.2" fill="#f23061"/><rect x="852.4" y="921.4" width="47.8" height="34.6" fill="#f2b830"/><rect x="900.2" y="921.4" width="39.5" height="34.6" fill="#e230f2"/><rect x="939.6" y="921.4" width="34.4" height="34.6" fill="#d830f2"/><rect x="885.8" y="819" width="25.8" height="32.9" fill="#f24a30"/><rect x="885.8" y="851.9" width="25.8" height="35.2" fill="#30f237"/><rect x="885.8" y="887.1" width="29.8" height="34.2" fill="#3057f2"/><rect x="915.6" y="887.1" width="28.9" height="34.2" fill="#30f2cb"/><rect x="944.5" y="887.1" width="29.5" height="34.2" fill="#c2f230"/><rect x="911.6" y="819" width="19.9" height="18.3" fill="#3081f2"/><rect x="911.6" y="859.8" width="21.8" height="27.4" fill="#f28b30"/><rect x="933.4" y="859.8" width="20.1" height="27.4" fill="#f230a1"/><rect x="953.5" y="859.8" width="20.5" height="27.4" fill="#30a2f2"/><rect x="931.5" y="819" width="13" height="18.3" fill="#41f230"/><rect x="931.5" y="837.3" width="13" height="22.5" fill="#f23071"/><rect x="944.5" y="819" width="17.9" height="12.2" fill="#4130f2"/><rect x="944.5" y="831.2" width="10.6" height="14.7" fill="#30e2f2"/><rect x="955.1" y="831.2" width="9.8" height="14.7" fill="#30f251"/><rect x="964.9" y="831.2" width="9.1" height="14.7" fill="#304af2"/></g>
<use href="#qG11" transform="translate(691.8 819)scale(0.738 0.590)"/><use href="#qG11" transform="translate(691.8 878)scale(0.738 0.776)"/><use href="#qG00" transform="translate(691.8 955.6)scale(0.738 0.944)"/><use href="#qG20" transform="translate(765.7 819)scale(0.447 0.562)"/><use href="#qG20" transform="translate(765.7 875.2)scale(0.447 0.608)"/><use href="#qG20" transform="translate(765.7 936)scale(0.447 0.619)"/><use href="#qG11" transform="translate(765.7 998)scale(0.835 0.520)"/><use href="#qG11" transform="translate(849.1 998)scale(0.690 0.520)"/><use href="#qG21" transform="translate(918.1 998)scale(0.559 0.520)"/><use href="#qG21" transform="translate(810.3 819)scale(0.421 0.437)"/><use href="#qG21" transform="translate(810.3 862.7)scale(0.421 0.456)"/><use href="#qG21" transform="translate(810.3 908.3)scale(0.421 0.476)"/><use href="#qG21" transform="translate(810.3 955.9)scale(0.580 0.421)"/><use href="#qG20" transform="translate(868.4 955.9)scale(0.574 0.421)"/><use href="#qG20" transform="translate(925.7 955.9)scale(0.483 0.421)"/><use href="#qG30" transform="translate(852.4 819)scale(0.334 0.339)"/><use href="#qG31" transform="translate(852.4 852.9)scale(0.334 0.342)"/><use href="#qG31" transform="translate(852.4 887.1)scale(0.334 0.342)"/><use href="#qG21" transform="translate(852.4 921.4)scale(0.478 0.346)"/><use href="#qG21" transform="translate(900.2 921.4)scale(0.395 0.346)"/><use href="#qG30" transform="translate(939.6 921.4)scale(0.344 0.346)"/><use href="#qG30" transform="translate(885.8 819)scale(0.258 0.329)"/><use href="#qG31" transform="translate(885.8 851.9)scale(0.258 0.352)"/><use href="#qG30" transform="translate(885.8 887.1)scale(0.298 0.342)"/><use href="#qG30" transform="translate(915.6 887.1)scale(0.289 0.342)"/><use href="#qG31" transform="translate(944.5 887.1)scale(0.295 0.342)"/><use href="#qG31" transform="translate(911.6 819)scale(0.199 0.183)"/><use href="#qG31" transform="translate(911.6 859.8)scale(0.218 0.274)"/><use href="#qG30" transform="translate(933.4 859.8)scale(0.201 0.274)"/><use href="#qG31" transform="translate(953.5 859.8)scale(0.205 0.274)"/><use href="#qG41" transform="translate(931.5 819)scale(0.130 0.183)"/><use href="#qG40" transform="translate(931.5 837.3)scale(0.130 0.225)"/><use href="#qG41" transform="translate(944.5 819)scale(0.179 0.122)"/><use href="#qG41" transform="translate(944.5 831.2)scale(0.106 0.147)"/><use href="#qG40" transform="translate(955.1 831.2)scale(0.098 0.147)"/><use href="#qG41" transform="translate(964.9 831.2)scale(0.091 0.147)"/>
<g class="tm"><rect x="691.8" y="819" width="18.7" height="59" fill="#f28130"/><rect x="710.6" y="867.1" width="55.1" height="10.9" fill="#99521f"/><rect x="710.6" y="829.6" width="11.4" height="37.5" fill="#4c290f"/><rect x="691.8" y="936.7" width="73.8" height="18.9" fill="#f731bc"/><rect x="691.8" y="878" width="15.5" height="58.7" fill="#8c1c6b"/><rect x="691.8" y="1029" width="54.6" height="21" fill="#33ff92"/><rect x="746.4" y="1029" width="19.2" height="21" fill="#2ee684"/><rect x="691.8" y="955.6" width="18.4" height="73.4" fill="#29cc75"/><rect x="765.7" y="849.6" width="44.7" height="25.6" fill="#9632fa"/><rect x="765.7" y="925" width="26.4" height="11.1" fill="#5fa621"/><rect x="765.7" y="978.8" width="44.7" height="19.2" fill="#e65c2e"/><rect x="765.7" y="936" width="11.7" height="42.7" fill="#8c381c"/><rect x="765.7" y="998" width="16.3" height="52" fill="#2ee690"/><rect x="849.1" y="998" width="44.8" height="52" fill="#ff33e4"/><rect x="918.1" y="998" width="22.3" height="52" fill="#6bd92b"/><rect x="810.3" y="851.6" width="42.1" height="11.1" fill="#838c1c"/><rect x="810.3" y="895.3" width="42.1" height="13" fill="#5229cc"/><rect x="827.9" y="947" width="24.5" height="9" fill="#2fb2eb"/><rect x="810.3" y="971.4" width="18.4" height="26.6" fill="#2ee65c"/><rect x="810.3" y="955.9" width="18.4" height="15.5" fill="#24b247"/><rect x="868.4" y="955.9" width="24.8" height="42.1" fill="#eb352f"/><rect x="925.7" y="964.1" width="17.9" height="33.9" fill="#f2d830"/><rect x="852.4" y="875.2" width="25.3" height="11.9" fill="#47b224"/><rect x="852.4" y="907.8" width="23.6" height="13.5" fill="#b82549"/><rect x="852.4" y="921.4" width="16.8" height="34.6" fill="#f2b830"/><rect x="939.6" y="939.6" width="23.6" height="16.3" fill="#c22bd9"/><rect x="885.8" y="897.2" width="29.8" height="24.1" fill="#2d51e0"/><rect x="944.5" y="902.1" width="16.3" height="19.2" fill="#a3cc29"/><rect x="911.6" y="837.3" width="19.9" height="22.5" fill="#bf9926"/><rect x="953.5" y="870.8" width="20.5" height="16.3" fill="#2b91d9"/><rect x="962.4" y="824.7" width="11.6" height="6.5" fill="#a6a121"/><rect x="944.5" y="845.9" width="16.8" height="13.9" fill="#1c418c"/><rect x="961.3" y="845.9" width="12.7" height="13.9" fill="#0f4c38"/></g>
<rect x="76.3" y="1065" width="281.7" height="231" fill="#3a3a3a"/>
<g class="tm"><rect x="292.6" y="1065" width="18.4" height="17.9" fill="#30f241"/><rect x="292.6" y="1082.9" width="18.4" height="19.2" fill="#ecf230"/><rect x="292.6" y="1102.2" width="18.4" height="19.9" fill="#f2b830"/><rect x="311.1" y="1065" width="13" height="10.1" fill="#f27130"/><rect x="311.1" y="1075.1" width="13" height="10.3" fill="#f23041"/><rect x="311.1" y="1085.4" width="13" height="19.6" fill="#30f230"/><rect x="324.1" y="1074" width="12.2" height="10.3" fill="#f23071"/><rect x="324.1" y="1084.2" width="12.2" height="9.3" fill="#f2d230"/><rect x="336.3" y="1065" width="9.3" height="9" fill="#3071f2"/><rect x="336.3" y="1074" width="9.3" height="10.3" fill="#5130f2"/><rect x="336.3" y="1084.2" width="10.9" height="9.3" fill="#e2f230"/><rect x="345.6" y="1065" width="12.4" height="6.5" fill="#30b2f2"/><rect x="345.6" y="1071.5" width="12.4" height="6.5" fill="#51f230"/><rect x="345.6" y="1078" width="12.4" height="6.2" fill="#d230f2"/><rect x="347.2" y="1084.2" width="10.8" height="9.3" fill="#e230f2"/><rect x="346.4" y="1093.5" width="11.6" height="11.4" fill="#f230f2"/><rect x="311.1" y="1104.9" width="17.4" height="17.1" fill="#f230ab"/><rect x="328.5" y="1104.9" width="15.2" height="17.1" fill="#3081f2"/><rect x="343.7" y="1104.9" width="14.3" height="17.1" fill="#a2f230"/><rect x="292.6" y="1122.9" width="24.5" height="19.6" fill="#81f230"/><rect x="317.1" y="1122.9" width="20.7" height="19.6" fill="#f24a30"/><rect x="337.8" y="1122.9" width="20.2" height="19.6" fill="#71f230"/><rect x="292.6" y="1142.9" width="22" height="23.5" fill="#30b8f2"/><rect x="314.6" y="1142.9" width="22.3" height="23.5" fill="#30f2b8"/><rect x="337" y="1142.9" width="21" height="23.5" fill="#f23061"/><rect x="292.6" y="1166.9" width="24" height="26.6" fill="#f23a30"/><rect x="316.6" y="1166.9" width="21.2" height="26.6" fill="#cbf230"/><rect x="337.8" y="1166.9" width="20.2" height="26.6" fill="#f230b8"/><rect x="292.6" y="1193.8" width="32.9" height="21.2" fill="#30f2cb"/><rect x="325.6" y="1193.8" width="32.4" height="21.2" fill="#f28b30"/><rect x="292.6" y="1215.3" width="41.6" height="30.3" fill="#f2d830"/><rect x="334.2" y="1215.3" width="23.8" height="30.3" fill="#30f298"/><rect x="292.6" y="1245.6" width="38.6" height="50.4" fill="#f27830"/><rect x="331.3" y="1245.6" width="26.7" height="50.4" fill="#30f2a2"/></g>
<use href="#qU51" transform="translate(292.6 1065)scale(0.184 0.179)"/><use href="#qU50" transform="translate(292.6 1082.9)scale(0.184 0.192)"/><use href="#qU51" transform="translate(292.6 1102.2)scale(0.184 0.199)"/><use href="#qU60" transform="translate(311.1 1065)scale(0.130 0.101)"/><use href="#qU61" transform="translate(311.1 1075.1)scale(0.130 0.103)"/><use href="#qU60" transform="translate(311.1 1085.4)scale(0.130 0.196)"/><use href="#qU60" transform="translate(324.1 1074)scale(0.122 0.103)"/><use href="#qU61" transform="translate(324.1 1084.2)scale(0.122 0.093)"/><use href="#qU61" transform="translate(336.3 1065)scale(0.093 0.090)"/><use href="#qU60" transform="translate(336.3 1074)scale(0.093 0.103)"/><use href="#qU61" transform="translate(336.3 1084.2)scale(0.109 0.093)"/><use href="#qU61" transform="translate(345.6 1065)scale(0.124 0.065)"/><use href="#qU60" transform="translate(345.6 1071.5)scale(0.124 0.065)"/><use href="#qU61" transform="translate(345.6 1078)scale(0.124 0.062)"/><use href="#qU60" transform="translate(347.2 1084.2)scale(0.108 0.093)"/><use href="#qU61" transform="translate(346.4 1093.5)scale(0.116 0.114)"/><use href="#qU50" transform="translate(311.1 1104.9)scale(0.174 0.171)"/><use href="#qU61" transform="translate(328.5 1104.9)scale(0.152 0.171)"/><use href="#qU61" transform="translate(343.7 1104.9)scale(0.143 0.171)"/><use href="#qU51" transform="translate(292.6 1122.9)scale(0.245 0.196)"/><use href="#qU51" transform="translate(317.1 1122.9)scale(0.207 0.196)"/><use href="#qU50" transform="translate(337.8 1122.9)scale(0.202 0.196)"/><use href="#qU50" transform="translate(292.6 1142.9)scale(0.220 0.235)"/><use href="#qU51" transform="translate(314.6 1142.9)scale(0.223 0.235)"/><use href="#qU50" transform="translate(337 1142.9)scale(0.210 0.235)"/><use href="#qU41" transform="translate(292.6 1166.9)scale(0.240 0.266)"/><use href="#qU50" transform="translate(316.6 1166.9)scale(0.212 0.266)"/><use href="#qU51" transform="translate(337.8 1166.9)scale(0.202 0.266)"/><use href="#qU41" transform="translate(292.6 1193.8)scale(0.329 0.212)"/><use href="#qU40" transform="translate(325.6 1193.8)scale(0.324 0.212)"/><use href="#qU40" transform="translate(292.6 1215.3)scale(0.416 0.303)"/><use href="#qU41" transform="translate(334.2 1215.3)scale(0.238 0.303)"/><use href="#qU30" transform="translate(292.6 1245.6)scale(0.386 0.504)"/><use href="#qU31" transform="translate(331.3 1245.6)scale(0.267 0.504)"/>
<g class="tm"><rect x="76.3" y="1065.7" width="216.3" height="230.3" fill="#f52bfc"/><rect x="324.1" y="1065" width="12.2" height="9" fill="#d92bca"/><rect x="324.1" y="1093.5" width="11.7" height="11.4" fill="#a82ee6"/><rect x="335.8" y="1093.5" width="10.6" height="11.4" fill="#b82ee6"/><rect x="328.5" y="1116.8" width="15.2" height="5.2" fill="#2e7ae6"/><rect x="343.7" y="1114.7" width="14.3" height="7.3" fill="#99e62e"/><rect x="292.6" y="1122.9" width="5.4" height="19.6" fill="#81f230"/><rect x="337.8" y="1134.3" width="20.2" height="8.1" fill="#71f230"/><rect x="337.8" y="1185.3" width="20.2" height="8.1" fill="#f230b8"/><rect x="325.6" y="1193.8" width="10.3" height="21.2" fill="#ff9233"/><rect x="292.6" y="1268.7" width="38.6" height="27.3" fill="#ff7e33"/><rect x="292.6" y="1250.8" width="6" height="17.9" fill="#ff7e33"/></g>
<rect x="691.8" y="1065" width="282.2" height="231" fill="#3a3a3a"/>
<g class="tm"><rect x="691.8" y="1065" width="66.8" height="59" fill="#30f2cb"/><rect x="691.8" y="1124" width="66.8" height="69.4" fill="#ecf230"/><rect x="691.8" y="1193.4" width="66.8" height="102.6" fill="#30f2a2"/><rect x="758.7" y="1065" width="41.9" height="50.9" fill="#81f230"/><rect x="758.7" y="1115.9" width="41.9" height="55.4" fill="#f23030"/><rect x="758.7" y="1171.3" width="41.9" height="62.4" fill="#f230f2"/><rect x="758.7" y="1233.7" width="59.8" height="62.3" fill="#30f281"/><rect x="818.5" y="1233.7" width="57.5" height="62.3" fill="#b8f230"/><rect x="876" y="1233.7" width="49.7" height="62.3" fill="#f2d830"/><rect x="925.7" y="1233.7" width="48.3" height="62.3" fill="#f27830"/><rect x="800.5" y="1065" width="44" height="38.8" fill="#30f26b"/><rect x="800.5" y="1103.8" width="44" height="41.4" fill="#f2b230"/><rect x="800.5" y="1145.2" width="44" height="44" fill="#6130f2"/><rect x="800.5" y="1189.2" width="44" height="44.5" fill="#f23061"/><rect x="844.6" y="1097.3" width="36.4" height="33.2" fill="#37f230"/><rect x="844.6" y="1130.5" width="36.8" height="33.1" fill="#81f230"/><rect x="844.6" y="1163.6" width="46.1" height="32.6" fill="#30f2b8"/><rect x="844.6" y="1196.2" width="43.7" height="37.5" fill="#f23071"/><rect x="888.3" y="1196.2" width="43.7" height="37.5" fill="#30b8f2"/><rect x="931.9" y="1196.2" width="42.1" height="37.5" fill="#f28b30"/><rect x="880.9" y="1065" width="26.6" height="31.8" fill="#3081f2"/><rect x="880.9" y="1096.8" width="26.6" height="33.7" fill="#f2304a"/><rect x="881.4" y="1130.5" width="32.1" height="33.1" fill="#57f230"/><rect x="913.5" y="1130.5" width="31" height="33.1" fill="#f230b2"/><rect x="944.5" y="1130.5" width="29.5" height="33.1" fill="#f230a1"/><rect x="890.7" y="1163.6" width="44.3" height="32.6" fill="#cbf230"/><rect x="935" y="1163.6" width="39" height="32.6" fill="#f25130"/><rect x="907.5" y="1065" width="20.7" height="31.8" fill="#8b30f2"/><rect x="907.5" y="1096.8" width="20.7" height="33.7" fill="#3030f2"/><rect x="928.2" y="1108.7" width="45.8" height="21.8" fill="#304af2"/><rect x="928.2" y="1065" width="17.9" height="18.7" fill="#f2cb30"/><rect x="928.2" y="1083.7" width="17.9" height="24.9" fill="#f230e2"/><rect x="946.1" y="1065" width="14.7" height="16.3" fill="#c230f2"/><rect x="946.1" y="1093" width="16.3" height="15.6" fill="#30b2f2"/><rect x="960.8" y="1065" width="13.2" height="8.1" fill="#f2f230"/></g>
<use href="#qG10" transform="translate(691.8 1065)scale(0.668 0.590)"/><use href="#qG11" transform="translate(691.8 1124)scale(0.668 0.694)"/><use href="#qG01" transform="translate(691.8 1193.4)scale(0.668 1.026)"/><use href="#qG20" transform="translate(758.7 1065)scale(0.419 0.509)"/><use href="#qG20" transform="translate(758.7 1115.9)scale(0.419 0.554)"/><use href="#qG20" transform="translate(758.7 1171.3)scale(0.419 0.624)"/><use href="#qG10" transform="translate(758.7 1233.7)scale(0.598 0.623)"/><use href="#qG11" transform="translate(818.5 1233.7)scale(0.575 0.623)"/><use href="#qG10" transform="translate(876 1233.7)scale(0.497 0.623)"/><use href="#qG20" transform="translate(925.7 1233.7)scale(0.483 0.623)"/><use href="#qG20" transform="translate(800.5 1065)scale(0.440 0.388)"/><use href="#qG21" transform="translate(800.5 1103.8)scale(0.440 0.414)"/><use href="#qG21" transform="translate(800.5 1145.2)scale(0.440 0.440)"/><use href="#qG21" transform="translate(800.5 1189.2)scale(0.440 0.445)"/><use href="#qG31" transform="translate(844.6 1097.3)scale(0.364 0.332)"/><use href="#qG30" transform="translate(844.6 1130.5)scale(0.368 0.331)"/><use href="#qG21" transform="translate(844.6 1163.6)scale(0.461 0.326)"/><use href="#qU31" transform="translate(844.6 1196.2)scale(0.437 0.375)"/><use href="#qG20" transform="translate(888.3 1196.2)scale(0.437 0.375)"/><use href="#qG21" transform="translate(931.9 1196.2)scale(0.421 0.375)"/><use href="#qG31" transform="translate(880.9 1065)scale(0.266 0.318)"/><use href="#qG30" transform="translate(880.9 1096.8)scale(0.266 0.337)"/><use href="#qG31" transform="translate(881.4 1130.5)scale(0.321 0.331)"/><use href="#qG30" transform="translate(913.5 1130.5)scale(0.310 0.331)"/><use href="#qG30" transform="translate(944.5 1130.5)scale(0.295 0.331)"/><use href="#qG21" transform="translate(890.7 1163.6)scale(0.443 0.326)"/><use href="#qG30" transform="translate(935 1163.6)scale(0.390 0.326)"/><use href="#qG31" transform="translate(907.5 1065)scale(0.207 0.318)"/><use href="#qG31" transform="translate(907.5 1096.8)scale(0.207 0.337)"/><use href="#qG30" transform="translate(928.2 1108.7)scale(0.458 0.218)"/><use href="#qG41" transform="translate(928.2 1065)scale(0.179 0.187)"/><use href="#qG30" transform="translate(928.2 1083.7)scale(0.179 0.249)"/><use href="#qG41" transform="translate(946.1 1065)scale(0.147 0.163)"/><use href="#qG41" transform="translate(946.1 1093)scale(0.163 0.156)"/><use href="#qG40" transform="translate(960.8 1065)scale(0.132 0.081)"/>
<g class="tm"><rect x="691.8" y="1159.5" width="66.8" height="33.9" fill="#e7ff33"/><rect x="758.7" y="1100.9" width="41.9" height="15" fill="#84f731"/><rect x="758.7" y="1115.9" width="15.5" height="38.8" fill="#eb2f2f"/><rect x="758.7" y="1154.6" width="41.9" height="16.6" fill="#ed2f2f"/><rect x="774.1" y="1115.9" width="14.7" height="22.5" fill="#591212"/><rect x="758.7" y="1200.3" width="41.9" height="33.4" fill="#e02de0"/><rect x="818.5" y="1233.7" width="12.7" height="23.6" fill="#b8f230"/><rect x="818.5" y="1281.8" width="57.5" height="14.2" fill="#88b224"/><rect x="876" y="1281.8" width="49.7" height="14.2" fill="#d1bb2a"/><rect x="925.7" y="1281.8" width="48.3" height="14.2" fill="#f27830"/><rect x="800.5" y="1119.6" width="15.6" height="25.6" fill="#f7b531"/><rect x="800.5" y="1145.2" width="22.5" height="44" fill="#6633ff"/><rect x="844.6" y="1065" width="36.4" height="32.3" fill="#943b1e"/><rect x="844.6" y="1177.5" width="15.2" height="18.7" fill="#2de0ab"/><rect x="931.9" y="1196.2" width="15.8" height="37.5" fill="#9e5b20"/><rect x="913.5" y="1146.5" width="18.4" height="17.1" fill="#eb2fac"/><rect x="907.5" y="1084.6" width="20.7" height="12.2" fill="#7c2bd9"/><rect x="946.1" y="1081.3" width="13.9" height="11.7" fill="#d230f2"/><rect x="960.8" y="1073.1" width="13.2" height="8.1" fill="#805519"/><rect x="960" y="1081.3" width="14" height="11.7" fill="#801944"/><rect x="962.4" y="1093" width="11.6" height="15.6" fill="#1c8c2f"/></g>
<rect x="76.3" y="1310" width="281.7" height="230" fill="#3a3a3a"/>
<g class="tm"></g>

<g class="tm"><rect x="76.3" y="1310" width="21" height="36.7" fill="#bf8c26"/><rect x="97.3" y="1310" width="25.8" height="14.7" fill="#99701f"/><rect x="97.3" y="1324.7" width="25.8" height="22" fill="#b88725"/><rect x="123.1" y="1310" width="11.7" height="17.6" fill="#4c380f"/><rect x="134.8" y="1310" width="19.2" height="17.6" fill="#99701f"/><rect x="123.1" y="1327.6" width="17.9" height="19.1" fill="#8c671c"/><rect x="141" y="1327.6" width="13" height="19.1" fill="#6b4f15"/><rect x="76.3" y="1346.7" width="49.7" height="54.9" fill="#ffbb33"/><rect x="126" y="1346.7" width="28" height="54.9" fill="#ebac2f"/><rect x="76.3" y="1401.6" width="27.2" height="20" fill="#25b87a"/><rect x="76.3" y="1421.7" width="27.2" height="40.8" fill="#2ad18b"/><rect x="103.5" y="1401.6" width="21.2" height="17.9" fill="#1f9966"/><rect x="103.5" y="1419.5" width="20.7" height="21.7" fill="#23ad74"/><rect x="124.7" y="1401.6" width="29.3" height="22.5" fill="#24b277"/><rect x="124.2" y="1424.1" width="18.7" height="17.1" fill="#17734d"/><rect x="143" y="1424.1" width="11.1" height="17.1" fill="#0d402b"/><rect x="103.5" y="1441.2" width="26.1" height="21.2" fill="#21a66f"/><rect x="129.6" y="1441.2" width="24.5" height="21.2" fill="#22ab72"/><rect x="76.3" y="1462.4" width="43" height="33.7" fill="#2feb9c"/><rect x="119.3" y="1462.4" width="34.7" height="33.7" fill="#2de096"/><rect x="76.3" y="1496.2" width="43" height="43.8" fill="#30f2a2"/><rect x="119.3" y="1496.2" width="34.7" height="43.8" fill="#2fed9e"/><rect x="154.1" y="1310" width="41.1" height="46.1" fill="#61f230"/><rect x="195.1" y="1310" width="25.4" height="13.9" fill="#2e7317"/><rect x="195.1" y="1323.9" width="25.4" height="32.3" fill="#50c728"/><rect x="154.1" y="1356.1" width="46.9" height="51.7" fill="#ec30f2"/><rect x="201" y="1356.1" width="19.6" height="14.2" fill="#5e1361"/><rect x="201" y="1370.3" width="19.6" height="18.3" fill="#891c8c"/><rect x="201" y="1388.6" width="19.6" height="19.2" fill="#901e94"/><rect x="154.1" y="1407.8" width="52.7" height="53.8" fill="#ff3366"/><rect x="206.7" y="1407.8" width="13.9" height="24.1" fill="#851b35"/><rect x="206.7" y="1431.9" width="13.9" height="29.7" fill="#9e203f"/><rect x="154.1" y="1461.6" width="43.2" height="29" fill="#2ee684"/><rect x="154.1" y="1490.6" width="43.2" height="49.4" fill="#32fa8f"/><rect x="197.3" y="1461.6" width="13.9" height="23.1" fill="#177342"/><rect x="211.1" y="1461.6" width="17.1" height="11.4" fill="#0a331d"/><rect x="211.1" y="1473" width="17.1" height="11.7" fill="#10522f"/><rect x="228.2" y="1461.6" width="9.5" height="23.1" fill="#1f9958"/><rect x="197.3" y="1484.7" width="22" height="29.8" fill="#25b869"/><rect x="219.3" y="1484.7" width="18.4" height="29.8" fill="#23ad63"/><rect x="197.3" y="1514.6" width="40.4" height="25.4" fill="#2ad178"/><rect x="237.7" y="1461.6" width="53.6" height="39.9" fill="#f230b8"/><rect x="237.7" y="1501.5" width="68.8" height="38.5" fill="#fa32be"/><rect x="291.3" y="1461.6" width="15.2" height="11.4" fill="#b22488"/><rect x="291.3" y="1473" width="15.2" height="28.5" fill="#9e2078"/><rect x="306.5" y="1461.6" width="18.7" height="32.3" fill="#b8257a"/><rect x="325.2" y="1461.6" width="13" height="12.2" fill="#f230a1"/><rect x="325.2" y="1473.8" width="13" height="20" fill="#6b1547"/><rect x="338.3" y="1461.6" width="19.7" height="17.1" fill="#b22477"/><rect x="338.3" y="1478.7" width="19.7" height="15.2" fill="#e62e99"/><rect x="306.5" y="1493.9" width="26.6" height="46.1" fill="#d92b90"/><rect x="333.1" y="1493.9" width="24.9" height="46.1" fill="#cc2988"/><rect x="220.6" y="1310" width="11.7" height="18.7" fill="#125924"/><rect x="232.3" y="1310" width="10.6" height="18.7" fill="#0b3816"/><rect x="242.9" y="1310" width="11.4" height="18.7" fill="#2ee65c"/><rect x="220.6" y="1328.7" width="33.7" height="27.4" fill="#2ad154"/><rect x="220.6" y="1356.1" width="26.4" height="17.4" fill="#6fa621"/><rect x="247" y="1356.1" width="7.3" height="17.4" fill="#80bf26"/><rect x="220.6" y="1373.6" width="33.7" height="34.2" fill="#96e02d"/><rect x="220.6" y="1407.8" width="24.3" height="15.5" fill="#1c8c67"/><rect x="244.9" y="1407.8" width="15.5" height="17.1" fill="#2bd99f"/><rect x="260.4" y="1407.8" width="14.3" height="17.1" fill="#19805d"/><rect x="220.6" y="1423.3" width="24.3" height="38.3" fill="#29cc96"/><rect x="244.9" y="1424.9" width="16" height="15.5" fill="#136147"/><rect x="260.8" y="1424.9" width="13.9" height="15.5" fill="#0d402f"/><rect x="244.9" y="1440.4" width="15.5" height="21.2" fill="#19805d"/><rect x="260.4" y="1440.4" width="14.3" height="21.2" fill="#156b4f"/><rect x="274.7" y="1407.8" width="22.3" height="25.3" fill="#731a17"/><rect x="297" y="1407.8" width="17.1" height="11.4" fill="#47100e"/><rect x="297" y="1419.2" width="17.1" height="13.9" fill="#611613"/><rect x="314.1" y="1407.8" width="9" height="4.9" fill="#801d19"/><rect x="314.1" y="1412.7" width="9" height="20.4" fill="#f73831"/><rect x="274.7" y="1433.1" width="48.4" height="28.5" fill="#e6342e"/><rect x="323.1" y="1407.8" width="17.1" height="26.9" fill="#21a685"/><rect x="340.2" y="1407.8" width="17.8" height="8.2" fill="#26bf99"/><rect x="340.2" y="1416" width="17.8" height="18.7" fill="#1b856a"/><rect x="323.1" y="1434.7" width="34.9" height="26.9" fill="#29cca3"/><rect x="254.3" y="1310" width="28" height="28" fill="#c7285d"/><rect x="282.4" y="1310" width="10.3" height="10.6" fill="#661430"/><rect x="282.4" y="1320.6" width="10.3" height="17.4" fill="#a6214d"/><rect x="254.3" y="1338" width="19.9" height="32.6" fill="#b825a4"/><rect x="274.2" y="1338" width="18.4" height="20" fill="#b2249f"/><rect x="274.2" y="1358.1" width="18.4" height="12.6" fill="#591250"/><rect x="254.3" y="1370.6" width="28.5" height="37.2" fill="#62d12a"/><rect x="282.8" y="1370.6" width="9.8" height="22.5" fill="#47991f"/><rect x="282.8" y="1393.1" width="9.8" height="14.7" fill="#6deb2f"/><rect x="292.6" y="1310" width="17.9" height="11.4" fill="#2e5ce6"/><rect x="292.6" y="1321.4" width="17.9" height="12.7" fill="#122459"/><rect x="310.6" y="1310" width="11.7" height="16.3" fill="#0a330a"/><rect x="322.3" y="1310" width="9.8" height="16.3" fill="#2bd92b"/><rect x="332.1" y="1310" width="11.1" height="14.7" fill="#f74c31"/><rect x="343.2" y="1310" width="9" height="14.7" fill="#b82ee6"/><rect x="352.1" y="1310" width="5.9" height="14.7" fill="#5324b2"/><rect x="292.6" y="1334.1" width="10.6" height="15.8" fill="#ddff33"/><rect x="303.2" y="1334.1" width="7.3" height="15.8" fill="#899e20"/><rect x="292.6" y="1349.9" width="17.9" height="10.6" fill="#2f400d"/><rect x="310.6" y="1326.3" width="21.5" height="17.1" fill="#441980"/><rect x="332.1" y="1324.7" width="13.5" height="18.7" fill="#4c0f1f"/><rect x="345.6" y="1324.7" width="12.4" height="18.7" fill="#29a3cc"/><rect x="310.6" y="1343.4" width="12.2" height="17.1" fill="#4c0f2e"/><rect x="322.8" y="1343.4" width="12.2" height="17.1" fill="#e02d87"/><rect x="335" y="1343.4" width="23" height="17.1" fill="#abb825"/><rect x="292.6" y="1360.5" width="22.8" height="7.8" fill="#f27830"/><rect x="292.6" y="1368.4" width="22.8" height="17.4" fill="#4c220f"/><rect x="315.5" y="1360.5" width="22" height="25.3" fill="#1c418c"/><rect x="315.5" y="1360.5" width="17.1" height="11.4" fill="#3377ff"/><rect x="337.5" y="1360.5" width="20.5" height="25.3" fill="#1e8a94"/><rect x="337.5" y="1360.5" width="20.5" height="7.3" fill="#2bcad9"/><rect x="292.6" y="1385.8" width="17.9" height="22" fill="#20549e"/><rect x="310.6" y="1385.8" width="15" height="22" fill="#3285fa"/><rect x="325.6" y="1385.8" width="18.1" height="22" fill="#89209e"/><rect x="343.7" y="1385.8" width="14.3" height="22" fill="#5d156b"/></g>
<rect x="692.3" y="1310" width="278.8" height="227.4" fill="#3a3a3a"/>
<g class="tm"><rect x="692.3" y="1310" width="77.4" height="50.2" fill="#f230b8"/><rect x="692.3" y="1360.2" width="77.4" height="85.9" fill="#30f2a2"/><rect x="692.3" y="1446.1" width="77.4" height="91.3" fill="#30f291"/><rect x="769.7" y="1310" width="50.9" height="39.9" fill="#f23061"/><rect x="769.7" y="1349.9" width="50.9" height="41.6" fill="#f230d8"/><rect x="769.7" y="1391.5" width="50.9" height="48.1" fill="#f23030"/><rect x="769.7" y="1439.6" width="50.9" height="49.7" fill="#f27830"/><rect x="769.7" y="1489.3" width="74.2" height="48.1" fill="#78f230"/><rect x="896.1" y="1489.3" width="11.7" height="48.1" fill="#3061f2"/><rect x="907.8" y="1489.3" width="63.3" height="48.1" fill="#f26130"/><rect x="820.6" y="1310" width="37.2" height="43.2" fill="#30f2b2"/><rect x="820.6" y="1353.2" width="37.2" height="48.4" fill="#30b8f2"/><rect x="820.6" y="1401.6" width="37.2" height="48.6" fill="#f2b830"/><rect x="820.6" y="1450.2" width="50.2" height="39.1" fill="#6130f2"/><rect x="870.8" y="1450.2" width="50.5" height="39.1" fill="#8bf230"/><rect x="921.3" y="1450.2" width="49.7" height="39.1" fill="#61f230"/><rect x="857.8" y="1310" width="37.8" height="33.9" fill="#ecf230"/><rect x="857.8" y="1343.9" width="37.8" height="33.7" fill="#f230b2"/><rect x="857.8" y="1377.6" width="37.8" height="34.7" fill="#f2d230"/><rect x="857.8" y="1412.4" width="41.1" height="37.8" fill="#30f2cb"/><rect x="898.8" y="1412.4" width="36.7" height="37.8" fill="#ec30f2"/><rect x="935.5" y="1412.4" width="35.5" height="37.8" fill="#30f261"/><rect x="895.6" y="1310" width="30.5" height="19.9" fill="#d830f2"/><rect x="895.6" y="1329.9" width="30.5" height="26.6" fill="#3078f2"/><rect x="895.6" y="1356.5" width="30.5" height="26.6" fill="#37f230"/><rect x="895.6" y="1383" width="41.6" height="29.3" fill="#8130f2"/><rect x="937.2" y="1383" width="33.9" height="29.3" fill="#f25130"/><rect x="926.1" y="1363.5" width="23.6" height="19.6" fill="#f23071"/><rect x="949.7" y="1363.5" width="21.4" height="19.6" fill="#c230f2"/><rect x="926.1" y="1348.3" width="23.6" height="15.2" fill="#41f230"/><rect x="949.7" y="1348.3" width="21.4" height="15.2" fill="#f28b30"/><rect x="926.1" y="1310" width="15.5" height="17.9" fill="#d8f230"/><rect x="941.6" y="1310" width="12.2" height="10.6" fill="#b230f2"/><rect x="953.8" y="1310" width="8.6" height="10.6" fill="#f2cb30"/><rect x="962.4" y="1310" width="8.6" height="10.6" fill="#5130f2"/><rect x="941.6" y="1320.6" width="12.2" height="12.2" fill="#30f24a"/><rect x="953.8" y="1320.6" width="17.3" height="12.2" fill="#30d2f2"/><rect x="941.6" y="1332.8" width="15.5" height="15.5" fill="#c2f230"/><rect x="957" y="1332.8" width="14" height="15.5" fill="#306bf2"/></g>
<use href="#qG11" transform="translate(692.3 1310)scale(0.774 0.502)"/><use href="#qG01" transform="translate(692.3 1360.2)scale(0.774 0.859)"/><use href="#qG01" transform="translate(692.3 1446.1)scale(0.774 0.913)"/><use href="#qG21" transform="translate(769.7 1310)scale(0.509 0.399)"/><use href="#qG20" transform="translate(769.7 1349.9)scale(0.509 0.416)"/><use href="#qG20" transform="translate(769.7 1391.5)scale(0.509 0.481)"/><use href="#qG20" transform="translate(769.7 1439.6)scale(0.509 0.497)"/><use href="#qG11" transform="translate(769.7 1489.3)scale(0.742 0.481)"/><use href="#qG31" transform="translate(896.1 1489.3)scale(0.117 0.481)"/><use href="#qG11" transform="translate(907.8 1489.3)scale(0.633 0.481)"/><use href="#qG20" transform="translate(820.6 1310)scale(0.372 0.432)"/><use href="#qG21" transform="translate(820.6 1353.2)scale(0.372 0.484)"/><use href="#qG21" transform="translate(820.6 1401.6)scale(0.372 0.486)"/><use href="#qG20" transform="translate(820.6 1450.2)scale(0.502 0.391)"/><use href="#qG20" transform="translate(870.8 1450.2)scale(0.505 0.391)"/><use href="#qG21" transform="translate(921.3 1450.2)scale(0.497 0.391)"/><use href="#qG31" transform="translate(857.8 1310)scale(0.378 0.339)"/><use href="#qG30" transform="translate(857.8 1343.9)scale(0.378 0.337)"/><use href="#qG21" transform="translate(857.8 1377.6)scale(0.378 0.347)"/><use href="#qG21" transform="translate(857.8 1412.4)scale(0.411 0.378)"/><use href="#qG20" transform="translate(898.8 1412.4)scale(0.367 0.378)"/><use href="#qG21" transform="translate(935.5 1412.4)scale(0.355 0.378)"/><use href="#qG31" transform="translate(895.6 1310)scale(0.305 0.199)"/><use href="#qG30" transform="translate(895.6 1329.9)scale(0.305 0.266)"/><use href="#qG31" transform="translate(895.6 1356.5)scale(0.305 0.266)"/><use href="#qG30" transform="translate(895.6 1383)scale(0.416 0.293)"/><use href="#qG30" transform="translate(937.2 1383)scale(0.339 0.293)"/><use href="#qG31" transform="translate(926.1 1363.5)scale(0.236 0.196)"/><use href="#qG30" transform="translate(949.7 1363.5)scale(0.214 0.196)"/><use href="#qG41" transform="translate(926.1 1348.3)scale(0.236 0.152)"/><use href="#qG40" transform="translate(949.7 1348.3)scale(0.214 0.152)"/><use href="#qG41" transform="translate(926.1 1310)scale(0.155 0.179)"/><use href="#qG41" transform="translate(941.6 1310)scale(0.122 0.106)"/><use href="#qG40" transform="translate(953.8 1310)scale(0.086 0.106)"/><use href="#qG41" transform="translate(962.4 1310)scale(0.086 0.106)"/><use href="#qG40" transform="translate(941.6 1320.6)scale(0.122 0.122)"/><use href="#qG41" transform="translate(953.8 1320.6)scale(0.173 0.122)"/><use href="#qG40" transform="translate(941.6 1332.8)scale(0.155 0.155)"/><use href="#qG41" transform="translate(957 1332.8)scale(0.140 0.155)"/>
<g class="tm"><rect x="692.3" y="1310" width="16.6" height="50.2" fill="#fa32be"/><rect x="692.3" y="1422.5" width="77.4" height="23.6" fill="#31f7a5"/><rect x="692.3" y="1523.2" width="77.4" height="14.2" fill="#2fed8e"/><rect x="769.7" y="1355.6" width="10.6" height="35.9" fill="#e62ecd"/><rect x="769.7" y="1391.5" width="11.4" height="48.1" fill="#e02d2d"/><rect x="769.7" y="1489.3" width="14.2" height="48.1" fill="#71e62e"/><rect x="843.9" y="1489.3" width="52.2" height="48.1" fill="#3366ff"/><rect x="820.6" y="1391.5" width="37.2" height="10.1" fill="#299bcc"/><rect x="820.6" y="1459.1" width="18.7" height="30.2" fill="#6331f7"/><rect x="921.3" y="1450.2" width="13.7" height="39.1" fill="#5fed2f"/><rect x="857.8" y="1386.3" width="12.6" height="26.1" fill="#ebcb2f"/><rect x="935.5" y="1441.2" width="35.5" height="9" fill="#2bd957"/><rect x="895.6" y="1391.5" width="14.7" height="20.9" fill="#7d2feb"/><rect x="926.1" y="1327.9" width="15.5" height="20.4" fill="#3024b2"/></g>
<rect x="76.3" y="1551" width="281.7" height="230" fill="#3a3a3a"/>
<g class="tm"><rect x="76.3" y="1551" width="87.2" height="65.7" fill="#f23030"/><rect x="76.3" y="1616.7" width="87.2" height="77.8" fill="#30f2b8"/><rect x="76.3" y="1694.4" width="87.2" height="86.6" fill="#30f28b"/><rect x="163.5" y="1551" width="46.5" height="53" fill="#6bf230"/><rect x="163.5" y="1604" width="46.5" height="55.4" fill="#f23061"/><rect x="163.5" y="1659.4" width="46.5" height="58.2" fill="#8bf230"/><rect x="163.5" y="1717.6" width="77.4" height="63.4" fill="#30f2a2"/><rect x="241" y="1717.6" width="66.8" height="63.4" fill="#30f2c2"/><rect x="307.8" y="1717.6" width="50.2" height="63.4" fill="#ec30f2"/><rect x="210" y="1551" width="50" height="37.5" fill="#f26b30"/><rect x="210" y="1588.5" width="50" height="39.9" fill="#f28130"/><rect x="210" y="1628.4" width="50" height="42.4" fill="#30f261"/><rect x="210" y="1670.8" width="50.9" height="46.8" fill="#f230b8"/><rect x="260.8" y="1670.8" width="49.7" height="46.8" fill="#f2d230"/><rect x="310.6" y="1670.8" width="47.4" height="46.8" fill="#f2b230"/><rect x="260" y="1551" width="31.8" height="26.4" fill="#5130f2"/><rect x="260" y="1577.4" width="31.8" height="30.2" fill="#30b8f2"/><rect x="260" y="1607.6" width="31.5" height="31.5" fill="#e2f230"/><rect x="260" y="1639" width="52.2" height="31.8" fill="#e230f2"/><rect x="312.2" y="1639" width="45.8" height="31.8" fill="#8bf230"/><rect x="291.5" y="1617.8" width="66.5" height="21.2" fill="#f230c2"/><rect x="291.8" y="1551" width="17.1" height="22" fill="#8b30f2"/><rect x="291.8" y="1573" width="17.1" height="22.3" fill="#d230f2"/><rect x="291.8" y="1595.3" width="27.7" height="22.5" fill="#3081f2"/><rect x="319.5" y="1595.3" width="20.4" height="22.5" fill="#b230f2"/><rect x="339.9" y="1595.3" width="18.1" height="22.5" fill="#f24a30"/><rect x="308.9" y="1551" width="14.7" height="22" fill="#a2f230"/><rect x="308.9" y="1573" width="14.7" height="22.3" fill="#f28b30"/><rect x="323.6" y="1551" width="13.5" height="14.3" fill="#f2cb30"/><rect x="323.6" y="1565.3" width="13.5" height="13.7" fill="#30d8f2"/><rect x="323.6" y="1579" width="16.8" height="16.3" fill="#30f241"/><rect x="337.1" y="1551" width="10.9" height="6.5" fill="#f23081"/><rect x="337.1" y="1557.5" width="10.9" height="9.8" fill="#3081f2"/><rect x="337.1" y="1567.3" width="20.9" height="11.7" fill="#30f230"/><rect x="340.4" y="1579" width="17.6" height="16.3" fill="#3061f2"/></g>
<use href="#qU10" transform="translate(76.3 1551)scale(0.872 0.657)"/><use href="#qU10" transform="translate(76.3 1616.7)scale(0.872 0.778)"/><use href="#qU11" transform="translate(76.3 1694.4)scale(0.872 0.866)"/><use href="#qU30" transform="translate(163.5 1551)scale(0.465 0.530)"/><use href="#qU21" transform="translate(163.5 1604)scale(0.465 0.554)"/><use href="#qU21" transform="translate(163.5 1659.4)scale(0.465 0.582)"/><use href="#qU10" transform="translate(163.5 1717.6)scale(0.774 0.634)"/><use href="#qU21" transform="translate(241 1717.6)scale(0.668 0.634)"/><use href="#qU20" transform="translate(307.8 1717.6)scale(0.502 0.634)"/><use href="#qU31" transform="translate(210 1551)scale(0.500 0.375)"/><use href="#qU31" transform="translate(210 1588.5)scale(0.500 0.399)"/><use href="#qU30" transform="translate(210 1628.4)scale(0.500 0.424)"/><use href="#qU31" transform="translate(210 1670.8)scale(0.509 0.468)"/><use href="#qU30" transform="translate(260.8 1670.8)scale(0.497 0.468)"/><use href="#qU31" transform="translate(310.6 1670.8)scale(0.474 0.468)"/><use href="#qU40" transform="translate(260 1551)scale(0.318 0.264)"/><use href="#qU41" transform="translate(260 1577.4)scale(0.318 0.302)"/><use href="#qU40" transform="translate(260 1607.6)scale(0.315 0.315)"/><use href="#qU31" transform="translate(260 1639)scale(0.522 0.318)"/><use href="#qU30" transform="translate(312.2 1639)scale(0.458 0.318)"/><use href="#qU30" transform="translate(291.5 1617.8)scale(0.665 0.212)"/><use href="#qU51" transform="translate(291.8 1551)scale(0.171 0.220)"/><use href="#qU50" transform="translate(291.8 1573)scale(0.171 0.223)"/><use href="#qU51" transform="translate(291.8 1595.3)scale(0.277 0.225)"/><use href="#qU50" transform="translate(319.5 1595.3)scale(0.204 0.225)"/><use href="#qU51" transform="translate(339.9 1595.3)scale(0.181 0.225)"/><use href="#qU50" transform="translate(308.9 1551)scale(0.147 0.220)"/><use href="#qU51" transform="translate(308.9 1573)scale(0.147 0.223)"/><use href="#qU60" transform="translate(323.6 1551)scale(0.135 0.143)"/><use href="#qU61" transform="translate(323.6 1565.3)scale(0.135 0.137)"/><use href="#qU60" transform="translate(323.6 1579)scale(0.168 0.163)"/><use href="#qU61" transform="translate(337.1 1551)scale(0.109 0.065)"/><use href="#qU61" transform="translate(337.1 1557.5)scale(0.109 0.098)"/><use href="#qU60" transform="translate(337.1 1567.3)scale(0.209 0.117)"/><use href="#qU61" transform="translate(340.4 1579)scale(0.176 0.163)"/>
<g class="tm"><rect x="76.3" y="1568.1" width="8.5" height="48.6" fill="#f73131"/><rect x="163.5" y="1651.2" width="46.5" height="8.2" fill="#e62e5c"/><rect x="210" y="1551" width="8.2" height="37.5" fill="#f26b30"/><rect x="312.2" y="1644.7" width="10.9" height="26.1" fill="#92ff33"/><rect x="348.1" y="1551" width="9.9" height="9.8" fill="#551980"/></g>
<rect x="384.8" y="1551" width="281.2" height="230" fill="#3a3a3a"/>
<g class="tm"><rect x="384.8" y="1551" width="80.1" height="70.2" fill="#30f2a2"/><rect x="384.8" y="1621.2" width="80.1" height="74.4" fill="#f23030"/><rect x="384.8" y="1695.6" width="80.1" height="85.4" fill="#30f2b2"/><rect x="464.9" y="1551" width="54.7" height="50" fill="#71f230"/><rect x="464.9" y="1601" width="54.7" height="52.3" fill="#f2b230"/><rect x="464.9" y="1653.3" width="54.7" height="56" fill="#ec30f2"/><rect x="464.9" y="1709.4" width="78" height="71.6" fill="#30f28b"/><rect x="542.9" y="1709.4" width="68.2" height="71.6" fill="#30f2c2"/><rect x="611.1" y="1709.4" width="54.9" height="71.6" fill="#f23057"/><rect x="519.6" y="1551" width="44.7" height="34.1" fill="#f230b2"/><rect x="519.6" y="1585.1" width="44.7" height="38.2" fill="#f27830"/><rect x="519.6" y="1623.3" width="44.7" height="39.5" fill="#f2d830"/><rect x="519.6" y="1662.8" width="54.1" height="46.6" fill="#98f230"/><rect x="573.7" y="1662.8" width="46.9" height="46.6" fill="#30f261"/><rect x="620.7" y="1662.8" width="45.3" height="46.6" fill="#a2f230"/><rect x="564.3" y="1551" width="31.4" height="24.7" fill="#3081f2"/><rect x="564.3" y="1575.7" width="31.4" height="25.7" fill="#f25130"/><rect x="564.3" y="1601.4" width="31.4" height="26.8" fill="#30c2f2"/><rect x="564.3" y="1628.2" width="38.2" height="34.6" fill="#d830f2"/><rect x="602.5" y="1628.2" width="36.2" height="34.6" fill="#f26b30"/><rect x="638.7" y="1628.2" width="27.3" height="34.6" fill="#e2f230"/><rect x="595.7" y="1603" width="26.8" height="25.2" fill="#5730f2"/><rect x="622.5" y="1603" width="23.1" height="25.2" fill="#f230e2"/><rect x="645.5" y="1603" width="20.5" height="25.2" fill="#c230f2"/><rect x="595.7" y="1551" width="18.7" height="24.7" fill="#f230ab"/><rect x="595.7" y="1575.7" width="18.7" height="27.3" fill="#a130f2"/><rect x="614.3" y="1551" width="19" height="14.3" fill="#3061f2"/><rect x="614.3" y="1565.3" width="19" height="15.8" fill="#c2f230"/><rect x="614.3" y="1581" width="19" height="21.9" fill="#f28b30"/><rect x="633.3" y="1581" width="17.9" height="9.7" fill="#f2c230"/><rect x="651.2" y="1581" width="14.8" height="21.9" fill="#8130f2"/><rect x="633.3" y="1551" width="17.1" height="14.6" fill="#30f230"/><rect x="633.3" y="1565.6" width="17.1" height="15.4" fill="#3078f2"/><rect x="650.4" y="1551" width="8.1" height="8.1" fill="#30d8f2"/><rect x="658.5" y="1551" width="7.5" height="4.9" fill="#f2f230"/><rect x="658.5" y="1555.9" width="7.5" height="7.3" fill="#3030f2"/><rect x="650.4" y="1563.2" width="8.1" height="8.1" fill="#f23081"/></g>
<use href="#qU11" transform="translate(384.8 1551)scale(0.801 0.702)"/><use href="#qU10" transform="translate(384.8 1621.2)scale(0.801 0.744)"/><use href="#qU11" transform="translate(384.8 1695.6)scale(0.801 0.854)"/><use href="#qU20" transform="translate(464.9 1551)scale(0.547 0.500)"/><use href="#qU21" transform="translate(464.9 1601)scale(0.547 0.523)"/><use href="#qU20" transform="translate(464.9 1653.3)scale(0.547 0.560)"/><use href="#qU11" transform="translate(464.9 1709.4)scale(0.780 0.716)"/><use href="#qU21" transform="translate(542.9 1709.4)scale(0.682 0.716)"/><use href="#qU20" transform="translate(611.1 1709.4)scale(0.549 0.716)"/><use href="#qU31" transform="translate(519.6 1551)scale(0.447 0.341)"/><use href="#qU30" transform="translate(519.6 1585.1)scale(0.447 0.382)"/><use href="#qU30" transform="translate(519.6 1623.3)scale(0.447 0.395)"/><use href="#qU21" transform="translate(519.6 1662.8)scale(0.541 0.466)"/><use href="#qU30" transform="translate(573.7 1662.8)scale(0.469 0.466)"/><use href="#qU31" transform="translate(620.7 1662.8)scale(0.453 0.466)"/><use href="#qU41" transform="translate(564.3 1551)scale(0.314 0.247)"/><use href="#qU40" transform="translate(564.3 1575.7)scale(0.314 0.257)"/><use href="#qU40" transform="translate(564.3 1601.4)scale(0.314 0.268)"/><use href="#qU31" transform="translate(564.3 1628.2)scale(0.382 0.346)"/><use href="#qU40" transform="translate(602.5 1628.2)scale(0.362 0.346)"/><use href="#qU41" transform="translate(638.7 1628.2)scale(0.273 0.346)"/><use href="#qU40" transform="translate(595.7 1603)scale(0.268 0.252)"/><use href="#qU51" transform="translate(622.5 1603)scale(0.231 0.252)"/><use href="#qU50" transform="translate(645.5 1603)scale(0.205 0.252)"/><use href="#qU51" transform="translate(595.7 1551)scale(0.187 0.247)"/><use href="#qU50" transform="translate(595.7 1575.7)scale(0.187 0.273)"/><use href="#qU61" transform="translate(614.3 1551)scale(0.190 0.143)"/><use href="#qU50" transform="translate(614.3 1565.3)scale(0.190 0.158)"/><use href="#qU51" transform="translate(614.3 1581)scale(0.190 0.219)"/><use href="#qU60" transform="translate(633.3 1581)scale(0.179 0.097)"/><use href="#qU50" transform="translate(651.2 1581)scale(0.148 0.219)"/><use href="#qU61" transform="translate(633.3 1551)scale(0.171 0.146)"/><use href="#qU60" transform="translate(633.3 1565.6)scale(0.171 0.154)"/><use href="#qU61" transform="translate(650.4 1551)scale(0.081 0.081)"/><use href="#qU60" transform="translate(658.5 1551)scale(0.075 0.049)"/><use href="#qU61" transform="translate(658.5 1555.9)scale(0.075 0.073)"/><use href="#qU60" transform="translate(650.4 1563.2)scale(0.081 0.081)"/>
<g class="tm"><rect x="464.9" y="1736.2" width="8.4" height="44.8" fill="#32fa8f"/><rect x="519.6" y="1595.7" width="7.3" height="27.6" fill="#f77a31"/><rect x="620.7" y="1685" width="45.3" height="24.4" fill="#aaff33"/><rect x="564.3" y="1575.7" width="11.9" height="25.7" fill="#f25130"/><rect x="633.3" y="1590.8" width="17.9" height="12.2" fill="#f7c631"/><rect x="650.4" y="1571.3" width="15.6" height="9.7" fill="#1f9933"/><rect x="658.5" y="1563.2" width="7.5" height="8.1" fill="#146614"/></g>
<rect x="692.6" y="1551" width="281.4" height="230" fill="#3a3a3a"/>
<g class="tm"><rect x="692.6" y="1551" width="79.6" height="57.9" fill="#30f2b8"/><rect x="692.6" y="1608.9" width="79.6" height="70.9" fill="#30f2a2"/><rect x="692.6" y="1679.8" width="79.6" height="101.2" fill="#30f28b"/><rect x="772.2" y="1551" width="52.5" height="48.9" fill="#f23061"/><rect x="772.2" y="1599.9" width="52.5" height="61.6" fill="#61f230"/><rect x="772.2" y="1661.5" width="52.5" height="61.9" fill="#f23730"/><rect x="772.2" y="1723.5" width="72.1" height="57.5" fill="#ec30f2"/><rect x="844.2" y="1723.5" width="66.8" height="57.5" fill="#30f2cb"/><rect x="911.1" y="1723.5" width="62.9" height="57.5" fill="#abf230"/><rect x="824.7" y="1551" width="38.6" height="39.9" fill="#f2b830"/><rect x="824.7" y="1590.9" width="38.6" height="43.5" fill="#5730f2"/><rect x="824.7" y="1634.5" width="38.6" height="46.1" fill="#f28130"/><rect x="824.7" y="1680.6" width="52.7" height="42.9" fill="#91f230"/><rect x="877.3" y="1680.6" width="48.4" height="42.9" fill="#30f261"/><rect x="925.7" y="1680.6" width="48.3" height="42.9" fill="#f230b8"/><rect x="863.3" y="1551" width="35.2" height="29.3" fill="#9130f2"/><rect x="863.3" y="1580.3" width="35.2" height="31.8" fill="#e9f230"/><rect x="863.3" y="1612.1" width="35.2" height="32.6" fill="#3081f2"/><rect x="863.3" y="1644.7" width="39.1" height="35.9" fill="#30b8f2"/><rect x="902.4" y="1644.7" width="36" height="35.9" fill="#f25730"/><rect x="938.5" y="1644.7" width="35.5" height="35.9" fill="#f27830"/><rect x="898.5" y="1551" width="25.6" height="30.2" fill="#f2d830"/><rect x="898.5" y="1581.2" width="25.6" height="37.5" fill="#f230e2"/><rect x="898.5" y="1618.6" width="38.6" height="26.1" fill="#f230b2"/><rect x="937.2" y="1618.6" width="36.8" height="26.1" fill="#e230f2"/><rect x="924.1" y="1598.3" width="27.4" height="20.4" fill="#f2306b"/><rect x="951.5" y="1598.3" width="22.5" height="20.4" fill="#c230f2"/><rect x="924.1" y="1551" width="17.1" height="13" fill="#f230a1"/><rect x="924.1" y="1564" width="17.1" height="15" fill="#3071f2"/><rect x="924.1" y="1579" width="17.1" height="19.2" fill="#30f237"/><rect x="941.2" y="1551" width="13" height="11.1" fill="#a2f230"/><rect x="941.2" y="1562.1" width="23.6" height="12.6" fill="#37f230"/><rect x="954.3" y="1551" width="7.3" height="11.1" fill="#30b2f2"/><rect x="964.9" y="1562.1" width="9.1" height="12.6" fill="#3030f2"/><rect x="941.2" y="1574.6" width="17.6" height="10.6" fill="#b230f2"/><rect x="958.8" y="1574.6" width="15.2" height="10.6" fill="#30d8f2"/><rect x="941.2" y="1585.2" width="17.6" height="13" fill="#3061f2"/></g>
<use href="#qG10" transform="translate(692.6 1551)scale(0.796 0.579)"/><use href="#qG10" transform="translate(692.6 1608.9)scale(0.796 0.709)"/><use href="#qG00" transform="translate(692.6 1679.8)scale(0.796 1.012)"/><use href="#qG20" transform="translate(772.2 1551)scale(0.525 0.489)"/><use href="#qG10" transform="translate(772.2 1599.9)scale(0.525 0.616)"/><use href="#qG10" transform="translate(772.2 1661.5)scale(0.525 0.619)"/><use href="#qG10" transform="translate(772.2 1723.5)scale(0.721 0.575)"/><use href="#qG10" transform="translate(844.2 1723.5)scale(0.668 0.575)"/><use href="#qG10" transform="translate(911.1 1723.5)scale(0.629 0.575)"/><use href="#qG20" transform="translate(824.7 1551)scale(0.386 0.399)"/><use href="#qG21" transform="translate(824.7 1590.9)scale(0.386 0.435)"/><use href="#qG21" transform="translate(824.7 1634.5)scale(0.386 0.461)"/><use href="#qG20" transform="translate(824.7 1680.6)scale(0.527 0.429)"/><use href="#qG20" transform="translate(877.3 1680.6)scale(0.484 0.429)"/><use href="#qG21" transform="translate(925.7 1680.6)scale(0.483 0.429)"/><use href="#qG30" transform="translate(863.3 1551)scale(0.352 0.293)"/><use href="#qG30" transform="translate(863.3 1580.3)scale(0.352 0.318)"/><use href="#qG31" transform="translate(863.3 1612.1)scale(0.352 0.326)"/><use href="#qG20" transform="translate(863.3 1644.7)scale(0.391 0.359)"/><use href="#qG30" transform="translate(902.4 1644.7)scale(0.360 0.359)"/><use href="#qG30" transform="translate(938.5 1644.7)scale(0.355 0.359)"/><use href="#qG31" transform="translate(898.5 1551)scale(0.256 0.302)"/><use href="#qG30" transform="translate(898.5 1581.2)scale(0.256 0.375)"/><use href="#qG31" transform="translate(898.5 1618.6)scale(0.386 0.261)"/><use href="#qG30" transform="translate(937.2 1618.6)scale(0.368 0.261)"/><use href="#qG31" transform="translate(924.1 1598.3)scale(0.274 0.204)"/><use href="#qG30" transform="translate(951.5 1598.3)scale(0.225 0.204)"/><use href="#qG41" transform="translate(924.1 1551)scale(0.171 0.130)"/><use href="#qG40" transform="translate(924.1 1564)scale(0.171 0.150)"/><use href="#qG41" transform="translate(924.1 1579)scale(0.171 0.192)"/><use href="#qG40" transform="translate(941.2 1551)scale(0.130 0.111)"/><use href="#qG41" transform="translate(941.2 1562.1)scale(0.236 0.126)"/><use href="#qG40" transform="translate(954.3 1551)scale(0.073 0.111)"/><use href="#qG40" transform="translate(964.9 1562.1)scale(0.091 0.126)"/><use href="#qG41" transform="translate(941.2 1574.6)scale(0.176 0.106)"/><use href="#qG40" transform="translate(958.8 1574.6)scale(0.152 0.106)"/><use href="#qG41" transform="translate(941.2 1585.2)scale(0.176 0.130)"/>
<g class="tm"><rect x="692.6" y="1571.4" width="10.6" height="37.5" fill="#2febb2"/><rect x="692.6" y="1618.6" width="16.6" height="61.1" fill="#32faa7"/><rect x="692.6" y="1770.2" width="79.6" height="10.8" fill="#2ee684"/><rect x="772.2" y="1551" width="10.9" height="48.9" fill="#cc2952"/><rect x="772.2" y="1650.4" width="52.5" height="11.1" fill="#5ce62e"/><rect x="772.2" y="1714" width="41.1" height="9.5" fill="#ed362f"/><rect x="772.2" y="1723.5" width="24.5" height="57.5" fill="#f833ff"/><rect x="844.2" y="1723.5" width="11.4" height="57.5" fill="#31f7d0"/><rect x="911.1" y="1735.2" width="13.9" height="45.8" fill="#aff731"/><rect x="824.7" y="1626" width="38.6" height="8.5" fill="#4526bf"/><rect x="824.7" y="1691.2" width="13.9" height="32.3" fill="#94f731"/><rect x="863.3" y="1551" width="16.8" height="29.3" fill="#9933ff"/><rect x="863.3" y="1657.8" width="11.1" height="22.8" fill="#30b8f2"/><rect x="902.4" y="1667.5" width="36" height="13" fill="#eb542f"/><rect x="961.6" y="1551" width="12.4" height="11.1" fill="#663014"/><rect x="958.8" y="1585.2" width="15.2" height="13" fill="#735c17"/></g>
<rect x="76.6" y="1793.8" width="281.4" height="230.2" fill="#3a3a3a"/>
<g class="tm"></g>

<g class="tm"><rect x="76.6" y="1793.8" width="63.6" height="51.7" fill="#f73131"/><rect x="76.6" y="1845.5" width="63.6" height="59.2" fill="#ff3333"/><rect x="76.6" y="1904.7" width="63.6" height="58.7" fill="#ff3333"/><rect x="76.6" y="1963.4" width="63.6" height="60.6" fill="#ff3333"/><rect x="140.2" y="1793.8" width="44" height="38.6" fill="#de2c2c"/><rect x="140.2" y="1832.5" width="44" height="42.9" fill="#e02d2d"/><rect x="140.2" y="1875.3" width="44" height="44.8" fill="#e62e2e"/><rect x="140.2" y="1920.2" width="44" height="53.5" fill="#e62e2e"/><rect x="140.2" y="1973.6" width="62.3" height="50.4" fill="#ed2f2f"/><rect x="202.5" y="1973.6" width="61.6" height="50.4" fill="#ed2f2f"/><rect x="264.1" y="1973.6" width="57.9" height="50.4" fill="#ed2f2f"/><rect x="184.2" y="1933.5" width="35" height="40.1" fill="#db2c2c"/><rect x="219.3" y="1933.5" width="34.2" height="40.1" fill="#db2c2c"/><rect x="253.5" y="1933.5" width="35" height="40.1" fill="#db2c2c"/><rect x="288.6" y="1933.5" width="33.4" height="40.1" fill="#db2c2c"/><rect x="184.2" y="1902.5" width="43.2" height="31" fill="#d12a2a"/><rect x="227.4" y="1902.5" width="37.5" height="31" fill="#d12a2a"/><rect x="264.9" y="1902.5" width="30.5" height="31" fill="#d12a2a"/><rect x="295.4" y="1902.5" width="26.6" height="31" fill="#d12a2a"/><rect x="184.2" y="1793.8" width="28.5" height="24.8" fill="#c72828"/><rect x="184.2" y="1818.6" width="28.5" height="27.9" fill="#c72828"/><rect x="184.2" y="1846.5" width="28.5" height="27.2" fill="#c72828"/><rect x="184.2" y="1873.7" width="28.5" height="28.9" fill="#c72828"/><rect x="212.8" y="1877.8" width="27.7" height="24.8" fill="#bf2626"/><rect x="240.5" y="1877.8" width="28" height="24.8" fill="#bf2626"/><rect x="268.5" y="1877.8" width="26.9" height="24.8" fill="#bd2626"/><rect x="295.4" y="1877.8" width="26.6" height="24.8" fill="#ba2525"/><rect x="212.8" y="1793.8" width="22" height="27.7" fill="#b22424"/><rect x="212.8" y="1821.5" width="22" height="26.9" fill="#b22424"/><rect x="212.8" y="1848.4" width="22" height="29.3" fill="#b22424"/><rect x="234.8" y="1793.8" width="25.6" height="20.4" fill="#a82222"/><rect x="234.8" y="1814.2" width="25.6" height="20.4" fill="#a82222"/><rect x="234.8" y="1834.6" width="25.6" height="21.2" fill="#a82222"/><rect x="234.8" y="1855.8" width="25.6" height="22" fill="#a82222"/><rect x="260.4" y="1855.8" width="22" height="22" fill="#a32121"/><rect x="282.4" y="1855.8" width="20.9" height="22" fill="#a32121"/><rect x="303.2" y="1855.8" width="18.7" height="22" fill="#9e2020"/><rect x="260.4" y="1838.6" width="24.1" height="17.1" fill="#991f1f"/><rect x="284.5" y="1838.6" width="18.7" height="17.1" fill="#991f1f"/><rect x="303.2" y="1838.6" width="18.7" height="17.1" fill="#991f1f"/><rect x="260.4" y="1793.8" width="17.6" height="13.9" fill="#8c1c1c"/><rect x="260.4" y="1807.7" width="17.6" height="14.3" fill="#8c1c1c"/><rect x="260.4" y="1822" width="17.6" height="16.6" fill="#8f1d1d"/><rect x="278" y="1793.8" width="13.9" height="14.7" fill="#7a1818"/><rect x="278" y="1808.5" width="13.9" height="16.3" fill="#801919"/><rect x="278" y="1824.8" width="15.5" height="13.9" fill="#851b1b"/><rect x="293.4" y="1824.8" width="13.9" height="13.9" fill="#851b1b"/><rect x="307.3" y="1824.8" width="14.7" height="13.9" fill="#801919"/><rect x="291.8" y="1793.8" width="9.5" height="15.5" fill="#781818"/><rect x="291.8" y="1809.3" width="9.5" height="15.5" fill="#781818"/><rect x="301.3" y="1793.8" width="20.7" height="15.5" fill="#6b1515"/><rect x="301.3" y="1809.3" width="20.7" height="15.5" fill="#701616"/><rect x="322" y="1793.8" width="13.4" height="20.4" fill="#1c6b8c"/><rect x="335.3" y="1793.8" width="11.9" height="20.4" fill="#1e9431"/><rect x="347.2" y="1796.3" width="10.8" height="17.9" fill="#19804c"/><rect x="347.2" y="1793.8" width="10.8" height="2.4" fill="#806e19"/><rect x="322" y="1815" width="19.6" height="21.2" fill="#89209e"/><rect x="341.5" y="1815" width="16.5" height="21.2" fill="#209e3f"/><rect x="322" y="1836.7" width="36" height="18.7" fill="#b22488"/><rect x="322" y="1856.6" width="36" height="73.4" fill="#edae2f"/><rect x="322" y="1930.4" width="36" height="93.6" fill="#f131f7"/></g>
<rect x="385.6" y="1793.8" width="280.4" height="230.2" fill="#3a3a3a"/>
<g class="tm"></g>

<g class="tm2"><rect x="385.6" y="1793.8" width="277" height="230.2" fill="#991f1f"/><rect x="385.6" y="1793.8" width="13" height="230.2" fill="#eb2f2f"/><rect x="398.6" y="1793.8" width="12.2" height="230.2" fill="#b82525"/><rect x="410.8" y="1793.8" width="12.2" height="230.2" fill="#8c1c1c"/><rect x="423" y="1793.8" width="11.7" height="230.2" fill="#611313"/><rect x="434.7" y="2013.9" width="127.7" height="10.1" fill="#470e0e"/><rect x="562.4" y="2013.9" width="100.2" height="10.1" fill="#f23030"/><rect x="434.7" y="1793.8" width="10.4" height="220.1" fill="#cc2929"/><rect x="445.1" y="2004.3" width="217.5" height="9.6" fill="#a62121"/><rect x="445.1" y="1793.8" width="10.1" height="210.5" fill="#661414"/><rect x="455.1" y="1994.9" width="110" height="9.4" fill="#400d0d"/><rect x="565.1" y="1994.9" width="97.5" height="9.4" fill="#ed2f2f"/><rect x="455.1" y="1793.8" width="9.6" height="201.1" fill="#cc2929"/><rect x="464.7" y="1986" width="197.9" height="8.9" fill="#ad2323"/><rect x="464.7" y="1793.8" width="9.4" height="192.2" fill="#6b1515"/><rect x="474.2" y="1977.2" width="82.8" height="8.8" fill="#400d0d"/><rect x="557" y="1977.2" width="105.6" height="8.8" fill="#f73131"/><rect x="474.2" y="1793.8" width="8.9" height="183.4" fill="#d12a2a"/><rect x="483.1" y="1968.9" width="179.5" height="8.3" fill="#991f1f"/><rect x="483.1" y="1793.8" width="8.8" height="175.1" fill="#4c0f0f"/><rect x="491.9" y="1960.8" width="6.8" height="8.1" fill="#4c0f0f"/><rect x="498.7" y="1960.8" width="163.9" height="8.1" fill="#f73131"/><rect x="491.9" y="1793.8" width="8.4" height="167" fill="#b22424"/><rect x="500.3" y="1953" width="162.3" height="7.8" fill="#801919"/><rect x="500.3" y="1793.8" width="8" height="61.7" fill="#f23030"/><rect x="500.3" y="1855.5" width="8" height="97.5" fill="#4c0f0f"/><rect x="508.3" y="1945.4" width="154.3" height="7.6" fill="#d92b2b"/><rect x="508.3" y="1793.8" width="8" height="151.6" fill="#8c1c1c"/><rect x="516.2" y="1938.2" width="146.4" height="7.1" fill="#470e0e"/><rect x="516.2" y="1793.8" width="7.5" height="134" fill="#e62e2e"/><rect x="516.2" y="1927.8" width="7.5" height="10.4" fill="#330a0a"/><rect x="523.7" y="1931.1" width="138.9" height="7.1" fill="#b82525"/><rect x="523.7" y="1793.8" width="7.3" height="137.3" fill="#801919"/><rect x="531" y="1924.4" width="131.6" height="6.7" fill="#9e2020"/><rect x="531" y="1793.8" width="7" height="81.2" fill="#f23030"/><rect x="531" y="1875" width="7" height="49.4" fill="#400d0d"/><rect x="538" y="1917.9" width="124.6" height="6.5" fill="#8c1c1c"/><rect x="538" y="1793.8" width="6.8" height="28.4" fill="#f23030"/><rect x="538" y="1822.2" width="6.8" height="95.7" fill="#4c0f0f"/><rect x="544.8" y="1911.6" width="117.8" height="6.3" fill="#e62e2e"/><rect x="544.8" y="1793.8" width="6.5" height="117.8" fill="#991f1f"/><rect x="551.3" y="1905.4" width="30.1" height="6.2" fill="#400d0d"/><rect x="581.4" y="1905.4" width="81.2" height="6.2" fill="#f23030"/><rect x="551.3" y="1793.8" width="6.3" height="111.6" fill="#591212"/><rect x="557.7" y="1899.6" width="104.9" height="5.8" fill="#cc2929"/><rect x="557.7" y="1793.8" width="6.2" height="105.8" fill="#991f1f"/><rect x="563.8" y="1893.9" width="98.8" height="5.7" fill="#d92b2b"/><rect x="563.8" y="1793.8" width="5.8" height="15.4" fill="#e62e2e"/><rect x="563.8" y="1809.2" width="5.8" height="84.6" fill="#400d0d"/><rect x="569.7" y="1888.5" width="92.9" height="5.4" fill="#991f1f"/><rect x="569.7" y="1793.8" width="5.7" height="94.7" fill="#b22424"/><rect x="575.4" y="1883.2" width="41.9" height="5.4" fill="#400d0d"/><rect x="617.3" y="1883.2" width="45.3" height="5.4" fill="#f23030"/><rect x="575.4" y="1793.8" width="5.4" height="89.3" fill="#4c0f0f"/><rect x="580.7" y="1878.1" width="81.9" height="5" fill="#991f1f"/><rect x="580.7" y="1793.8" width="5.4" height="84.3" fill="#d92b2b"/><rect x="586.1" y="1873.1" width="14.5" height="5" fill="#400d0d"/><rect x="600.5" y="1873.1" width="62.1" height="5" fill="#f23030"/><rect x="586.1" y="1793.8" width="5" height="79.3" fill="#e62e2e"/><rect x="591.1" y="1868.4" width="71.5" height="4.7" fill="#b22424"/><rect x="591.1" y="1793.8" width="5" height="74.6" fill="#e62e2e"/><rect x="596.1" y="1863.8" width="16.2" height="4.5" fill="#470e0e"/><rect x="612.4" y="1863.8" width="50.2" height="4.5" fill="#f23030"/><rect x="596.1" y="1793.8" width="4.7" height="70" fill="#731717"/><rect x="600.9" y="1859.4" width="61.7" height="4.4" fill="#b22424"/><rect x="600.9" y="1793.8" width="4.5" height="65.6" fill="#e62e2e"/><rect x="605.4" y="1855.2" width="28.1" height="4.2" fill="#400d0d"/><rect x="633.5" y="1855.2" width="29.1" height="4.2" fill="#f23030"/><rect x="605.4" y="1793.8" width="4.4" height="61.4" fill="#8c1c1c"/><rect x="609.8" y="1851" width="14" height="4.2" fill="#400d0d"/><rect x="623.8" y="1851" width="38.8" height="4.2" fill="#f23030"/><rect x="609.8" y="1793.8" width="4.2" height="20.1" fill="#f23030"/><rect x="609.8" y="1814" width="4.2" height="37" fill="#470e0e"/><rect x="614" y="1847.1" width="48.6" height="3.9" fill="#b22424"/><rect x="614" y="1793.8" width="4.2" height="53.3" fill="#731717"/><rect x="618.2" y="1843.2" width="25.8" height="3.9" fill="#400d0d"/><rect x="644.1" y="1843.2" width="18.5" height="3.9" fill="#f23030"/><rect x="618.2" y="1793.8" width="3.9" height="49.4" fill="#4c0f0f"/><rect x="622.1" y="1839.6" width="40.4" height="3.6" fill="#b22424"/><rect x="622.1" y="1793.8" width="3.9" height="45.8" fill="#991f1f"/><rect x="626" y="1836" width="36.5" height="3.6" fill="#d92b2b"/><rect x="626" y="1793.8" width="3.7" height="42.2" fill="#4c0f0f"/><rect x="629.8" y="1832.5" width="6.8" height="3.6" fill="#400d0d"/><rect x="636.6" y="1832.5" width="26" height="3.6" fill="#f23030"/><rect x="629.8" y="1793.8" width="3.6" height="38.7" fill="#4c0f0f"/><rect x="633.3" y="1829.2" width="29.2" height="3.2" fill="#e62e2e"/><rect x="633.3" y="1793.8" width="3.4" height="35.4" fill="#d92b2b"/><rect x="636.8" y="1826" width="25.8" height="3.2" fill="#801919"/><rect x="636.8" y="1793.8" width="3.2" height="18.7" fill="#f23030"/><rect x="636.8" y="1812.5" width="3.2" height="13.5" fill="#470e0e"/><rect x="640" y="1822.9" width="6.2" height="3.1" fill="#400d0d"/><rect x="646.2" y="1822.9" width="16.4" height="3.1" fill="#f23030"/><rect x="640" y="1793.8" width="3.2" height="29.1" fill="#e62e2e"/><rect x="643.3" y="1820" width="19.3" height="2.9" fill="#4c0f0f"/><rect x="643.3" y="1793.8" width="3.1" height="26.2" fill="#8c1c1c"/><rect x="646.3" y="1817" width="16.2" height="2.9" fill="#4c0f0f"/><rect x="646.3" y="1793.8" width="2.9" height="23.2" fill="#8c1c1c"/><rect x="649.3" y="1814.3" width="13.3" height="2.8" fill="#e62e2e"/><rect x="649.3" y="1793.8" width="2.9" height="20.5" fill="#991f1f"/><rect x="652.2" y="1811.5" width="10.4" height="2.8" fill="#991f1f"/><rect x="652.2" y="1793.8" width="2.8" height="17.7" fill="#731717"/><rect x="655" y="1809.1" width="7.6" height="2.4" fill="#4c0f0f"/><rect x="655" y="1793.8" width="2.8" height="15.3" fill="#d92b2b"/><rect x="657.7" y="1806.5" width="1.5" height="2.6" fill="#470e0e"/><rect x="659.2" y="1806.5" width="3.4" height="2.6" fill="#f23030"/><rect x="657.7" y="1793.8" width="2.6" height="12.7" fill="#bf2626"/><rect x="660.3" y="1804" width="2.3" height="2.4" fill="#4c0f0f"/><rect x="660.3" y="1793.8" width="2.3" height="10.2" fill="#4c0f0f"/><rect x="662.6" y="1793.8" width="3.4" height="8.9" fill="#99851f"/><rect x="662.6" y="1802.7" width="3.4" height="10.6" fill="#c72ee6"/><rect x="662.6" y="1813.3" width="3.4" height="9.7" fill="#cc299b"/><rect x="662.6" y="1823.1" width="3.4" height="13" fill="#7a1f99"/><rect x="662.6" y="1836" width="3.4" height="13" fill="#2e7ae6"/><rect x="662.6" y="1849" width="3.4" height="13" fill="#701f99"/><rect x="662.6" y="1862" width="3.4" height="18.7" fill="#29cc52"/><rect x="662.6" y="1880.7" width="3.4" height="13.8" fill="#d9482b"/><rect x="662.6" y="1894.5" width="3.4" height="16.2" fill="#19804c"/><rect x="662.6" y="1910.8" width="3.4" height="17.1" fill="#661429"/><rect x="662.6" y="1927.8" width="3.4" height="21.1" fill="#6f1980"/><rect x="662.6" y="1948.9" width="3.4" height="21.9" fill="#d9bc2b"/><rect x="662.6" y="1970.9" width="3.4" height="17.1" fill="#24b26b"/><rect x="662.6" y="1987.9" width="3.4" height="16.2" fill="#2bd991"/><rect x="662.6" y="2004.2" width="3.4" height="19.8" fill="#2ee6a8"/></g>
<rect x="692.6" y="1793.8" width="281.4" height="230.2" fill="#3a3a3a"/>
<g class="tm"></g>

<g class="tm"><rect x="692.6" y="1793.8" width="66.5" height="52.2" fill="#f73131"/><rect x="692.6" y="1846" width="66.5" height="57.5" fill="#ff3333"/><rect x="692.6" y="1903.5" width="66.5" height="57.9" fill="#ff3333"/><rect x="692.6" y="1961.4" width="66.5" height="62.6" fill="#ff3333"/><rect x="759.1" y="1793.8" width="46" height="38.6" fill="#de2c2c"/><rect x="759.1" y="1832.5" width="46" height="41.7" fill="#e32d2d"/><rect x="759.1" y="1874.2" width="46" height="43.5" fill="#e62e2e"/><rect x="759.1" y="1917.7" width="46" height="58.7" fill="#e82e2e"/><rect x="759.1" y="1976.4" width="63.6" height="47.6" fill="#f03030"/><rect x="822.7" y="1976.4" width="60.6" height="47.6" fill="#f03030"/><rect x="883.4" y="1976.4" width="60" height="47.6" fill="#f03030"/><rect x="805.1" y="1944.6" width="50.2" height="31.8" fill="#de2c2c"/><rect x="855.3" y="1944.6" width="48.1" height="31.8" fill="#de2c2c"/><rect x="903.4" y="1944.6" width="39.9" height="31.8" fill="#de2c2c"/><rect x="805.1" y="1911.7" width="37.2" height="32.9" fill="#d42a2a"/><rect x="842.3" y="1911.7" width="36.2" height="32.9" fill="#d42a2a"/><rect x="878.5" y="1911.7" width="35.9" height="32.9" fill="#d42a2a"/><rect x="914.3" y="1911.7" width="29" height="32.9" fill="#d42a2a"/><rect x="805.1" y="1793.8" width="26.1" height="26.4" fill="#c72828"/><rect x="805.1" y="1820.2" width="26.1" height="28.2" fill="#c72828"/><rect x="805.1" y="1848.4" width="26.1" height="29" fill="#c72828"/><rect x="805.1" y="1877.4" width="26.1" height="34.2" fill="#c72828"/><rect x="831.2" y="1888.9" width="29.3" height="22.8" fill="#bd2626"/><rect x="860.5" y="1888.9" width="28" height="22.8" fill="#bd2626"/><rect x="888.6" y="1888.9" width="28.2" height="22.8" fill="#bd2626"/><rect x="916.8" y="1888.9" width="26.6" height="22.8" fill="#ba2525"/><rect x="831.2" y="1793.8" width="23.3" height="22.5" fill="#b22424"/><rect x="831.2" y="1816.3" width="23.3" height="24.3" fill="#b22424"/><rect x="831.2" y="1840.6" width="23.3" height="24.1" fill="#b22424"/><rect x="831.2" y="1864.7" width="23.3" height="24.1" fill="#b22424"/><rect x="854.5" y="1866" width="23.1" height="22.8" fill="#a82222"/><rect x="877.7" y="1866" width="22" height="22.8" fill="#a82222"/><rect x="899.7" y="1866" width="22" height="22.8" fill="#a82222"/><rect x="921.7" y="1866" width="21.7" height="22.8" fill="#a62121"/><rect x="854.5" y="1793.8" width="19.6" height="23.6" fill="#a12020"/><rect x="854.5" y="1817.5" width="19.6" height="24.1" fill="#a12020"/><rect x="854.5" y="1841.6" width="19.6" height="24.5" fill="#a12020"/><rect x="874.1" y="1847.6" width="25.3" height="18.4" fill="#991f1f"/><rect x="899.3" y="1847.6" width="22.3" height="18.4" fill="#991f1f"/><rect x="921.7" y="1847.6" width="21.7" height="18.4" fill="#991f1f"/><rect x="874.1" y="1793.8" width="15.3" height="15.5" fill="#8c1c1c"/><rect x="874.1" y="1809.3" width="15.3" height="16.3" fill="#8c1c1c"/><rect x="874.1" y="1825.6" width="15.3" height="22" fill="#8f1d1d"/><rect x="889.4" y="1793.8" width="15.6" height="13" fill="#801919"/><rect x="889.4" y="1806.9" width="15.6" height="13.5" fill="#801919"/><rect x="889.4" y="1820.4" width="15.6" height="13" fill="#801919"/><rect x="889.4" y="1833.4" width="15.6" height="14.2" fill="#851b1b"/><rect x="905" y="1793.8" width="14.2" height="12.2" fill="#751717"/><rect x="905" y="1806" width="14.2" height="12.2" fill="#751717"/><rect x="905" y="1818.3" width="14.2" height="13.5" fill="#751717"/><rect x="905" y="1831.8" width="13" height="15.8" fill="#7a1818"/><rect x="918.1" y="1831.8" width="13.4" height="15.8" fill="#7a1818"/><rect x="931.5" y="1831.8" width="11.9" height="15.8" fill="#7a1818"/><rect x="919.2" y="1793.8" width="24.1" height="13.9" fill="#661414"/><rect x="919.2" y="1807.7" width="12.2" height="11.4" fill="#6b1515"/><rect x="931.5" y="1807.7" width="11.9" height="11.4" fill="#6b1515"/><rect x="919.2" y="1819.1" width="12.2" height="12.7" fill="#701616"/><rect x="931.5" y="1819.1" width="11.9" height="12.7" fill="#701616"/><rect x="943.4" y="1793.8" width="30.6" height="4.9" fill="#4b1466"/><rect x="943.4" y="1799.2" width="30.6" height="34.9" fill="#2ad479"/><rect x="943.4" y="1834.9" width="15.8" height="19.2" fill="#8c7a1c"/><rect x="959.2" y="1834.9" width="14.8" height="19.2" fill="#85731b"/><rect x="943.4" y="1854.1" width="30.6" height="19.1" fill="#b29f24"/><rect x="943.4" y="1873.7" width="30.6" height="3.3" fill="#66144b"/><rect x="943.4" y="1877" width="30.6" height="60.3" fill="#e02dab"/><rect x="943.4" y="1937.8" width="30.6" height="5.2" fill="#146644"/><rect x="943.4" y="1943" width="30.6" height="81" fill="#30f298"/></g>
<rect x="76.6" y="2039" width="281.4" height="230.2" fill="#3a3a3a"/>
<g class="tm"><rect x="343.2" y="2039" width="7.3" height="14.7" fill="#f230f2"/><rect x="350.5" y="2039" width="7.5" height="14.7" fill="#b230f2"/><rect x="343.2" y="2053.7" width="7.3" height="11.4" fill="#f23041"/><rect x="350.5" y="2053.7" width="7.5" height="11.4" fill="#30f291"/></g>
<use href="#qU60" transform="translate(343.2 2039)scale(0.073 0.147)"/><use href="#qU61" transform="translate(350.5 2039)scale(0.075 0.147)"/><use href="#qU60" transform="translate(343.2 2053.7)scale(0.073 0.114)"/><use href="#qU61" transform="translate(350.5 2053.7)scale(0.075 0.114)"/>
<g class="tm"><rect x="76.6" y="2057.7" width="125.2" height="211.4" fill="#ff4e33"/><rect x="76.6" y="2039" width="74.7" height="18.7" fill="#eb482f"/><rect x="151.3" y="2039" width="23.1" height="18.7" fill="#e6462e"/><rect x="174.4" y="2039" width="19.2" height="18.7" fill="#e0452d"/><rect x="193.7" y="2039" width="8.2" height="18.7" fill="#bf3b26"/><rect x="201.8" y="2073.2" width="74.5" height="109.2" fill="#fab732"/><rect x="201.8" y="2039" width="59.3" height="34.2" fill="#f0b030"/><rect x="261.2" y="2039" width="15.2" height="13" fill="#d99f2b"/><rect x="261.2" y="2052" width="15.2" height="21.2" fill="#dba12c"/><rect x="201.8" y="2182.5" width="131.2" height="86.7" fill="#fc7d32"/><rect x="333.1" y="2182.5" width="24.9" height="15.5" fill="#d1672a"/><rect x="333.1" y="2197.9" width="24.9" height="13.9" fill="#d96b2b"/><rect x="333.1" y="2211.8" width="24.9" height="19.6" fill="#e6712e"/><rect x="333.1" y="2231.4" width="24.9" height="37.8" fill="#eb742f"/><rect x="276.3" y="2069.2" width="44.3" height="68.5" fill="#ec30f2"/><rect x="276.3" y="2065.9" width="44.3" height="3.3" fill="#ae24b2"/><rect x="320.7" y="2066.4" width="37.3" height="71.2" fill="#f23061"/><rect x="276.3" y="2137.6" width="79.1" height="44.8" fill="#32fabe"/><rect x="355.4" y="2137.6" width="2.6" height="44.8" fill="#1f9974"/><rect x="276.3" y="2039" width="17.9" height="26.1" fill="#2eb8e6"/><rect x="294.3" y="2039" width="15.5" height="26.1" fill="#29a3cc"/><rect x="309.7" y="2039" width="15.8" height="26.1" fill="#33e02d"/><rect x="325.6" y="2039" width="17.6" height="10.1" fill="#28c777"/><rect x="325.6" y="2049.1" width="17.6" height="16" fill="#2ac3d1"/></g>
<rect x="385.3" y="2039" width="280.7" height="231" fill="#3a3a3a"/>
<g class="tm"><rect x="385.3" y="2039" width="73.4" height="71" fill="#30f2ab"/><rect x="385.3" y="2110" width="73.4" height="77.2" fill="#f230b8"/><rect x="385.3" y="2187.2" width="73.4" height="82.8" fill="#30f28b"/><rect x="458.7" y="2039" width="64.7" height="52" fill="#f23061"/><rect x="458.7" y="2091" width="64.7" height="52.3" fill="#f23030"/><rect x="458.7" y="2143.3" width="64.7" height="57" fill="#81f230"/><rect x="458.7" y="2200.3" width="75.2" height="69.7" fill="#30f298"/><rect x="533.9" y="2200.3" width="67.7" height="69.7" fill="#ec30f2"/><rect x="601.7" y="2200.3" width="64.3" height="69.7" fill="#f28130"/><rect x="523.4" y="2039" width="41.4" height="32.5" fill="#3061f2"/><rect x="523.4" y="2071.5" width="41.4" height="39" fill="#d830f2"/><rect x="523.4" y="2110.5" width="41.4" height="46.8" fill="#f2d830"/><rect x="523.4" y="2157.3" width="49.1" height="43" fill="#30f2cb"/><rect x="572.4" y="2157.3" width="48.2" height="43" fill="#f26b30"/><rect x="620.7" y="2157.3" width="45.3" height="43" fill="#61f230"/><rect x="564.8" y="2039" width="31.7" height="25.2" fill="#f25130"/><rect x="564.8" y="2064.2" width="31.7" height="27.1" fill="#b8f230"/><rect x="564.8" y="2091.3" width="31.7" height="32.2" fill="#5730f2"/><rect x="564.8" y="2123.5" width="36.4" height="33.8" fill="#e2f230"/><rect x="601.2" y="2123.5" width="34.3" height="33.8" fill="#30b8f2"/><rect x="635.5" y="2123.5" width="30.5" height="33.8" fill="#c230f2"/><rect x="596.5" y="2039" width="21.4" height="26.3" fill="#306bf2"/><rect x="596.5" y="2065.3" width="21.4" height="27.3" fill="#8130f2"/><rect x="596.5" y="2092.6" width="25.2" height="30.9" fill="#98f230"/><rect x="621.7" y="2092.6" width="24.7" height="30.9" fill="#f230d8"/><rect x="646.3" y="2092.6" width="19.7" height="30.9" fill="#30d8f2"/><rect x="617.9" y="2039" width="17.1" height="17.1" fill="#f2c230"/><rect x="617.9" y="2056.1" width="17.1" height="19.5" fill="#30f237"/><rect x="617.9" y="2075.6" width="26.8" height="17.1" fill="#f28b30"/><rect x="644.7" y="2075.6" width="21.3" height="17.1" fill="#30f24a"/><rect x="635" y="2049.1" width="11.9" height="11.9" fill="#f230b2"/><rect x="646.8" y="2051.2" width="10.1" height="9.7" fill="#b230f2"/><rect x="635" y="2060.9" width="17.4" height="14.6" fill="#3081f2"/><rect x="652.4" y="2060.9" width="13.6" height="14.6" fill="#d8f230"/><rect x="635" y="2039" width="11.9" height="10.1" fill="#f2c230"/><rect x="646.8" y="2039" width="8.8" height="6.2" fill="#30b2f2"/><rect x="655.6" y="2039" width="10.4" height="4.9" fill="#f29830"/><rect x="646.8" y="2045.2" width="8.8" height="6" fill="#51f230"/><rect x="656.9" y="2051.2" width="9.1" height="9.7" fill="#6130f2"/></g>
<use href="#qU11" transform="translate(385.3 2039)scale(0.734 0.710)"/><use href="#qU11" transform="translate(385.3 2110)scale(0.734 0.772)"/><use href="#qU10" transform="translate(385.3 2187.2)scale(0.734 0.828)"/><use href="#qU21" transform="translate(458.7 2039)scale(0.647 0.520)"/><use href="#qU21" transform="translate(458.7 2091)scale(0.647 0.523)"/><use href="#qU20" transform="translate(458.7 2143.3)scale(0.647 0.570)"/><use href="#qU11" transform="translate(458.7 2200.3)scale(0.752 0.697)"/><use href="#qU21" transform="translate(533.9 2200.3)scale(0.677 0.697)"/><use href="#qU21" transform="translate(601.7 2200.3)scale(0.643 0.697)"/><use href="#qU30" transform="translate(523.4 2039)scale(0.414 0.325)"/><use href="#qU31" transform="translate(523.4 2071.5)scale(0.414 0.390)"/><use href="#qU30" transform="translate(523.4 2110.5)scale(0.414 0.468)"/><use href="#qU31" transform="translate(523.4 2157.3)scale(0.491 0.430)"/><use href="#qU31" transform="translate(572.4 2157.3)scale(0.482 0.430)"/><use href="#qU30" transform="translate(620.7 2157.3)scale(0.453 0.430)"/><use href="#qU40" transform="translate(564.8 2039)scale(0.317 0.252)"/><use href="#qU41" transform="translate(564.8 2064.2)scale(0.317 0.271)"/><use href="#qU40" transform="translate(564.8 2091.3)scale(0.317 0.322)"/><use href="#qU41" transform="translate(564.8 2123.5)scale(0.364 0.338)"/><use href="#qU40" transform="translate(601.2 2123.5)scale(0.343 0.338)"/><use href="#qU41" transform="translate(635.5 2123.5)scale(0.305 0.338)"/><use href="#qU50" transform="translate(596.5 2039)scale(0.214 0.263)"/><use href="#qU51" transform="translate(596.5 2065.3)scale(0.214 0.273)"/><use href="#qU40" transform="translate(596.5 2092.6)scale(0.252 0.309)"/><use href="#qU41" transform="translate(621.7 2092.6)scale(0.247 0.309)"/><use href="#qU50" transform="translate(646.3 2092.6)scale(0.197 0.309)"/><use href="#qU51" transform="translate(617.9 2039)scale(0.171 0.171)"/><use href="#qU50" transform="translate(617.9 2056.1)scale(0.171 0.195)"/><use href="#qU51" transform="translate(617.9 2075.6)scale(0.268 0.171)"/><use href="#qU50" transform="translate(644.7 2075.6)scale(0.213 0.171)"/><use href="#qU61" transform="translate(635 2049.1)scale(0.119 0.119)"/><use href="#qU60" transform="translate(646.8 2051.2)scale(0.101 0.097)"/><use href="#qU61" transform="translate(635 2060.9)scale(0.174 0.146)"/><use href="#qU60" transform="translate(652.4 2060.9)scale(0.136 0.146)"/><use href="#qU61" transform="translate(635 2039)scale(0.119 0.101)"/><use href="#qU60" transform="translate(646.8 2039)scale(0.088 0.062)"/><use href="#qU61" transform="translate(655.6 2039)scale(0.104 0.049)"/><use href="#qU60" transform="translate(646.8 2045.2)scale(0.088 0.060)"/><use href="#qU60" transform="translate(656.9 2051.2)scale(0.091 0.097)"/>
<g class="tm"><rect x="385.3" y="2070.7" width="9.3" height="39.3" fill="#31f7af"/><rect x="458.7" y="2051.2" width="15.1" height="39.8" fill="#fa3264"/><rect x="458.7" y="2231.5" width="7.3" height="38.5" fill="#31f79b"/><rect x="533.9" y="2260.7" width="67.7" height="9.3" fill="#ec30f2"/><rect x="523.4" y="2175.5" width="7.6" height="24.9" fill="#31f7d0"/><rect x="620.7" y="2165.7" width="8.3" height="34.6" fill="#61f230"/><rect x="655.6" y="2043.9" width="10.4" height="7.3" fill="#80193c"/></g>
<rect x="692.6" y="2039" width="281.4" height="229.9" fill="#3a3a3a"/>
<g class="tm"><rect x="692.6" y="2039" width="92.6" height="68.1" fill="#f230b8"/><rect x="692.6" y="2107.1" width="92.6" height="71.7" fill="#30f28b"/><rect x="692.6" y="2178.9" width="92.6" height="90" fill="#30f298"/><rect x="785.2" y="2039" width="42.7" height="49.2" fill="#f23061"/><rect x="785.2" y="2088.2" width="42.7" height="61.6" fill="#30f2c2"/><rect x="785.2" y="2149.9" width="42.7" height="63.6" fill="#f28130"/><rect x="785.2" y="2213.4" width="71.2" height="55.4" fill="#30f2b2"/><rect x="856.5" y="2213.4" width="63.1" height="55.4" fill="#81f230"/><rect x="919.6" y="2213.4" width="54.4" height="55.4" fill="#f230f2"/><rect x="827.9" y="2039" width="34.6" height="44.8" fill="#5130f2"/><rect x="827.9" y="2083.8" width="34.6" height="46.5" fill="#e9f230"/><rect x="827.9" y="2130.3" width="34.6" height="46.9" fill="#3057f2"/><rect x="827.9" y="2177.2" width="49.7" height="36.2" fill="#f23730"/><rect x="877.7" y="2177.2" width="50" height="36.2" fill="#e230f2"/><rect x="927.7" y="2177.2" width="46.3" height="36.2" fill="#f230d8"/><rect x="862.5" y="2039" width="33.9" height="33.4" fill="#61f230"/><rect x="862.5" y="2072.4" width="33.9" height="34.2" fill="#c230f2"/><rect x="862.5" y="2106.7" width="33.9" height="34.7" fill="#f26b30"/><rect x="862.5" y="2141.4" width="39.6" height="35.9" fill="#30b8f2"/><rect x="902.1" y="2141.4" width="36.4" height="35.9" fill="#3078f2"/><rect x="938.5" y="2141.4" width="35.5" height="35.9" fill="#98f230"/><rect x="896.4" y="2039" width="32.1" height="22.5" fill="#a2f230"/><rect x="896.4" y="2061.5" width="32.1" height="25.1" fill="#f230ab"/><rect x="896.4" y="2086.6" width="32.1" height="28.2" fill="#f25130"/><rect x="896.4" y="2114.8" width="40.3" height="26.6" fill="#8b30f2"/><rect x="936.7" y="2114.8" width="37.3" height="26.6" fill="#f2d230"/><rect x="928.5" y="2039" width="15.6" height="16.3" fill="#f29130"/><rect x="928.5" y="2055.3" width="15.6" height="18.4" fill="#f2306b"/><rect x="928.5" y="2073.7" width="24.9" height="16.1" fill="#b230f2"/><rect x="928.5" y="2089.9" width="29" height="24.9" fill="#30d8f2"/><rect x="953.5" y="2073.7" width="20.5" height="16.1" fill="#30f241"/><rect x="957.5" y="2089.9" width="16.5" height="24.9" fill="#37f230"/><rect x="957.2" y="2039" width="7.7" height="10.1" fill="#f2ab30"/><rect x="964.9" y="2039" width="9.1" height="10.1" fill="#4130f2"/><rect x="944.2" y="2046.8" width="13" height="14.2" fill="#3081f2"/><rect x="957.2" y="2049.1" width="9.3" height="11.9" fill="#30b2f2"/><rect x="966.5" y="2049.1" width="7.5" height="11.9" fill="#f23091"/><rect x="944.2" y="2061" width="15.8" height="12.7" fill="#d8f230"/><rect x="960" y="2061" width="14" height="12.7" fill="#f2cb30"/></g>
<use href="#qG10" transform="translate(692.6 2039)scale(0.926 0.681)"/><use href="#qG00" transform="translate(692.6 2107.1)scale(0.926 0.717)"/><use href="#qG00" transform="translate(692.6 2178.9)scale(0.926 0.900)"/><use href="#qG20" transform="translate(785.2 2039)scale(0.427 0.492)"/><use href="#qG20" transform="translate(785.2 2088.2)scale(0.427 0.616)"/><use href="#qG20" transform="translate(785.2 2149.9)scale(0.427 0.636)"/><use href="#qG11" transform="translate(785.2 2213.4)scale(0.712 0.554)"/><use href="#qG10" transform="translate(856.5 2213.4)scale(0.631 0.554)"/><use href="#qG20" transform="translate(919.6 2213.4)scale(0.544 0.554)"/><use href="#qG21" transform="translate(827.9 2039)scale(0.346 0.448)"/><use href="#qG21" transform="translate(827.9 2083.8)scale(0.346 0.465)"/><use href="#qG20" transform="translate(827.9 2130.3)scale(0.346 0.469)"/><use href="#qG21" transform="translate(827.9 2177.2)scale(0.497 0.362)"/><use href="#qG20" transform="translate(877.7 2177.2)scale(0.500 0.362)"/><use href="#qG21" transform="translate(927.7 2177.2)scale(0.463 0.362)"/><use href="#qG30" transform="translate(862.5 2039)scale(0.339 0.334)"/><use href="#qG31" transform="translate(862.5 2072.4)scale(0.339 0.342)"/><use href="#qG30" transform="translate(862.5 2106.7)scale(0.339 0.347)"/><use href="#qG20" transform="translate(862.5 2141.4)scale(0.396 0.359)"/><use href="#qG20" transform="translate(902.1 2141.4)scale(0.364 0.359)"/><use href="#qG30" transform="translate(938.5 2141.4)scale(0.355 0.359)"/><use href="#qG31" transform="translate(896.4 2039)scale(0.321 0.225)"/><use href="#qG30" transform="translate(896.4 2061.5)scale(0.321 0.251)"/><use href="#qG31" transform="translate(896.4 2086.6)scale(0.321 0.282)"/><use href="#qG31" transform="translate(896.4 2114.8)scale(0.403 0.266)"/><use href="#qG30" transform="translate(936.7 2114.8)scale(0.373 0.266)"/><use href="#qG41" transform="translate(928.5 2039)scale(0.156 0.163)"/><use href="#qG40" transform="translate(928.5 2055.3)scale(0.156 0.184)"/><use href="#qG31" transform="translate(928.5 2073.7)scale(0.249 0.161)"/><use href="#qG30" transform="translate(928.5 2089.9)scale(0.290 0.249)"/><use href="#qG41" transform="translate(953.5 2073.7)scale(0.205 0.161)"/><use href="#qG30" transform="translate(957.5 2089.9)scale(0.165 0.249)"/><use href="#qG40" transform="translate(957.2 2039)scale(0.077 0.101)"/><use href="#qG41" transform="translate(964.9 2039)scale(0.091 0.101)"/><use href="#qG40" transform="translate(944.2 2046.8)scale(0.130 0.142)"/><use href="#qG41" transform="translate(957.2 2049.1)scale(0.093 0.119)"/><use href="#qG40" transform="translate(966.5 2049.1)scale(0.075 0.119)"/><use href="#qG41" transform="translate(944.2 2061)scale(0.158 0.127)"/><use href="#qG40" transform="translate(960 2061)scale(0.140 0.127)"/>
<g class="tm"><rect x="692.6" y="2054.5" width="8.5" height="52.7" fill="#eb2fb2"/><rect x="692.6" y="2114.8" width="15.5" height="64.1" fill="#30f28b"/><rect x="692.6" y="2193.1" width="11.4" height="75.8" fill="#32fa9d"/><rect x="785.2" y="2076.5" width="42.7" height="11.7" fill="#ed2f5f"/><rect x="785.2" y="2138.4" width="36.2" height="11.4" fill="#2febbc"/><rect x="856.5" y="2213.4" width="8.2" height="14.7" fill="#84f731"/><rect x="827.9" y="2073.2" width="34.6" height="10.6" fill="#5130f2"/><rect x="871.1" y="2133.6" width="25.3" height="7.8" fill="#e0632d"/><rect x="862.5" y="2141.4" width="16.8" height="35.9" fill="#30b8f2"/><rect x="902.1" y="2141.4" width="15.5" height="35.9" fill="#3078f2"/><rect x="896.4" y="2097.7" width="9" height="17.1" fill="#e64c2e"/><rect x="944.2" y="2039" width="13" height="7.8" fill="#29cc5f"/></g>
<rect x="76.6" y="2284.3" width="281.4" height="229.7" fill="#3a3a3a"/>
<g class="tm"></g>

<g class="tm"><rect x="76.6" y="2284.3" width="40.4" height="30" fill="#2de0b4"/><rect x="117.1" y="2284.3" width="21.2" height="30" fill="#209e7e"/><rect x="138.3" y="2284.3" width="16.1" height="15.8" fill="#209e7e"/><rect x="138.3" y="2300.1" width="16.1" height="14.2" fill="#26bf99"/><rect x="76.6" y="2314.3" width="40.4" height="31" fill="#2de0b4"/><rect x="117.1" y="2314.3" width="37.3" height="31" fill="#2bd9ad"/><rect x="76.6" y="2345.3" width="25.8" height="27.4" fill="#21a65f"/><rect x="76.6" y="2372.7" width="25.8" height="27.2" fill="#23ad63"/><rect x="102.4" y="2345.3" width="15.8" height="17.1" fill="#125933"/><rect x="118.2" y="2345.3" width="12.7" height="17.1" fill="#0e4729"/><rect x="130.9" y="2345.3" width="13.9" height="10.3" fill="#29cc75"/><rect x="130.9" y="2355.5" width="13.9" height="9.8" fill="#29cc75"/><rect x="144.8" y="2345.3" width="9.6" height="10.3" fill="#177342"/><rect x="144.8" y="2355.5" width="9.6" height="9.8" fill="#25b869"/><rect x="102.4" y="2362.4" width="15.8" height="18.4" fill="#136138"/><rect x="118.2" y="2362.4" width="12.7" height="18.4" fill="#0f4c2c"/><rect x="130.9" y="2365.3" width="12.6" height="15.5" fill="#0b3820"/><rect x="143.5" y="2365.3" width="10.9" height="15.5" fill="#30f28b"/><rect x="102.4" y="2380.8" width="35.9" height="19.1" fill="#209e5b"/><rect x="138.3" y="2380.8" width="16.1" height="19.1" fill="#156b3d"/><rect x="76.6" y="2399.9" width="44" height="29.3" fill="#2de081"/><rect x="120.6" y="2399.9" width="33.7" height="29.3" fill="#29cc75"/><rect x="76.6" y="2429.2" width="24.5" height="23.3" fill="#1c8c5e"/><rect x="76.6" y="2452.5" width="24.5" height="30.6" fill="#24b277"/><rect x="101.1" y="2429.2" width="14.3" height="15.6" fill="#0f4c33"/><rect x="101.1" y="2444.9" width="14.3" height="18.3" fill="#12593c"/><rect x="115.4" y="2429.2" width="15" height="21.7" fill="#2feb9c"/><rect x="130.4" y="2429.2" width="12.7" height="21.7" fill="#2bd991"/><rect x="143.1" y="2429.2" width="11.2" height="21.7" fill="#198055"/><rect x="115.4" y="2450.9" width="15" height="12.2" fill="#33ffaa"/><rect x="130.4" y="2450.9" width="24" height="12.2" fill="#2de096"/><rect x="101.1" y="2463.1" width="21.2" height="20.1" fill="#1c8c5e"/><rect x="122.3" y="2463.1" width="17.1" height="20.1" fill="#17734d"/><rect x="139.4" y="2463.1" width="15" height="20.1" fill="#136141"/><rect x="76.6" y="2483.2" width="49.4" height="30.8" fill="#32faa7"/><rect x="126" y="2483.2" width="28.4" height="30.8" fill="#28c785"/><rect x="154.4" y="2284.3" width="26.6" height="30" fill="#6e26bf"/><rect x="181" y="2284.3" width="23.3" height="4.9" fill="#7529cc"/><rect x="181" y="2289.2" width="23.3" height="25.1" fill="#581f99"/><rect x="154.4" y="2314.3" width="49.9" height="26.6" fill="#872feb"/><rect x="154.4" y="2340.9" width="16.8" height="22" fill="#196180"/><rect x="171.2" y="2340.9" width="16.3" height="22" fill="#185d7a"/><rect x="187.5" y="2340.9" width="16.8" height="7.3" fill="#1f7499"/><rect x="187.5" y="2348.2" width="16.8" height="14.7" fill="#124459"/><rect x="154.4" y="2362.9" width="29.8" height="38.3" fill="#2a9fd1"/><rect x="184.2" y="2362.9" width="20.1" height="38.3" fill="#2488b2"/><rect x="154.4" y="2401.2" width="39.6" height="19.6" fill="#b325b8"/><rect x="194" y="2401.2" width="10.3" height="19.6" fill="#901e94"/><rect x="154.4" y="2420.8" width="49.9" height="42.7" fill="#f833ff"/><rect x="154.4" y="2463.5" width="40.1" height="50.5" fill="#ff33c2"/><rect x="194.5" y="2463.5" width="17.8" height="16.5" fill="#591244"/><rect x="212.3" y="2463.5" width="13.5" height="16.5" fill="#e62eae"/><rect x="194.5" y="2479.9" width="31.3" height="34.1" fill="#d12a9f"/><rect x="225.8" y="2463.5" width="36.7" height="17.3" fill="#a67a21"/><rect x="225.8" y="2480.7" width="36.7" height="33.3" fill="#d99f2b"/><rect x="262.5" y="2463.5" width="15.5" height="13.5" fill="#402f0d"/><rect x="278" y="2463.5" width="13.9" height="13.5" fill="#ebac2f"/><rect x="262.5" y="2477" width="16.3" height="22.5" fill="#805e19"/><rect x="278.8" y="2477" width="13" height="22.5" fill="#6b4f15"/><rect x="262.5" y="2499.5" width="29.3" height="14.5" fill="#8c671c"/><rect x="291.8" y="2463.5" width="29.3" height="50.5" fill="#f7315c"/><rect x="321.2" y="2463.5" width="25.8" height="16.5" fill="#851b32"/><rect x="346.9" y="2463.5" width="11.1" height="16.5" fill="#991f39"/><rect x="321.2" y="2479.9" width="36.8" height="34.1" fill="#de2c53"/><rect x="204.3" y="2284.3" width="32.1" height="41.9" fill="#2feb5e"/><rect x="236.4" y="2284.3" width="12.7" height="10.9" fill="#2de05a"/><rect x="249.1" y="2284.3" width="8.2" height="10.9" fill="#209e3f"/><rect x="236.4" y="2295.2" width="10.6" height="17.9" fill="#0a3314"/><rect x="247" y="2295.2" width="10.3" height="17.9" fill="#33ff66"/><rect x="236.4" y="2313.2" width="20.9" height="13" fill="#146629"/><rect x="204.3" y="2326.2" width="44.8" height="42.7" fill="#335cff"/><rect x="249.1" y="2326.2" width="8.2" height="42.7" fill="#192e80"/><rect x="204.3" y="2368.9" width="40.8" height="43.4" fill="#eeff33"/><rect x="245" y="2368.9" width="12.2" height="8.6" fill="#a2ad23"/><rect x="245" y="2377.6" width="12.2" height="7.8" fill="#b2bf26"/><rect x="245" y="2385.4" width="12.2" height="26.9" fill="#646b15"/><rect x="204.3" y="2412.3" width="28" height="51.2" fill="#81f230"/><rect x="232.3" y="2412.3" width="11.9" height="13.4" fill="#84f731"/><rect x="244.2" y="2412.3" width="9.6" height="13.4" fill="#74d92b"/><rect x="253.8" y="2412.3" width="4.6" height="13.4" fill="#3d7317"/><rect x="232.3" y="2425.6" width="26.1" height="37.8" fill="#6dcc29"/><rect x="258.4" y="2412.3" width="28" height="51.2" fill="#ed6f2f"/><rect x="286.4" y="2412.3" width="11.4" height="21.5" fill="#592a12"/><rect x="297.8" y="2412.3" width="14.7" height="10.1" fill="#bf5926"/><rect x="297.8" y="2422.4" width="14.7" height="11.4" fill="#ff7733"/><rect x="286.4" y="2433.8" width="26.1" height="29.7" fill="#ba5725"/><rect x="312.5" y="2412.3" width="22" height="28" fill="#9e8920"/><rect x="334.5" y="2412.3" width="16.8" height="7.7" fill="#d1b52a"/><rect x="351.3" y="2412.3" width="6.7" height="7.7" fill="#806e19"/><rect x="334.5" y="2419.9" width="23.5" height="20.4" fill="#94801e"/><rect x="312.5" y="2440.3" width="45.5" height="23.1" fill="#ccb129"/><rect x="257.3" y="2372.7" width="34.2" height="39.6" fill="#eb2f9c"/><rect x="291.5" y="2372.7" width="21.5" height="39.6" fill="#c72885"/><rect x="313" y="2372.7" width="24.9" height="39.6" fill="#ab29cc"/><rect x="337.9" y="2372.7" width="20.1" height="39.6" fill="#9624b2"/><rect x="257.3" y="2322.1" width="21.8" height="6.5" fill="#4e2bd9"/><rect x="279.1" y="2322.1" width="8.3" height="6.5" fill="#321c8c"/><rect x="257.3" y="2328.6" width="30.2" height="44" fill="#532ee6"/><rect x="257.3" y="2284.3" width="19.1" height="20.7" fill="#8c381c"/><rect x="276.3" y="2284.3" width="11.1" height="20.7" fill="#4c1f0f"/><rect x="257.3" y="2305" width="30.2" height="17.1" fill="#993d1f"/><rect x="287.4" y="2284.3" width="25.1" height="26.7" fill="#2194a6"/><rect x="287.4" y="2311" width="15.3" height="19.2" fill="#367317"/><rect x="302.7" y="2311" width="9.8" height="11.1" fill="#3b8019"/><rect x="302.7" y="2322.1" width="9.8" height="8.2" fill="#4da621"/><rect x="287.4" y="2330.3" width="25.1" height="15" fill="#3b8019"/><rect x="287.4" y="2345.3" width="16.3" height="27.4" fill="#10523c"/><rect x="303.7" y="2345.3" width="10.9" height="15.6" fill="#21a67a"/><rect x="314.6" y="2345.3" width="8.5" height="15.6" fill="#1c8c67"/><rect x="303.7" y="2360.9" width="10.9" height="11.7" fill="#2bd99f"/><rect x="314.6" y="2360.9" width="8.5" height="11.7" fill="#24b283"/><rect x="323.1" y="2345.3" width="30.3" height="27.4" fill="#286ac7"/><rect x="353.4" y="2345.3" width="4.6" height="27.4" fill="#1f5299"/><rect x="312.5" y="2284.3" width="16.8" height="6" fill="#cc6d29"/><rect x="312.5" y="2290.3" width="16.8" height="11.4" fill="#401e0d"/><rect x="312.5" y="2301.7" width="16.8" height="21.2" fill="#246b15"/><rect x="329.3" y="2284.3" width="16.3" height="11.4" fill="#1b0a33"/><rect x="329.3" y="2295.7" width="13" height="12.6" fill="#3de62e"/><rect x="342.4" y="2295.7" width="3.3" height="12.6" fill="#228019"/><rect x="329.3" y="2308.3" width="15" height="14.7" fill="#f2cb30"/><rect x="345.6" y="2284.3" width="12.4" height="12.6" fill="#7a991f"/><rect x="345.6" y="2296.9" width="12.4" height="11.4" fill="#801944"/><rect x="344.3" y="2308.3" width="13.7" height="14.7" fill="#330d40"/><rect x="312.5" y="2323.8" width="19.6" height="21.5" fill="#8c1c1c"/><rect x="332.1" y="2323.8" width="5.9" height="21.5" fill="#e62e2e"/><rect x="337.9" y="2323.8" width="20.1" height="21.5" fill="#801980"/></g>
<rect x="385.3" y="2284.3" width="280.7" height="229.7" fill="#3a3a3a"/>
<g class="tm"><rect x="385.3" y="2284.3" width="78.3" height="47.4" fill="#f230b8"/><rect x="385.3" y="2331.7" width="78.3" height="84.8" fill="#30f2a2"/><rect x="385.3" y="2416.5" width="78.3" height="97.5" fill="#30f291"/><rect x="463.6" y="2284.3" width="43.4" height="56.4" fill="#f2d830"/><rect x="463.6" y="2340.7" width="43.4" height="62.2" fill="#f2b830"/><rect x="463.6" y="2402.9" width="43.4" height="62.1" fill="#f23730"/><rect x="463.6" y="2464.9" width="71.1" height="49.1" fill="#78f230"/><rect x="534.7" y="2464.9" width="69.4" height="49.1" fill="#f27830"/><rect x="604.1" y="2464.9" width="61.9" height="49.1" fill="#f23061"/><rect x="507" y="2284.3" width="42.2" height="45.8" fill="#e2f230"/><rect x="507" y="2330.1" width="42.2" height="46.8" fill="#30b8f2"/><rect x="507" y="2376.9" width="42.2" height="47.1" fill="#30f2cb"/><rect x="507" y="2424" width="55.7" height="40.9" fill="#98f230"/><rect x="562.7" y="2424" width="53.3" height="40.9" fill="#f26130"/><rect x="616" y="2424" width="50" height="40.9" fill="#f230e2"/><rect x="549.2" y="2284.3" width="34.3" height="29.2" fill="#f23091"/><rect x="549.2" y="2313.5" width="34.3" height="35.3" fill="#3081f2"/><rect x="549.2" y="2348.8" width="34.3" height="36.6" fill="#f25130"/><rect x="549.2" y="2385.3" width="45.5" height="38.7" fill="#30f2b2"/><rect x="594.7" y="2385.3" width="37.8" height="38.7" fill="#30f257"/><rect x="632.5" y="2385.3" width="33.5" height="38.7" fill="#6bf230"/><rect x="583.5" y="2284.3" width="22.3" height="32.8" fill="#3061f2"/><rect x="583.5" y="2317.1" width="22.3" height="36.1" fill="#e230f2"/><rect x="583.5" y="2353.2" width="29.6" height="32.2" fill="#5730f2"/><rect x="613" y="2353.2" width="27.6" height="32.2" fill="#f23071"/><rect x="640.7" y="2353.2" width="25.3" height="32.2" fill="#d230f2"/><rect x="605.7" y="2333.4" width="31.7" height="19.8" fill="#cb30f2"/><rect x="637.4" y="2333.4" width="28.6" height="19.8" fill="#8130f2"/><rect x="605.7" y="2284.3" width="19.2" height="49.1" fill="#30f230"/><rect x="624.9" y="2284.3" width="13.3" height="17.4" fill="#3071f2"/><rect x="624.9" y="2301.7" width="13.3" height="17.9" fill="#30b2f2"/><rect x="624.9" y="2319.6" width="21.1" height="13.8" fill="#f29130"/><rect x="646" y="2319.6" width="20" height="13.8" fill="#cbf230"/><rect x="638.2" y="2284.3" width="11.4" height="10.9" fill="#30e2f2"/><rect x="658.5" y="2284.3" width="7.5" height="8.8" fill="#4130f2"/><rect x="649.6" y="2293.1" width="8.9" height="14" fill="#41f230"/><rect x="658.5" y="2293.1" width="7.5" height="14" fill="#b230f2"/><rect x="638.2" y="2307" width="15.8" height="12.5" fill="#d8f230"/><rect x="654" y="2307" width="12" height="12.5" fill="#5130f2"/></g>
<use href="#qG10" transform="translate(385.3 2284.3)scale(0.783 0.474)"/><use href="#qU10" transform="translate(385.3 2331.7)scale(0.783 0.848)"/><use href="#qU11" transform="translate(385.3 2416.5)scale(0.783 0.975)"/><use href="#qG21" transform="translate(463.6 2284.3)scale(0.434 0.564)"/><use href="#qG21" transform="translate(463.6 2340.7)scale(0.434 0.622)"/><use href="#qG20" transform="translate(463.6 2402.9)scale(0.434 0.621)"/><use href="#qG10" transform="translate(463.6 2464.9)scale(0.711 0.491)"/><use href="#qG11" transform="translate(534.7 2464.9)scale(0.694 0.491)"/><use href="#qG11" transform="translate(604.1 2464.9)scale(0.619 0.491)"/><use href="#qG21" transform="translate(507 2284.3)scale(0.422 0.458)"/><use href="#qG21" transform="translate(507 2330.1)scale(0.422 0.468)"/><use href="#qG20" transform="translate(507 2376.9)scale(0.422 0.471)"/><use href="#qG20" transform="translate(507 2424)scale(0.557 0.409)"/><use href="#qG21" transform="translate(562.7 2424)scale(0.533 0.409)"/><use href="#qG20" transform="translate(616 2424)scale(0.500 0.409)"/><use href="#qG31" transform="translate(549.2 2284.3)scale(0.343 0.292)"/><use href="#qG30" transform="translate(549.2 2313.5)scale(0.343 0.353)"/><use href="#qG31" transform="translate(549.2 2348.8)scale(0.343 0.366)"/><use href="#qG20" transform="translate(549.2 2385.3)scale(0.455 0.387)"/><use href="#qG21" transform="translate(594.7 2385.3)scale(0.378 0.387)"/><use href="#qG30" transform="translate(632.5 2385.3)scale(0.335 0.387)"/><use href="#qG31" transform="translate(583.5 2284.3)scale(0.223 0.328)"/><use href="#qG30" transform="translate(583.5 2317.1)scale(0.223 0.361)"/><use href="#qG31" transform="translate(583.5 2353.2)scale(0.296 0.322)"/><use href="#qG30" transform="translate(613 2353.2)scale(0.276 0.322)"/><use href="#qG31" transform="translate(640.7 2353.2)scale(0.253 0.322)"/><use href="#qG30" transform="translate(605.7 2333.4)scale(0.317 0.198)"/><use href="#qG31" transform="translate(637.4 2333.4)scale(0.286 0.198)"/><use href="#qG30" transform="translate(605.7 2284.3)scale(0.192 0.491)"/><use href="#qG41" transform="translate(624.9 2284.3)scale(0.133 0.174)"/><use href="#qG40" transform="translate(624.9 2301.7)scale(0.133 0.179)"/><use href="#qG41" transform="translate(624.9 2319.6)scale(0.211 0.138)"/><use href="#qG40" transform="translate(646 2319.6)scale(0.200 0.138)"/><use href="#qG41" transform="translate(638.2 2284.3)scale(0.114 0.109)"/><use href="#qG41" transform="translate(658.5 2284.3)scale(0.075 0.088)"/><use href="#qG41" transform="translate(649.6 2293.1)scale(0.089 0.140)"/><use href="#qG40" transform="translate(658.5 2293.1)scale(0.075 0.140)"/><use href="#qG41" transform="translate(638.2 2307)scale(0.158 0.125)"/><use href="#qG40" transform="translate(654 2307)scale(0.120 0.125)"/>
<g class="tm"><rect x="385.3" y="2297.6" width="10.9" height="34.1" fill="#f230b8"/><rect x="385.3" y="2503.1" width="20.6" height="10.9" fill="#32fa96"/><rect x="463.6" y="2330.9" width="32.5" height="9.7" fill="#e6cd2e"/><rect x="463.6" y="2442.2" width="43.4" height="22.7" fill="#ed362f"/><rect x="534.7" y="2464.9" width="10.6" height="49.1" fill="#eb742f"/><rect x="604.1" y="2490.9" width="10.2" height="23.1" fill="#f73163"/><rect x="507" y="2319.6" width="21.1" height="10.6" fill="#e7f731"/><rect x="507" y="2415.4" width="23.2" height="8.6" fill="#30f2cb"/><rect x="649.6" y="2284.3" width="8.9" height="8.8" fill="#804919"/><rect x="638.2" y="2295.2" width="11.4" height="11.9" fill="#3d1466"/></g>
<rect x="692.6" y="2284.3" width="281.4" height="229.7" fill="#3a3a3a"/>
<g class="tm"></g>

<g class="tm"><rect x="692.6" y="2284.3" width="43.2" height="19.9" fill="#f731bc"/><rect x="692.6" y="2304.2" width="43.2" height="51.4" fill="#ff33c2"/><rect x="735.8" y="2284.3" width="16.3" height="10.4" fill="#991f74"/><rect x="752.1" y="2284.3" width="9.8" height="9.3" fill="#bf2691"/><rect x="761.9" y="2284.3" width="5.7" height="9.3" fill="#4c0f3a"/><rect x="767.6" y="2284.3" width="7.3" height="9.3" fill="#e62eae"/><rect x="735.8" y="2294.7" width="16.3" height="20.1" fill="#52103e"/><rect x="752.1" y="2293.6" width="9.8" height="10.6" fill="#d92ba5"/><rect x="761.9" y="2293.6" width="13" height="10.6" fill="#8c1c6b"/><rect x="752.1" y="2304.2" width="13" height="10.6" fill="#591244"/><rect x="765.2" y="2304.2" width="9.8" height="10.6" fill="#d92ba5"/><rect x="735.8" y="2314.8" width="21.2" height="17.9" fill="#7a185d"/><rect x="757" y="2314.8" width="17.9" height="17.9" fill="#61134a"/><rect x="735.8" y="2332.7" width="21.2" height="22.8" fill="#b8258c"/><rect x="757" y="2332.7" width="17.9" height="22.8" fill="#851b65"/><rect x="692.6" y="2355.5" width="19.9" height="25.3" fill="#23ad68"/><rect x="692.6" y="2380.8" width="19.9" height="26.9" fill="#26bf73"/><rect x="692.6" y="2407.7" width="19.9" height="26.6" fill="#2ad17d"/><rect x="712.5" y="2355.5" width="14.3" height="18.7" fill="#0f4c2e"/><rect x="712.5" y="2374.3" width="14.3" height="21.2" fill="#105231"/><rect x="712.5" y="2395.5" width="14.3" height="21.5" fill="#125936"/><rect x="726.9" y="2355.5" width="13.9" height="14.7" fill="#28c777"/><rect x="740.7" y="2355.5" width="8.2" height="25.3" fill="#2bd982"/><rect x="748.9" y="2355.5" width="8.2" height="7.3" fill="#14663d"/><rect x="757" y="2355.5" width="17.9" height="11.4" fill="#24b26b"/><rect x="748.9" y="2362.9" width="8.2" height="17.9" fill="#1f995c"/><rect x="757" y="2367" width="17.9" height="7.3" fill="#2bd982"/><rect x="757" y="2374.3" width="17.9" height="6.5" fill="#30f291"/><rect x="726.9" y="2370.2" width="13.9" height="16.3" fill="#28c777"/><rect x="740.7" y="2380.8" width="12.2" height="11.1" fill="#14663d"/><rect x="752.9" y="2380.8" width="11.1" height="11.1" fill="#0b3822"/><rect x="764" y="2380.8" width="10.9" height="11.1" fill="#2feb8d"/><rect x="726.9" y="2386.5" width="13.9" height="15.5" fill="#29cc7a"/><rect x="740.7" y="2391.9" width="17.4" height="10.1" fill="#21a663"/><rect x="758.2" y="2391.9" width="16.8" height="10.1" fill="#209e5f"/><rect x="726.9" y="2402" width="17.9" height="15" fill="#0d4026"/><rect x="744.8" y="2402" width="15.5" height="15" fill="#2bd982"/><rect x="760.3" y="2402" width="14.7" height="15" fill="#2bd982"/><rect x="712.5" y="2417" width="24.9" height="17.3" fill="#209e5f"/><rect x="737.5" y="2417" width="19.6" height="17.3" fill="#13613a"/><rect x="757" y="2417" width="17.9" height="17.3" fill="#125936"/><rect x="692.6" y="2434.3" width="26.4" height="19.9" fill="#26bf80"/><rect x="692.6" y="2454.2" width="26.4" height="21.2" fill="#2ad18b"/><rect x="692.6" y="2475.4" width="26.4" height="38.6" fill="#33ffaa"/><rect x="719" y="2434.3" width="18.1" height="15.3" fill="#0f4c33"/><rect x="719" y="2449.6" width="18.1" height="20.1" fill="#17734d"/><rect x="719" y="2469.7" width="18.1" height="20.4" fill="#198055"/><rect x="737.1" y="2434.3" width="9.8" height="18.3" fill="#21a66f"/><rect x="746.9" y="2434.3" width="7.3" height="21.5" fill="#30f2a2"/><rect x="754.3" y="2434.3" width="20.7" height="21.5" fill="#1f9966"/><rect x="737.1" y="2452.5" width="9.8" height="11.4" fill="#2bd991"/><rect x="746.9" y="2455.8" width="20.7" height="8.2" fill="#1f9966"/><rect x="767.6" y="2455.8" width="7.3" height="8.2" fill="#0f4c33"/><rect x="737.1" y="2464" width="12.9" height="10.6" fill="#17734d"/><rect x="750" y="2464" width="24.9" height="10.6" fill="#12593c"/><rect x="737.1" y="2474.5" width="15" height="15.5" fill="#2bd991"/><rect x="752.1" y="2474.5" width="13" height="15.5" fill="#28c785"/><rect x="765.2" y="2474.5" width="9.8" height="15.5" fill="#198055"/><rect x="719" y="2490" width="21.2" height="24" fill="#24b277"/><rect x="740.2" y="2490" width="17.9" height="24" fill="#1f9966"/><rect x="758.2" y="2490" width="16.8" height="24" fill="#198055"/><rect x="775" y="2284.3" width="21.7" height="19.6" fill="#47991f"/><rect x="775" y="2303.9" width="21.2" height="30.5" fill="#6fed2f"/><rect x="796.6" y="2284.3" width="13.7" height="13.7" fill="#56b825"/><rect x="810.3" y="2284.3" width="13.5" height="10.1" fill="#367317"/><rect x="823.9" y="2284.3" width="14.7" height="12.6" fill="#5fcc29"/><rect x="796.1" y="2298" width="14.2" height="18.9" fill="#1e400d"/><rect x="810.3" y="2294.4" width="13.5" height="10.6" fill="#326b15"/><rect x="823.9" y="2296.9" width="14.7" height="8.2" fill="#2a5912"/><rect x="810.3" y="2305" width="14" height="11.9" fill="#418c1c"/><rect x="824.3" y="2305" width="14.2" height="11.9" fill="#3e851b"/><rect x="796.1" y="2316.9" width="22.8" height="17.4" fill="#3e851b"/><rect x="819" y="2316.9" width="19.6" height="17.4" fill="#367317"/><rect x="775" y="2334.4" width="36.2" height="25.6" fill="#f77a31"/><rect x="775" y="2359.9" width="36.2" height="26.6" fill="#ff7e33"/><rect x="811.1" y="2334.4" width="12.7" height="16.3" fill="#cc6529"/><rect x="823.9" y="2334.4" width="14.7" height="7.7" fill="#803f19"/><rect x="823.9" y="2342" width="14.7" height="8.6" fill="#4c260f"/><rect x="811.1" y="2350.7" width="14.8" height="17.1" fill="#f77a31"/><rect x="826" y="2350.7" width="12.6" height="17.1" fill="#d96b2b"/><rect x="811.1" y="2367.8" width="13.9" height="18.7" fill="#401f0d"/><rect x="825" y="2367.8" width="13.5" height="18.7" fill="#ff7e33"/><rect x="775" y="2386.5" width="25.3" height="20.1" fill="#b88725"/><rect x="775" y="2406.6" width="25.3" height="21" fill="#cc9629"/><rect x="775" y="2427.6" width="25.3" height="22.5" fill="#dea32c"/><rect x="800.2" y="2386.5" width="18.3" height="11.4" fill="#b88725"/><rect x="818.5" y="2386.5" width="8.6" height="11.4" fill="#b28324"/><rect x="827.1" y="2386.5" width="11.4" height="11.4" fill="#4c380f"/><rect x="832" y="2387.3" width="6.5" height="6.5" fill="#f7b531"/><rect x="800.2" y="2397.9" width="17.9" height="13" fill="#dea32c"/><rect x="818.2" y="2397.9" width="10.6" height="13" fill="#614713"/><rect x="828.8" y="2397.9" width="9.8" height="13" fill="#4c380f"/><rect x="800.2" y="2411" width="21.5" height="15.8" fill="#6b4f15"/><rect x="821.7" y="2411" width="16.8" height="15.8" fill="#33250a"/><rect x="800.2" y="2426.8" width="20.9" height="23.3" fill="#a67a21"/><rect x="821.1" y="2426.8" width="17.4" height="23.3" fill="#946c1e"/><rect x="775" y="2450.1" width="27.4" height="19.6" fill="#cc2e29"/><rect x="775" y="2469.7" width="27.4" height="20.4" fill="#d9312b"/><rect x="775" y="2490" width="27.4" height="24" fill="#ed362f"/><rect x="802.3" y="2450.1" width="14.7" height="15.5" fill="#eb352f"/><rect x="817" y="2450.1" width="12.2" height="8.2" fill="#d9312b"/><rect x="829.2" y="2450.1" width="13" height="5.7" fill="#b22824"/><rect x="817" y="2458.2" width="12.2" height="9.8" fill="#ed362f"/><rect x="829.2" y="2455.8" width="13" height="12.2" fill="#99231f"/><rect x="802.3" y="2465.6" width="14.7" height="16.3" fill="#f23730"/><rect x="817" y="2468" width="16.6" height="13.9" fill="#d9312b"/><rect x="833.6" y="2468" width="8.6" height="13.9" fill="#ff3a33"/><rect x="802.3" y="2481.9" width="21.2" height="15" fill="#611613"/><rect x="823.5" y="2481.9" width="18.7" height="15" fill="#47100e"/><rect x="802.3" y="2496.9" width="20.4" height="17.1" fill="#7a1c18"/><rect x="822.7" y="2496.9" width="19.6" height="17.1" fill="#661714"/><rect x="842.3" y="2450.1" width="24.8" height="20.4" fill="#28c792"/><rect x="842.3" y="2470.5" width="24.8" height="21.2" fill="#29cc96"/><rect x="842.3" y="2491.7" width="24.8" height="22.3" fill="#2de0a5"/><rect x="867.1" y="2450.1" width="13" height="11.7" fill="#19805d"/><rect x="880.1" y="2450.1" width="9.5" height="11.7" fill="#2febac"/><rect x="889.6" y="2450.1" width="8.5" height="11.7" fill="#2bd99f"/><rect x="898" y="2450.1" width="11.1" height="11.7" fill="#14664b"/><rect x="867.1" y="2461.8" width="13" height="15.2" fill="#21a67a"/><rect x="880.1" y="2461.8" width="9.8" height="15.2" fill="#125941"/><rect x="889.9" y="2461.8" width="19.2" height="7.8" fill="#177354"/><rect x="889.9" y="2469.7" width="10.3" height="7.3" fill="#24b283"/><rect x="900.2" y="2469.7" width="9" height="7.3" fill="#19805d"/><rect x="867.1" y="2477" width="15" height="18.3" fill="#0e4734"/><rect x="882.1" y="2477" width="14.3" height="18.3" fill="#33ffbb"/><rect x="896.4" y="2477" width="12.7" height="18.3" fill="#2ee6a8"/><rect x="867.1" y="2495.3" width="24.5" height="18.7" fill="#21a67a"/><rect x="891.5" y="2495.3" width="17.6" height="18.7" fill="#14664b"/><rect x="909.1" y="2450.1" width="27.7" height="19.6" fill="#2ad154"/><rect x="909.1" y="2469.7" width="27.7" height="22" fill="#2bd957"/><rect x="909.1" y="2491.7" width="27.7" height="22.3" fill="#2ee65c"/><rect x="936.8" y="2450.1" width="13" height="10.6" fill="#125924"/><rect x="949.9" y="2450.1" width="10.1" height="10.6" fill="#2bd957"/><rect x="960" y="2450.1" width="14" height="5.7" fill="#30f261"/><rect x="960" y="2455.8" width="14" height="6.5" fill="#125924"/><rect x="936.8" y="2460.7" width="13" height="10.6" fill="#198033"/><rect x="949.9" y="2460.7" width="10.4" height="11.4" fill="#33ff66"/><rect x="960.3" y="2462.3" width="13.7" height="9.8" fill="#1c8c38"/><rect x="936.8" y="2471.3" width="13.4" height="10.6" fill="#17732e"/><rect x="950.2" y="2472.1" width="23.8" height="9.8" fill="#0d4019"/><rect x="936.8" y="2481.9" width="14.2" height="16" fill="#2de05a"/><rect x="951" y="2481.9" width="11.9" height="16" fill="#209e3f"/><rect x="962.9" y="2481.9" width="11.1" height="16" fill="#198033"/><rect x="936.8" y="2497.9" width="23.1" height="16.1" fill="#17732e"/><rect x="960" y="2497.9" width="14" height="16.1" fill="#2feb5e"/><rect x="838.5" y="2408.5" width="24.9" height="17.1" fill="#209e7e"/><rect x="838.5" y="2425.6" width="24.9" height="24.5" fill="#2ee6b8"/><rect x="863.5" y="2408.5" width="19.6" height="20.4" fill="#1e9476"/><rect x="883" y="2408.5" width="10.1" height="19.6" fill="#25b893"/><rect x="893.1" y="2408.5" width="9.8" height="19.6" fill="#17735c"/><rect x="902.9" y="2408.5" width="8.2" height="19.6" fill="#2febbc"/><rect x="863.5" y="2428.9" width="19.6" height="21.2" fill="#1e9476"/><rect x="883" y="2428.1" width="15.8" height="22" fill="#156b56"/><rect x="898.8" y="2428.1" width="12.2" height="22" fill="#0a3329"/><rect x="911.1" y="2408.5" width="20.9" height="14.7" fill="#334c0f"/><rect x="911.1" y="2423.2" width="20.9" height="26.9" fill="#91d92b"/><rect x="931.9" y="2408.5" width="12.6" height="18.7" fill="#a5f731"/><rect x="944.5" y="2408.5" width="12.6" height="9" fill="#a2f230"/><rect x="944.5" y="2417.5" width="12.6" height="9.8" fill="#aaff33"/><rect x="957" y="2408.5" width="17" height="9" fill="#558019"/><rect x="957" y="2417.5" width="10.3" height="9.8" fill="#80bf26"/><rect x="967.3" y="2417.5" width="6.7" height="9.8" fill="#4d7317"/><rect x="931.9" y="2427.3" width="12.6" height="22.8" fill="#2b400d"/><rect x="944.5" y="2427.3" width="16.3" height="10.6" fill="#63941e"/><rect x="960.8" y="2427.3" width="13.2" height="10.6" fill="#446614"/><rect x="944.5" y="2437.9" width="15.5" height="12.2" fill="#6fa621"/><rect x="960" y="2437.9" width="14" height="12.2" fill="#66991f"/><rect x="838.5" y="2284.3" width="28.2" height="17.4" fill="#245fb2"/><rect x="838.5" y="2301.7" width="28.2" height="21.7" fill="#2e7ae6"/><rect x="866.7" y="2284.3" width="13.9" height="9.8" fill="#245fb2"/><rect x="866.7" y="2294.1" width="13.9" height="29.3" fill="#1c4b8c"/><rect x="838.5" y="2323.4" width="37.5" height="20.2" fill="#ed2f5f"/><rect x="838.5" y="2343.6" width="37.5" height="20.4" fill="#f23061"/><rect x="876" y="2323.4" width="4.6" height="40.6" fill="#bf264c"/><rect x="838.5" y="2364" width="21.2" height="21.4" fill="#94209e"/><rect x="859.7" y="2364" width="11.9" height="7.8" fill="#6b1773"/><rect x="871.6" y="2364" width="9" height="7.8" fill="#d62ee6"/><rect x="859.7" y="2371.8" width="11.4" height="13.5" fill="#64156b"/><rect x="871.1" y="2371.8" width="9.5" height="13.5" fill="#3b0d40"/><rect x="838.5" y="2385.4" width="20.4" height="23.1" fill="#a724b2"/><rect x="858.9" y="2385.4" width="21.7" height="23.1" fill="#a223ad"/><rect x="880.6" y="2284.3" width="8.5" height="8.5" fill="#1c708c"/><rect x="889.1" y="2284.3" width="9" height="10.9" fill="#30c2f2"/><rect x="898" y="2284.3" width="7.3" height="10.9" fill="#196680"/><rect x="880.6" y="2292.8" width="8.5" height="9.8" fill="#207e9e"/><rect x="889.1" y="2295.2" width="16.3" height="7.3" fill="#15566b"/><rect x="880.6" y="2302.6" width="15.8" height="10.6" fill="#196680"/><rect x="896.4" y="2302.6" width="9" height="10.6" fill="#2185a6"/><rect x="905.4" y="2284.3" width="12.2" height="6" fill="#193880"/><rect x="917.6" y="2284.3" width="10.9" height="6" fill="#0f224c"/><rect x="905.4" y="2290.3" width="12.2" height="6.5" fill="#244fb2"/><rect x="917.6" y="2290.3" width="10.9" height="6.5" fill="#2551b8"/><rect x="905.4" y="2296.9" width="23.1" height="16.3" fill="#173273"/><rect x="880.6" y="2314" width="24.8" height="29.3" fill="#dd31f7"/><rect x="905.4" y="2314" width="9.8" height="12.2" fill="#4c0f29"/><rect x="915.2" y="2314" width="13.4" height="12.2" fill="#d12a70"/><rect x="905.4" y="2326.2" width="11.4" height="17.1" fill="#c7286a"/><rect x="916.8" y="2326.2" width="11.7" height="17.1" fill="#a62158"/><rect x="928.5" y="2284.3" width="11.4" height="7.7" fill="#c72842"/><rect x="939.9" y="2284.3" width="10.3" height="6.8" fill="#f23051"/><rect x="928.5" y="2292" width="11.4" height="9.8" fill="#d92b48"/><rect x="939.9" y="2291.2" width="10.3" height="10.6" fill="#59121e"/><rect x="950.2" y="2284.3" width="13.9" height="7.7" fill="#b1cc29"/><rect x="964.1" y="2284.3" width="9.9" height="7.7" fill="#8130f2"/><rect x="950.2" y="2292" width="13.9" height="14.7" fill="#198019"/><rect x="964.1" y="2292" width="9.9" height="14.7" fill="#803319"/><rect x="928.5" y="2322.1" width="15.6" height="9" fill="#592412"/><rect x="928.5" y="2331.1" width="15.6" height="12.2" fill="#ad4523"/><rect x="928.5" y="2302.2" width="21.7" height="8.2" fill="#0d1940"/><rect x="928.5" y="2310.4" width="21.7" height="10.9" fill="#1f3d99"/><rect x="950.2" y="2307.1" width="17.1" height="14.2" fill="#ffe433"/><rect x="967.3" y="2307.1" width="6.7" height="14.2" fill="#b29f24"/><rect x="944.2" y="2322.1" width="9.6" height="9.8" fill="#c75828"/><rect x="944.2" y="2331.9" width="9.6" height="11.4" fill="#eb672f"/><rect x="953.8" y="2322.1" width="20.2" height="21.2" fill="#8c1c8c"/><rect x="880.6" y="2343.6" width="16.6" height="13" fill="#cad92b"/><rect x="880.6" y="2356.7" width="17.1" height="20.5" fill="#646b15"/><rect x="897.2" y="2343.6" width="7.3" height="13" fill="#778019"/><rect x="904.6" y="2343.6" width="16" height="13" fill="#8f991f"/><rect x="897.7" y="2356.7" width="22.8" height="7" fill="#535912"/><rect x="897.7" y="2363.7" width="22.8" height="13.5" fill="#c3d12a"/><rect x="920.5" y="2343.6" width="18.3" height="9.5" fill="#2f8c1c"/><rect x="938.8" y="2343.6" width="11.4" height="9.5" fill="#3bb224"/><rect x="920.5" y="2353.1" width="18.3" height="9.8" fill="#359e20"/><rect x="938.8" y="2353.1" width="11.4" height="9.8" fill="#51f230"/><rect x="920.5" y="2362.9" width="15.8" height="14.3" fill="#51f230"/><rect x="936.3" y="2362.9" width="13.9" height="14.3" fill="#3db825"/><rect x="950.2" y="2343.6" width="8.2" height="12.7" fill="#4c0f24"/><rect x="958.4" y="2343.6" width="15.6" height="16" fill="#991f47"/><rect x="950.2" y="2356.4" width="8.2" height="9.8" fill="#991f47"/><rect x="958.4" y="2359.6" width="15.6" height="6.5" fill="#d92b65"/><rect x="950.2" y="2366.1" width="23.8" height="11.1" fill="#4c0f24"/><rect x="880.6" y="2377.6" width="20.7" height="11.1" fill="#5931f7"/><rect x="901.3" y="2377.6" width="13.4" height="8.2" fill="#4e2bd9"/><rect x="914.7" y="2377.6" width="14.3" height="8.2" fill="#251466"/><rect x="880.6" y="2388.6" width="20.7" height="19.9" fill="#2e1980"/><rect x="901.3" y="2385.7" width="13.9" height="10.6" fill="#27156b"/><rect x="915.2" y="2385.7" width="13.9" height="10.6" fill="#39209e"/><rect x="901.3" y="2396.3" width="15" height="12.2" fill="#39209e"/><rect x="916.3" y="2396.3" width="12.7" height="12.2" fill="#301b85"/><rect x="929" y="2377.6" width="25.8" height="13" fill="#73174c"/><rect x="929" y="2390.6" width="25.8" height="17.9" fill="#b22477"/><rect x="954.8" y="2377.6" width="19.2" height="6.5" fill="#661444"/><rect x="954.8" y="2384.1" width="9.3" height="12.2" fill="#f731a5"/><rect x="964.1" y="2384.1" width="9.9" height="12.2" fill="#b22477"/><rect x="954.8" y="2396.3" width="19.2" height="12.2" fill="#e62e99"/></g>
</svg>
</body></html>
